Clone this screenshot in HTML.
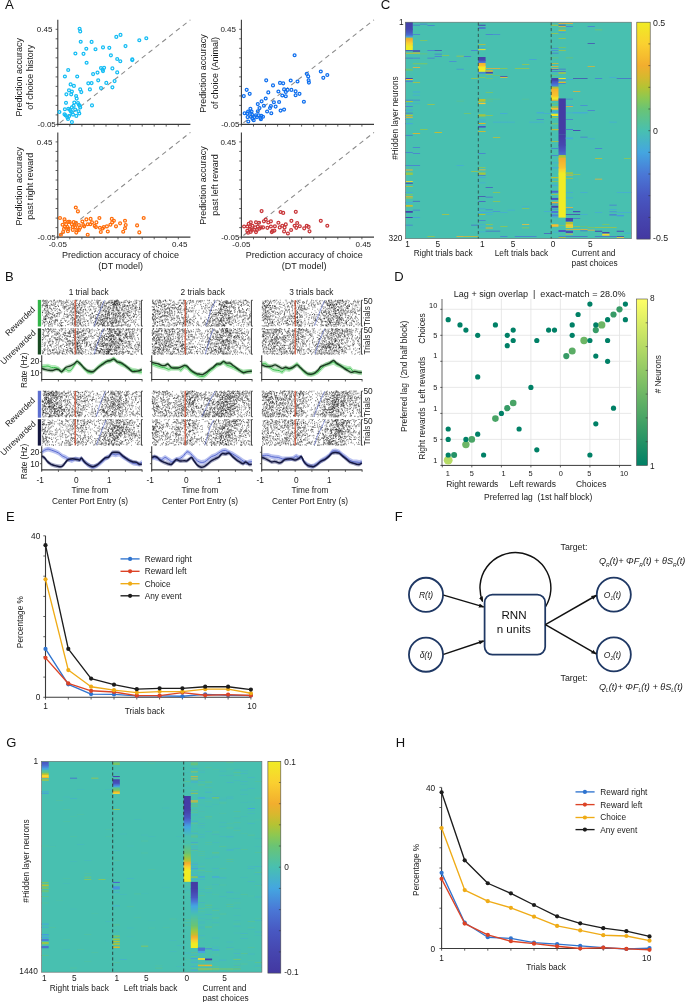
<!DOCTYPE html>
<html><head><meta charset="utf-8"><title>Figure</title>
<style>
html,body{margin:0;padding:0;background:#fff;}
svg{display:block;will-change:transform;font-family:"Liberation Sans",sans-serif;}
text{stroke:#1a1a1a;stroke-width:0;}
</style></head><body>
<svg width="685" height="1002" viewBox="0 0 685 1002">
<rect width="685" height="1002" fill="#fff"/>
<text x="4.9" y="9.3" font-size="13.2" text-anchor="start" fill="#111" stroke-width="0.3">A</text>
<line x1="59.8" y1="122.8" x2="190.4" y2="19.8" stroke="#8a8a8a" stroke-width="1.05" stroke-dasharray="4.8 3.9"/>
<line x1="57.8" y1="19.8" x2="57.8" y2="124.9" stroke="#3a3a3a" stroke-width="1.1"/>
<line x1="57.3" y1="124.4" x2="190.4" y2="124.4" stroke="#3a3a3a" stroke-width="1.1"/>
<path d="M57.8 124.4h-2.2M57.8 114.9h-2.2M57.8 105.4h-2.2M57.8 95.9h-2.2M57.8 86.4h-2.2M57.8 76.9h-2.2M57.8 67.3h-2.2M57.8 57.8h-2.2M57.8 48.3h-2.2M57.8 38.8h-2.2M57.8 29.3h-2.2M57.8 124.4v2.2M69.8 124.4v2.2M81.9 124.4v2.2M94 124.4v2.2M106 124.4v2.2M118 124.4v2.2M130.1 124.4v2.2M142.2 124.4v2.2M154.2 124.4v2.2M166.2 124.4v2.2M178.3 124.4v2.2" stroke="#3a3a3a" stroke-width="0.8" fill="none"/>
<text x="52.4" y="32.2" font-size="8.0" text-anchor="end" fill="#1a1a1a" stroke-width="0.3">0.45</text>
<text x="55.8" y="127.1" font-size="8.0" text-anchor="end" fill="#1a1a1a" stroke-width="0.3">-0.05</text>
<line x1="243.4" y1="122.8" x2="374" y2="19.8" stroke="#8a8a8a" stroke-width="1.05" stroke-dasharray="4.8 3.9"/>
<line x1="241.4" y1="19.8" x2="241.4" y2="124.9" stroke="#3a3a3a" stroke-width="1.1"/>
<line x1="240.9" y1="124.4" x2="374" y2="124.4" stroke="#3a3a3a" stroke-width="1.1"/>
<path d="M241.4 124.4h-2.2M241.4 114.9h-2.2M241.4 105.4h-2.2M241.4 95.9h-2.2M241.4 86.4h-2.2M241.4 76.9h-2.2M241.4 67.3h-2.2M241.4 57.8h-2.2M241.4 48.3h-2.2M241.4 38.8h-2.2M241.4 29.3h-2.2M241.4 124.4v2.2M253.5 124.4v2.2M265.5 124.4v2.2M277.6 124.4v2.2M289.6 124.4v2.2M301.6 124.4v2.2M313.7 124.4v2.2M325.8 124.4v2.2M337.8 124.4v2.2M349.9 124.4v2.2M361.9 124.4v2.2" stroke="#3a3a3a" stroke-width="0.8" fill="none"/>
<text x="236" y="32.2" font-size="8.0" text-anchor="end" fill="#1a1a1a" stroke-width="0.3">0.45</text>
<text x="239.4" y="127.1" font-size="8.0" text-anchor="end" fill="#1a1a1a" stroke-width="0.3">-0.05</text>
<line x1="59.8" y1="235.5" x2="190.4" y2="132.4" stroke="#8a8a8a" stroke-width="1.05" stroke-dasharray="4.8 3.9"/>
<line x1="57.8" y1="132.4" x2="57.8" y2="237.6" stroke="#3a3a3a" stroke-width="1.1"/>
<line x1="57.3" y1="237.1" x2="190.4" y2="237.1" stroke="#3a3a3a" stroke-width="1.1"/>
<path d="M57.8 237.1h-2.2M57.8 227.6h-2.2M57.8 218.1h-2.2M57.8 208.5h-2.2M57.8 199h-2.2M57.8 189.5h-2.2M57.8 180h-2.2M57.8 170.5h-2.2M57.8 161h-2.2M57.8 151.4h-2.2M57.8 141.9h-2.2M57.8 237.1v2.2M69.8 237.1v2.2M81.9 237.1v2.2M94 237.1v2.2M106 237.1v2.2M118 237.1v2.2M130.1 237.1v2.2M142.2 237.1v2.2M154.2 237.1v2.2M166.2 237.1v2.2M178.3 237.1v2.2" stroke="#3a3a3a" stroke-width="0.8" fill="none"/>
<text x="52.4" y="144.8" font-size="8.0" text-anchor="end" fill="#1a1a1a" stroke-width="0.3">0.45</text>
<text x="55.8" y="239.8" font-size="8.0" text-anchor="end" fill="#1a1a1a" stroke-width="0.3">-0.05</text>
<text x="57.8" y="247" font-size="8.0" text-anchor="middle" fill="#1a1a1a" stroke-width="0.3">-0.05</text>
<text x="179.7" y="247" font-size="8.0" text-anchor="middle" fill="#1a1a1a" stroke-width="0.3">0.45</text>
<text x="120.6" y="258.3" font-size="9" text-anchor="middle" fill="#1a1a1a" stroke-width="0.3">Prediction accuracy of choice</text>
<text x="120.6" y="268.6" font-size="9" text-anchor="middle" fill="#1a1a1a" stroke-width="0.3">(DT model)</text>
<line x1="243.4" y1="235.5" x2="374" y2="132.4" stroke="#8a8a8a" stroke-width="1.05" stroke-dasharray="4.8 3.9"/>
<line x1="241.4" y1="132.4" x2="241.4" y2="237.6" stroke="#3a3a3a" stroke-width="1.1"/>
<line x1="240.9" y1="237.1" x2="374" y2="237.1" stroke="#3a3a3a" stroke-width="1.1"/>
<path d="M241.4 237.1h-2.2M241.4 227.6h-2.2M241.4 218.1h-2.2M241.4 208.5h-2.2M241.4 199h-2.2M241.4 189.5h-2.2M241.4 180h-2.2M241.4 170.5h-2.2M241.4 161h-2.2M241.4 151.4h-2.2M241.4 141.9h-2.2M241.4 237.1v2.2M253.5 237.1v2.2M265.5 237.1v2.2M277.6 237.1v2.2M289.6 237.1v2.2M301.6 237.1v2.2M313.7 237.1v2.2M325.8 237.1v2.2M337.8 237.1v2.2M349.9 237.1v2.2M361.9 237.1v2.2" stroke="#3a3a3a" stroke-width="0.8" fill="none"/>
<text x="236" y="144.8" font-size="8.0" text-anchor="end" fill="#1a1a1a" stroke-width="0.3">0.45</text>
<text x="239.4" y="239.8" font-size="8.0" text-anchor="end" fill="#1a1a1a" stroke-width="0.3">-0.05</text>
<text x="241.4" y="247" font-size="8.0" text-anchor="middle" fill="#1a1a1a" stroke-width="0.3">-0.05</text>
<text x="363.3" y="247" font-size="8.0" text-anchor="middle" fill="#1a1a1a" stroke-width="0.3">0.45</text>
<text x="304.2" y="258.3" font-size="9" text-anchor="middle" fill="#1a1a1a" stroke-width="0.3">Prediction accuracy of choice</text>
<text x="304.2" y="268.6" font-size="9" text-anchor="middle" fill="#1a1a1a" stroke-width="0.3">(DT model)</text>
<text x="21.7" y="77.3" font-size="9" text-anchor="middle" fill="#1a1a1a" transform="rotate(-90 21.7 77.3)" stroke-width="0.3">Prediction accuracy</text>
<text x="33.4" y="77.3" font-size="9" text-anchor="middle" fill="#1a1a1a" transform="rotate(-90 33.4 77.3)" stroke-width="0.3">of choice history</text>
<text x="21.7" y="186.2" font-size="9" text-anchor="middle" fill="#1a1a1a" transform="rotate(-90 21.7 186.2)" stroke-width="0.3">Prediction accuracy</text>
<text x="33.4" y="186.2" font-size="9" text-anchor="middle" fill="#1a1a1a" transform="rotate(-90 33.4 186.2)" stroke-width="0.3">past right reward</text>
<text x="206.1" y="73.5" font-size="9" text-anchor="middle" fill="#1a1a1a" transform="rotate(-90 206.1 73.5)" stroke-width="0.3">Prediction accuracy</text>
<text x="217.7" y="73" font-size="9" text-anchor="middle" fill="#1a1a1a" transform="rotate(-90 217.7 73)" stroke-width="0.3">of choice (Animal)</text>
<text x="206.1" y="185.4" font-size="9" text-anchor="middle" fill="#1a1a1a" transform="rotate(-90 206.1 185.4)" stroke-width="0.3">Prediction accuracy</text>
<text x="217.7" y="185" font-size="9" text-anchor="middle" fill="#1a1a1a" transform="rotate(-90 217.7 185)" stroke-width="0.3">past left reward</text>
<g fill="none" stroke="#14bdf4" stroke-width="1.25"><circle cx="79.6" cy="28.8" r="1.45"/><circle cx="80.2" cy="31.4" r="1.45"/><circle cx="80.7" cy="41.7" r="1.45"/><circle cx="91.6" cy="41.9" r="1.45"/><circle cx="120.5" cy="34.9" r="1.45"/><circle cx="116.3" cy="36.9" r="1.45"/><circle cx="146.3" cy="38.2" r="1.45"/><circle cx="139.3" cy="40.2" r="1.45"/><circle cx="125.5" cy="46.1" r="1.45"/><circle cx="109.3" cy="47.8" r="1.45"/><circle cx="103" cy="47.4" r="1.45"/><circle cx="95.5" cy="49.2" r="1.45"/><circle cx="86.3" cy="48.7" r="1.45"/><circle cx="83.5" cy="53.8" r="1.45"/><circle cx="75.4" cy="53.5" r="1.45"/><circle cx="110.9" cy="55.3" r="1.45"/><circle cx="117.2" cy="59" r="1.45"/><circle cx="120.3" cy="61.2" r="1.45"/><circle cx="132.3" cy="59.4" r="1.45"/><circle cx="132.3" cy="60.1" r="1.45"/><circle cx="86.6" cy="62.7" r="1.45"/><circle cx="101" cy="68" r="1.45"/><circle cx="104.1" cy="67.8" r="1.45"/><circle cx="102.6" cy="69.7" r="1.45"/><circle cx="103" cy="71.1" r="1.45"/><circle cx="112.4" cy="68.4" r="1.45"/><circle cx="117.2" cy="72.4" r="1.45"/><circle cx="97.5" cy="72.6" r="1.45"/><circle cx="93.1" cy="74.1" r="1.45"/><circle cx="68.2" cy="70" r="1.45"/><circle cx="64.9" cy="76.5" r="1.45"/><circle cx="77.2" cy="76.5" r="1.45"/><circle cx="98.2" cy="80.3" r="1.45"/><circle cx="114.6" cy="81.1" r="1.45"/><circle cx="106.3" cy="82.9" r="1.45"/><circle cx="91.6" cy="83.1" r="1.45"/><circle cx="88.3" cy="83.3" r="1.45"/><circle cx="70.6" cy="84.4" r="1.45"/><circle cx="73.9" cy="85.9" r="1.45"/><circle cx="112.4" cy="87.3" r="1.45"/><circle cx="101" cy="88.1" r="1.45"/><circle cx="89.9" cy="89.4" r="1.45"/><circle cx="80.2" cy="89.4" r="1.45"/><circle cx="81.3" cy="92.1" r="1.45"/><circle cx="69" cy="90.3" r="1.45"/><circle cx="71.9" cy="91.6" r="1.45"/><circle cx="66.4" cy="94.3" r="1.45"/><circle cx="71.2" cy="94.3" r="1.45"/><circle cx="76.1" cy="96" r="1.45"/><circle cx="76.7" cy="98.6" r="1.45"/><circle cx="66" cy="102.8" r="1.45"/><circle cx="74.3" cy="102.6" r="1.45"/><circle cx="78" cy="103" r="1.45"/><circle cx="78.9" cy="104.8" r="1.45"/><circle cx="79.8" cy="105.7" r="1.45"/><circle cx="92" cy="105.4" r="1.45"/><circle cx="80.2" cy="107.4" r="1.45"/><circle cx="73.6" cy="105.9" r="1.45"/><circle cx="71.9" cy="107.4" r="1.45"/><circle cx="64.9" cy="109.2" r="1.45"/><circle cx="68.4" cy="108.7" r="1.45"/><circle cx="69.9" cy="109.8" r="1.45"/><circle cx="75.2" cy="109.6" r="1.45"/><circle cx="59.4" cy="112" r="1.45"/><circle cx="70.8" cy="111.3" r="1.45"/><circle cx="71.9" cy="112.2" r="1.45"/><circle cx="78.5" cy="111.3" r="1.45"/><circle cx="79.3" cy="113.5" r="1.45"/><circle cx="64.5" cy="114.2" r="1.45"/><circle cx="65.5" cy="115.3" r="1.45"/><circle cx="73" cy="114.6" r="1.45"/><circle cx="69.3" cy="115.9" r="1.45"/><circle cx="76.3" cy="115.9" r="1.45"/><circle cx="67.3" cy="117.3" r="1.45"/><circle cx="68" cy="119" r="1.45"/><circle cx="71.9" cy="122.1" r="1.45"/></g>
<g fill="none" stroke="#ff6d0a" stroke-width="1.25"><circle cx="75.8" cy="207.5" r="1.45"/><circle cx="77.9" cy="211.4" r="1.45"/><circle cx="60" cy="218" r="1.45"/><circle cx="143.7" cy="218" r="1.45"/><circle cx="99.4" cy="218" r="1.45"/><circle cx="90.6" cy="218.9" r="1.45"/><circle cx="86.4" cy="219.4" r="1.45"/><circle cx="111.8" cy="218.9" r="1.45"/><circle cx="113.9" cy="220.7" r="1.45"/><circle cx="125" cy="220.7" r="1.45"/><circle cx="82.4" cy="221.5" r="1.45"/><circle cx="64.5" cy="219.4" r="1.45"/><circle cx="64.9" cy="221.5" r="1.45"/><circle cx="68.4" cy="221.9" r="1.45"/><circle cx="69.6" cy="221.9" r="1.45"/><circle cx="73.7" cy="222.1" r="1.45"/><circle cx="75.9" cy="222.8" r="1.45"/><circle cx="92" cy="222.4" r="1.45"/><circle cx="96.4" cy="222.4" r="1.45"/><circle cx="112.2" cy="222.4" r="1.45"/><circle cx="120.1" cy="223.3" r="1.45"/><circle cx="62.6" cy="224.7" r="1.45"/><circle cx="66.1" cy="224.3" r="1.45"/><circle cx="71.9" cy="224.3" r="1.45"/><circle cx="74.5" cy="225" r="1.45"/><circle cx="78.9" cy="225" r="1.45"/><circle cx="83.3" cy="225" r="1.45"/><circle cx="87.7" cy="224.2" r="1.45"/><circle cx="90.3" cy="224.2" r="1.45"/><circle cx="110.4" cy="224.7" r="1.45"/><circle cx="125.7" cy="225" r="1.45"/><circle cx="137.1" cy="225.4" r="1.45"/><circle cx="94.7" cy="225.9" r="1.45"/><circle cx="95.9" cy="227.1" r="1.45"/><circle cx="116" cy="226.3" r="1.45"/><circle cx="103.8" cy="227.1" r="1.45"/><circle cx="106.9" cy="226.4" r="1.45"/><circle cx="64.9" cy="226.8" r="1.45"/><circle cx="67.5" cy="227.1" r="1.45"/><circle cx="72.8" cy="227.1" r="1.45"/><circle cx="75.4" cy="227.1" r="1.45"/><circle cx="80.1" cy="227.7" r="1.45"/><circle cx="84.2" cy="226.3" r="1.45"/><circle cx="99.9" cy="227.7" r="1.45"/><circle cx="102.6" cy="228.5" r="1.45"/><circle cx="125" cy="228.2" r="1.45"/><circle cx="64" cy="228.9" r="1.45"/><circle cx="68.4" cy="228.9" r="1.45"/><circle cx="72.8" cy="229.9" r="1.45"/><circle cx="77.2" cy="230.3" r="1.45"/><circle cx="78.9" cy="229.9" r="1.45"/><circle cx="63.1" cy="232" r="1.45"/><circle cx="67.9" cy="231.2" r="1.45"/><circle cx="100.8" cy="232" r="1.45"/><circle cx="107.8" cy="231.5" r="1.45"/><circle cx="123.2" cy="231.7" r="1.45"/><circle cx="139.3" cy="232.4" r="1.45"/><circle cx="76.3" cy="232.6" r="1.45"/><circle cx="60.9" cy="234.7" r="1.45"/><circle cx="87.7" cy="234.7" r="1.45"/></g>
<g fill="none" stroke="#0f6fee" stroke-width="1.25"><circle cx="294.6" cy="55.2" r="1.45"/><circle cx="320.8" cy="71.5" r="1.45"/><circle cx="327.3" cy="75" r="1.45"/><circle cx="323.3" cy="77.8" r="1.45"/><circle cx="306.8" cy="73.8" r="1.45"/><circle cx="308.2" cy="76.4" r="1.45"/><circle cx="308.6" cy="80.3" r="1.45"/><circle cx="308.9" cy="82.6" r="1.45"/><circle cx="266.2" cy="80.3" r="1.45"/><circle cx="290.7" cy="80.5" r="1.45"/><circle cx="297.5" cy="81.5" r="1.45"/><circle cx="280" cy="82.9" r="1.45"/><circle cx="283.2" cy="83.3" r="1.45"/><circle cx="273" cy="85.4" r="1.45"/><circle cx="246.7" cy="89.8" r="1.45"/><circle cx="284.1" cy="89.4" r="1.45"/><circle cx="287.6" cy="89.9" r="1.45"/><circle cx="291.4" cy="89.9" r="1.45"/><circle cx="268.3" cy="92.4" r="1.45"/><circle cx="278.4" cy="91.5" r="1.45"/><circle cx="285.8" cy="92" r="1.45"/><circle cx="295.6" cy="91.3" r="1.45"/><circle cx="249.7" cy="93.8" r="1.45"/><circle cx="299.5" cy="93.8" r="1.45"/><circle cx="243.8" cy="96.1" r="1.45"/><circle cx="282.3" cy="95.5" r="1.45"/><circle cx="285.8" cy="96.2" r="1.45"/><circle cx="295.6" cy="95.2" r="1.45"/><circle cx="265.7" cy="98.5" r="1.45"/><circle cx="261.6" cy="101.3" r="1.45"/><circle cx="273.9" cy="102.2" r="1.45"/><circle cx="279.1" cy="102" r="1.45"/><circle cx="303.9" cy="101.7" r="1.45"/><circle cx="257.8" cy="104.1" r="1.45"/><circle cx="263.9" cy="105.7" r="1.45"/><circle cx="270.9" cy="106" r="1.45"/><circle cx="275.6" cy="106.6" r="1.45"/><circle cx="259.5" cy="108" r="1.45"/><circle cx="270" cy="108" r="1.45"/><circle cx="250.4" cy="108.7" r="1.45"/><circle cx="284.1" cy="109.6" r="1.45"/><circle cx="280.6" cy="110.6" r="1.45"/><circle cx="257.8" cy="111.3" r="1.45"/><circle cx="267.1" cy="111.5" r="1.45"/><circle cx="248.1" cy="111.5" r="1.45"/><circle cx="251.6" cy="111.5" r="1.45"/><circle cx="244.6" cy="113.2" r="1.45"/><circle cx="247.3" cy="113.6" r="1.45"/><circle cx="249.9" cy="112.7" r="1.45"/><circle cx="271.3" cy="113.2" r="1.45"/><circle cx="252.5" cy="115" r="1.45"/><circle cx="256" cy="115.3" r="1.45"/><circle cx="258.7" cy="115.3" r="1.45"/><circle cx="261.3" cy="115.7" r="1.45"/><circle cx="263" cy="116.7" r="1.45"/><circle cx="247.6" cy="117.1" r="1.45"/><circle cx="250.8" cy="116.7" r="1.45"/><circle cx="254.3" cy="117.1" r="1.45"/><circle cx="256.9" cy="117.1" r="1.45"/><circle cx="260.4" cy="118" r="1.45"/><circle cx="252.5" cy="118.8" r="1.45"/><circle cx="260.9" cy="119.2" r="1.45"/><circle cx="253.7" cy="120.2" r="1.45"/><circle cx="248.3" cy="121.5" r="1.45"/></g>
<g fill="none" stroke="#c8373a" stroke-width="1.25"><circle cx="261.6" cy="211.1" r="1.45"/><circle cx="280.6" cy="212" r="1.45"/><circle cx="283.2" cy="212.9" r="1.45"/><circle cx="295.8" cy="211.8" r="1.45"/><circle cx="320.8" cy="220.8" r="1.45"/><circle cx="327.3" cy="225.7" r="1.45"/><circle cx="265.7" cy="219.5" r="1.45"/><circle cx="263.9" cy="221.3" r="1.45"/><circle cx="270.9" cy="221.3" r="1.45"/><circle cx="291.4" cy="220.8" r="1.45"/><circle cx="256" cy="222.2" r="1.45"/><circle cx="259" cy="222.7" r="1.45"/><circle cx="250.8" cy="222.2" r="1.45"/><circle cx="248.7" cy="223.9" r="1.45"/><circle cx="268.3" cy="222.5" r="1.45"/><circle cx="278.4" cy="222.7" r="1.45"/><circle cx="285.8" cy="224.4" r="1.45"/><circle cx="297.2" cy="223" r="1.45"/><circle cx="244.1" cy="226.5" r="1.45"/><circle cx="247.3" cy="226.5" r="1.45"/><circle cx="249.9" cy="226.2" r="1.45"/><circle cx="252.5" cy="225.7" r="1.45"/><circle cx="255.1" cy="227.4" r="1.45"/><circle cx="257.8" cy="226.5" r="1.45"/><circle cx="260.9" cy="227.4" r="1.45"/><circle cx="263" cy="227.4" r="1.45"/><circle cx="267.4" cy="227.8" r="1.45"/><circle cx="270.9" cy="226.5" r="1.45"/><circle cx="274.9" cy="226.2" r="1.45"/><circle cx="279.7" cy="227.4" r="1.45"/><circle cx="282.3" cy="225.7" r="1.45"/><circle cx="284.6" cy="227.4" r="1.45"/><circle cx="294.6" cy="225.7" r="1.45"/><circle cx="296.3" cy="227.8" r="1.45"/><circle cx="299.8" cy="226.2" r="1.45"/><circle cx="304.2" cy="228.3" r="1.45"/><circle cx="306.8" cy="225.7" r="1.45"/><circle cx="308.6" cy="226.9" r="1.45"/><circle cx="249.9" cy="229.2" r="1.45"/><circle cx="251.6" cy="230" r="1.45"/><circle cx="247.3" cy="230.9" r="1.45"/><circle cx="254.3" cy="229.7" r="1.45"/><circle cx="256.9" cy="230" r="1.45"/><circle cx="259.5" cy="228.6" r="1.45"/><circle cx="272.7" cy="230.9" r="1.45"/><circle cx="274.4" cy="230.6" r="1.45"/><circle cx="291.1" cy="230" r="1.45"/><circle cx="309.5" cy="231.3" r="1.45"/><circle cx="248.1" cy="232.7" r="1.45"/><circle cx="250.8" cy="231.8" r="1.45"/><circle cx="256" cy="232.1" r="1.45"/><circle cx="284.1" cy="231.4" r="1.45"/><circle cx="287.9" cy="233.5" r="1.45"/><circle cx="271.8" cy="232.1" r="1.45"/></g>
<text x="5" y="280.8" font-size="13" text-anchor="start" fill="#111" stroke-width="0.2">B</text>
<text x="88.7" y="294.9" font-size="8.3" text-anchor="middle" fill="#1a1a1a" stroke-width="0.2">1 trial back</text>
<path transform="translate(41.7 299.9)" d="M1 .3h.8m-.5 0h.8m2.6 0h.8m6.4 0h.8m-.6 0h.8m-.7 0h.8m4.6 0h.8m6.1 0h.8m-.6 0h.8m1.2 0h.8m5.5 0h.8m0 0h.8m-.5 0h.8m.8 0h.8m1.9 0h.8m5.6 0h.8m4.2 0h.8m1.8 0h.8m1.7 0h.8m-.1 0h.8m2.1 0h.8m9.6 0h.8m1.1 0h.8m2.5 0h.8m-.1 0h.8m-.2 0h.8m-.7 0h.8m8.3 0h.8m7.5 0h.8m.9 0h.8M.7 .8h.8m1.4 0h.8m-.3 0h.8m.9 0h.8m2.7 0h.8m2.4 0h.8m2.5 0h.8m1.2 0h.8m.9 0h.8m-.5 0h.8m11 0h.8m2.9 0h.8m3.2 0h.8m2.3 0h.8m.8 0h.8m-.3 0h.8m5.5 0h.8m3.1 0h.8m2 0h.8m-.8 0h.8m-.2 0h.8m9.4 0h.8m.7 0h.8m.1 0h.8m1.5 0h.8m1.4 0h.8m1.2 0h.8m5.6 0h.8m0 0h.8m2.7 0h.8m6.9 0h.8m1.2 0h.8M.2 1.3h.8m1.1 0h.8m-.4 0h.8m.6 0h.8m2.9 0h.8m.8 0h.8m-.4 0h.8m6.6 0h.8m.2 0h.8m2.6 0h.8m3.4 0h.8m1.9 0h.8m5.3 0h.8m2.4 0h.8m-.3 0h.8m7.6 0h.8m-.2 0h.8m15.2 0h.8m2.6 0h.8m.6 0h.8m3.8 0h.8m0 0h.8m-.6 0h.8m-.6 0h.8m0 0h.8m.3 0h.8m-.4 0h.8m5.2 0h.8m2.9 0h.8m6.6 0h.8m.2 0h.8M1.1 1.9h.8m1.9 0h.8m1.2 0h.8m5.1 0h.8m1.4 0h.8m.7 0h.8m1.6 0h.8m1.1 0h.8m.1 0h.8m1.5 0h.8m.9 0h.8m4.6 0h.8m9.6 0h.8m.6 0h.8m.8 0h.8m4.9 0h.8m4.5 0h.8m.4 0h.8m-.4 0h.8m4.1 0h.8m8.2 0h.8m1.4 0h.8m-.2 0h.8m-.6 0h.8m-.4 0h.8m.6 0h.8m-.8 0h.8m-.8 0h.8m.7 0h.8m.7 0h.8m6.8 0h.8m1.9 0h.8m.2 0h.8m-.6 0h.8m1.7 0h.8m4.9 0h.8m-.1 0h.8M3.7 2.4h.8m.1 0h.8m.7 0h.8m-.5 0h.8m2.6 0h.8m3.3 0h.8m9.6 0h.8m.3 0h.8m6.3 0h.8m.4 0h.8m4.8 0h.8m2 0h.8m1.2 0h.8m3.3 0h.8m6.9 0h.8m-.6 0h.8m2.6 0h.8m1.3 0h.8m.4 0h.8m1.4 0h.8m.6 0h.8m-.7 0h.8m0 0h.8m-.7 0h.8m1.3 0h.8m-.1 0h.8m-.6 0h.8m.7 0h.8m-.1 0h.8m5.7 0h.8m-.5 0h.8m.8 0h.8m-.7 0h.8m.8 0h.8m-.8 0h.8m.2 0h.8m2.1 0h.8m-.2 0h.8m-.7 0h.8m-.7 0h.8m6.5 0h.8M1.9 2.9h.8m10.3 0h.8m2.8 0h.8m1.7 0h.8m1.7 0h.8m.9 0h.8m-.6 0h.8m2.3 0h.8m2.2 0h.8m-.6 0h.8m6.8 0h.8m1.5 0h.8m-.1 0h.8m3.3 0h.8m.9 0h.8m4.7 0h.8m1.5 0h.8m.6 0h.8m2.4 0h.8m-.3 0h.8m1.7 0h.8m3 0h.8m2 0h.8m.6 0h.8m-.2 0h.8m.7 0h.8m.5 0h.8m-.7 0h.8m1 0h.8m.3 0h.8m-.3 0h.8m0 0h.8m-.3 0h.8m1.1 0h.8m6.1 0h.8m6.5 0h.8m-.1 0h.8M1.3 3.5h.8m.2 0h.8m0 0h.8m.9 0h.8m5.7 0h.8m1 0h.8m5.7 0h.8m-.4 0h.8m1.4 0h.8m12.2 0h.8m1.5 0h.8m3.3 0h.8m2.9 0h.8m3.2 0h.8m5.2 0h.8m6.8 0h.8m.4 0h.8m-.2 0h.8m-.7 0h.8m.4 0h.8m2.8 0h.8m1.8 0h.8m-.7 0h.8m1.3 0h.8m-.4 0h.8m-.3 0h.8m10.4 0h.8m3.8 0h.8m.5 0h.8m.5 0h.8m-.1 0h.8M3.9 4h.8m.9 0h.8m2.5 0h.8m18.5 0h.8m1.7 0h.8m-.2 0h.8m-.7 0h.8m.9 0h.8m.5 0h.8m2.1 0h.8m-.3 0h.8m1.8 0h.8m2.9 0h.8m2.4 0h.8m2.5 0h.8m4.4 0h.8m0 0h.8m1.3 0h.8m.2 0h.8m.2 0h.8m.7 0h.8m5 0h.8m3 0h.8m-.7 0h.8m-.7 0h.8m-.8 0h.8m1.2 0h.8m.2 0h.8m-.5 0h.8m1.6 0h.8m-.6 0h.8m2.9 0h.8m5.1 0h.8m9.4 0h.8m-.5 0h.8M.8 4.5h.8m8 0h.8m-.6 0h.8m.5 0h.8m.8 0h.8m-.2 0h.8m5 0h.8m1.2 0h.8m2.3 0h.8m4.5 0h.8m.2 0h.8m5 0h.8m-.7 0h.8m4.3 0h.8m0 0h.8m-.4 0h.8m9.4 0h.8m1.9 0h.8m1.9 0h.8m1.4 0h.8m3 0h.8m5.4 0h.8m-.3 0h.8m-.7 0h.8m.2 0h.8m-.6 0h.8m.5 0h.8m-.8 0h.8m-.6 0h.8m1 0h.8m.3 0h.8m-.3 0h.8m-.8 0h.8m-.5 0h.8m4 0h.8m7.2 0h.8m1.7 0h.8M.6 5.1h.8m.2 0h.8m.8 0h.8m.2 0h.8m-.1 0h.8m-.5 0h.8m3.2 0h.8m5.8 0h.8m8.2 0h.8m2.3 0h.8m2.6 0h.8m7.4 0h.8m2.9 0h.8m4.2 0h.8m.5 0h.8m7.7 0h.8m2.6 0h.8m-.1 0h.8m4.1 0h.8m2.8 0h.8m-.3 0h.8m-.6 0h.8m1.2 0h.8m-.7 0h.8m1.2 0h.8m1.2 0h.8m2 0h.8m-.2 0h.8m1.6 0h.8m3.9 0h.8m1.2 0h.8m-.1 0h.8m5.7 0h.8M0 5.6h.8m1 0h.8m1.6 0h.8m0 0h.8m-.7 0h.8m1.1 0h.8m2.4 0h.8m.7 0h.8m3.4 0h.8m2.3 0h.8m1 0h.8m4.3 0h.8m1.3 0h.8m4.5 0h.8m.4 0h.8m.8 0h.8m.4 0h.8m-.3 0h.8m18.1 0h.8m5.1 0h.8m.2 0h.8m-.5 0h.8m3.8 0h.8m0 0h.8m1.7 0h.8m-.3 0h.8m.7 0h.8m.2 0h.8m.6 0h.8m1.3 0h.8m3.4 0h.8m.7 0h.8m.5 0h.8m-.4 0h.8m.6 0h.8m.1 0h.8m2.9 0h.8M.4 6.1h.8m1.1 0h.8m.4 0h.8m.4 0h.8m1.8 0h.8m.3 0h.8m3.2 0h.8m8.5 0h.8m1.3 0h.8m1.5 0h.8m3.7 0h.8m.4 0h.8m-.2 0h.8m1.5 0h.8m-.7 0h.8m4.2 0h.8m.2 0h.8m.6 0h.8m6.7 0h.8m6.4 0h.8m.9 0h.8m-.8 0h.8m2.9 0h.8m11.4 0h.8m6.5 0h.8m.4 0h.8m1.3 0h.8m-.3 0h.8m4.3 0h.8m-.5 0h.8m1.6 0h.8m0 0h.8m2.9 0h.8M3.6 6.6h.8m.8 0h.8m7.2 0h.8m-.6 0h.8m.3 0h.8m1.1 0h.8m-.7 0h.8m4.8 0h.8m.7 0h.8m.3 0h.8m7.2 0h.8m-.6 0h.8m3.4 0h.8m5.1 0h.8m3.6 0h.8m.7 0h.8m1.1 0h.8m1.2 0h.8m2.3 0h.8m4.2 0h.8m1.3 0h.8m.7 0h.8m1 0h.8m.6 0h.8m3 0h.8m.1 0h.8m3.8 0h.8m2.7 0h.8m.3 0h.8m.1 0h.8m-.6 0h.8m1.4 0h.8m1.1 0h.8m4.2 0h.8M.1 7.2h.8m2.9 0h.8m.7 0h.8m14.2 0h.8m.9 0h.8m-.8 0h.8m-.2 0h.8m.5 0h.8m3.4 0h.8m0 0h.8m7.4 0h.8m7.9 0h.8m.6 0h.8m3.2 0h.8m5.5 0h.8m1.9 0h.8m-.5 0h.8m2.4 0h.8m1.2 0h.8m4 0h.8m0 0h.8m-.3 0h.8m1.1 0h.8m-.2 0h.8m-.4 0h.8m-.7 0h.8m2.6 0h.8m2.6 0h.8m2.3 0h.8m3.5 0h.8m.5 0h.8m2.3 0h.8m.4 0h.8m1.9 0h.8M4.9 7.7h.8m-.2 0h.8m1.4 0h.8m14.5 0h.8m4 0h.8m2.3 0h.8m-.5 0h.8m.9 0h.8m1.2 0h.8m-.3 0h.8m-.4 0h.8m2.5 0h.8m-.2 0h.8m-.7 0h.8m2 0h.8m13.4 0h.8m.9 0h.8m1 0h.8m5.5 0h.8m-.6 0h.8m-.7 0h.8m.6 0h.8m3.1 0h.8m1.3 0h.8m2.2 0h.8m2.5 0h.8m5.1 0h.8m1.7 0h.8m3.5 0h.8m1.2 0h.8m1.2 0h.8m-.5 0h.8M7.6 8.2h.8m-.2 0h.8m2.5 0h.8m.8 0h.8m7.3 0h.8m.9 0h.8m2.9 0h.8m-.3 0h.8m2.1 0h.8m1.9 0h.8m2.3 0h.8m2.1 0h.8m12.3 0h.8m1.5 0h.8m3.1 0h.8m-.2 0h.8m-.5 0h.8m1.3 0h.8m.6 0h.8m.4 0h.8m.5 0h.8m3.1 0h.8m2.1 0h.8m1.5 0h.8m.6 0h.8m1.8 0h.8m.4 0h.8m-.1 0h.8m2.6 0h.8m4 0h.8m-.5 0h.8m3.2 0h.8m-.2 0h.8m-.5 0h.8m.1 0h.8M2.2 8.8h.8m-.4 0h.8m.4 0h.8m1.3 0h.8m1.4 0h.8m.1 0h.8m1.8 0h.8m.3 0h.8m1.9 0h.8m6 0h.8m3.2 0h.8m.6 0h.8m2.4 0h.8m-.4 0h.8m.2 0h.8m1.6 0h.8m3.8 0h.8m13.8 0h.8m10.9 0h.8m1.8 0h.8m-.4 0h.8m.7 0h.8m.1 0h.8m.1 0h.8m1.8 0h.8m-.3 0h.8m6.6 0h.8m3.5 0h.8m3.3 0h.8m2.1 0h.8m3.5 0h.8M9.4 9.3h.8m4.3 0h.8m2.2 0h.8m3.8 0h.8m1.5 0h.8m5 0h.8m2.1 0h.8m1.2 0h.8m2.3 0h.8m-.5 0h.8m3.8 0h.8m-.7 0h.8m2.7 0h.8m.6 0h.8m-.3 0h.8m2.4 0h.8m.4 0h.8m9.1 0h.8m2 0h.8m.1 0h.8m6.3 0h.8m2.5 0h.8m1.9 0h.8m-.3 0h.8m-.4 0h.8m2.7 0h.8m-.7 0h.8m4.6 0h.8m1.4 0h.8m4.7 0h.8m-.7 0h.8m-.2 0h.8M2.4 9.8h.8m-.6 0h.8m2.4 0h.8m3.1 0h.8m6.4 0h.8m7.8 0h.8m-.3 0h.8m3.2 0h.8m3 0h.8m3.2 0h.8m-.4 0h.8m2.2 0h.8m-.8 0h.8m-.3 0h.8m1.1 0h.8m4.3 0h.8m7.7 0h.8m.7 0h.8m3.1 0h.8m4.1 0h.8m2.7 0h.8m2.7 0h.8m.2 0h.8m3.3 0h.8m5.4 0h.8m-.4 0h.8m3 0h.8m3.3 0h.8m1.1 0h.8M.9 10.4h.8m2.2 0h.8m5.5 0h.8m2.2 0h.8m3.4 0h.8m-.1 0h.8m14.2 0h.8m-.6 0h.8m0 0h.8m4.4 0h.8m3.5 0h.8m4.4 0h.8m6.8 0h.8m1.1 0h.8m.6 0h.8m.3 0h.8m-.4 0h.8m-.6 0h.8m-.5 0h.8m1.7 0h.8m1.9 0h.8m1.7 0h.8m.5 0h.8m-.7 0h.8m0 0h.8m-.8 0h.8m1.6 0h.8m.2 0h.8m-.4 0h.8m-.2 0h.8m-.2 0h.8m2.3 0h.8m1 0h.8m.2 0h.8m10 0h.8m.2 0h.8M2 10.9h.8m.8 0h.8m1.2 0h.8m-.6 0h.8m6.3 0h.8m4.7 0h.8m4.9 0h.8m3.5 0h.8m0 0h.8m3.5 0h.8m1.6 0h.8m1.6 0h.8m1.7 0h.8m3.2 0h.8m1.8 0h.8m4.9 0h.8m-.2 0h.8m8.9 0h.8m-.2 0h.8m1.9 0h.8m3 0h.8m5.2 0h.8m-.3 0h.8m0 0h.8m1.5 0h.8m3.1 0h.8m2.3 0h.8m0 0h.8m3.2 0h.8M4.3 11.4h.8m.8 0h.8m2.3 0h.8m5.4 0h.8m9.3 0h.8m3.4 0h.8m.8 0h.8m1.2 0h.8m-.3 0h.8m.4 0h.8m-.7 0h.8m.9 0h.8m-.4 0h.8m3.1 0h.8m11.6 0h.8m3.9 0h.8m2.9 0h.8m.5 0h.8m.7 0h.8m-.4 0h.8m.4 0h.8m4.9 0h.8m.2 0h.8m11.9 0h.8m.3 0h.8m1.8 0h.8m3.1 0h.8m2.1 0h.8M.7 12h.8m5 0h.8m12.4 0h.8m2 0h.8m5.1 0h.8m2.6 0h.8m1.3 0h.8m-.2 0h.8m5.9 0h.8m10.3 0h.8m-.6 0h.8m1.9 0h.8m2.8 0h.8m.5 0h.8m1.7 0h.8m.1 0h.8m1.9 0h.8m-.5 0h.8m-.1 0h.8m.9 0h.8m6.1 0h.8m-.4 0h.8m4.2 0h.8m.7 0h.8m1.9 0h.8m-.1 0h.8m-.7 0h.8m2.8 0h.8m2.6 0h.8m2.8 0h.8m.5 0h.8M.3 12.5h.8m-.8 0h.8m2 0h.8m.3 0h.8m1 0h.8m-.4 0h.8m.2 0h.8m2.6 0h.8m6.3 0h.8m9 0h.8m1.8 0h.8m.2 0h.8m3.4 0h.8m-.3 0h.8m.9 0h.8m2.2 0h.8m2.3 0h.8m.7 0h.8m3.9 0h.8m15.2 0h.8m.5 0h.8m3.1 0h.8m3 0h.8m1.3 0h.8m-.1 0h.8m.3 0h.8m4.4 0h.8m2.3 0h.8m-.1 0h.8M.6 13h.8m10.1 0h.8m3.6 0h.8m-.2 0h.8m-.1 0h.8m.9 0h.8m9.8 0h.8m1.5 0h.8m2.1 0h.8m.8 0h.8m-.5 0h.8m.4 0h.8m0 0h.8m.1 0h.8m5.9 0h.8m10.5 0h.8m.5 0h.8m3.8 0h.8m-.1 0h.8m1.3 0h.8m.5 0h.8m1.1 0h.8m-.2 0h.8m-.4 0h.8m1.9 0h.8m4.3 0h.8m2.9 0h.8m.8 0h.8m2.8 0h.8m1 0h.8m3.6 0h.8m2.7 0h.8M3.1 13.6h.8m.9 0h.8m.2 0h.8m1 0h.8m.1 0h.8m4.9 0h.8m-.1 0h.8m-.4 0h.8m1.7 0h.8m3.9 0h.8m11 0h.8m1.4 0h.8m-.3 0h.8m5.6 0h.8m5.6 0h.8m-.4 0h.8m-.4 0h.8m6.2 0h.8m6.9 0h.8m-.3 0h.8m.1 0h.8m-.7 0h.8m1.8 0h.8m3.3 0h.8m.3 0h.8m.8 0h.8m-.4 0h.8m-.7 0h.8m-.5 0h.8m.4 0h.8m2.7 0h.8m1.4 0h.8m.3 0h.8m-.1 0h.8m5 0h.8M6.4 14.1h.8m1.6 0h.8m.1 0h.8m-.2 0h.8m4.6 0h.8m5.6 0h.8m2 0h.8m1.4 0h.8m2.5 0h.8m6.7 0h.8m2.1 0h.8m1.2 0h.8m6.6 0h.8m5.5 0h.8m-.6 0h.8m3.5 0h.8m1.6 0h.8m5.1 0h.8m1.2 0h.8m-.1 0h.8m-.7 0h.8m1.3 0h.8m5.8 0h.8m-.7 0h.8m-.5 0h.8m-.5 0h.8m0 0h.8m1.4 0h.8m6.1 0h.8m1 0h.8M4.7 14.6h.8m.5 0h.8m3.7 0h.8m1.4 0h.8m3.8 0h.8m4.5 0h.8m.3 0h.8m.5 0h.8m2.7 0h.8m19 0h.8m4.8 0h.8m0 0h.8m-.7 0h.8m0 0h.8m3 0h.8m0 0h.8m-.7 0h.8m2 0h.8m-.6 0h.8m-.1 0h.8m.8 0h.8m-.4 0h.8m.4 0h.8m1 0h.8m1.1 0h.8m-.3 0h.8m.9 0h.8m.7 0h.8m2.1 0h.8m2.2 0h.8m3.8 0h.8m6.7 0h.8m0 0h.8m.1 0h.8m2.6 0h.8M.4 15.2h.8m2.9 0h.8m-.3 0h.8m-.6 0h.8m1.5 0h.8m3.1 0h.8m.5 0h.8m2.5 0h.8m8.6 0h.8m1.7 0h.8m2.4 0h.8m-.2 0h.8m-.5 0h.8m.9 0h.8m0 0h.8m3.6 0h.8m2.3 0h.8m1.7 0h.8m2.9 0h.8m.3 0h.8m10.5 0h.8m2 0h.8m1.5 0h.8m.9 0h.8m-.6 0h.8m5.1 0h.8m1.5 0h.8m.4 0h.8m1.5 0h.8m1.9 0h.8m.2 0h.8m1.7 0h.8m.8 0h.8m1 0h.8m7.1 0h.8M3.2 15.7h.8m7.7 0h.8m0 0h.8m13.2 0h.8m1.5 0h.8m-.3 0h.8m4.3 0h.8m.5 0h.8m-.1 0h.8m1.8 0h.8m-.1 0h.8m.2 0h.8m3 0h.8m1.3 0h.8m4.3 0h.8m-.7 0h.8m3.3 0h.8m-.4 0h.8m.4 0h.8m.9 0h.8m1.6 0h.8m3.3 0h.8m-.6 0h.8m.5 0h.8m3.7 0h.8m.7 0h.8m-.6 0h.8m.5 0h.8m1.2 0h.8m3 0h.8m-.5 0h.8m1.1 0h.8m1.7 0h.8m-.2 0h.8m.7 0h.8m-.4 0h.8m4 0h.8M3.5 16.2h.8m-.2 0h.8m.4 0h.8m7.9 0h.8m-.7 0h.8m-.4 0h.8m2 0h.8m3.5 0h.8m3.2 0h.8m7.7 0h.8m.5 0h.8m10.8 0h.8m5.5 0h.8m4.4 0h.8m.6 0h.8m.4 0h.8m-.1 0h.8m1 0h.8m-.6 0h.8m2.8 0h.8m2 0h.8m.5 0h.8m1.5 0h.8m2.5 0h.8m.2 0h.8m-.2 0h.8m-.7 0h.8m2.6 0h.8m2.9 0h.8m4 0h.8m.5 0h.8m2.3 0h.8M1.9 16.8h.8m.4 0h.8m-.1 0h.8m.6 0h.8m3.6 0h.8m-.6 0h.8m1.7 0h.8m2.6 0h.8m6.6 0h.8m1.5 0h.8m-.1 0h.8m2.9 0h.8m4.1 0h.8m.6 0h.8m.6 0h.8m0 0h.8m1.9 0h.8m7.1 0h.8m1.7 0h.8m9.5 0h.8m.5 0h.8m1.3 0h.8m7.4 0h.8m1.2 0h.8m-.5 0h.8m.2 0h.8m2.3 0h.8m.9 0h.8m-.8 0h.8m4.2 0h.8m4.2 0h.8m-.5 0h.8m-.5 0h.8M2 17.3h.8m3.9 0h.8m1.3 0h.8m1.2 0h.8m1.5 0h.8m10.5 0h.8m-.2 0h.8m8.3 0h.8m-.7 0h.8m.4 0h.8m12.8 0h.8m.4 0h.8m.1 0h.8m-.7 0h.8m1.8 0h.8m2.2 0h.8m1.5 0h.8m-.2 0h.8m2.7 0h.8m.1 0h.8m1.1 0h.8m4.5 0h.8m.3 0h.8m1.9 0h.8m1.7 0h.8m.1 0h.8m2.3 0h.8m1.4 0h.8m4.5 0h.8m1.5 0h.8m2.3 0h.8m2.6 0h.8M3 17.8h.8m2.8 0h.8m.3 0h.8m.4 0h.8m.3 0h.8m-.2 0h.8m14.5 0h.8m3.2 0h.8m-.4 0h.8m-.7 0h.8m-.1 0h.8m5.3 0h.8m-.2 0h.8m3.3 0h.8m6.1 0h.8m4.7 0h.8m2.1 0h.8m0 0h.8m6.2 0h.8m-.4 0h.8m-.2 0h.8m.4 0h.8m1.7 0h.8m.3 0h.8m1.6 0h.8m.1 0h.8m5.2 0h.8m-.1 0h.8m1.5 0h.8m-.6 0h.8m3 0h.8m1.5 0h.8m3.9 0h.8M1.3 18.4h.8m2.5 0h.8m.6 0h.8m1.4 0h.8m11.7 0h.8m.2 0h.8m6.7 0h.8m4.5 0h.8m-.4 0h.8m3.1 0h.8m2.4 0h.8m5.3 0h.8m.6 0h.8m2.7 0h.8m-.1 0h.8m-.7 0h.8m-.2 0h.8m.2 0h.8m-.6 0h.8m2.3 0h.8m1.7 0h.8m.5 0h.8m-.4 0h.8m.2 0h.8m-.7 0h.8m-.4 0h.8m.2 0h.8m.9 0h.8m-.5 0h.8m.7 0h.8m2.4 0h.8m8.9 0h.8m5 0h.8m-.2 0h.8M2.6 18.9h.8m0 0h.8m-.7 0h.8m-.6 0h.8m3.7 0h.8m.9 0h.8m9.1 0h.8m1.9 0h.8m5.2 0h.8m2.5 0h.8m-.6 0h.8m0 0h.8m6.4 0h.8m8.2 0h.8m3.3 0h.8m3.5 0h.8m2.9 0h.8m1 0h.8m1.3 0h.8m-.5 0h.8m1.9 0h.8m-.7 0h.8m-.1 0h.8m.8 0h.8m-.4 0h.8m-.2 0h.8m1.1 0h.8m-.4 0h.8m.7 0h.8m1.4 0h.8m-.6 0h.8m.3 0h.8m-.5 0h.8M2.1 19.4h.8m-.7 0h.8m.4 0h.8m-.7 0h.8m5 0h.8m3 0h.8m1.1 0h.8m14.5 0h.8m1.4 0h.8m-.8 0h.8m3.1 0h.8m-.6 0h.8m.6 0h.8m2.3 0h.8m6.1 0h.8m7.7 0h.8m1.6 0h.8m1 0h.8m-.6 0h.8m.9 0h.8m4.3 0h.8m4 0h.8m.3 0h.8m7.7 0h.8m2 0h.8m4.5 0h.8m5.9 0h.8M1.5 19.9h.8m.6 0h.8m-.5 0h.8m.2 0h.8m3 0h.8m4.8 0h.8m.3 0h.8m13.3 0h.8m2.1 0h.8m3.3 0h.8m2.3 0h.8m2.8 0h.8m.8 0h.8m8.8 0h.8m1 0h.8m2 0h.8m-.3 0h.8m0 0h.8m-.4 0h.8m-.4 0h.8m-.8 0h.8m2.9 0h.8m.8 0h.8m3.5 0h.8m3.4 0h.8m-.5 0h.8m3.3 0h.8m1 0h.8m-.4 0h.8m-.5 0h.8m6.6 0h.8m3.8 0h.8m.2 0h.8M.2 20.5h.8m9.3 0h.8m2.1 0h.8m-.4 0h.8m.3 0h.8m-.6 0h.8m-.1 0h.8m2 0h.8m.3 0h.8m2.4 0h.8m.6 0h.8m5.8 0h.8m1.7 0h.8m2.3 0h.8m13.1 0h.8m3 0h.8m1.8 0h.8m-.5 0h.8m-.5 0h.8m1.3 0h.8m.9 0h.8m.1 0h.8m7 0h.8m3.4 0h.8m1.1 0h.8m4.3 0h.8m5 0h.8m-.6 0h.8m1.6 0h.8M11.7 21h.8m-.5 0h.8m10.5 0h.8m2.9 0h.8m2.7 0h.8m3.1 0h.8m.6 0h.8m-.8 0h.8m.6 0h.8m.5 0h.8m-.7 0h.8m5.9 0h.8m-.3 0h.8m-.5 0h.8m1.7 0h.8m8.9 0h.8m3.7 0h.8m.3 0h.8m-.1 0h.8m2.3 0h.8m.9 0h.8m.2 0h.8m.4 0h.8m-.2 0h.8m-.5 0h.8m-.3 0h.8m.1 0h.8m-.4 0h.8m2.1 0h.8m-.2 0h.8m3 0h.8m4.3 0h.8m4 0h.8m-.4 0h.8M1.1 21.5h.8m1.6 0h.8m0 0h.8m2.3 0h.8m-.6 0h.8m.9 0h.8m3 0h.8m1.5 0h.8m7.4 0h.8m1.7 0h.8m5.8 0h.8m3.6 0h.8m3.2 0h.8m.2 0h.8m.6 0h.8m.9 0h.8m6.7 0h.8m-.1 0h.8m-.5 0h.8m1.3 0h.8m1.4 0h.8m1.7 0h.8m.5 0h.8m.7 0h.8m-.3 0h.8m2.8 0h.8m0 0h.8m-.8 0h.8m5.6 0h.8m.9 0h.8m1.1 0h.8m1.9 0h.8m3.8 0h.8m-.6 0h.8M1.4 22.1h.8m-.1 0h.8m2.6 0h.8m1.1 0h.8m1.2 0h.8m2.6 0h.8m0 0h.8m3.9 0h.8m11.3 0h.8m1.2 0h.8m-.2 0h.8m-.5 0h.8m.2 0h.8m7.2 0h.8m6 0h.8m3.1 0h.8m4.4 0h.8m1.2 0h.8m1 0h.8m2.7 0h.8m3.9 0h.8m.3 0h.8m1.7 0h.8m.3 0h.8m-.7 0h.8m.5 0h.8m-.4 0h.8m-.3 0h.8m3 0h.8m.4 0h.8m.7 0h.8m0 0h.8m4.6 0h.8m1.2 0h.8m.7 0h.8M2.1 22.6h.8m-.2 0h.8m3.9 0h.8m-.7 0h.8m4.4 0h.8m5.7 0h.8m.2 0h.8m0 0h.8m3.4 0h.8m3.1 0h.8m2.7 0h.8m1.7 0h.8m.7 0h.8m.7 0h.8m1.2 0h.8m10.7 0h.8m1.1 0h.8m.7 0h.8m-.1 0h.8m-.7 0h.8m2.9 0h.8m1.6 0h.8m-.6 0h.8m2.1 0h.8m.2 0h.8m1.1 0h.8m0 0h.8m.8 0h.8m.4 0h.8m-.3 0h.8m.6 0h.8m0 0h.8m3.9 0h.8m2.7 0h.8m5.8 0h.8m1.1 0h.8m1.9 0h.8M.2 23.1h.8m.9 0h.8m3 0h.8m2.1 0h.8m2.5 0h.8m4.4 0h.8m1.6 0h.8m7.9 0h.8m1.2 0h.8m-.1 0h.8m3.2 0h.8m0 0h.8m1.3 0h.8m-.5 0h.8m1.8 0h.8m5.2 0h.8m1.6 0h.8m1.2 0h.8m3.8 0h.8m2.6 0h.8m-.8 0h.8m.9 0h.8m1.2 0h.8m2.7 0h.8m2.4 0h.8m-.5 0h.8m-.4 0h.8m-.3 0h.8m-.8 0h.8m1.6 0h.8m.4 0h.8m2 0h.8m5 0h.8m-.3 0h.8m-.1 0h.8M6.2 23.7h.8m2.7 0h.8m6.9 0h.8m.8 0h.8m10.3 0h.8m1.3 0h.8m5 0h.8m-.3 0h.8m4 0h.8m2 0h.8m7.4 0h.8m.4 0h.8m-.3 0h.8m.7 0h.8m.6 0h.8m1.6 0h.8m-.6 0h.8m-.1 0h.8m2.3 0h.8m-.2 0h.8m2.1 0h.8m-.6 0h.8m-.8 0h.8m1.8 0h.8m1 0h.8m2.1 0h.8m15.1 0h.8M.2 24.2h.8m1.6 0h.8m.7 0h.8m1.7 0h.8m1.5 0h.8m.5 0h.8m1.5 0h.8m-.2 0h.8m1.4 0h.8m10.8 0h.8m2.5 0h.8m1.2 0h.8m-.6 0h.8m-.1 0h.8m1.1 0h.8m1.2 0h.8m-.1 0h.8m13.7 0h.8m.8 0h.8m.1 0h.8m3.7 0h.8m1.6 0h.8m2.9 0h.8m13.2 0h.8m3.1 0h.8m2.3 0h.8m8.7 0h.8M7.8 24.7h.8m-.4 0h.8m9.3 0h.8m6.4 0h.8m-.1 0h.8m3.2 0h.8m3.1 0h.8m3.8 0h.8m-.8 0h.8m2.5 0h.8m9.5 0h.8m.9 0h.8m2.7 0h.8m-.1 0h.8m-.1 0h.8m.5 0h.8m-.7 0h.8m8.6 0h.8m-.4 0h.8m-.4 0h.8m4.6 0h.8m4 0h.8m.3 0h.8m2.9 0h.8m1.9 0h.8m3.3 0h.8m1.9 0h.8M2.8 25.3h.8m12.7 0h.8m1.2 0h.8m.6 0h.8m8.4 0h.8m2 0h.8m1.1 0h.8m.6 0h.8m3.9 0h.8m.7 0h.8m1.2 0h.8m2 0h.8m-.1 0h.8m4.2 0h.8m3.5 0h.8m3.5 0h.8m-.3 0h.8m.2 0h.8m-.7 0h.8m-.7 0h.8m-.5 0h.8m2 0h.8m-.1 0h.8m0 0h.8m-.8 0h.8m-.2 0h.8m7 0h.8m.5 0h.8m.2 0h.8m1.3 0h.8m1.5 0h.8m.7 0h.8m.3 0h.8m.8 0h.8M2.6 25.8h.8m2.9 0h.8m2.9 0h.8m4.8 0h.8m2.5 0h.8m-.4 0h.8m-.3 0h.8m-.8 0h.8m.2 0h.8m1.9 0h.8m12.1 0h.8m1.9 0h.8m3.3 0h.8m9.3 0h.8m2.4 0h.8m-.5 0h.8m2.6 0h.8m.1 0h.8m2.7 0h.8m4.3 0h.8m0 0h.8m2.5 0h.8m.5 0h.8m.9 0h.8m.7 0h.8m.2 0h.8m.3 0h.8m7.2 0h.8m6.9 0h.8m-.1 0h.8M2.5 26.3h.8m3.4 0h.8m.4 0h.8m1.3 0h.8m6.7 0h.8m.9 0h.8m12.2 0h.8m1.1 0h.8m.4 0h.8m.1 0h.8m2.9 0h.8m.3 0h.8m2.2 0h.8m7.6 0h.8m2.8 0h.8m3.9 0h.8m1.3 0h.8m-.4 0h.8m1.7 0h.8m2.4 0h.8m-.1 0h.8m-.2 0h.8m.6 0h.8m-.7 0h.8m-.7 0h.8m1.3 0h.8m.3 0h.8m3.5 0h.8m5.3 0h.8m-.1 0h.8m.3 0h.8m-.3 0h.8m5 0h.8" stroke="#111" stroke-width="0.55" fill="none"/>
<line x1="75.2" y1="299.9" x2="75.2" y2="326.5" stroke="#d2492a" stroke-width="1.1"/>
<polyline points="94,326.5 97.7,315.9 101.2,307.9 104.5,300.2" fill="none" stroke="#4f5fc8" stroke-width="0.6"/>
<path d="M142.7 300.3h-1.3v25.8h1.3" fill="none" stroke="#222" stroke-width="0.9"/>
<path transform="translate(41.7 328.3)" d="M3.4 .3h.8m1.4 0h.8m.1 0h.8m1 0h.8m9.9 0h.8m.3 0h.8m.9 0h.8m.8 0h.8m5.7 0h.8m.6 0h.8m1.8 0h.8m.9 0h.8m2.4 0h.8m1.9 0h.8m3.3 0h.8m-.1 0h.8m8.3 0h.8m6.4 0h.8m1.8 0h.8m-.3 0h.8m.6 0h.8m-.2 0h.8m-.5 0h.8m.4 0h.8m5.6 0h.8m-.3 0h.8m.9 0h.8m2.3 0h.8m-.7 0h.8m2.3 0h.8m1.1 0h.8m.1 0h.8m3 0h.8m.5 0h.8m2.6 0h.8M3.2 .8h.8m1.4 0h.8m.3 0h.8m2.2 0h.8m.6 0h.8m.1 0h.8m.6 0h.8m4.9 0h.8m0 0h.8m5.6 0h.8m1.4 0h.8m.1 0h.8m6.3 0h.8m1.1 0h.8m3.7 0h.8m.6 0h.8m-.5 0h.8m2.1 0h.8m2.1 0h.8m9.6 0h.8m3.7 0h.8m-.4 0h.8m.7 0h.8m-.3 0h.8m1.8 0h.8m.8 0h.8m-.8 0h.8m-.3 0h.8m-.3 0h.8m.9 0h.8m.7 0h.8m1.7 0h.8m8.6 0h.8m-.4 0h.8m2.9 0h.8m4.2 0h.8M.3 1.3h.8m0 0h.8m-.7 0h.8m2.3 0h.8m1.2 0h.8m.3 0h.8m.4 0h.8m2.4 0h.8m1.2 0h.8m2.4 0h.8m2.8 0h.8m10.3 0h.8m3.4 0h.8m10.9 0h.8m.7 0h.8m6.4 0h.8m.3 0h.8m3.1 0h.8m.4 0h.8m2.4 0h.8m.7 0h.8m-.5 0h.8m.1 0h.8m1 0h.8m.4 0h.8m2.6 0h.8m.3 0h.8m2.8 0h.8m1.3 0h.8m2 0h.8m-.5 0h.8m.3 0h.8m-.2 0h.8m2.2 0h.8m-.1 0h.8m-.5 0h.8m1.5 0h.8m2.3 0h.8M1.8 1.8h.8m.6 0h.8m3.3 0h.8m0 0h.8m11.2 0h.8m2.2 0h.8m5.6 0h.8m.5 0h.8m1.4 0h.8m2.2 0h.8m3.4 0h.8m-.1 0h.8m-.1 0h.8m2.4 0h.8m5.2 0h.8m1.3 0h.8m2.8 0h.8m10.2 0h.8m-.3 0h.8m.2 0h.8m0 0h.8m1.4 0h.8m2.4 0h.8m.8 0h.8m-.7 0h.8m.1 0h.8m2 0h.8m2.3 0h.8m.2 0h.8m.6 0h.8m0 0h.8m7.3 0h.8m2.2 0h.8M1.7 2.4h.8m7.9 0h.8m6.4 0h.8m-.7 0h.8m5.3 0h.8m3 0h.8m2.1 0h.8m.2 0h.8m.1 0h.8m.5 0h.8m5.5 0h.8m.6 0h.8m.7 0h.8m3.7 0h.8m.6 0h.8m5.2 0h.8m3.7 0h.8m.8 0h.8m-.2 0h.8m.6 0h.8m.2 0h.8m3.4 0h.8m.2 0h.8m.8 0h.8m1.3 0h.8m9.5 0h.8m.4 0h.8m7.5 0h.8m1.8 0h.8M2.6 2.9h.8m1.1 0h.8m1.2 0h.8m-.2 0h.8m1.3 0h.8m1.6 0h.8m-.4 0h.8m6.7 0h.8m7.1 0h.8m-.3 0h.8m1.4 0h.8m.4 0h.8m-.6 0h.8m3.6 0h.8m3.4 0h.8m.3 0h.8m1.8 0h.8m1 0h.8m.8 0h.8m-.2 0h.8m3.6 0h.8m6.9 0h.8m-.8 0h.8m.8 0h.8m3.8 0h.8m.1 0h.8m4.2 0h.8m1.1 0h.8m2 0h.8m-.2 0h.8m.3 0h.8m7.6 0h.8m2.7 0h.8m-.2 0h.8M6.4 3.4h.8m2.1 0h.8m2.1 0h.8m.7 0h.8m1.2 0h.8m11.3 0h.8m6.1 0h.8m-.1 0h.8m-.4 0h.8m.6 0h.8m-.2 0h.8m2 0h.8m5.9 0h.8m11.8 0h.8m-.6 0h.8m5.7 0h.8m1.1 0h.8m0 0h.8m2.4 0h.8m-.3 0h.8m-.4 0h.8m-.2 0h.8m-.7 0h.8m2.6 0h.8m.5 0h.8m.5 0h.8m1.7 0h.8m5.1 0h.8m2.3 0h.8m5.7 0h.8M.9 3.9h.8m-.1 0h.8m2.8 0h.8m.4 0h.8m3.4 0h.8m11 0h.8m.3 0h.8m2.2 0h.8m-.1 0h.8m1.1 0h.8m1.1 0h.8m0 0h.8m.7 0h.8m.6 0h.8m-.6 0h.8m2.7 0h.8m-.6 0h.8m-.1 0h.8m6.2 0h.8m3 0h.8m6.8 0h.8m9.1 0h.8m0 0h.8m.2 0h.8m-.4 0h.8m-.6 0h.8m2.8 0h.8m1.6 0h.8m.4 0h.8m-.5 0h.8m-.6 0h.8m-.6 0h.8m-.3 0h.8m7.8 0h.8m-.4 0h.8m.7 0h.8M9.8 4.5h.8m3.6 0h.8m.8 0h.8m-.3 0h.8m4.1 0h.8m.4 0h.8m1.9 0h.8m-.2 0h.8m1 0h.8m2.8 0h.8m.1 0h.8m-.3 0h.8m2.3 0h.8m.5 0h.8m-.7 0h.8m-.2 0h.8m1.2 0h.8m6.4 0h.8m.1 0h.8m5.9 0h.8m14.9 0h.8m1.3 0h.8m5.6 0h.8m-.4 0h.8m3.9 0h.8m-.6 0h.8m.5 0h.8m1.4 0h.8m2.2 0h.8m1.8 0h.8m.6 0h.8M1.2 5h.8m3.6 0h.8m6.6 0h.8m1.1 0h.8m1.5 0h.8m-.7 0h.8m5.2 0h.8m-.4 0h.8m2.1 0h.8m-.7 0h.8m-.1 0h.8m.4 0h.8m.3 0h.8m5.1 0h.8m5 0h.8m.1 0h.8m0 0h.8m.1 0h.8m10.4 0h.8m1.4 0h.8m-.1 0h.8m2.4 0h.8m3 0h.8m-.5 0h.8m1 0h.8m-.4 0h.8m-.5 0h.8m3.8 0h.8m-.2 0h.8m-.2 0h.8m-.7 0h.8m2.3 0h.8m-.2 0h.8m4.7 0h.8m1.1 0h.8m5.2 0h.8m0 0h.8M7.1 5.5h.8m7.2 0h.8m-.4 0h.8m5.7 0h.8m.4 0h.8m2.8 0h.8m.3 0h.8m6.3 0h.8m-.6 0h.8m.2 0h.8m-.7 0h.8m4.8 0h.8m.5 0h.8m-.7 0h.8m4.1 0h.8m.5 0h.8m12.9 0h.8m1.7 0h.8m-.2 0h.8m1.3 0h.8m4.5 0h.8m.4 0h.8m-.8 0h.8m-.4 0h.8m-.1 0h.8m.3 0h.8m.1 0h.8m1.8 0h.8m-.1 0h.8m2.3 0h.8m2.5 0h.8m.2 0h.8m.7 0h.8M.4 6h.8m-.2 0h.8m-.2 0h.8m10.2 0h.8m1.5 0h.8m-.7 0h.8m.9 0h.8m3.1 0h.8m.1 0h.8m11.4 0h.8m.1 0h.8m.2 0h.8m3 0h.8m12.9 0h.8m3.2 0h.8m5.6 0h.8m-.1 0h.8m1.3 0h.8m3.1 0h.8m5 0h.8m-.1 0h.8m-.8 0h.8m3.4 0h.8m2 0h.8m-.6 0h.8m-.4 0h.8m-.6 0h.8m-.6 0h.8m2.1 0h.8m1.3 0h.8m.5 0h.8m4.3 0h.8M6.3 6.6h.8m5.7 0h.8m-.3 0h.8m4.6 0h.8m1.9 0h.8m5.8 0h.8m2.5 0h.8m.5 0h.8m-.3 0h.8m5.3 0h.8m.9 0h.8m0 0h.8m11.3 0h.8m13 0h.8m.4 0h.8m-.4 0h.8m.1 0h.8m-.8 0h.8m.4 0h.8m2.2 0h.8m-.2 0h.8m.2 0h.8m-.7 0h.8m1 0h.8m1.4 0h.8m1.5 0h.8m5 0h.8m2.4 0h.8M4.9 7.1h.8m-.1 0h.8m8 0h.8m7.2 0h.8m.3 0h.8m4.1 0h.8m2.1 0h.8m5 0h.8m2 0h.8m.3 0h.8m.3 0h.8m3.8 0h.8m1.6 0h.8m2.2 0h.8m-.5 0h.8m3.9 0h.8m1.7 0h.8m.4 0h.8m.7 0h.8m-.8 0h.8m5.9 0h.8m-.7 0h.8m-.7 0h.8m1 0h.8m-.6 0h.8m.3 0h.8m1.6 0h.8m-.1 0h.8m-.2 0h.8m-.1 0h.8m.4 0h.8m-.1 0h.8m3.9 0h.8m-.6 0h.8m-.2 0h.8m4.4 0h.8m5 0h.8m-.5 0h.8M1.6 7.6h.8m-.5 0h.8m-.8 0h.8m.6 0h.8m.6 0h.8m-.7 0h.8m.9 0h.8m2.7 0h.8m.2 0h.8m5.2 0h.8m.5 0h.8m3.2 0h.8m-.4 0h.8m.9 0h.8m-.4 0h.8m-.2 0h.8m-.2 0h.8m5.8 0h.8m2 0h.8m1.8 0h.8m2.2 0h.8m7.1 0h.8m5.1 0h.8m4.1 0h.8m4 0h.8m1.8 0h.8m-.3 0h.8m.3 0h.8m2.2 0h.8m4.2 0h.8m1 0h.8m.3 0h.8m2.3 0h.8m1.5 0h.8m1.7 0h.8m.2 0h.8m1.2 0h.8m.8 0h.8M3.5 8.2h.8m1.7 0h.8m2.8 0h.8m15.2 0h.8m.5 0h.8m-.7 0h.8m.2 0h.8m-.3 0h.8m3.4 0h.8m2.6 0h.8m3 0h.8m7.5 0h.8m1.2 0h.8m-.1 0h.8m4.2 0h.8m-.7 0h.8m-.8 0h.8m3.7 0h.8m.6 0h.8m1.2 0h.8m-.1 0h.8m-.7 0h.8m-.3 0h.8m.8 0h.8m-.3 0h.8m.3 0h.8m-.2 0h.8m.3 0h.8m-.1 0h.8m-.4 0h.8m-.3 0h.8m11 0h.8m.3 0h.8m.1 0h.8m.1 0h.8m.6 0h.8m.2 0h.8m-.2 0h.8m1.5 0h.8M16.8 8.7h.8m-.2 0h.8m1.9 0h.8m-.6 0h.8m6.7 0h.8m3.3 0h.8m.5 0h.8m-.5 0h.8m.6 0h.8m1.8 0h.8m-.4 0h.8m.2 0h.8m4.2 0h.8m-.2 0h.8m1 0h.8m-.1 0h.8m1.9 0h.8m8.8 0h.8m1.7 0h.8m-.6 0h.8m3.5 0h.8m2.8 0h.8m.3 0h.8m1 0h.8m0 0h.8m2.6 0h.8m3.7 0h.8m.9 0h.8m1 0h.8m1.5 0h.8m.8 0h.8M.5 9.2h.8m1.4 0h.8m6.2 0h.8m1.3 0h.8m.1 0h.8m-.4 0h.8m1.6 0h.8m7.3 0h.8m5.6 0h.8m.5 0h.8m-.5 0h.8m3.4 0h.8m-.6 0h.8m-.3 0h.8m3.7 0h.8m.4 0h.8m.6 0h.8m12.6 0h.8m1.4 0h.8m0 0h.8m.5 0h.8m.1 0h.8m2.9 0h.8m-.4 0h.8m-.6 0h.8m10.8 0h.8m2.7 0h.8m-.5 0h.8m1.5 0h.8m-.8 0h.8m5.8 0h.8m4.2 0h.8M1.8 9.7h.8m12.3 0h.8m1.2 0h.8m6.4 0h.8m9.8 0h.8m1 0h.8m1.9 0h.8m3.4 0h.8m1 0h.8m-.6 0h.8m4.9 0h.8m0 0h.8m4.7 0h.8m-.5 0h.8m-.2 0h.8m3.1 0h.8m3.9 0h.8m.3 0h.8m.7 0h.8m1.3 0h.8m-.7 0h.8m.4 0h.8m.2 0h.8m-.5 0h.8m1.9 0h.8m4.5 0h.8m1.9 0h.8m0 0h.8m.8 0h.8m.6 0h.8m-.1 0h.8m2.6 0h.8M7.2 10.3h.8m.3 0h.8m3 0h.8m.2 0h.8m3.7 0h.8m.2 0h.8m2.9 0h.8m1.6 0h.8m0 0h.8m6.1 0h.8m3.8 0h.8m.5 0h.8m3.5 0h.8m-.7 0h.8m-.6 0h.8m6.4 0h.8m6 0h.8m2.5 0h.8m-.6 0h.8m1.3 0h.8m-.5 0h.8m.6 0h.8m-.1 0h.8m1.3 0h.8m1.3 0h.8m0 0h.8m6.9 0h.8m-.7 0h.8m4.2 0h.8m2.3 0h.8m1.7 0h.8m1.3 0h.8m5.2 0h.8M1.5 10.8h.8m1.3 0h.8m8.9 0h.8m.7 0h.8m.5 0h.8m1.5 0h.8m3.9 0h.8m.5 0h.8m7.2 0h.8m.5 0h.8m9.4 0h.8m10.6 0h.8m3 0h.8m3.8 0h.8m-.3 0h.8m-.3 0h.8m-.1 0h.8m2.1 0h.8m-.3 0h.8m-.8 0h.8m-.4 0h.8m1.3 0h.8m.7 0h.8m-.2 0h.8m2.6 0h.8m-.4 0h.8m-.7 0h.8m-.4 0h.8m.4 0h.8m-.8 0h.8m1.2 0h.8m.1 0h.8m2.7 0h.8m3.8 0h.8m-.7 0h.8m1.6 0h.8M.2 11.3h.8m-.7 0h.8m6.3 0h.8m5.7 0h.8m-.5 0h.8m-.1 0h.8m-.2 0h.8m1 0h.8m1.3 0h.8m4.4 0h.8m.1 0h.8m7 0h.8m1.4 0h.8m5 0h.8m.2 0h.8m-.3 0h.8m.6 0h.8m-.1 0h.8m10.7 0h.8m1 0h.8m1 0h.8m-.3 0h.8m1.2 0h.8m1.3 0h.8m-.5 0h.8m2.7 0h.8m-.5 0h.8m0 0h.8m1.1 0h.8m-.2 0h.8m-.5 0h.8m1.9 0h.8m1.8 0h.8m0 0h.8m-.6 0h.8m17.2 0h.8M.4 11.8h.8m4 0h.8m2.7 0h.8m.7 0h.8m4.8 0h.8m2.5 0h.8m0 0h.8m.2 0h.8m5.6 0h.8m2.2 0h.8m-.1 0h.8m.4 0h.8m3.9 0h.8m-.1 0h.8m.7 0h.8m.2 0h.8m0 0h.8m0 0h.8m20.9 0h.8m1.6 0h.8m.9 0h.8m4.1 0h.8m3.6 0h.8m.3 0h.8m-.4 0h.8m.3 0h.8m13.3 0h.8M13.9 12.4h.8m2.9 0h.8m7.4 0h.8m0 0h.8m-.1 0h.8m.3 0h.8m3.2 0h.8m.8 0h.8m1.8 0h.8m-.8 0h.8m1.4 0h.8m1.3 0h.8m1.1 0h.8m-.7 0h.8m10.2 0h.8m-.2 0h.8m-.7 0h.8m1.5 0h.8m-.6 0h.8m2.9 0h.8m-.7 0h.8m2.1 0h.8m.6 0h.8m1 0h.8m-.5 0h.8m-.2 0h.8m0 0h.8m.5 0h.8m3.4 0h.8m2.9 0h.8m-.5 0h.8m.5 0h.8m-.2 0h.8m0 0h.8m1.5 0h.8M7.2 12.9h.8m-.8 0h.8m.4 0h.8m5.4 0h.8m5.2 0h.8m.4 0h.8m3.2 0h.8m3 0h.8m.4 0h.8m3.5 0h.8m4.5 0h.8m1.5 0h.8m10.2 0h.8m4.8 0h.8m0 0h.8m-.6 0h.8m1.4 0h.8m3.7 0h.8m1.7 0h.8m-.1 0h.8m-.6 0h.8m.2 0h.8m1 0h.8m1.8 0h.8m.9 0h.8m.8 0h.8m-.7 0h.8m-.6 0h.8m.3 0h.8m-.8 0h.8m1.5 0h.8m1 0h.8m.9 0h.8m.4 0h.8m.5 0h.8m.9 0h.8M6 13.4h.8m.9 0h.8m1.7 0h.8m-.8 0h.8m.3 0h.8m4.9 0h.8m7.6 0h.8m-.1 0h.8m.1 0h.8m.4 0h.8m-.5 0h.8m4.8 0h.8m1.4 0h.8m3.3 0h.8m-.6 0h.8m3.2 0h.8m.6 0h.8m2.9 0h.8m2.2 0h.8m3.3 0h.8m.6 0h.8m10.6 0h.8m1 0h.8m1.3 0h.8m.4 0h.8m3.8 0h.8m1.1 0h.8m3.9 0h.8m-.1 0h.8m-.4 0h.8m3.4 0h.8m4 0h.8M.6 13.9h.8m2.4 0h.8m1.8 0h.8m3.8 0h.8m4.3 0h.8m6.3 0h.8m0 0h.8m12.4 0h.8m-.7 0h.8m4.2 0h.8m4.4 0h.8m8 0h.8m2.6 0h.8m6.3 0h.8m2 0h.8m-.4 0h.8m-.5 0h.8m-.1 0h.8m-.6 0h.8m.4 0h.8m.4 0h.8m.2 0h.8m1.3 0h.8m1.6 0h.8m4.2 0h.8m2.9 0h.8m6 0h.8m2.3 0h.8M2.5 14.5h.8m3.6 0h.8m6.8 0h.8m13.9 0h.8m.2 0h.8m-.7 0h.8m.8 0h.8m2 0h.8m-.7 0h.8m-.7 0h.8m-.2 0h.8m.7 0h.8m5.8 0h.8m0 0h.8m-.3 0h.8m-.3 0h.8m6.6 0h.8m1.5 0h.8m-.5 0h.8m-.6 0h.8m-.7 0h.8m-.7 0h.8m.1 0h.8m1.2 0h.8m2.2 0h.8m-.6 0h.8m-.3 0h.8m5.5 0h.8m6.2 0h.8m-.8 0h.8m6.2 0h.8m.3 0h.8m-.7 0h.8m2.6 0h.8m7 0h.8M3.3 15h.8m2.5 0h.8m6 0h.8m2.1 0h.8m9.5 0h.8m0 0h.8m1.9 0h.8m0 0h.8m.6 0h.8m-.7 0h.8m1.9 0h.8m-.1 0h.8m-.5 0h.8m1.9 0h.8m.5 0h.8m-.5 0h.8m1.1 0h.8m1.4 0h.8m5.9 0h.8m4.9 0h.8m2.6 0h.8m.5 0h.8m.7 0h.8m1.3 0h.8m1 0h.8m.8 0h.8m.5 0h.8m.5 0h.8m.8 0h.8m-.5 0h.8m.8 0h.8m.6 0h.8m-.4 0h.8m2.9 0h.8m.8 0h.8m.5 0h.8m2.3 0h.8m.7 0h.8m8.9 0h.8M1.8 15.5h.8m7.5 0h.8m-.1 0h.8m12.8 0h.8m-.5 0h.8m2.4 0h.8m-.2 0h.8m2.6 0h.8m2.1 0h.8m-.3 0h.8m-.7 0h.8m-.4 0h.8m.4 0h.8m1.3 0h.8m2.7 0h.8m2.1 0h.8m2.8 0h.8m3.5 0h.8m4.3 0h.8m-.3 0h.8m.4 0h.8m-.8 0h.8m1.2 0h.8m1.2 0h.8m-.6 0h.8m-.3 0h.8m-.3 0h.8m.8 0h.8m3.2 0h.8m0 0h.8m-.3 0h.8m3.4 0h.8m.1 0h.8m.4 0h.8m1 0h.8m-.7 0h.8m3.8 0h.8m3.7 0h.8M.1 16h.8m7.1 0h.8m12 0h.8m0 0h.8m2.9 0h.8m.7 0h.8m.1 0h.8m1.8 0h.8m.4 0h.8m.4 0h.8m1.6 0h.8m2.5 0h.8m5.2 0h.8m2.5 0h.8m-.5 0h.8m3.5 0h.8m.8 0h.8m2 0h.8m-.2 0h.8m1.4 0h.8m-.2 0h.8m2.1 0h.8m-.4 0h.8m1.3 0h.8m1.6 0h.8m1 0h.8m-.4 0h.8m1.2 0h.8m.5 0h.8m.5 0h.8m3.4 0h.8m7.7 0h.8m-.4 0h.8m-.3 0h.8m4.5 0h.8m1.3 0h.8m-.5 0h.8m.6 0h.8M2.5 16.6h.8m0 0h.8m4.7 0h.8m-.7 0h.8m4.7 0h.8m.5 0h.8m-.5 0h.8m8.1 0h.8m5.2 0h.8m2.9 0h.8m-.5 0h.8m8.8 0h.8m-.7 0h.8m-.5 0h.8m2.5 0h.8m-.5 0h.8m3.9 0h.8m2.2 0h.8m-.4 0h.8m2.4 0h.8m0 0h.8m2.4 0h.8m-.6 0h.8m1.6 0h.8m1.6 0h.8m-.5 0h.8m2 0h.8m-.3 0h.8m3.9 0h.8m-.7 0h.8m8.3 0h.8m6.7 0h.8m1.4 0h.8m-.7 0h.8M5.6 17.1h.8m1 0h.8m-.2 0h.8m-.5 0h.8m10.9 0h.8m3.1 0h.8m-.2 0h.8m.6 0h.8m1 0h.8m2.1 0h.8m-.3 0h.8m2.1 0h.8m2.5 0h.8m6.3 0h.8m2.5 0h.8m-.5 0h.8m6 0h.8m5.7 0h.8m-.5 0h.8m-.5 0h.8m.1 0h.8m.1 0h.8m1.2 0h.8m1.1 0h.8m-.6 0h.8m.4 0h.8m-.5 0h.8m.7 0h.8m3.7 0h.8m2.8 0h.8m1.2 0h.8m-.1 0h.8m2.4 0h.8m2.2 0h.8m3.9 0h.8m3.4 0h.8m-.4 0h.8m-.2 0h.8M2.1 17.6h.8m-.5 0h.8m9.8 0h.8m.1 0h.8m3.6 0h.8m-.7 0h.8m.1 0h.8m10 0h.8m4.4 0h.8m.1 0h.8m-.1 0h.8m-.4 0h.8m.5 0h.8m-.4 0h.8m3.1 0h.8m9 0h.8m-.2 0h.8m3.5 0h.8m-.1 0h.8m1.4 0h.8m.5 0h.8m1.5 0h.8m-.2 0h.8m-.2 0h.8m1.5 0h.8m0 0h.8m3.8 0h.8m.2 0h.8m-.1 0h.8m-.1 0h.8m.1 0h.8m.8 0h.8m2.1 0h.8m2.9 0h.8m1.7 0h.8m1.8 0h.8m2.6 0h.8M0 18.1h.8m4.7 0h.8m2.7 0h.8m7.1 0h.8m.5 0h.8m3.3 0h.8m-.6 0h.8m3.7 0h.8m6.8 0h.8m.1 0h.8m-.7 0h.8m-.7 0h.8m2.2 0h.8m.1 0h.8m3.7 0h.8m1.3 0h.8m4.3 0h.8m.9 0h.8m4 0h.8m.5 0h.8m-.6 0h.8m.8 0h.8m-.8 0h.8m-.6 0h.8m2.2 0h.8m3.3 0h.8m0 0h.8m.9 0h.8m-.6 0h.8m1.6 0h.8m8.8 0h.8m.6 0h.8m.4 0h.8m1.8 0h.8m7.4 0h.8M9.5 18.7h.8m1.5 0h.8m19.6 0h.8m1.2 0h.8m.5 0h.8m.5 0h.8m5.5 0h.8m4.3 0h.8m-.1 0h.8m3.3 0h.8m7.4 0h.8m4.7 0h.8m.5 0h.8m-.7 0h.8m-.6 0h.8m-.6 0h.8m4.7 0h.8m1.8 0h.8m-.8 0h.8m-.6 0h.8m-.5 0h.8m2.8 0h.8m1.2 0h.8m8.8 0h.8m.9 0h.8m.1 0h.8m2.1 0h.8M14.5 19.2h.8m3.7 0h.8m4.6 0h.8m-.7 0h.8m6.6 0h.8m.9 0h.8m1.1 0h.8m1.9 0h.8m-.4 0h.8m9.2 0h.8m.3 0h.8m2.3 0h.8m.9 0h.8m-.6 0h.8m-.4 0h.8m8.8 0h.8m5.1 0h.8m1.2 0h.8m1.2 0h.8m-.4 0h.8m1.2 0h.8m-.6 0h.8m2.4 0h.8m1.7 0h.8m2.3 0h.8m2.7 0h.8m5.9 0h.8M3.4 19.7h.8m1.5 0h.8m0 0h.8m9.2 0h.8m-.5 0h.8m7.7 0h.8m1 0h.8m.4 0h.8m-.6 0h.8m4.8 0h.8m3 0h.8m10.9 0h.8m11.4 0h.8m.6 0h.8m.3 0h.8m1.5 0h.8m2.6 0h.8m2.3 0h.8m-.1 0h.8m.4 0h.8m.2 0h.8m-.7 0h.8m1 0h.8m7.4 0h.8m.9 0h.8m-.2 0h.8m-.1 0h.8m-.2 0h.8M2.5 20.3h.8m9.6 0h.8m6.2 0h.8m6.5 0h.8m.6 0h.8m-.3 0h.8m2.2 0h.8m.6 0h.8m1 0h.8m-.8 0h.8m.3 0h.8m-.6 0h.8m.9 0h.8m-.1 0h.8m.4 0h.8m9 0h.8m4 0h.8m-.4 0h.8m-.3 0h.8m1.4 0h.8m0 0h.8m6 0h.8m.3 0h.8m1.7 0h.8m4.3 0h.8m5.8 0h.8m8.5 0h.8m-.4 0h.8m2.2 0h.8m1.8 0h.8M1.3 20.8h.8m3.6 0h.8m5.5 0h.8m1.2 0h.8m6.8 0h.8m7.4 0h.8m-.1 0h.8m4.7 0h.8m2.6 0h.8m1.5 0h.8m5.4 0h.8m1.1 0h.8m1.1 0h.8m-.6 0h.8m-.7 0h.8m1.6 0h.8m3.8 0h.8m-.7 0h.8m-.7 0h.8m-.5 0h.8m4.3 0h.8m.2 0h.8m1 0h.8m.4 0h.8m-.8 0h.8m2.4 0h.8m.1 0h.8m-.7 0h.8m-.7 0h.8m2.7 0h.8m.5 0h.8m.5 0h.8m1.3 0h.8m-.1 0h.8m1.9 0h.8m6.4 0h.8m1.2 0h.8m.9 0h.8M3.9 21.3h.8m2.8 0h.8m3.7 0h.8m4.1 0h.8m4 0h.8m1.3 0h.8m.7 0h.8m-.3 0h.8m3.3 0h.8m3 0h.8m.8 0h.8m2.8 0h.8m3.9 0h.8m4.7 0h.8m3.6 0h.8m0 0h.8m4.4 0h.8m.4 0h.8m-.7 0h.8m-.5 0h.8m.9 0h.8m.9 0h.8m-.3 0h.8m0 0h.8m0 0h.8m0 0h.8m-.6 0h.8m-.7 0h.8m.7 0h.8m-.1 0h.8m.4 0h.8m9.1 0h.8m12.3 0h.8m-.7 0h.8m2.7 0h.8M2.1 21.8h.8m-.4 0h.8m-.7 0h.8m-.5 0h.8m1.6 0h.8m2.5 0h.8m.8 0h.8m-.7 0h.8m-.7 0h.8m-.3 0h.8m-.5 0h.8m2.3 0h.8m2.9 0h.8m5.2 0h.8m3.8 0h.8m4.7 0h.8m-.2 0h.8m.2 0h.8m0 0h.8m-.1 0h.8m1.6 0h.8m2.9 0h.8m.8 0h.8m6 0h.8m1.5 0h.8m.7 0h.8m3.9 0h.8m1.5 0h.8m.3 0h.8m1.7 0h.8m1.6 0h.8m-.6 0h.8m3.3 0h.8m-.7 0h.8m.4 0h.8m-.7 0h.8m.2 0h.8m4.3 0h.8m14.9 0h.8M.2 22.4h.8m5.8 0h.8m-.1 0h.8m3.5 0h.8m6.3 0h.8m1.3 0h.8m2.7 0h.8m0 0h.8m1.1 0h.8m.5 0h.8m0 0h.8m-.1 0h.8m6 0h.8m.4 0h.8m1.5 0h.8m8.8 0h.8m3.6 0h.8m.4 0h.8m-.2 0h.8m-.5 0h.8m1.3 0h.8m1.2 0h.8m4.1 0h.8m.8 0h.8m-.1 0h.8m-.5 0h.8m-.1 0h.8m3 0h.8m0 0h.8m-.1 0h.8m-.3 0h.8m10.1 0h.8m10 0h.8M8.4 22.9h.8m5.7 0h.8m1.5 0h.8m2.9 0h.8m-.4 0h.8m3.8 0h.8m1.5 0h.8m3.3 0h.8m.7 0h.8m5.6 0h.8m5.7 0h.8m7.1 0h.8m1.4 0h.8m-.8 0h.8m.1 0h.8m-.7 0h.8m-.6 0h.8m-.7 0h.8m-.8 0h.8m2.6 0h.8m.1 0h.8m2.8 0h.8m-.7 0h.8m-.8 0h.8m-.3 0h.8m2.6 0h.8m-.1 0h.8m1 0h.8m1.5 0h.8m2.2 0h.8m-.2 0h.8m4.7 0h.8m.4 0h.8m-.4 0h.8m.6 0h.8m3.2 0h.8m2.2 0h.8m.9 0h.8M.8 23.4h.8m.2 0h.8m3.1 0h.8m2 0h.8m12.8 0h.8m3.8 0h.8m1.6 0h.8m-.4 0h.8m.2 0h.8m3.3 0h.8m1.5 0h.8m-.7 0h.8m3.4 0h.8m.9 0h.8m18.5 0h.8m.1 0h.8m.5 0h.8m-.7 0h.8m-.8 0h.8m0 0h.8m.4 0h.8m-.7 0h.8m-.5 0h.8m-.6 0h.8m9.8 0h.8m.8 0h.8m.2 0h.8m0 0h.8m1.9 0h.8m1.9 0h.8m-.4 0h.8m-.1 0h.8m1.9 0h.8m1.8 0h.8m2.7 0h.8M1.2 23.9h.8m8.6 0h.8m2.2 0h.8m-.7 0h.8m1 0h.8m.7 0h.8m-.5 0h.8m-.3 0h.8m.3 0h.8m.8 0h.8m3.2 0h.8m-.6 0h.8m4.7 0h.8m-.8 0h.8m2.3 0h.8m-.5 0h.8m.4 0h.8m1.7 0h.8m.3 0h.8m.3 0h.8m.7 0h.8m1.7 0h.8m13.5 0h.8m.9 0h.8m0 0h.8m.6 0h.8m3.4 0h.8m-.7 0h.8m-.7 0h.8m.5 0h.8m7.7 0h.8m.7 0h.8m2.5 0h.8m.2 0h.8m.7 0h.8M.6 24.5h.8m-.2 0h.8m7.3 0h.8m.5 0h.8m.6 0h.8m0 0h.8m.5 0h.8m-.1 0h.8m8.7 0h.8m2.2 0h.8m2.2 0h.8m-.2 0h.8m2.7 0h.8m-.1 0h.8m.6 0h.8m-.7 0h.8m.7 0h.8m9.6 0h.8m4.5 0h.8m2.3 0h.8m-.8 0h.8m-.5 0h.8m-.6 0h.8m-.4 0h.8m-.8 0h.8m3.5 0h.8m-.4 0h.8m1.8 0h.8m.3 0h.8m6 0h.8m.7 0h.8m1.2 0h.8m2.9 0h.8m.5 0h.8m.1 0h.8m3.7 0h.8m4.4 0h.8m.2 0h.8M.5 25h.8m4.5 0h.8m1.7 0h.8m2.6 0h.8m2.6 0h.8m.8 0h.8m-.3 0h.8m1.9 0h.8m-.5 0h.8m9.9 0h.8m5 0h.8m1.1 0h.8m-.3 0h.8m-.3 0h.8m1.4 0h.8m3.8 0h.8m2.3 0h.8m1.5 0h.8m.8 0h.8m.4 0h.8m8.4 0h.8m.2 0h.8m.6 0h.8m-.8 0h.8m-.5 0h.8m.8 0h.8m2.7 0h.8m.6 0h.8m-.2 0h.8m3.1 0h.8m.5 0h.8m-.1 0h.8m1 0h.8m3.8 0h.8m-.6 0h.8m-.4 0h.8m.8 0h.8M.8 25.5h.8m4.2 0h.8m2.2 0h.8m6.4 0h.8m3.5 0h.8m-.6 0h.8m0 0h.8m.2 0h.8m2.1 0h.8m2.7 0h.8m1.2 0h.8m1.9 0h.8m.4 0h.8m-.3 0h.8m3.7 0h.8m-.7 0h.8m5.6 0h.8m5.4 0h.8m-.7 0h.8m.7 0h.8m1.3 0h.8m2.2 0h.8m.4 0h.8m.3 0h.8m1.8 0h.8m-.6 0h.8m-.5 0h.8m-.3 0h.8m-.1 0h.8m-.2 0h.8m1.6 0h.8m0 0h.8m-.6 0h.8m-.3 0h.8m1.2 0h.8m-.2 0h.8m1.1 0h.8m-.1 0h.8m13.5 0h.8M3.1 26h.8m2.1 0h.8m-.1 0h.8m0 0h.8m3.6 0h.8m2.7 0h.8m.7 0h.8m5.9 0h.8m7.8 0h.8m3.9 0h.8m2.6 0h.8m2.8 0h.8m3.4 0h.8m1.1 0h.8m10.7 0h.8m0 0h.8m1.8 0h.8m1.2 0h.8m.4 0h.8m.3 0h.8m-.5 0h.8m-.3 0h.8m-.3 0h.8m.5 0h.8m1.8 0h.8m-.7 0h.8m.9 0h.8m.4 0h.8m2.5 0h.8m-.6 0h.8m6.8 0h.8m.2 0h.8m-.2 0h.8m-.1 0h.8m2.7 0h.8" stroke="#111" stroke-width="0.55" fill="none"/>
<line x1="75.2" y1="328.3" x2="75.2" y2="354.6" stroke="#d2492a" stroke-width="1.1"/>
<polyline points="94,354.5 97.2,344.3 100.7,335.3 103.7,328.6" fill="none" stroke="#4f5fc8" stroke-width="0.6"/>
<path d="M142.7 328.7h-1.3v25.5h1.3" fill="none" stroke="#222" stroke-width="0.9"/>
<path d="M41.7 364.2L45.5 363.9L48.1 363.7L51.6 365.1L55.1 365.1L58.7 366.5L61.6 369L65.7 366.9L68.3 368.3L70.9 367.7L73.5 364.2L77 359L80.2 361.6L84.1 366L87.6 369.5L91.1 370L93.7 369L98.1 364.8L102.4 361.3L106.8 359.2L110.3 358.5L113.8 356.4L117.3 359.2L120.8 361.6L124.3 363L128.7 366L132.2 367.7L135.7 368.3L139.2 369.5L141.8 369.8L141.8 374.6L139.2 374.3L135.7 373.1L132.2 372.5L128.7 370.8L124.3 367.8L120.8 366.4L117.3 364L113.8 361.2L110.3 363.3L106.8 364L102.4 366.1L98.1 369.6L93.7 373.8L91.1 374.8L87.6 374.3L84.1 370.8L80.2 366.4L77 363.8L73.5 369L70.9 372.5L68.3 373.1L65.7 371.7L61.6 373.8L58.7 371.3L55.1 369.9L51.6 369.9L48.1 368.5L45.5 368.7L41.7 369Z" fill="#86dc90" fill-opacity="0.6"/>
<path d="M41.7 366.4L45.5 367.6L49 368.3L52.5 368.5L56 367.3L58.7 367.6L61.6 369.7L65.7 365.5L70 364.1L74.4 361.7L77 359.4L80.2 361.7L84.1 365.9L87.6 368.7L91.1 369.7L93.7 369.4L98.1 365.5L102.4 362.4L106.8 359.4L110.3 358.5L113.8 357.1L117.3 359.9L120.8 360.6L124.3 362.9L128.7 366.4L132.2 369.4L135.7 369.4L139.2 368.7L141.8 367.6L141.8 371.6L139.2 372.7L135.7 373.4L132.2 373.4L128.7 370.4L124.3 366.9L120.8 364.6L117.3 363.9L113.8 361.1L110.3 362.5L106.8 363.4L102.4 366.4L98.1 369.5L93.7 373.4L91.1 373.7L87.6 372.7L84.1 369.9L80.2 365.7L77 363.4L74.4 365.7L70 368.1L65.7 369.5L61.6 373.7L58.7 371.6L56 371.3L52.5 372.5L49 372.3L45.5 371.6L41.7 370.4Z" fill="#5f9464" fill-opacity="0.45"/>
<path d="M41.7 366.6C42.3 366.6 44.4 366.4 45.5 366.3C46.6 366.2 47.1 365.9 48.1 366.1C49.2 366.3 50.5 367.3 51.6 367.5C52.8 367.8 54 367.3 55.1 367.5C56.3 367.8 57.6 368.3 58.7 368.9C59.7 369.6 60.5 371.3 61.6 371.4C62.8 371.4 64.5 369.4 65.7 369.3C66.8 369.2 67.4 370.5 68.3 370.7C69.2 370.8 70 370.8 70.9 370.1C71.8 369.5 72.5 368.1 73.5 366.6C74.6 365.2 75.9 361.8 77 361.4C78.2 360.9 79 362.8 80.2 364C81.4 365.2 82.8 367.1 84.1 368.4C85.3 369.7 86.4 371.2 87.6 371.9C88.7 372.6 90 372.5 91.1 372.4C92.1 372.3 92.5 372.2 93.7 371.4C94.9 370.5 96.6 368.5 98.1 367.2C99.5 365.9 101 364.6 102.4 363.7C103.9 362.7 105.5 362 106.8 361.6C108.1 361.1 109.2 361.3 110.3 360.9C111.5 360.4 112.7 358.6 113.8 358.8C115 358.9 116.2 360.7 117.3 361.6C118.5 362.4 119.7 363.4 120.8 364C122 364.7 123 364.7 124.3 365.4C125.7 366.1 127.4 367.6 128.7 368.4C130 369.2 131.1 369.8 132.2 370.1C133.4 370.5 134.6 370.4 135.7 370.7C136.9 371 138.2 371.6 139.2 371.9C140.3 372.2 141.4 372.2 141.8 372.2" fill="none" stroke="#35c04a" stroke-width="1.0"/>
<path d="M41.7 368.4C42.3 368.6 44.3 369.3 45.5 369.6C46.7 369.9 47.8 370.2 49 370.3C50.2 370.5 51.4 370.7 52.5 370.5C53.7 370.3 55 369.4 56 369.3C57 369.1 57.7 369.2 58.7 369.6C59.6 370 60.5 372.1 61.6 371.7C62.8 371.4 64.3 368.5 65.7 367.5C67.1 366.6 68.6 366.8 70 366.1C71.5 365.5 73.3 364.5 74.4 363.7C75.6 362.9 76.1 361.4 77 361.4C78 361.4 79 362.6 80.2 363.7C81.4 364.7 82.8 366.7 84.1 367.9C85.3 369 86.4 370 87.6 370.7C88.7 371.3 90 371.6 91.1 371.7C92.1 371.8 92.5 372.1 93.7 371.4C94.9 370.7 96.6 368.7 98.1 367.5C99.5 366.4 101 365.4 102.4 364.4C103.9 363.3 105.5 362 106.8 361.4C108.1 360.7 109.2 360.9 110.3 360.5C111.5 360.1 112.7 358.9 113.8 359.1C115 359.3 116.2 361.3 117.3 361.9C118.5 362.5 119.7 362.1 120.8 362.6C122 363.1 123 363.9 124.3 364.9C125.7 365.9 127.4 367.3 128.7 368.4C130 369.5 131.1 370.9 132.2 371.4C133.4 371.9 134.6 371.5 135.7 371.4C136.9 371.3 138.2 371 139.2 370.7C140.3 370.4 141.4 369.8 141.8 369.6" fill="none" stroke="#1a3a20" stroke-width="1.4"/>
<line x1="41.7" y1="355.3" x2="41.7" y2="380" stroke="#3a3a3a" stroke-width="1.1"/>
<line x1="41.2" y1="379.5" x2="142.4" y2="379.5" stroke="#3a3a3a" stroke-width="1.1"/>
<path d="M41.7 361.4h-1.8M41.7 372.8h-1.8M41.7 379.5v2M58.4 379.5v2M75.2 379.5v2M91.9 379.5v2M108.6 379.5v2M125.4 379.5v2M142.1 379.5v2" stroke="#3a3a3a" stroke-width="0.8" fill="none"/>
<path transform="translate(41.7 390.8)" d="M1.1 .3h.8m-.3 0h.8m.6 0h.8m.1 0h.8m2 0h.8m2.4 0h.8m.2 0h.8m2 0h.8m-.4 0h.8m7.2 0h.8m3.3 0h.8m1.6 0h.8m6.3 0h.8m6.7 0h.8m0 0h.8m.3 0h.8m4.7 0h.8m9.7 0h.8m1.2 0h.8m2.4 0h.8m1.7 0h.8m.6 0h.8m2.6 0h.8m.1 0h.8m2.6 0h.8m5 0h.8m2 0h.8M2.3 .8h.8m-.2 0h.8m-.6 0h.8m-.1 0h.8m.8 0h.8m.6 0h.8m2.3 0h.8m-.2 0h.8m2.3 0h.8m.1 0h.8m6.6 0h.8m9.1 0h.8m-.6 0h.8m.4 0h.8m-.2 0h.8m0 0h.8m-.6 0h.8m7.6 0h.8m6.9 0h.8m7.3 0h.8m6.6 0h.8m1.9 0h.8m5.5 0h.8m-.2 0h.8m-.1 0h.8m1 0h.8m1.1 0h.8m3.6 0h.8m-.2 0h.8m.7 0h.8m6.6 0h.8m1.8 0h.8M2.8 1.3h.8m-.7 0h.8m5 0h.8m-.3 0h.8m1.5 0h.8m1.7 0h.8m-.6 0h.8m.2 0h.8m-.6 0h.8m.7 0h.8m-.7 0h.8m3.4 0h.8m5.6 0h.8m.1 0h.8m6.5 0h.8m3.4 0h.8m1.3 0h.8m3.5 0h.8m.4 0h.8m.8 0h.8m12.6 0h.8m-.8 0h.8m2.9 0h.8m3.6 0h.8m-.1 0h.8m-.1 0h.8m3.7 0h.8m3.1 0h.8m3.7 0h.8m7.5 0h.8m-.1 0h.8m-.2 0h.8m-.4 0h.8M3 1.8h.8m.2 0h.8m2.5 0h.8m.5 0h.8m-.6 0h.8m-.2 0h.8m-.5 0h.8m.7 0h.8m-.2 0h.8m.3 0h.8m-.8 0h.8m.9 0h.8m3.7 0h.8m.1 0h.8m1.8 0h.8m2.4 0h.8m-.4 0h.8m9 0h.8m-.4 0h.8m-.4 0h.8m1 0h.8m1 0h.8m-.7 0h.8m3.1 0h.8m20.3 0h.8m-.2 0h.8m1.9 0h.8m-.3 0h.8m-.1 0h.8m5.1 0h.8m1.2 0h.8m.5 0h.8m2.4 0h.8m1.1 0h.8m.8 0h.8m5.7 0h.8m4.9 0h.8M1.8 2.4h.8m2.9 0h.8m.3 0h.8m-.7 0h.8m.7 0h.8m.2 0h.8m-.7 0h.8m6.5 0h.8m2.8 0h.8m3.2 0h.8m.9 0h.8m4.9 0h.8m1.3 0h.8m2.4 0h.8m10.8 0h.8m5.5 0h.8m-.2 0h.8m8.4 0h.8m3.6 0h.8m-.7 0h.8m.9 0h.8m.5 0h.8m-.2 0h.8m2.2 0h.8m-.1 0h.8m1.6 0h.8m5.1 0h.8m5.2 0h.8m.2 0h.8m.8 0h.8M2.4 2.9h.8m1.3 0h.8m.2 0h.8m0 0h.8m-.6 0h.8m-.5 0h.8m.6 0h.8m1.4 0h.8m.2 0h.8m-.4 0h.8m0 0h.8m.4 0h.8m0 0h.8m.1 0h.8m2.5 0h.8m.1 0h.8m-.7 0h.8m2.6 0h.8m-.5 0h.8m-.5 0h.8m0 0h.8m.7 0h.8m2.5 0h.8m3 0h.8m8.7 0h.8m8.3 0h.8m2.7 0h.8m7 0h.8m4.5 0h.8m.8 0h.8m3.1 0h.8m2.4 0h.8m-.6 0h.8m6.8 0h.8m1.5 0h.8m3.1 0h.8M1 3.4h.8m1.1 0h.8m-.5 0h.8m3.2 0h.8m1.7 0h.8m-.7 0h.8m4.3 0h.8m1.2 0h.8m-.4 0h.8m.1 0h.8m1.8 0h.8m7.1 0h.8m3.2 0h.8m3.1 0h.8m4.8 0h.8m4.8 0h.8m12.8 0h.8m1.4 0h.8m6.3 0h.8m-.3 0h.8m-.5 0h.8m-.1 0h.8m-.8 0h.8m-.5 0h.8m2.8 0h.8m.9 0h.8m3.3 0h.8m2.1 0h.8m5 0h.8m3.2 0h.8M2.8 3.9h.8m.9 0h.8m-.7 0h.8m-.6 0h.8m1.5 0h.8m-.6 0h.8m-.5 0h.8m-.5 0h.8m2 0h.8m-.1 0h.8m-.7 0h.8m1.5 0h.8m.5 0h.8m13.3 0h.8m2.7 0h.8m4.7 0h.8m-.3 0h.8m2.5 0h.8m8.5 0h.8m3.1 0h.8m.8 0h.8m.4 0h.8m4.5 0h.8m-.5 0h.8m3.3 0h.8m.4 0h.8m.3 0h.8m2.1 0h.8m3.2 0h.8m5 0h.8m.3 0h.8m.6 0h.8m.4 0h.8m1.8 0h.8m.7 0h.8m3.6 0h.8M1.6 4.5h.8m-.3 0h.8m0 0h.8m.5 0h.8m.6 0h.8m-.1 0h.8m-.5 0h.8m3.3 0h.8m.2 0h.8m-.7 0h.8m-.8 0h.8m.3 0h.8m.4 0h.8m2.7 0h.8m1.6 0h.8m1.2 0h.8m-.7 0h.8m0 0h.8m3.6 0h.8m1 0h.8m2.2 0h.8m1.8 0h.8m4.6 0h.8m2 0h.8m2.4 0h.8m-.2 0h.8m6.4 0h.8m18.2 0h.8m.4 0h.8m4 0h.8m-.8 0h.8m2.6 0h.8m.6 0h.8m-.7 0h.8m-.7 0h.8m.5 0h.8m12 0h.8M1.6 5h.8m1.7 0h.8m3.4 0h.8m-.1 0h.8m-.6 0h.8m.2 0h.8m-.3 0h.8m.5 0h.8m.6 0h.8m-.3 0h.8m-.7 0h.8m-.4 0h.8m1.3 0h.8m7 0h.8m.5 0h.8m6.4 0h.8m1.2 0h.8m.3 0h.8m10.3 0h.8m.2 0h.8m14.5 0h.8m2.6 0h.8m5.4 0h.8m2.5 0h.8m1.9 0h.8m4.5 0h.8m-.5 0h.8m11.6 0h.8M6.1 5.5h.8m10.4 0h.8m0 0h.8m5.4 0h.8m1.5 0h.8m3 0h.8m4 0h.8m2 0h.8m-.3 0h.8m-.5 0h.8m.9 0h.8m-.7 0h.8m.4 0h.8m1.6 0h.8m.1 0h.8m10.3 0h.8m2 0h.8m2.3 0h.8m6.1 0h.8m.7 0h.8m-.7 0h.8m3.6 0h.8m14.3 0h.8m1.2 0h.8m1 0h.8m2.6 0h.8m0 0h.8M3.7 6h.8m.3 0h.8m2.8 0h.8m1.9 0h.8m.4 0h.8m.4 0h.8m1.4 0h.8m-.6 0h.8m-.5 0h.8m1.2 0h.8m.3 0h.8m-.7 0h.8m-.6 0h.8m0 0h.8m2.7 0h.8m-.6 0h.8m6.2 0h.8m4.9 0h.8m-.4 0h.8m6.4 0h.8m1.6 0h.8m1.1 0h.8m1.7 0h.8m10.2 0h.8m.8 0h.8m9.1 0h.8m.1 0h.8m.4 0h.8m1 0h.8m0 0h.8m-.4 0h.8m3.6 0h.8m-.5 0h.8m2 0h.8m5.7 0h.8m1 0h.8m.7 0h.8M2.5 6.6h.8m-.6 0h.8m0 0h.8m.1 0h.8m-.2 0h.8m-.1 0h.8m2.8 0h.8m.5 0h.8m1.5 0h.8m.4 0h.8m-.2 0h.8m3.2 0h.8m4.9 0h.8m3.7 0h.8m6.6 0h.8m2 0h.8m10.8 0h.8m-.3 0h.8m10.3 0h.8m0 0h.8m1.1 0h.8m2.5 0h.8m1.4 0h.8m-.7 0h.8m.5 0h.8m7.7 0h.8m8.2 0h.8M4.2 7.1h.8m-.6 0h.8m-.4 0h.8m.5 0h.8m-.4 0h.8m3.9 0h.8m.6 0h.8m.5 0h.8m.1 0h.8m-.1 0h.8m2 0h.8m1.4 0h.8m5.2 0h.8m3.5 0h.8m-.2 0h.8m-.4 0h.8m2.7 0h.8m.2 0h.8m1.6 0h.8m-.8 0h.8m3 0h.8m-.1 0h.8m-.2 0h.8m13.1 0h.8m-.6 0h.8m6.9 0h.8m-.6 0h.8m1.9 0h.8m-.1 0h.8m-.4 0h.8m6.8 0h.8m-.6 0h.8m.3 0h.8m-.5 0h.8m7.4 0h.8m1.5 0h.8m3.1 0h.8M2 7.6h.8m.1 0h.8m-.3 0h.8m2.2 0h.8m.9 0h.8m.8 0h.8m1.4 0h.8m-.2 0h.8m1.7 0h.8m0 0h.8m1.2 0h.8m20.1 0h.8m1.7 0h.8m3.5 0h.8m7.8 0h.8m1.6 0h.8m2.9 0h.8m2.7 0h.8m1.6 0h.8m4.4 0h.8m.6 0h.8m3.8 0h.8m1 0h.8m3.8 0h.8m9 0h.8m-.3 0h.8M3.3 8.2h.8m.5 0h.8m-.7 0h.8m1.1 0h.8m-.1 0h.8m.5 0h.8m-.3 0h.8m-.1 0h.8m4 0h.8m3.6 0h.8m3.1 0h.8m8.7 0h.8m-.7 0h.8m1.2 0h.8m6.6 0h.8m7.4 0h.8m0 0h.8m8.3 0h.8m.3 0h.8m4 0h.8m4.9 0h.8m0 0h.8m0 0h.8m.8 0h.8m2.4 0h.8m5.3 0h.8m-.5 0h.8m-.5 0h.8m2.1 0h.8m8.9 0h.8M2.5 8.7h.8m1 0h.8m-.7 0h.8m-.7 0h.8m3.3 0h.8m.6 0h.8m3.2 0h.8m.9 0h.8m1.9 0h.8m8.1 0h.8m.6 0h.8m3.4 0h.8m1.8 0h.8m0 0h.8m-.4 0h.8m.2 0h.8m6.9 0h.8m2.3 0h.8m1.1 0h.8m0 0h.8m.3 0h.8m9.5 0h.8m-.4 0h.8m2.5 0h.8m2.4 0h.8m-.4 0h.8m-.7 0h.8m3.3 0h.8m1.6 0h.8m.5 0h.8m.2 0h.8m1.9 0h.8m7.4 0h.8m2.9 0h.8M.1 9.2h.8m2 0h.8m-.4 0h.8m0 0h.8m1.5 0h.8m-.7 0h.8m.4 0h.8m2.4 0h.8m1.8 0h.8m-.4 0h.8m7.9 0h.8m0 0h.8m-.2 0h.8m.6 0h.8m-.1 0h.8m7.5 0h.8m2.2 0h.8m5.6 0h.8m2.9 0h.8m1.7 0h.8m3.3 0h.8m6.3 0h.8m1.4 0h.8m-.5 0h.8m.2 0h.8m2.4 0h.8m2.9 0h.8m.3 0h.8m2 0h.8m7.6 0h.8m6.1 0h.8m-.4 0h.8m2.1 0h.8M.6 9.7h.8m.9 0h.8m2.6 0h.8m-.1 0h.8m-.3 0h.8m.7 0h.8m-.1 0h.8m-.6 0h.8m1.4 0h.8m2.1 0h.8m2.3 0h.8m1.1 0h.8m1.6 0h.8m-.8 0h.8m3.1 0h.8m8.2 0h.8m4.1 0h.8m2.1 0h.8m.6 0h.8m-.5 0h.8m.5 0h.8m3.1 0h.8m-.2 0h.8m9.2 0h.8m2.3 0h.8m1.9 0h.8m-.3 0h.8m-.1 0h.8m5.3 0h.8m1.7 0h.8m-.4 0h.8m2.2 0h.8m-.2 0h.8m3 0h.8m.3 0h.8m8.1 0h.8M1 10.3h.8m3.5 0h.8m.3 0h.8m-.2 0h.8m-.5 0h.8m0 0h.8m8.4 0h.8m.8 0h.8m1.4 0h.8m-.7 0h.8m.9 0h.8m3.5 0h.8m5.1 0h.8m4.8 0h.8m1.3 0h.8m.8 0h.8m6.8 0h.8m2.9 0h.8m4.8 0h.8m-.7 0h.8m2.3 0h.8m.7 0h.8m3.3 0h.8m1.8 0h.8m1.4 0h.8m.2 0h.8m1.3 0h.8m.6 0h.8m-.7 0h.8m5.3 0h.8m-.2 0h.8m.8 0h.8m-.7 0h.8m11.4 0h.8M.1 10.8h.8m-.8 0h.8m0 0h.8m-.3 0h.8m1.6 0h.8m1.1 0h.8m1.5 0h.8m.6 0h.8m2.1 0h.8m-.6 0h.8m.4 0h.8m1.5 0h.8m6.8 0h.8m1 0h.8m1.4 0h.8m7.4 0h.8m3.1 0h.8m.3 0h.8m-.2 0h.8m.2 0h.8m0 0h.8m2.1 0h.8m18.1 0h.8m0 0h.8m3 0h.8m.2 0h.8m.1 0h.8m1.4 0h.8m.4 0h.8m.5 0h.8m.5 0h.8m3.2 0h.8m-.6 0h.8m3.7 0h.8m9.3 0h.8M.6 11.3h.8m-.5 0h.8m1.5 0h.8m1.3 0h.8m.1 0h.8m-.7 0h.8m.3 0h.8m-.4 0h.8m-.5 0h.8m-.2 0h.8m.2 0h.8m-.7 0h.8m.5 0h.8m1.4 0h.8m4.7 0h.8m-.7 0h.8m5.6 0h.8m6.8 0h.8m.5 0h.8m-.4 0h.8m2.4 0h.8m5.1 0h.8m1.7 0h.8m6.9 0h.8m1.2 0h.8m.7 0h.8m.5 0h.8m.3 0h.8m3.3 0h.8m4.4 0h.8m-.1 0h.8m7.3 0h.8m.3 0h.8m2.4 0h.8m6.8 0h.8m0 0h.8m.9 0h.8M1.8 11.8h.8m.9 0h.8m1.3 0h.8m0 0h.8m-.4 0h.8m2.3 0h.8m-.5 0h.8m-.5 0h.8m3.6 0h.8m-.6 0h.8m-.7 0h.8m.9 0h.8m5.2 0h.8m3.5 0h.8m0 0h.8m3.8 0h.8m1 0h.8m26.8 0h.8m2.2 0h.8m2.1 0h.8m3 0h.8m-.4 0h.8m1.8 0h.8m1.1 0h.8m6.9 0h.8m.8 0h.8m8.6 0h.8m-.8 0h.8m.1 0h.8M2.8 12.4h.8m.2 0h.8m-.1 0h.8m.7 0h.8m1.5 0h.8m-.1 0h.8m-.1 0h.8m4.3 0h.8m1.3 0h.8m2 0h.8m5.6 0h.8m1.7 0h.8m3.1 0h.8m1.3 0h.8m.7 0h.8m3 0h.8m2.2 0h.8m21.3 0h.8m2.9 0h.8m-.2 0h.8m1 0h.8m.8 0h.8m-.7 0h.8m2.2 0h.8m2.6 0h.8m1.1 0h.8m.9 0h.8m-.4 0h.8m-.3 0h.8m.5 0h.8m4.5 0h.8M2.2 12.9h.8m-.5 0h.8m.8 0h.8m.4 0h.8m.9 0h.8m-.4 0h.8m-.5 0h.8m3.1 0h.8m-.4 0h.8m.7 0h.8m-.2 0h.8m.2 0h.8m-.3 0h.8m1.7 0h.8m5.1 0h.8m1.2 0h.8m9 0h.8m10.3 0h.8m2.6 0h.8m8.1 0h.8m5.5 0h.8m4.1 0h.8m-.5 0h.8m.3 0h.8m5.1 0h.8m2 0h.8m-.2 0h.8m7.2 0h.8M2.2 13.4h.8m1.1 0h.8m-.6 0h.8m1.4 0h.8m-.1 0h.8m0 0h.8m1 0h.8m3.9 0h.8m4 0h.8m9 0h.8m2.9 0h.8m.3 0h.8m3 0h.8m7.3 0h.8m16.8 0h.8m2.3 0h.8m1.2 0h.8m1.5 0h.8m-.6 0h.8m-.5 0h.8m.5 0h.8m-.4 0h.8m2.4 0h.8m-.5 0h.8m.1 0h.8m.7 0h.8m-.6 0h.8m1.8 0h.8m4.2 0h.8m6.7 0h.8M.2 13.9h.8m-.2 0h.8m8.7 0h.8m.3 0h.8m.1 0h.8m1.2 0h.8m.1 0h.8m.8 0h.8m1.9 0h.8m3.6 0h.8m.5 0h.8m-.5 0h.8m9 0h.8m0 0h.8m.6 0h.8m-.5 0h.8m5.2 0h.8m3.5 0h.8m11.3 0h.8m-.6 0h.8m1.2 0h.8m.6 0h.8m1.4 0h.8m2 0h.8m1.5 0h.8m-.2 0h.8m.8 0h.8m2.2 0h.8m.1 0h.8m2.7 0h.8m2.4 0h.8M1.8 14.5h.8m6.6 0h.8m2.5 0h.8m-.7 0h.8m4.4 0h.8m-.3 0h.8m3.1 0h.8m1 0h.8m-.3 0h.8m1.7 0h.8m3.3 0h.8m4.6 0h.8m-.6 0h.8m5.8 0h.8m10 0h.8m9.5 0h.8m6.4 0h.8m-.1 0h.8m2.3 0h.8m-.7 0h.8m-.6 0h.8m4.6 0h.8m-.2 0h.8m4.4 0h.8m-.2 0h.8m.6 0h.8m-.3 0h.8m.1 0h.8M.8 15h.8m.5 0h.8m-.6 0h.8m-.2 0h.8m4.1 0h.8m1.3 0h.8m.4 0h.8m.5 0h.8m-.8 0h.8m-.7 0h.8m-.2 0h.8m3.2 0h.8m.3 0h.8m.7 0h.8m7.2 0h.8m2.4 0h.8m6.5 0h.8m2.2 0h.8m-.8 0h.8m-.3 0h.8m-.2 0h.8m3.2 0h.8m8.1 0h.8m5.1 0h.8m2.4 0h.8m2.3 0h.8m0 0h.8m.1 0h.8m.4 0h.8m-.6 0h.8m2.1 0h.8m.2 0h.8m2.3 0h.8m-.2 0h.8m6.5 0h.8m5.1 0h.8M.9 15.5h.8m.6 0h.8m0 0h.8m-.4 0h.8m1.5 0h.8m0 0h.8m-.3 0h.8m-.5 0h.8m-.7 0h.8m-.6 0h.8m-.5 0h.8m-.4 0h.8m1.4 0h.8m2.8 0h.8m1.7 0h.8m2.3 0h.8m7.9 0h.8m3.5 0h.8m5.9 0h.8m3.9 0h.8m.2 0h.8m4.2 0h.8m8.6 0h.8m5.6 0h.8m.8 0h.8m-.4 0h.8m.6 0h.8m.3 0h.8m-.3 0h.8m4.6 0h.8m2 0h.8m2.5 0h.8m6.8 0h.8m6.4 0h.8M1.1 16h.8m0 0h.8m1 0h.8m0 0h.8m1.3 0h.8m-.6 0h.8m-.6 0h.8m0 0h.8m-.8 0h.8m.8 0h.8m-.5 0h.8m.8 0h.8m-.7 0h.8m-.6 0h.8m2.1 0h.8m4.2 0h.8m-.7 0h.8m.1 0h.8m2.5 0h.8m7.3 0h.8m2.9 0h.8m4.7 0h.8m7.8 0h.8m3.1 0h.8m5.6 0h.8m-.6 0h.8m2 0h.8m.2 0h.8m.1 0h.8m2.1 0h.8m4.4 0h.8m.3 0h.8m1.2 0h.8m-.4 0h.8m1.1 0h.8m1.6 0h.8m5.7 0h.8m5.6 0h.8M6.1 16.6h.8m-.1 0h.8m-.1 0h.8m.4 0h.8m.2 0h.8m.6 0h.8m-.7 0h.8m4.8 0h.8m-.4 0h.8m-.2 0h.8m5.3 0h.8m-.1 0h.8m2.7 0h.8m7.4 0h.8m-.4 0h.8m3.5 0h.8m-.3 0h.8m4.8 0h.8m12 0h.8m4.9 0h.8m-.1 0h.8m.6 0h.8m.9 0h.8m.6 0h.8m.2 0h.8m-.6 0h.8m2.6 0h.8m.7 0h.8m-.4 0h.8m-.7 0h.8m.1 0h.8m4.3 0h.8m11.6 0h.8M.5 17.1h.8m.4 0h.8m1.4 0h.8m5.7 0h.8m-.6 0h.8m4.2 0h.8m-.1 0h.8m-.3 0h.8m.2 0h.8m-.4 0h.8m-.7 0h.8m0 0h.8m-.8 0h.8m-.7 0h.8m3.6 0h.8m.9 0h.8m4.1 0h.8m3.4 0h.8m6.9 0h.8m.4 0h.8m15.1 0h.8m3.6 0h.8m6.6 0h.8m5.9 0h.8m.2 0h.8m0 0h.8m0 0h.8m2.7 0h.8m5.5 0h.8m6.5 0h.8M.7 17.6h.8m1.5 0h.8m-.5 0h.8m7 0h.8m.2 0h.8m0 0h.8m-.1 0h.8m-.1 0h.8m2.3 0h.8m.2 0h.8m11.1 0h.8m7 0h.8m1.2 0h.8m11.5 0h.8m2.3 0h.8m4.7 0h.8m1.3 0h.8m3.3 0h.8m.1 0h.8m.7 0h.8m.5 0h.8m1.5 0h.8m-.6 0h.8m1.8 0h.8m6.6 0h.8m1.8 0h.8m1.5 0h.8m7.3 0h.8M0 18.1h.8m4 0h.8m-.1 0h.8m-.7 0h.8m.6 0h.8m-.3 0h.8m.2 0h.8m-.2 0h.8m-.5 0h.8m0 0h.8m.8 0h.8m-.3 0h.8m-.4 0h.8m-.6 0h.8m.8 0h.8m.2 0h.8m1.8 0h.8m2.3 0h.8m.5 0h.8m2.4 0h.8m1.2 0h.8m.8 0h.8m3.1 0h.8m.8 0h.8m.8 0h.8m2.6 0h.8m1.2 0h.8m7.4 0h.8m-.2 0h.8m10.3 0h.8m2.9 0h.8m1 0h.8m7.2 0h.8m-.7 0h.8m.6 0h.8m-.4 0h.8m16 0h.8M.2 18.7h.8m1.8 0h.8m4.6 0h.8m2.5 0h.8m.8 0h.8m.1 0h.8m1.4 0h.8m2.6 0h.8m-.5 0h.8m-.1 0h.8m-.2 0h.8m.1 0h.8m-.3 0h.8m1.3 0h.8m1.3 0h.8m-.5 0h.8m2.7 0h.8m0 0h.8m6.3 0h.8m2.8 0h.8m1.7 0h.8m-.5 0h.8m7 0h.8m4.9 0h.8m0 0h.8m.9 0h.8m4.6 0h.8m3.5 0h.8m.7 0h.8m1.1 0h.8m-.6 0h.8m2.1 0h.8m4 0h.8m.5 0h.8m1.2 0h.8m2.3 0h.8m.1 0h.8m7.2 0h.8M.7 19.2h.8m.8 0h.8m.2 0h.8m-.8 0h.8m1 0h.8m3 0h.8m-.2 0h.8m1.9 0h.8m-.6 0h.8m4.7 0h.8m1.1 0h.8m2 0h.8m1 0h.8m10.7 0h.8m2 0h.8m0 0h.8m-.1 0h.8m1.8 0h.8m6.4 0h.8m7.1 0h.8m-.7 0h.8m1.2 0h.8m-.3 0h.8m-.2 0h.8m-.8 0h.8m-.3 0h.8m-.3 0h.8m5.5 0h.8m3.1 0h.8m.4 0h.8m5.9 0h.8m-.1 0h.8m1.8 0h.8M1.2 19.7h.8m-.8 0h.8m5.7 0h.8m4.9 0h.8m1.1 0h.8m-.1 0h.8m-.5 0h.8m-.2 0h.8m3.1 0h.8m.9 0h.8m3.1 0h.8m.3 0h.8m3.8 0h.8m8.1 0h.8m11.6 0h.8m3.4 0h.8m2.1 0h.8m.2 0h.8m-.3 0h.8m-.8 0h.8m2.4 0h.8m2 0h.8m3.9 0h.8m3.5 0h.8m.9 0h.8m-.6 0h.8m5.2 0h.8M.4 20.3h.8m-.1 0h.8m-.5 0h.8m7.1 0h.8m.2 0h.8m.9 0h.8m-.1 0h.8m1.7 0h.8m.9 0h.8m1.5 0h.8m-.4 0h.8m.7 0h.8m-.3 0h.8m3.9 0h.8m2 0h.8m1 0h.8m.7 0h.8m1.5 0h.8m-.2 0h.8m.1 0h.8m13 0h.8m1.4 0h.8m3.8 0h.8m4.2 0h.8m2.8 0h.8m-.1 0h.8m4.4 0h.8m2.5 0h.8m3 0h.8m2.3 0h.8m9.2 0h.8m2.9 0h.8m1.5 0h.8M4.3 20.8h.8m2.1 0h.8m-.2 0h.8m1.8 0h.8m1.5 0h.8m-.2 0h.8m.4 0h.8m-.5 0h.8m-.6 0h.8m1.5 0h.8m.8 0h.8m2.6 0h.8m-.3 0h.8m2.2 0h.8m3.7 0h.8m2.5 0h.8m.4 0h.8m2.3 0h.8m5.2 0h.8m8.6 0h.8m-.7 0h.8m5.6 0h.8m1.2 0h.8m-.4 0h.8m1 0h.8m2.3 0h.8m2.3 0h.8m-.8 0h.8m-.6 0h.8m-.6 0h.8m2.5 0h.8m4 0h.8m.9 0h.8m3.3 0h.8m2.6 0h.8m2.2 0h.8m4.3 0h.8M1.6 21.3h.8m1 0h.8m.6 0h.8m3.1 0h.8m-.2 0h.8m2.3 0h.8m-.5 0h.8m.5 0h.8m.6 0h.8m1.1 0h.8m5.6 0h.8m2.9 0h.8m3.7 0h.8m-.1 0h.8m.1 0h.8m2.3 0h.8m2.8 0h.8m8.7 0h.8m.6 0h.8m8.6 0h.8m.6 0h.8m-.6 0h.8m-.8 0h.8m1.4 0h.8m-.6 0h.8m-.6 0h.8m-.8 0h.8m-.7 0h.8m3.6 0h.8m.3 0h.8m2 0h.8m2.7 0h.8m2.6 0h.8m2.7 0h.8m.4 0h.8m1.6 0h.8M.5 21.8h.8m.2 0h.8m-.8 0h.8m-.6 0h.8m-.2 0h.8m5.7 0h.8m2.9 0h.8m3.9 0h.8m2.2 0h.8m-.5 0h.8m8.1 0h.8m.2 0h.8m2.4 0h.8m-.3 0h.8m.7 0h.8m.6 0h.8m-.3 0h.8m-.3 0h.8m-.4 0h.8m.2 0h.8m6.5 0h.8m2.3 0h.8m.3 0h.8m4.7 0h.8m.9 0h.8m2.8 0h.8m.9 0h.8m7.5 0h.8m-.4 0h.8m.9 0h.8m1.9 0h.8m2.6 0h.8m8.4 0h.8m.1 0h.8m4.6 0h.8M1.6 22.4h.8m.6 0h.8m-.3 0h.8m1 0h.8m-.3 0h.8m-.3 0h.8m4.2 0h.8m1 0h.8m-.4 0h.8m.6 0h.8m1.4 0h.8m2.4 0h.8m-.6 0h.8m3 0h.8m1.8 0h.8m-.1 0h.8m6.9 0h.8m-.7 0h.8m11.8 0h.8m5.2 0h.8m.7 0h.8m6.8 0h.8m0 0h.8m0 0h.8m-.1 0h.8m-.3 0h.8m3.9 0h.8m2.2 0h.8m2.5 0h.8m2.1 0h.8m10.5 0h.8m2.2 0h.8m-.1 0h.8M.3 22.9h.8m2.7 0h.8m-.5 0h.8m-.3 0h.8m.5 0h.8m2.2 0h.8m-.6 0h.8m2 0h.8m-.8 0h.8m-.2 0h.8m1.7 0h.8m3.6 0h.8m-.7 0h.8m-.3 0h.8m-.4 0h.8m.1 0h.8m4.4 0h.8m7.9 0h.8m-.2 0h.8m3.3 0h.8m10.5 0h.8m1.2 0h.8m5.3 0h.8m4.5 0h.8m6.6 0h.8m.4 0h.8m3.2 0h.8m.5 0h.8m1.1 0h.8m3.5 0h.8m4.3 0h.8m-.4 0h.8m3.8 0h.8m.9 0h.8M5.8 23.4h.8m1.2 0h.8m6.2 0h.8m-.4 0h.8m.6 0h.8m7.5 0h.8m4.4 0h.8m1.1 0h.8m-.4 0h.8m4.5 0h.8m.5 0h.8m.3 0h.8m8.9 0h.8m2.6 0h.8m11.3 0h.8m2.1 0h.8m.4 0h.8m-.7 0h.8m1 0h.8m-.4 0h.8m4.1 0h.8m-.4 0h.8m.4 0h.8m12.6 0h.8m1.4 0h.8m1.1 0h.8m1.1 0h.8M.4 23.9h.8m-.3 0h.8m2.1 0h.8m2.8 0h.8m-.3 0h.8m4 0h.8m1.1 0h.8m.2 0h.8m1.4 0h.8m.4 0h.8m.5 0h.8m-.7 0h.8m4.5 0h.8m-.6 0h.8m1.9 0h.8m7.4 0h.8m.1 0h.8m6.8 0h.8m2.6 0h.8m9.6 0h.8m3 0h.8m1.1 0h.8m2.7 0h.8m-.5 0h.8m.3 0h.8m-.2 0h.8m2.1 0h.8m5.9 0h.8m2.3 0h.8m3.6 0h.8m.2 0h.8m1.1 0h.8m.9 0h.8m4.6 0h.8M.6 24.5h.8m6.4 0h.8m-.8 0h.8m1 0h.8m.2 0h.8m-.2 0h.8m4.1 0h.8m.1 0h.8m.4 0h.8m.3 0h.8m3 0h.8m.9 0h.8m-.8 0h.8m2.5 0h.8m-.7 0h.8m.9 0h.8m.8 0h.8m3.8 0h.8m-.6 0h.8m.1 0h.8m.6 0h.8m4.1 0h.8m18.7 0h.8m1.8 0h.8m-.1 0h.8m.4 0h.8m1.8 0h.8m1 0h.8m-.1 0h.8m-.6 0h.8m.8 0h.8m7.6 0h.8m1.7 0h.8m5.1 0h.8M2.8 25h.8m0 0h.8m3.3 0h.8m.1 0h.8m-.3 0h.8m1.1 0h.8m.6 0h.8m-.2 0h.8m2.4 0h.8m-.6 0h.8m2.3 0h.8m2.5 0h.8m.7 0h.8m2.2 0h.8m.9 0h.8m3.4 0h.8m0 0h.8m1.1 0h.8m.5 0h.8m1.4 0h.8m3.1 0h.8m10.1 0h.8m-.6 0h.8m6.7 0h.8m-.7 0h.8m.7 0h.8m2.3 0h.8m8.5 0h.8m.6 0h.8m.5 0h.8m13.3 0h.8m0 0h.8M4.7 25.5h.8m1.7 0h.8m-.4 0h.8m-.4 0h.8m4.6 0h.8m-.8 0h.8m.4 0h.8m.8 0h.8m-.1 0h.8m0 0h.8m2.1 0h.8m2.6 0h.8m5.1 0h.8m-.6 0h.8m2.4 0h.8m3.8 0h.8m3.9 0h.8m3.2 0h.8m2.6 0h.8m.1 0h.8m-.8 0h.8m1.9 0h.8m2.4 0h.8m3.5 0h.8m7.1 0h.8m-.7 0h.8m3.8 0h.8m3 0h.8m-.1 0h.8m1 0h.8m3.2 0h.8m3.3 0h.8M.8 26h.8m-.3 0h.8m.7 0h.8m2.6 0h.8m-.6 0h.8m.2 0h.8m-.7 0h.8m.2 0h.8m0 0h.8m.4 0h.8m4.8 0h.8m6.7 0h.8m-.3 0h.8m-.3 0h.8m1.9 0h.8m-.7 0h.8m6.1 0h.8m1.6 0h.8m5.2 0h.8m9.2 0h.8m8 0h.8m-.2 0h.8m1.9 0h.8m.3 0h.8m2.3 0h.8m3.2 0h.8m3.6 0h.8m.8 0h.8m2.1 0h.8m12.6 0h.8" stroke="#111" stroke-width="0.55" fill="none"/>
<line x1="75.2" y1="390.8" x2="75.2" y2="417.1" stroke="#d2492a" stroke-width="1.1"/>
<polyline points="96.3,416.6 99.2,406.8 102.2,398.8 105.5,391.3" fill="none" stroke="#4f5fc8" stroke-width="0.6"/>
<path d="M142.7 391.2h-1.3v25.5h1.3" fill="none" stroke="#222" stroke-width="0.9"/>
<path transform="translate(41.7 419.2)" d="M.6 .3h.8m22.1 0h.8m4.5 0h.8m2.4 0h.8m.7 0h.8m-.7 0h.8m8.2 0h.8m4.6 0h.8m7.7 0h.8m1.6 0h.8m3.4 0h.8m1.5 0h.8m1.2 0h.8m0 0h.8m.8 0h.8m3.4 0h.8m1.7 0h.8m3 0h.8m3.8 0h.8m.1 0h.8m8.3 0h.8m.3 0h.8M1.4 .8h.8m.4 0h.8m-.4 0h.8m2.2 0h.8m3.3 0h.8m4.8 0h.8m.8 0h.8m6.3 0h.8m2.5 0h.8m2.4 0h.8m-.2 0h.8m.3 0h.8m2 0h.8m-.5 0h.8m.2 0h.8m2.6 0h.8m.8 0h.8m3 0h.8m5.8 0h.8m10.6 0h.8m2.2 0h.8m.9 0h.8m.5 0h.8m.9 0h.8m3.4 0h.8m1.6 0h.8m-.4 0h.8m2.9 0h.8m.5 0h.8m.1 0h.8m4.4 0h.8m-.3 0h.8M7.7 1.3h.8m2.3 0h.8m6 0h.8m7.6 0h.8m5.2 0h.8m2.9 0h.8m2 0h.8m-.2 0h.8m2.1 0h.8m3.7 0h.8m1.4 0h.8m8.2 0h.8m.1 0h.8m1.4 0h.8m.4 0h.8m.7 0h.8m4.5 0h.8m5 0h.8m0 0h.8m-.5 0h.8m.6 0h.8m-.7 0h.8m9.9 0h.8m-.1 0h.8M2.4 1.8h.8m16.3 0h.8m-.2 0h.8m2.5 0h.8m.1 0h.8m-.2 0h.8m-.1 0h.8m7.2 0h.8m1 0h.8m-.1 0h.8m3.1 0h.8m8.7 0h.8m1.4 0h.8m2.5 0h.8m.6 0h.8m7.4 0h.8m2.8 0h.8m.2 0h.8m3.5 0h.8m.1 0h.8m2.8 0h.8m-.4 0h.8m1.7 0h.8m-.7 0h.8m6.1 0h.8m0 0h.8m1.2 0h.8m4.2 0h.8M.4 2.4h.8m.2 0h.8m6 0h.8m3.7 0h.8m.5 0h.8m4.6 0h.8m.5 0h.8m3.8 0h.8m3.7 0h.8m.8 0h.8m.6 0h.8m2.2 0h.8m4.6 0h.8m0 0h.8m2.4 0h.8m-.2 0h.8m4 0h.8m2.9 0h.8m1.1 0h.8m13 0h.8m8.6 0h.8m0 0h.8m3.6 0h.8m2.4 0h.8M8.9 2.9h.8m.7 0h.8m15.1 0h.8m8.5 0h.8m2 0h.8m3.6 0h.8m.3 0h.8m.2 0h.8m.9 0h.8m-.3 0h.8m.4 0h.8m-.6 0h.8m12.3 0h.8m.4 0h.8m.3 0h.8m0 0h.8m.5 0h.8m3.3 0h.8m.7 0h.8m-.8 0h.8m2.1 0h.8m0 0h.8m-.5 0h.8m.1 0h.8m1.6 0h.8m-.7 0h.8m1.5 0h.8m.7 0h.8m3.3 0h.8m4 0h.8m0 0h.8m-.1 0h.8M.4 3.4h.8m4.7 0h.8m-.6 0h.8m-.1 0h.8m-.6 0h.8m.2 0h.8m.8 0h.8m9.7 0h.8m9.7 0h.8m1.8 0h.8m8 0h.8m4.6 0h.8m-.4 0h.8m18.9 0h.8m.6 0h.8m5.1 0h.8m1.7 0h.8m-.6 0h.8m3.9 0h.8m2.3 0h.8m-.6 0h.8m.6 0h.8m-.6 0h.8m2.1 0h.8M1.3 4h.8m.3 0h.8m3.9 0h.8m1.5 0h.8m1.8 0h.8m4.4 0h.8m.1 0h.8m1.4 0h.8m10.6 0h.8m0 0h.8m1.9 0h.8m3.5 0h.8m2.5 0h.8m6.1 0h.8m1.9 0h.8m3.9 0h.8m2.1 0h.8m5.1 0h.8m1.8 0h.8m.4 0h.8m3.4 0h.8m4.1 0h.8m1.9 0h.8m.5 0h.8m1.3 0h.8m2.4 0h.8m1.2 0h.8m-.5 0h.8m1.3 0h.8M1.2 4.5h.8m6.6 0h.8m.7 0h.8m5 0h.8m2.4 0h.8m-.5 0h.8m3.4 0h.8m6.3 0h.8m1.4 0h.8m7.5 0h.8m0 0h.8m-.5 0h.8m1.8 0h.8m-.3 0h.8m-.7 0h.8m11.3 0h.8m6.4 0h.8m-.7 0h.8m1.2 0h.8m2.3 0h.8m1.7 0h.8m.9 0h.8m.9 0h.8m-.1 0h.8m.1 0h.8m7.7 0h.8m.4 0h.8m9.5 0h.8m-.6 0h.8M.7 5h.8m-.6 0h.8m-.7 0h.8m.3 0h.8m5.2 0h.8m3.3 0h.8m9.8 0h.8m3.8 0h.8m7.1 0h.8m.7 0h.8m-.7 0h.8m4.5 0h.8m7.5 0h.8m9.1 0h.8m1.7 0h.8m5.8 0h.8m-.4 0h.8m11.1 0h.8m-.7 0h.8m-.7 0h.8m.1 0h.8m-.6 0h.8m13.8 0h.8M.2 5.5h.8m-.8 0h.8m-.2 0h.8m.8 0h.8m.6 0h.8m0 0h.8m-.6 0h.8m1.1 0h.8m-.5 0h.8m-.6 0h.8m9.1 0h.8m2.5 0h.8m4.6 0h.8m2.9 0h.8m1.4 0h.8m-.5 0h.8m11.6 0h.8m7.2 0h.8m12.4 0h.8m1.5 0h.8m1.6 0h.8m.1 0h.8m6.3 0h.8m2.1 0h.8m-.1 0h.8m.2 0h.8m.9 0h.8m.1 0h.8m.5 0h.8m4.1 0h.8m1.9 0h.8M1.1 6.1h.8m15.9 0h.8m3.1 0h.8m-.7 0h.8m5.9 0h.8m2.6 0h.8m6.4 0h.8m-.1 0h.8m.2 0h.8m-.1 0h.8m-.4 0h.8m.4 0h.8m2.9 0h.8m5.4 0h.8m.4 0h.8m9.8 0h.8m2.9 0h.8m1.8 0h.8m-.1 0h.8m1.2 0h.8m-.4 0h.8m.1 0h.8m1.7 0h.8m9.2 0h.8m.2 0h.8m-.1 0h.8m-.3 0h.8M4 6.6h.8m5.3 0h.8m12.9 0h.8m1.7 0h.8m.6 0h.8m2 0h.8m2 0h.8m.2 0h.8m.2 0h.8m2.8 0h.8m-.7 0h.8m-.7 0h.8m1.6 0h.8m11.1 0h.8m16.4 0h.8m.9 0h.8m-.1 0h.8m-.8 0h.8m.6 0h.8m1.4 0h.8m0 0h.8m1.5 0h.8m1.1 0h.8m2.4 0h.8m5.5 0h.8m3.6 0h.8m.1 0h.8M6.5 7.1h.8m4.1 0h.8m16.4 0h.8m-.3 0h.8m.5 0h.8m3 0h.8m21.8 0h.8m-.1 0h.8m5.6 0h.8m.2 0h.8m2.1 0h.8m-.4 0h.8m2.4 0h.8m1.5 0h.8m.3 0h.8m-.2 0h.8m-.2 0h.8m.2 0h.8m4 0h.8m12.4 0h.8m.4 0h.8m-.8 0h.8m-.1 0h.8M.2 7.7h.8m7.9 0h.8m-.1 0h.8m8.5 0h.8m4.4 0h.8m.8 0h.8m3.8 0h.8m1.8 0h.8m-.7 0h.8m5.6 0h.8m3.4 0h.8m3 0h.8m24.1 0h.8m.1 0h.8m1.7 0h.8m-.6 0h.8m-.4 0h.8m2.4 0h.8m-.7 0h.8m-.2 0h.8m3.3 0h.8m-.5 0h.8m-.8 0h.8M3.5 8.2h.8m-.6 0h.8m16.1 0h.8m14.1 0h.8m-.7 0h.8m1.7 0h.8m-.3 0h.8m1.1 0h.8m-.4 0h.8m2.1 0h.8m7.9 0h.8m6.8 0h.8m-.5 0h.8m.6 0h.8m2 0h.8m5.2 0h.8m.4 0h.8m-.7 0h.8m-.4 0h.8m2.6 0h.8m-.5 0h.8m1.3 0h.8m-.6 0h.8m0 0h.8m.8 0h.8m-.5 0h.8m-.3 0h.8m.9 0h.8m2.5 0h.8m4.2 0h.8m0 0h.8M.4 8.7h.8m1.9 0h.8m2.1 0h.8m.9 0h.8m-.2 0h.8m19.6 0h.8m1.6 0h.8m4.8 0h.8m6.3 0h.8m-.4 0h.8m1.2 0h.8m8.1 0h.8m1 0h.8m2.8 0h.8m2.7 0h.8m1.6 0h.8m-.2 0h.8m-.7 0h.8m1.5 0h.8m2.5 0h.8m-.7 0h.8m-.6 0h.8m1.4 0h.8m1.2 0h.8m-.6 0h.8m.9 0h.8m4.3 0h.8m-.2 0h.8m-.2 0h.8m2.8 0h.8m2.2 0h.8M14.3 9.2h.8m2.6 0h.8m6.3 0h.8m5.6 0h.8m2.3 0h.8m.8 0h.8m-.1 0h.8m.7 0h.8m1.1 0h.8m15.2 0h.8m2.2 0h.8m2.3 0h.8m.1 0h.8m3.9 0h.8m1.1 0h.8m.2 0h.8m.5 0h.8m-.2 0h.8m.6 0h.8m2.4 0h.8m.1 0h.8m1 0h.8m1 0h.8m4.8 0h.8m7.9 0h.8M0 9.8h.8m1.2 0h.8m-.7 0h.8m.6 0h.8m2.1 0h.8m.2 0h.8m19.3 0h.8m.6 0h.8m.4 0h.8m.9 0h.8m5.3 0h.8m2.8 0h.8m5.7 0h.8m1.3 0h.8m6.8 0h.8m2.4 0h.8m1.4 0h.8m.3 0h.8m3.4 0h.8m.5 0h.8m-.4 0h.8m4.2 0h.8m2.1 0h.8m1.1 0h.8m1.2 0h.8m.7 0h.8m3.8 0h.8m3.1 0h.8M.8 10.3h.8m-.8 0h.8m-.2 0h.8m15.2 0h.8m8 0h.8m3.1 0h.8m5.1 0h.8m3 0h.8m2.4 0h.8m.6 0h.8m-.6 0h.8m13.7 0h.8m6.2 0h.8m-.6 0h.8m1.7 0h.8m0 0h.8m-.2 0h.8m.8 0h.8m2.5 0h.8m4.6 0h.8m-.4 0h.8m1.6 0h.8m-.2 0h.8m.3 0h.8m-.2 0h.8m.8 0h.8m1 0h.8m.8 0h.8M2.6 10.8h.8m2.6 0h.8m6.3 0h.8m-.6 0h.8m.5 0h.8m.7 0h.8m1.7 0h.8m1.7 0h.8m1.9 0h.8m1.3 0h.8m21.9 0h.8m8.1 0h.8m.9 0h.8m5.2 0h.8m-.2 0h.8m4.4 0h.8m-.6 0h.8m2.8 0h.8m.2 0h.8m-.8 0h.8m-.1 0h.8m-.5 0h.8m-.4 0h.8m.1 0h.8m1.1 0h.8m6 0h.8m-.7 0h.8M0 11.4h.8m2.4 0h.8m1.4 0h.8m20.7 0h.8m1.1 0h.8m6.8 0h.8m2.3 0h.8m.2 0h.8m-.8 0h.8m10.6 0h.8m3.4 0h.8m9.4 0h.8m3.1 0h.8m-.5 0h.8m3.2 0h.8m-.4 0h.8m0 0h.8m2.7 0h.8m.2 0h.8m-.6 0h.8m2.8 0h.8m-.8 0h.8m3.3 0h.8m1.4 0h.8m5.6 0h.8M.1 11.9h.8m1 0h.8m.6 0h.8m3.8 0h.8m.2 0h.8m5.4 0h.8m3.2 0h.8m2.5 0h.8m1.8 0h.8m4.8 0h.8m2.5 0h.8m8.2 0h.8m12.2 0h.8m9.8 0h.8m-.5 0h.8m2.8 0h.8m2.1 0h.8m-.7 0h.8m-.5 0h.8m0 0h.8m.9 0h.8m4.2 0h.8m2.4 0h.8m.7 0h.8m0 0h.8m4.8 0h.8m3.4 0h.8M2.6 12.4h.8m1.3 0h.8m.1 0h.8m3.8 0h.8m14.9 0h.8m6.4 0h.8m1.8 0h.8m1.9 0h.8m.5 0h.8m.6 0h.8m10.9 0h.8m.3 0h.8m2.3 0h.8m5.1 0h.8m2.3 0h.8m-.4 0h.8m3.1 0h.8m-.3 0h.8m.3 0h.8m4.8 0h.8m2.1 0h.8m-.3 0h.8m.2 0h.8m-.5 0h.8m-.1 0h.8m3 0h.8m-.1 0h.8m3.9 0h.8M2.1 12.9h.8m.9 0h.8m.4 0h.8m1.6 0h.8m6 0h.8m3.4 0h.8m7.3 0h.8m-.2 0h.8m4.4 0h.8m4.1 0h.8m1.9 0h.8m1.1 0h.8m.3 0h.8m2.1 0h.8m12.6 0h.8m.7 0h.8m1.9 0h.8m.4 0h.8m3.7 0h.8m2.9 0h.8m4.4 0h.8m.1 0h.8m-.3 0h.8m3.9 0h.8m2.4 0h.8m1 0h.8m1.4 0h.8m2.8 0h.8m.8 0h.8m.4 0h.8M13.6 13.5h.8m.7 0h.8m6.6 0h.8m9.6 0h.8m14.6 0h.8m5.5 0h.8m5 0h.8m.5 0h.8m2.6 0h.8m1.4 0h.8m3.1 0h.8m.7 0h.8m1 0h.8m-.4 0h.8m2.4 0h.8m-.7 0h.8m.1 0h.8m2 0h.8m-.4 0h.8m-.6 0h.8m2 0h.8m2.6 0h.8M1.4 14h.8m-.7 0h.8m-.3 0h.8m5.9 0h.8m10.9 0h.8m6.4 0h.8m3 0h.8m7.4 0h.8m2.1 0h.8m10.6 0h.8m-.1 0h.8m6.2 0h.8m1.3 0h.8m4.1 0h.8m.1 0h.8m.1 0h.8m-.4 0h.8m.8 0h.8m.9 0h.8m-.7 0h.8m.5 0h.8m.9 0h.8m1.4 0h.8m4.3 0h.8m1.4 0h.8m1.6 0h.8m.8 0h.8m-.1 0h.8m.3 0h.8M1.6 14.5h.8m-.5 0h.8m5.9 0h.8m.5 0h.8m9.2 0h.8m.2 0h.8m7.4 0h.8m.8 0h.8m31.6 0h.8m-.3 0h.8m1.5 0h.8m.5 0h.8m.3 0h.8m-.8 0h.8m1.7 0h.8m1.3 0h.8m.2 0h.8m2.1 0h.8m-.8 0h.8m.1 0h.8m-.3 0h.8m-.4 0h.8m-.2 0h.8m2.1 0h.8m-.7 0h.8m-.1 0h.8m-.4 0h.8m5.7 0h.8m1.3 0h.8m1.2 0h.8m-.6 0h.8M.8 15h.8m1.7 0h.8m.4 0h.8m1.3 0h.8m-.5 0h.8m-.2 0h.8m1.4 0h.8m1.1 0h.8m.7 0h.8m.7 0h.8m2.6 0h.8m9.4 0h.8m2.7 0h.8m-.1 0h.8m1.2 0h.8m11.2 0h.8m7.2 0h.8m4.3 0h.8m-.5 0h.8m3.7 0h.8m2.1 0h.8m-.1 0h.8m.1 0h.8m7.1 0h.8m7.3 0h.8m5.1 0h.8m1.1 0h.8m3.6 0h.8M3.2 15.6h.8m9.6 0h.8m6.2 0h.8m1.5 0h.8m-.1 0h.8m-.3 0h.8m4.2 0h.8m-.4 0h.8m4.2 0h.8m.1 0h.8m6.8 0h.8m18.4 0h.8m-.5 0h.8m7 0h.8m-.6 0h.8m-.8 0h.8m-.2 0h.8m4.2 0h.8m.3 0h.8m-.7 0h.8m1.6 0h.8m-.2 0h.8m1.5 0h.8m2.7 0h.8m-.2 0h.8m.2 0h.8m.4 0h.8m-.5 0h.8m1.8 0h.8m1.8 0h.8M10 16.1h.8m1.4 0h.8m22.7 0h.8m1.4 0h.8m3.3 0h.8m0 0h.8m5.7 0h.8m6.1 0h.8m.3 0h.8m.6 0h.8m2.3 0h.8m.2 0h.8m.7 0h.8m2.6 0h.8m-.5 0h.8m-.2 0h.8m-.7 0h.8m-.4 0h.8m3.9 0h.8m0 0h.8m1.6 0h.8m-.6 0h.8m.4 0h.8m10.3 0h.8m.6 0h.8m1.5 0h.8m-.7 0h.8m1.5 0h.8m1.2 0h.8m-.7 0h.8M.2 16.6h.8m16.8 0h.8m1.5 0h.8m5.9 0h.8m1.5 0h.8m6.3 0h.8m1.1 0h.8m4.2 0h.8m14.2 0h.8m5.5 0h.8m-.4 0h.8m2 0h.8m0 0h.8m.4 0h.8m.8 0h.8m-.4 0h.8m1.8 0h.8m.2 0h.8m3.1 0h.8m3.1 0h.8m3.4 0h.8m-.7 0h.8m.9 0h.8m2.9 0h.8m0 0h.8m.2 0h.8M.7 17.2h.8m-.8 0h.8m1.9 0h.8m.7 0h.8m10.1 0h.8m2.4 0h.8m6.2 0h.8m15.9 0h.8m5 0h.8m10.1 0h.8m.1 0h.8m.3 0h.8m-.7 0h.8m1.1 0h.8m3.4 0h.8m3 0h.8m.3 0h.8m-.5 0h.8m2.2 0h.8m-.7 0h.8m1.8 0h.8m16.4 0h.8M3.8 17.7h.8m14 0h.8m4 0h.8m1.3 0h.8m6.4 0h.8m-.2 0h.8m2 0h.8m1.4 0h.8m6 0h.8m.4 0h.8m-.7 0h.8m2.9 0h.8m7.7 0h.8m3.4 0h.8m3.2 0h.8m.6 0h.8m5.6 0h.8m-.2 0h.8m2.7 0h.8m2.9 0h.8m-.5 0h.8m.6 0h.8m1.2 0h.8m3.5 0h.8m.9 0h.8m.4 0h.8M.9 18.2h.8m2.9 0h.8m-.3 0h.8m1.4 0h.8m5.8 0h.8m6 0h.8m2.3 0h.8m.1 0h.8m3.7 0h.8m7.7 0h.8m4.3 0h.8m-.1 0h.8m3.7 0h.8m8.9 0h.8m-.6 0h.8m4.1 0h.8m-.3 0h.8m5.6 0h.8m-.3 0h.8m.8 0h.8m.3 0h.8m1.1 0h.8m-.1 0h.8m-.4 0h.8m-.3 0h.8m6.1 0h.8m12.2 0h.8m.7 0h.8M.5 18.7h.8m.2 0h.8m1.3 0h.8m-.3 0h.8m1.5 0h.8m2.2 0h.8m1.4 0h.8m16.7 0h.8m-.5 0h.8m-.1 0h.8m0 0h.8m-.1 0h.8m8.6 0h.8m-.4 0h.8m-.3 0h.8m19 0h.8m.1 0h.8m1.9 0h.8m-.5 0h.8m4.2 0h.8m1.5 0h.8m-.3 0h.8m1.3 0h.8m-.4 0h.8m5 0h.8m5.6 0h.8m-.7 0h.8m3.7 0h.8m4.2 0h.8M2 19.3h.8m.8 0h.8m3 0h.8m-.3 0h.8m4.6 0h.8m17.6 0h.8m-.2 0h.8m2.4 0h.8m2 0h.8m.7 0h.8m6 0h.8m-.7 0h.8m.7 0h.8m3.3 0h.8m.7 0h.8m.9 0h.8m1.8 0h.8m3.3 0h.8m.1 0h.8m3.7 0h.8m2.6 0h.8m-.7 0h.8m.2 0h.8m.9 0h.8m.1 0h.8m13.2 0h.8m1.1 0h.8m5.7 0h.8M1 19.8h.8m-.8 0h.8m.2 0h.8m1 0h.8m-.2 0h.8m13.4 0h.8m4.5 0h.8m3.8 0h.8m.9 0h.8m-.5 0h.8m1.4 0h.8m1.7 0h.8m5.2 0h.8m1.2 0h.8m12.5 0h.8m0 0h.8m3.8 0h.8m10.7 0h.8m-.3 0h.8m.6 0h.8m1 0h.8m9.5 0h.8m7.3 0h.8M1.1 20.3h.8m2.4 0h.8m4.3 0h.8m-.3 0h.8m4 0h.8m.4 0h.8m21.7 0h.8m1.1 0h.8m8.2 0h.8m6.8 0h.8m2.6 0h.8m-.7 0h.8m1.4 0h.8m.3 0h.8m1.3 0h.8m.2 0h.8m.2 0h.8m2.8 0h.8m-.1 0h.8m3.5 0h.8m6.6 0h.8m.9 0h.8m3 0h.8m-.4 0h.8M26.6 20.9h.8m1.2 0h.8m2.9 0h.8m1.5 0h.8m3.2 0h.8m1 0h.8m3.2 0h.8m.8 0h.8m-.1 0h.8m5.7 0h.8m.9 0h.8m2.2 0h.8m2.9 0h.8m1.1 0h.8m2.3 0h.8m-.5 0h.8m.4 0h.8m1.5 0h.8m1 0h.8m-.7 0h.8m-.8 0h.8m-.6 0h.8m-.7 0h.8m-.3 0h.8m9.2 0h.8m-.5 0h.8m-.2 0h.8m3.9 0h.8M.7 21.4h.8m1.3 0h.8m.2 0h.8m-.1 0h.8m.9 0h.8m7.6 0h.8m8.3 0h.8m-.6 0h.8m.1 0h.8m3.7 0h.8m1.9 0h.8m18 0h.8m2.7 0h.8m1.9 0h.8m-.5 0h.8m3.1 0h.8m2.6 0h.8m-.4 0h.8m-.1 0h.8m.2 0h.8m2.5 0h.8m.1 0h.8m6.6 0h.8m4.3 0h.8m2.4 0h.8m3.4 0h.8m2.5 0h.8m.4 0h.8M1.5 21.9h.8m-.5 0h.8m2.7 0h.8m19.2 0h.8m.4 0h.8m5.9 0h.8m1.8 0h.8m0 0h.8m4 0h.8m3.4 0h.8m-.4 0h.8m12.1 0h.8m2.2 0h.8m1 0h.8m2.1 0h.8m2.1 0h.8m3.7 0h.8m-.4 0h.8m.1 0h.8m3.4 0h.8m1.7 0h.8m3.5 0h.8m9.9 0h.8M.8 22.4h.8m.8 0h.8m2.3 0h.8m.7 0h.8m2.5 0h.8m2.8 0h.8m5.5 0h.8m-.4 0h.8m5.4 0h.8m2.6 0h.8m2.3 0h.8m1.9 0h.8m.3 0h.8m1.8 0h.8m-.1 0h.8m4.3 0h.8m3.5 0h.8m2.9 0h.8m4.4 0h.8m6.8 0h.8m.2 0h.8m1 0h.8m-.6 0h.8m5.1 0h.8m.9 0h.8m2.7 0h.8m-.5 0h.8m7.9 0h.8m7 0h.8M1.6 23h.8m1.8 0h.8m.3 0h.8m4.6 0h.8m1.9 0h.8m10 0h.8m3.6 0h.8m3.1 0h.8m-.8 0h.8m-.6 0h.8m1.4 0h.8m1.2 0h.8m-.5 0h.8m1.5 0h.8m.9 0h.8m1.3 0h.8m9.5 0h.8m1.3 0h.8m.3 0h.8m5.5 0h.8m3.5 0h.8m1.4 0h.8m-.7 0h.8m2.1 0h.8m-.5 0h.8m5.8 0h.8m.1 0h.8M1.8 23.5h.8m4.1 0h.8m12.9 0h.8m1.4 0h.8m1.6 0h.8m1.7 0h.8m7.1 0h.8m.1 0h.8m1.7 0h.8m2.3 0h.8m1.6 0h.8m2.9 0h.8m1.4 0h.8m8.2 0h.8m.4 0h.8m2.7 0h.8m4.4 0h.8m7.6 0h.8m.8 0h.8m4.6 0h.8m2.3 0h.8m5 0h.8m1.6 0h.8m-.2 0h.8M.2 24h.8m15.1 0h.8m.1 0h.8m1.4 0h.8m4 0h.8m1.2 0h.8m.2 0h.8m.1 0h.8m5.6 0h.8m13.3 0h.8m4.9 0h.8m1.9 0h.8m1.6 0h.8m1.4 0h.8m.4 0h.8m.5 0h.8m-.4 0h.8m2.9 0h.8m2.9 0h.8m-.3 0h.8m5.1 0h.8m-.4 0h.8m6.5 0h.8m-.1 0h.8M3.1 24.6h.8m1.1 0h.8m16.7 0h.8m.5 0h.8m8.9 0h.8m1.4 0h.8m1.5 0h.8m.2 0h.8m.6 0h.8m3 0h.8m8.7 0h.8m-.6 0h.8m4.8 0h.8m-.3 0h.8m-.4 0h.8m2.4 0h.8m2 0h.8m-.1 0h.8m-.7 0h.8m1.1 0h.8m.1 0h.8m-.8 0h.8m.9 0h.8m1.6 0h.8m.1 0h.8m2.5 0h.8m.6 0h.8m-.7 0h.8m4.4 0h.8m9.9 0h.8M3.5 25.1h.8m15.1 0h.8m7.6 0h.8m0 0h.8m-.1 0h.8m.3 0h.8m2.1 0h.8m2.6 0h.8m7 0h.8m6.6 0h.8m3.4 0h.8m.7 0h.8m.2 0h.8m-.6 0h.8m6.5 0h.8m-.7 0h.8m-.5 0h.8m4 0h.8m1.7 0h.8m1.3 0h.8m.1 0h.8m1.4 0h.8m1.9 0h.8m12.5 0h.8m-.1 0h.8m1.3 0h.8M7.1 25.6h.8m-.4 0h.8m1.2 0h.8m.5 0h.8m1.7 0h.8m3.9 0h.8m7.9 0h.8m13.8 0h.8m1.4 0h.8m-.6 0h.8m8.1 0h.8m2.1 0h.8m3.1 0h.8m1.1 0h.8m2.3 0h.8m2 0h.8m2.1 0h.8m-.2 0h.8m-.3 0h.8m-.1 0h.8m1.4 0h.8m-.3 0h.8m1.5 0h.8m6.4 0h.8m.1 0h.8m10.2 0h.8M0 26.1h.8m3 0h.8m1 0h.8m4.9 0h.8m-.8 0h.8m5 0h.8m1.6 0h.8m2.6 0h.8m1 0h.8m1.4 0h.8m-.4 0h.8m.4 0h.8m-.6 0h.8m5.9 0h.8m-.3 0h.8m3.9 0h.8m10.3 0h.8m10.1 0h.8m0 0h.8m2.5 0h.8m3.2 0h.8m-.2 0h.8m3.7 0h.8m.7 0h.8m-.6 0h.8m11.1 0h.8" stroke="#111" stroke-width="0.55" fill="none"/>
<line x1="75.2" y1="419.2" x2="75.2" y2="445.6" stroke="#d2492a" stroke-width="1.1"/>
<polyline points="96.3,445.4 99.2,437.2 102.9,427.6 106.2,419.9" fill="none" stroke="#4f5fc8" stroke-width="0.6"/>
<path d="M142.7 419.6h-1.3v25.6h1.3" fill="none" stroke="#222" stroke-width="0.9"/>
<path d="M41.7 449.9L44.6 447.8L48.1 446.7L51.6 447.8L55.1 449L58.7 450.7L62.2 453.4L65.7 455.1L69.2 457.2L71.8 458.3L75.3 456.5L78.8 457.2L81.4 456.5L84.1 459L87.6 462.1L91.1 464.2L93.7 464.8L97.2 463L100.7 460.4L105.1 456.5L108.6 454.2L112.1 451.6L115.6 452.5L119.1 451.6L122.6 454.2L126.1 456.5L129.6 458.6L133.1 460.7L136.6 461.3L139.2 461.8L141.8 460L141.8 464.8L139.2 466.6L136.6 466.1L133.1 465.5L129.6 463.4L126.1 461.3L122.6 459L119.1 456.4L115.6 457.3L112.1 456.4L108.6 459L105.1 461.3L100.7 465.2L97.2 467.8L93.7 469.6L91.1 469L87.6 466.9L84.1 463.8L81.4 461.3L78.8 462L75.3 461.3L71.8 463.1L69.2 462L65.7 459.9L62.2 458.2L58.7 455.5L55.1 453.8L51.6 452.6L48.1 451.5L44.6 452.6L41.7 454.7Z" fill="#939fe8" fill-opacity="0.65"/>
<path d="M41.7 454.1L44.6 455.9L47.3 459.4L50.8 462.2L54.3 463.4L57.8 464.3L61.3 464.6L63.9 462.5L67.4 458.1L70.9 456.9L74.4 456.9L77.9 457.6L79.7 458.1L81.4 455.9L84.1 459.4L87.6 462.5L91.1 464.3L93.7 464.6L97.2 462.9L100.7 459.9L105.1 455.9L108.6 455.2L112.1 450.6L115.6 450.3L119.1 450.6L122.6 453.8L126.1 456.4L129.6 458.7L133.1 459.9L136.6 460.4L139.2 462.2L141.8 462.2L141.8 466.2L139.2 466.2L136.6 464.4L133.1 463.9L129.6 462.7L126.1 460.4L122.6 457.8L119.1 454.6L115.6 454.3L112.1 454.6L108.6 459.2L105.1 459.9L100.7 463.9L97.2 466.9L93.7 468.6L91.1 468.3L87.6 466.5L84.1 463.4L81.4 459.9L79.7 462.1L77.9 461.6L74.4 460.9L70.9 460.9L67.4 462.1L63.9 466.5L61.3 468.6L57.8 468.3L54.3 467.4L50.8 466.2L47.3 463.4L44.6 459.9L41.7 458.1Z" fill="#4a4f86" fill-opacity="0.5"/>
<path d="M41.7 452.3C42.2 451.9 43.6 450.7 44.6 450.2C45.7 449.6 47 449.1 48.1 449.1C49.3 449.1 50.5 449.8 51.6 450.2C52.8 450.5 54 450.9 55.1 451.4C56.3 451.9 57.5 452.4 58.7 453.1C59.8 453.9 61 455 62.2 455.8C63.3 456.5 64.5 456.9 65.7 457.5C66.8 458.2 68.1 459.1 69.2 459.6C70.2 460.1 70.8 460.8 71.8 460.7C72.8 460.6 74.1 459.1 75.3 458.9C76.5 458.7 77.8 459.6 78.8 459.6C79.8 459.6 80.6 458.6 81.4 458.9C82.3 459.2 83 460.4 84.1 461.4C85.1 462.3 86.4 463.7 87.6 464.5C88.7 465.4 90 466.2 91.1 466.6C92.1 467.1 92.7 467.4 93.7 467.2C94.7 467 96 466.1 97.2 465.4C98.4 464.7 99.4 463.9 100.7 462.8C102 461.7 103.8 459.9 105.1 458.9C106.4 457.9 107.4 457.5 108.6 456.6C109.7 455.8 110.9 454.3 112.1 454C113.3 453.7 114.4 454.9 115.6 454.9C116.8 454.9 117.9 453.7 119.1 454C120.3 454.3 121.4 455.8 122.6 456.6C123.8 457.5 124.9 458.2 126.1 458.9C127.3 459.7 128.4 460.3 129.6 461C130.8 461.7 131.9 462.7 133.1 463.1C134.3 463.6 135.6 463.5 136.6 463.7C137.6 463.8 138.4 464.4 139.2 464.2C140.1 464 141.4 462.7 141.8 462.4" fill="none" stroke="#5a6bd0" stroke-width="1.0"/>
<path d="M41.7 456.1C42.2 456.4 43.7 457 44.6 457.9C45.6 458.7 46.2 460.3 47.3 461.4C48.3 462.4 49.6 463.5 50.8 464.2C51.9 464.8 53.1 465.1 54.3 465.4C55.4 465.8 56.6 466.1 57.8 466.3C58.9 466.5 60.3 466.9 61.3 466.6C62.3 466.3 62.9 465.6 63.9 464.5C64.9 463.4 66.2 461.1 67.4 460.1C68.6 459.2 69.7 459.1 70.9 458.9C72.1 458.7 73.3 458.8 74.4 458.9C75.6 459 77 459.4 77.9 459.6C78.8 459.8 79.1 460.4 79.7 460.1C80.3 459.9 80.7 457.7 81.4 457.9C82.2 458.1 83 460.3 84.1 461.4C85.1 462.5 86.4 463.7 87.6 464.5C88.7 465.3 90 465.9 91.1 466.3C92.1 466.6 92.7 466.9 93.7 466.6C94.7 466.4 96 465.7 97.2 464.9C98.4 464.1 99.4 463.1 100.7 461.9C102 460.7 103.8 458.7 105.1 457.9C106.4 457.1 107.4 458 108.6 457.2C109.7 456.3 110.9 453.4 112.1 452.6C113.3 451.8 114.4 452.3 115.6 452.3C116.8 452.3 117.9 452 119.1 452.6C120.3 453.2 121.4 454.8 122.6 455.8C123.8 456.7 124.9 457.6 126.1 458.4C127.3 459.2 128.4 460.1 129.6 460.7C130.8 461.3 131.9 461.6 133.1 461.9C134.3 462.2 135.6 462 136.6 462.4C137.6 462.8 138.4 463.9 139.2 464.2C140.1 464.5 141.4 464.2 141.8 464.2" fill="none" stroke="#14173f" stroke-width="1.5"/>
<line x1="41.7" y1="446.2" x2="41.7" y2="470.4" stroke="#3a3a3a" stroke-width="1.1"/>
<line x1="41.2" y1="469.9" x2="142.4" y2="469.9" stroke="#3a3a3a" stroke-width="1.1"/>
<path d="M41.7 452.3h-1.8M41.7 463.7h-1.8M41.7 469.9v2M58.4 469.9v2M75.2 469.9v2M91.9 469.9v2M108.6 469.9v2M125.4 469.9v2M142.1 469.9v2" stroke="#3a3a3a" stroke-width="0.8" fill="none"/>
<text x="40.2" y="483.2" font-size="8.3" text-anchor="middle" fill="#1a1a1a" stroke-width="0.2">-1</text>
<text x="76.2" y="483.2" font-size="8.3" text-anchor="middle" fill="#1a1a1a" stroke-width="0.2">0</text>
<text x="109.2" y="483.2" font-size="8.3" text-anchor="middle" fill="#1a1a1a" stroke-width="0.2">1</text>
<text x="89.9" y="492.9" font-size="8.3" text-anchor="middle" fill="#1a1a1a" stroke-width="0.2">Time from</text>
<text x="90.1" y="503.5" font-size="8.3" text-anchor="middle" fill="#1a1a1a" stroke-width="0.2">Center Port Entry (s)</text>
<text x="202.7" y="294.9" font-size="8.3" text-anchor="middle" fill="#1a1a1a" stroke-width="0.2">2 trials back</text>
<path transform="translate(151.7 299.9)" d="M.4 .3h.8m-.1 0h.8m2.5 0h.8m.3 0h.8m.7 0h.8m-.4 0h.8m-.4 0h.8m4.1 0h.8m-.1 0h.8m-.8 0h.8m3 0h.8m-.7 0h.8m-.2 0h.8m.4 0h.8m7.4 0h.8m.4 0h.8m-.4 0h.8m1.4 0h.8m-.1 0h.8m-.2 0h.8m5.2 0h.8m16 0h.8m1.5 0h.8m4.1 0h.8m2.4 0h.8m3 0h.8m9.2 0h.8m3.7 0h.8m4 0h.8m1.7 0h.8m1.1 0h.8m-.5 0h.8m-.3 0h.8M3.3 .8h.8m2.9 0h.8m.2 0h.8m-.3 0h.8m3.9 0h.8m-.7 0h.8m12.9 0h.8m3.8 0h.8m1.3 0h.8m2.4 0h.8m-.7 0h.8m.8 0h.8m-.8 0h.8m1 0h.8m.1 0h.8m3.7 0h.8m1.9 0h.8m-.2 0h.8m.7 0h.8m.8 0h.8m3.1 0h.8m.4 0h.8m3.7 0h.8m2.1 0h.8m1.2 0h.8m5.6 0h.8m.5 0h.8m6.1 0h.8m.7 0h.8m2.6 0h.8m5.4 0h.8m0 0h.8m.4 0h.8M.5 1.3h.8m-.4 0h.8m9.1 0h.8m-.3 0h.8m-.7 0h.8m2.6 0h.8m3 0h.8m2.4 0h.8m10.1 0h.8m7 0h.8m3.3 0h.8m-.6 0h.8m1.2 0h.8m-.1 0h.8m-.7 0h.8m1.6 0h.8m16.4 0h.8m-.6 0h.8m6.2 0h.8m-.2 0h.8m-.6 0h.8m-.3 0h.8m10.8 0h.8m3 0h.8m4 0h.8M.4 1.9h.8m1.7 0h.8m-.1 0h.8m1 0h.8m.8 0h.8m.6 0h.8m-.4 0h.8m4.2 0h.8m6.7 0h.8m9.5 0h.8m3 0h.8m2.8 0h.8m1.3 0h.8m6.4 0h.8m13 0h.8m5.4 0h.8m2.2 0h.8m-.2 0h.8m-.1 0h.8m-.5 0h.8m-.1 0h.8m3.9 0h.8m-.4 0h.8m1.1 0h.8m.4 0h.8m-.8 0h.8m4.6 0h.8m.4 0h.8m5.7 0h.8m-.6 0h.8M.6 2.4h.8m5 0h.8m-.3 0h.8m1.9 0h.8m10.1 0h.8m.9 0h.8m3 0h.8m6.8 0h.8m4.1 0h.8m2.3 0h.8m4.2 0h.8m1.4 0h.8m12.9 0h.8m.7 0h.8m5.3 0h.8m-.6 0h.8m2.8 0h.8m-.7 0h.8m-.4 0h.8m.6 0h.8m.2 0h.8m1.5 0h.8m.9 0h.8m.5 0h.8m1.2 0h.8m3.9 0h.8m-.4 0h.8m1 0h.8m4.8 0h.8M1.3 2.9h.8m-.5 0h.8m5.5 0h.8m-.7 0h.8m18.2 0h.8m1.4 0h.8m-.2 0h.8m.1 0h.8m1.3 0h.8m.7 0h.8m2.1 0h.8m1.9 0h.8m3.7 0h.8m12 0h.8m1.2 0h.8m2.4 0h.8m5.5 0h.8m1.6 0h.8m1.1 0h.8m-.5 0h.8m.9 0h.8m0 0h.8m1.2 0h.8m-.5 0h.8m-.8 0h.8m6.9 0h.8m-.4 0h.8m4.2 0h.8m3.1 0h.8m1.3 0h.8M.6 3.5h.8m0 0h.8m.3 0h.8m.7 0h.8m1.3 0h.8m8 0h.8m3 0h.8m10.2 0h.8m-.4 0h.8m.2 0h.8m.7 0h.8m1.5 0h.8m1.8 0h.8m13.3 0h.8m3.3 0h.8m10.8 0h.8m-.8 0h.8m3.1 0h.8m2.3 0h.8m-.4 0h.8m-.7 0h.8m.1 0h.8m-.4 0h.8m-.3 0h.8m-.2 0h.8m.2 0h.8m-.7 0h.8m.5 0h.8m1.4 0h.8m1.4 0h.8m6.2 0h.8m2.7 0h.8M1.2 4h.8m.7 0h.8m.7 0h.8m3.6 0h.8m1.5 0h.8m1 0h.8m2.7 0h.8m1 0h.8m3.3 0h.8m.2 0h.8m2.3 0h.8m7.3 0h.8m2.3 0h.8m5.6 0h.8m8.6 0h.8m2.7 0h.8m3.3 0h.8m5.5 0h.8m2.9 0h.8m2.3 0h.8m7.5 0h.8m.1 0h.8m7.6 0h.8M2.7 4.5h.8m.6 0h.8m5.2 0h.8m.1 0h.8m.3 0h.8m2.8 0h.8m.2 0h.8m0 0h.8m3.5 0h.8m1.6 0h.8m-.2 0h.8m-.5 0h.8m5.2 0h.8m1.9 0h.8m11.1 0h.8m2.1 0h.8m11.2 0h.8m-.5 0h.8m-.1 0h.8m5.2 0h.8m-.7 0h.8m.2 0h.8m-.6 0h.8m.9 0h.8m1 0h.8m7 0h.8m4.7 0h.8m-.5 0h.8m2.6 0h.8m-.8 0h.8m2 0h.8m.6 0h.8M3.1 5.1h.8m2.6 0h.8m5 0h.8m.7 0h.8m3.1 0h.8m2 0h.8m-.2 0h.8m6.6 0h.8m5.5 0h.8m6.5 0h.8m6 0h.8m4.9 0h.8m3.5 0h.8m6.9 0h.8m.1 0h.8m.9 0h.8m-.1 0h.8m1.6 0h.8m-.2 0h.8m1.3 0h.8m3.7 0h.8m-.7 0h.8m6.4 0h.8m1.4 0h.8m5.7 0h.8m0 0h.8M6.8 5.6h.8m-.6 0h.8m-.6 0h.8m.7 0h.8m5 0h.8m4.6 0h.8m.3 0h.8m.7 0h.8m4.1 0h.8m-.4 0h.8m-.5 0h.8m-.5 0h.8m4.1 0h.8m5.7 0h.8m2.6 0h.8m9.4 0h.8m7.4 0h.8m7.9 0h.8m11.9 0h.8m4.7 0h.8m.4 0h.8m1.3 0h.8m2.5 0h.8m.7 0h.8M4.2 6.1h.8m4.5 0h.8m-.8 0h.8m-.5 0h.8m1.6 0h.8m.5 0h.8m2.1 0h.8m10.6 0h.8m3.4 0h.8m20.6 0h.8m.9 0h.8m3.3 0h.8m0 0h.8m1.6 0h.8m5.4 0h.8m-.2 0h.8m-.6 0h.8m1.1 0h.8m-.4 0h.8m0 0h.8m-.4 0h.8m-.6 0h.8m3.7 0h.8m.3 0h.8m.2 0h.8M.2 6.6h.8m1.1 0h.8m1.6 0h.8m3.4 0h.8m2.6 0h.8m-.3 0h.8m.1 0h.8m12.3 0h.8m.1 0h.8m1.3 0h.8m3.8 0h.8m7.5 0h.8m6.3 0h.8m.9 0h.8m12.3 0h.8m4.7 0h.8m1 0h.8m-.2 0h.8m.2 0h.8m0 0h.8m-.6 0h.8m-.6 0h.8m1.9 0h.8m1.5 0h.8m1.3 0h.8m7 0h.8m7.2 0h.8M.1 7.2h.8m.5 0h.8m2.8 0h.8m3.9 0h.8m8.2 0h.8m-.6 0h.8m3.2 0h.8m-.2 0h.8m10.1 0h.8m-.7 0h.8m14.5 0h.8m7.2 0h.8m2.7 0h.8m9.3 0h.8m-.7 0h.8m1.9 0h.8m.3 0h.8m0 0h.8m3.6 0h.8m-.4 0h.8m.8 0h.8m3.4 0h.8m-.2 0h.8M1.7 7.7h.8m3.8 0h.8m-.7 0h.8m3.6 0h.8m4 0h.8m-.4 0h.8m.2 0h.8m1.4 0h.8m.2 0h.8m-.8 0h.8m.1 0h.8m1.2 0h.8m1.3 0h.8m.4 0h.8m10.5 0h.8m1.8 0h.8m12.8 0h.8m1.7 0h.8m.1 0h.8m1.7 0h.8m7.7 0h.8m2.1 0h.8m-.3 0h.8m-.5 0h.8m2.8 0h.8m.7 0h.8m1 0h.8m1.5 0h.8m1.5 0h.8m2.4 0h.8M2.2 8.2h.8m9.4 0h.8m-.4 0h.8m8.2 0h.8m0 0h.8m1 0h.8m1.3 0h.8m.9 0h.8m.6 0h.8m2.1 0h.8m.1 0h.8m2.9 0h.8m1.5 0h.8m1.9 0h.8m9.8 0h.8m-.5 0h.8m1.8 0h.8m12.5 0h.8m-.4 0h.8m4.2 0h.8m2.5 0h.8m2.9 0h.8m.8 0h.8m2.6 0h.8M8.2 8.8h.8m5.6 0h.8m0 0h.8m-.3 0h.8m0 0h.8m-.2 0h.8m-.5 0h.8m2 0h.8m1.5 0h.8m.8 0h.8m7.8 0h.8m.9 0h.8m5.4 0h.8m8 0h.8m-.2 0h.8m15.4 0h.8m1 0h.8m3.9 0h.8m.4 0h.8m6.9 0h.8m4.1 0h.8m2.7 0h.8m-.7 0h.8m4.3 0h.8m-.5 0h.8m.6 0h.8M2.5 9.3h.8m1.5 0h.8m4.2 0h.8m.3 0h.8m1.8 0h.8m.1 0h.8m2 0h.8m3.8 0h.8m2.4 0h.8m1.3 0h.8m.4 0h.8m-.5 0h.8m2.3 0h.8m1.4 0h.8m-.7 0h.8m-.6 0h.8m.6 0h.8m16.6 0h.8m5.2 0h.8m7.2 0h.8m.6 0h.8m-.5 0h.8m-.6 0h.8m.4 0h.8m.3 0h.8m5.4 0h.8m4.7 0h.8m6.7 0h.8M.6 9.8h.8m.1 0h.8m-.6 0h.8m-.7 0h.8m-.7 0h.8m-.7 0h.8m0 0h.8m4.7 0h.8m1.2 0h.8m1.8 0h.8m.2 0h.8m3.1 0h.8m6.9 0h.8m.4 0h.8m-.6 0h.8m4.5 0h.8m1.7 0h.8m1.1 0h.8m19.4 0h.8m6.3 0h.8m-.8 0h.8m4 0h.8m.2 0h.8m-.4 0h.8m4.6 0h.8m6.9 0h.8m3.1 0h.8m3.5 0h.8m2.3 0h.8m-.4 0h.8M5.4 10.4h.8m.4 0h.8m5.5 0h.8m4 0h.8m1.2 0h.8m7.6 0h.8m1.1 0h.8m1.2 0h.8m-.4 0h.8m5.1 0h.8m2.5 0h.8m1.6 0h.8m2.2 0h.8m6.4 0h.8m3.9 0h.8m-.5 0h.8m-.6 0h.8m1.1 0h.8m.8 0h.8m1.5 0h.8m1.4 0h.8m1.2 0h.8m2.2 0h.8m-.2 0h.8m-.4 0h.8m-.2 0h.8m.8 0h.8m.6 0h.8m8.8 0h.8m.1 0h.8m6 0h.8m-.6 0h.8m1.6 0h.8M.7 10.9h.8m1.6 0h.8m-.6 0h.8m.5 0h.8m3.9 0h.8m1 0h.8m5.7 0h.8m-.5 0h.8m.5 0h.8m5.7 0h.8m9.9 0h.8m1.9 0h.8m.4 0h.8m10.3 0h.8m5 0h.8m-.5 0h.8m.4 0h.8m.3 0h.8m7.4 0h.8m3.2 0h.8m1.4 0h.8m.7 0h.8m-.5 0h.8m.3 0h.8m1.6 0h.8m1.8 0h.8m-.5 0h.8m4.7 0h.8m-.7 0h.8m.8 0h.8M2.9 11.4h.8m1.3 0h.8m-.5 0h.8m-.4 0h.8m-.7 0h.8m.9 0h.8m4.5 0h.8m3.6 0h.8m1.5 0h.8m2.1 0h.8m-.4 0h.8m11 0h.8m.6 0h.8m-.7 0h.8m.5 0h.8m1.4 0h.8m2.9 0h.8m22.3 0h.8m.5 0h.8m-.3 0h.8m.5 0h.8m4.8 0h.8m.8 0h.8m.5 0h.8m-.7 0h.8m0 0h.8m-.6 0h.8m7.8 0h.8m3.5 0h.8M6.8 12h.8m1.1 0h.8m2.5 0h.8m-.6 0h.8m.8 0h.8m.2 0h.8m0 0h.8m-.8 0h.8m3.9 0h.8m5.2 0h.8m-.8 0h.8m1.2 0h.8m3 0h.8m5 0h.8m.5 0h.8m.9 0h.8m9.4 0h.8m-.1 0h.8m2.2 0h.8m15 0h.8m1.7 0h.8m4.6 0h.8m3.9 0h.8m1.3 0h.8m-.4 0h.8m1 0h.8m.2 0h.8m1.7 0h.8m.1 0h.8m5.3 0h.8M2 12.5h.8m-.3 0h.8m2.6 0h.8m3.6 0h.8m2.6 0h.8m2.5 0h.8m2.1 0h.8m5.7 0h.8m2.6 0h.8m4.2 0h.8m11 0h.8m6.1 0h.8m6 0h.8m1.9 0h.8m.2 0h.8m1.4 0h.8m-.7 0h.8m5.6 0h.8m.3 0h.8m.9 0h.8m6.1 0h.8m4.6 0h.8m1.1 0h.8m.2 0h.8m1.6 0h.8M3.5 13h.8m3.9 0h.8m.9 0h.8m2 0h.8m-.5 0h.8m1.9 0h.8m-.6 0h.8m1.4 0h.8m3.8 0h.8m2 0h.8m1.4 0h.8m-.7 0h.8m.6 0h.8m3.9 0h.8m9 0h.8m12.9 0h.8m3.8 0h.8m2.1 0h.8m0 0h.8m-.1 0h.8m-.1 0h.8m-.7 0h.8m-.7 0h.8m.1 0h.8m-.2 0h.8m3 0h.8m3.4 0h.8m.1 0h.8m-.4 0h.8m9 0h.8m2.9 0h.8m1.3 0h.8m-.1 0h.8M.6 13.6h.8m3.5 0h.8m1.5 0h.8m.4 0h.8m3.1 0h.8m2.1 0h.8m3.6 0h.8m-.3 0h.8m12.9 0h.8m-.5 0h.8m10.4 0h.8m4 0h.8m3.9 0h.8m3.8 0h.8m3.6 0h.8m.2 0h.8m2.1 0h.8m-.1 0h.8m-.7 0h.8m-.7 0h.8m.8 0h.8m.6 0h.8m3.8 0h.8m1.6 0h.8m-.2 0h.8m.3 0h.8m17.1 0h.8M1 14.1h.8m2.2 0h.8m1.1 0h.8m.6 0h.8m9.3 0h.8m-.7 0h.8m.2 0h.8m3.3 0h.8m11.2 0h.8m6.6 0h.8m15.1 0h.8m.1 0h.8m-.8 0h.8m2.2 0h.8m7.8 0h.8m.6 0h.8m.6 0h.8m-.3 0h.8m-.8 0h.8m-.2 0h.8m1.3 0h.8m.4 0h.8m1.4 0h.8m4.9 0h.8m7.8 0h.8M.3 14.6h.8m-.5 0h.8m0 0h.8m-.6 0h.8m.9 0h.8m2.9 0h.8m-.1 0h.8m7.7 0h.8m12.3 0h.8m.4 0h.8m1.9 0h.8m11.9 0h.8m14.3 0h.8m.1 0h.8m-.1 0h.8m-.3 0h.8m-.3 0h.8m-.8 0h.8m-.1 0h.8m1.3 0h.8m4.9 0h.8m.9 0h.8m.4 0h.8m9.2 0h.8m11.5 0h.8M1.3 15.2h.8m3.6 0h.8m4 0h.8m.4 0h.8m.1 0h.8m-.5 0h.8m4.1 0h.8m1.6 0h.8m1.4 0h.8m11.4 0h.8m1 0h.8m22.8 0h.8m2.7 0h.8m.1 0h.8m1.3 0h.8m.9 0h.8m0 0h.8m2.5 0h.8m7.9 0h.8m2.8 0h.8m2.8 0h.8m1.9 0h.8m-.2 0h.8m.8 0h.8m3.7 0h.8m-.3 0h.8M1.7 15.7h.8m.4 0h.8m6.7 0h.8m1.2 0h.8m.6 0h.8m-.7 0h.8m.1 0h.8m3 0h.8m1.4 0h.8m3.5 0h.8m.6 0h.8m5.2 0h.8m13.5 0h.8m-.7 0h.8m9.2 0h.8m-.5 0h.8m2.9 0h.8m4.1 0h.8m2.1 0h.8m.1 0h.8m-.6 0h.8m-.1 0h.8m1.4 0h.8m.6 0h.8m1.7 0h.8m-.6 0h.8m-.6 0h.8m5.9 0h.8m1.1 0h.8m6.4 0h.8m-.8 0h.8m1.2 0h.8m2.4 0h.8M.8 16.2h.8m1.4 0h.8m6 0h.8m1.1 0h.8m-.7 0h.8m1.2 0h.8m.3 0h.8m-.4 0h.8m.6 0h.8m.7 0h.8m5.5 0h.8m4.3 0h.8m2.9 0h.8m7.8 0h.8m-.8 0h.8m.2 0h.8m18.9 0h.8m7.1 0h.8m2.5 0h.8m1.5 0h.8m3.8 0h.8m1.3 0h.8m.4 0h.8m2.8 0h.8m-.6 0h.8m1.5 0h.8m.3 0h.8m3 0h.8M.8 16.8h.8m-.5 0h.8m1.2 0h.8m2.6 0h.8m1.6 0h.8m-.7 0h.8m-.4 0h.8m.4 0h.8m1.3 0h.8m2.4 0h.8m8.9 0h.8m.3 0h.8m6.1 0h.8m1.7 0h.8m22.3 0h.8m.6 0h.8m.4 0h.8m1.3 0h.8m6.6 0h.8m-.3 0h.8m6.6 0h.8m2.6 0h.8m-.7 0h.8m5.2 0h.8m8.3 0h.8m-.5 0h.8M2.9 17.3h.8m0 0h.8m2.8 0h.8m.4 0h.8m-.6 0h.8m5 0h.8m4.4 0h.8m1.2 0h.8m2.6 0h.8m5.4 0h.8m1.8 0h.8m-.1 0h.8m-.5 0h.8m.9 0h.8m4.2 0h.8m6.4 0h.8m3.4 0h.8m5.6 0h.8m-.5 0h.8m3.7 0h.8m.6 0h.8m4 0h.8m2 0h.8m2.9 0h.8m-.2 0h.8m.2 0h.8m.6 0h.8m-.1 0h.8m3.6 0h.8m1.8 0h.8m.8 0h.8m7.5 0h.8M.2 17.8h.8m-.5 0h.8m4 0h.8m2.7 0h.8m8.3 0h.8m1 0h.8m4.4 0h.8m3.6 0h.8m.1 0h.8m-.7 0h.8m1.6 0h.8m-.2 0h.8m6 0h.8m15.5 0h.8m-.8 0h.8m.7 0h.8m8.7 0h.8m.9 0h.8m1 0h.8m-.8 0h.8m3.4 0h.8m.7 0h.8m0 0h.8m.4 0h.8m6.5 0h.8m6.3 0h.8m3.1 0h.8M.2 18.4h.8m-.3 0h.8m2.7 0h.8m-.3 0h.8m-.6 0h.8m7.4 0h.8m8.1 0h.8m-.1 0h.8m3.3 0h.8m-.6 0h.8m-.5 0h.8m3.3 0h.8m11.2 0h.8m-.5 0h.8m14.1 0h.8m4.5 0h.8m.7 0h.8m2.8 0h.8m-.4 0h.8m1.2 0h.8m1.9 0h.8m-.7 0h.8m1.4 0h.8m-.7 0h.8m-.1 0h.8m14.5 0h.8m2.5 0h.8m-.4 0h.8m.6 0h.8M2.5 18.9h.8m-.7 0h.8m3.3 0h.8m7.7 0h.8m4 0h.8m.4 0h.8m.6 0h.8m2.2 0h.8m4.2 0h.8m4.1 0h.8m1.8 0h.8m9.6 0h.8m.1 0h.8m8.2 0h.8m-.7 0h.8m1.3 0h.8m-.8 0h.8m2.3 0h.8m.4 0h.8m-.6 0h.8m2.4 0h.8m.2 0h.8m1.8 0h.8m-.1 0h.8m1.4 0h.8m.4 0h.8m.3 0h.8m.8 0h.8m.3 0h.8m1.4 0h.8m2.4 0h.8m7.7 0h.8m1.7 0h.8M.3 19.4h.8m-.1 0h.8m-.4 0h.8m1.1 0h.8m3.2 0h.8m.7 0h.8m3 0h.8m.2 0h.8m5.3 0h.8m-.5 0h.8m-.8 0h.8m10.8 0h.8m1.2 0h.8m-.5 0h.8m0 0h.8m2.6 0h.8m2.7 0h.8m11.6 0h.8m0 0h.8m1.7 0h.8m4.8 0h.8m2.5 0h.8m1.8 0h.8m1.8 0h.8m3.8 0h.8m.3 0h.8m.1 0h.8m4.2 0h.8m7.3 0h.8m-.2 0h.8m3.2 0h.8M1.4 19.9h.8m-.2 0h.8m.6 0h.8m6.6 0h.8m3 0h.8m-.8 0h.8m.4 0h.8m-.6 0h.8m10.8 0h.8m5.9 0h.8m2.4 0h.8m-.1 0h.8m.5 0h.8m1.9 0h.8m18.8 0h.8m-.6 0h.8m-.3 0h.8m2.8 0h.8m1.6 0h.8m0 0h.8m-.1 0h.8m4.3 0h.8m5.7 0h.8m7.7 0h.8m.7 0h.8m3.6 0h.8M1 20.5h.8m8.1 0h.8m-.2 0h.8m1.5 0h.8m5 0h.8m2.5 0h.8m1.8 0h.8m2.5 0h.8m4.4 0h.8m1.2 0h.8m.9 0h.8m2.9 0h.8m11.1 0h.8m2.6 0h.8m-.7 0h.8m1.8 0h.8m1.5 0h.8m.3 0h.8m.4 0h.8m2 0h.8m1.7 0h.8m-.6 0h.8m-.4 0h.8m-.5 0h.8m1.3 0h.8m2.1 0h.8m.6 0h.8m3.7 0h.8m2.5 0h.8m2.8 0h.8m2.9 0h.8M1.5 21h.8m.7 0h.8m5.2 0h.8m-.8 0h.8m.5 0h.8m8.4 0h.8m8.2 0h.8m2.2 0h.8m.6 0h.8m2.1 0h.8m16 0h.8m3.7 0h.8m-.4 0h.8m1.9 0h.8m.7 0h.8m3.8 0h.8m.3 0h.8m-.6 0h.8m1.9 0h.8m.4 0h.8m-.3 0h.8m-.7 0h.8m2.2 0h.8m1.1 0h.8m-.2 0h.8m3.1 0h.8m.8 0h.8m9.2 0h.8M4.7 21.5h.8m1.9 0h.8m-.4 0h.8m1.3 0h.8m2.9 0h.8m11.3 0h.8m-.1 0h.8m5 0h.8m1.1 0h.8m-.1 0h.8m-.7 0h.8m-.4 0h.8m1.3 0h.8m2.7 0h.8m0 0h.8m3 0h.8m6 0h.8m2.9 0h.8m0 0h.8m-.2 0h.8m2.5 0h.8m2.6 0h.8m3.2 0h.8m.1 0h.8m-.7 0h.8m-.2 0h.8m7.1 0h.8m5.1 0h.8m1.6 0h.8m3.8 0h.8m6.4 0h.8M1.5 22.1h.8m.4 0h.8m1.7 0h.8m-.7 0h.8m.9 0h.8m3 0h.8m1.6 0h.8m2.2 0h.8m14.8 0h.8m.2 0h.8m3.9 0h.8m-.3 0h.8m7.3 0h.8m4.6 0h.8m6.3 0h.8m-.8 0h.8m3.9 0h.8m.9 0h.8m1.1 0h.8m-.3 0h.8m4.8 0h.8m2.7 0h.8m.2 0h.8m.5 0h.8m.1 0h.8m10.6 0h.8m6.2 0h.8M2.9 22.6h.8m-.2 0h.8m1.1 0h.8m-.5 0h.8m3.9 0h.8m.2 0h.8m3.6 0h.8m.3 0h.8m5.3 0h.8m1.1 0h.8m.8 0h.8m1 0h.8m0 0h.8m.4 0h.8m4.1 0h.8m1.4 0h.8m.1 0h.8m2.9 0h.8m8.1 0h.8m1.7 0h.8m6.6 0h.8m7.8 0h.8m0 0h.8m2.6 0h.8m.6 0h.8m7.2 0h.8m.3 0h.8m3 0h.8m1.5 0h.8m1.6 0h.8m1.5 0h.8m2.2 0h.8M21 23.1h.8m3.5 0h.8m1.3 0h.8m-.6 0h.8m2.9 0h.8m-.4 0h.8m-.6 0h.8m.4 0h.8m.3 0h.8m1 0h.8m2 0h.8m4.9 0h.8m.6 0h.8m3.7 0h.8m.8 0h.8m3 0h.8m0 0h.8m-.1 0h.8m-.7 0h.8m5.9 0h.8m1.6 0h.8m6.9 0h.8m1.1 0h.8m-.4 0h.8m.2 0h.8m1.8 0h.8m-.7 0h.8m15.8 0h.8M.9 23.7h.8m.9 0h.8m-.4 0h.8m3.9 0h.8m9.3 0h.8m2.6 0h.8m.2 0h.8m-.1 0h.8m4 0h.8m2.9 0h.8m-.8 0h.8m4.9 0h.8m2.4 0h.8m12.8 0h.8m-.2 0h.8m.2 0h.8m4.2 0h.8m-.2 0h.8m1 0h.8m2.3 0h.8m.8 0h.8m-.5 0h.8m2 0h.8m1.9 0h.8m-.3 0h.8m-.6 0h.8m6.2 0h.8m4.2 0h.8m-.1 0h.8m8.3 0h.8M3.2 24.2h.8m5.9 0h.8m-.6 0h.8m5.1 0h.8m.8 0h.8m4.8 0h.8m.6 0h.8m3.7 0h.8m.6 0h.8m.3 0h.8m5.9 0h.8m.9 0h.8m4.3 0h.8m.1 0h.8m6.6 0h.8m13.4 0h.8m.1 0h.8m1.8 0h.8m-.7 0h.8m6.1 0h.8m13.2 0h.8m2.1 0h.8m2 0h.8M2.7 24.7h.8m6.8 0h.8m.5 0h.8m-.6 0h.8m7.1 0h.8m5 0h.8m1.4 0h.8m4.4 0h.8m-.4 0h.8m-.3 0h.8m-.7 0h.8m11.3 0h.8m5.6 0h.8m1.7 0h.8m.8 0h.8m2.1 0h.8m2.6 0h.8m1 0h.8m.1 0h.8m-.5 0h.8m-.2 0h.8m2.5 0h.8m1.9 0h.8m4.3 0h.8m.1 0h.8m-.4 0h.8m-.2 0h.8m9.4 0h.8m1.2 0h.8m3.8 0h.8m-.5 0h.8M5.6 25.3h.8m1.2 0h.8m2.6 0h.8m.6 0h.8m1.8 0h.8m2.2 0h.8m1.1 0h.8m1.4 0h.8m1.5 0h.8m-.7 0h.8m4.9 0h.8m5.4 0h.8m4.4 0h.8m3.9 0h.8m.6 0h.8m2.8 0h.8m1.2 0h.8m5.2 0h.8m1.1 0h.8m2 0h.8m-.6 0h.8m6.2 0h.8m-.5 0h.8m-.6 0h.8m-.7 0h.8m6.3 0h.8m5 0h.8m.9 0h.8M.9 25.8h.8m-.1 0h.8m2.4 0h.8m0 0h.8m2.1 0h.8m-.1 0h.8m.9 0h.8m11.1 0h.8m.6 0h.8m7 0h.8m1 0h.8m3.2 0h.8m2.6 0h.8m2.4 0h.8m1.6 0h.8m8.1 0h.8m.8 0h.8m1.2 0h.8m-.1 0h.8m-.3 0h.8m.7 0h.8m2.9 0h.8m0 0h.8m0 0h.8m1.7 0h.8m-.2 0h.8m-.5 0h.8m.4 0h.8m-.3 0h.8m-.7 0h.8m.3 0h.8m13.9 0h.8m7.6 0h.8M.4 26.3h.8m-.3 0h.8m0 0h.8m-.7 0h.8m2.2 0h.8m7 0h.8m.7 0h.8m1.2 0h.8m0 0h.8m-.7 0h.8m4 0h.8m8 0h.8m-.5 0h.8m3.9 0h.8m12.7 0h.8m4.8 0h.8m-.7 0h.8m.5 0h.8m1.5 0h.8m-.4 0h.8m3.4 0h.8m.6 0h.8m.1 0h.8m.6 0h.8m1.7 0h.8m2.5 0h.8m8.4 0h.8m6.9 0h.8m1.1 0h.8m2.8 0h.8" stroke="#111" stroke-width="0.55" fill="none"/>
<line x1="185.2" y1="299.9" x2="185.2" y2="326.5" stroke="#d2492a" stroke-width="1.1"/>
<polyline points="205.7,326.2 208.7,317.9 211.2,308.9 215.7,300.4" fill="none" stroke="#4f5fc8" stroke-width="0.6"/>
<path d="M252.7 300.3h-1.3v25.8h1.3" fill="none" stroke="#222" stroke-width="0.9"/>
<path transform="translate(151.7 328.3)" d="M1.1 .3h.8m-.2 0h.8m2.1 0h.8m1.7 0h.8m-.6 0h.8m.4 0h.8m-.1 0h.8m-.3 0h.8m1.7 0h.8m6 0h.8m1 0h.8m-.5 0h.8m3.3 0h.8m-.4 0h.8m.9 0h.8m2.9 0h.8m1.6 0h.8m1.2 0h.8m9.9 0h.8m11.3 0h.8m-.1 0h.8m.9 0h.8m6.1 0h.8m2.2 0h.8m-.7 0h.8m1.2 0h.8m1.1 0h.8m-.6 0h.8m-.7 0h.8m-.6 0h.8m-.2 0h.8m5 0h.8m3.5 0h.8m.8 0h.8m.6 0h.8m2.9 0h.8M.9 .8h.8m-.2 0h.8m2.4 0h.8m.7 0h.8m.4 0h.8m.1 0h.8m4.3 0h.8m.9 0h.8m.3 0h.8m3.4 0h.8m-.3 0h.8m3.1 0h.8m-.8 0h.8m.7 0h.8m2.9 0h.8m13.3 0h.8m15.4 0h.8m1.1 0h.8m6.9 0h.8m-.8 0h.8m.6 0h.8m1.4 0h.8m-.5 0h.8m.4 0h.8m1.4 0h.8m.3 0h.8m3.9 0h.8m3.3 0h.8m2.2 0h.8M1.1 1.3h.8m8.1 0h.8m5.3 0h.8m.9 0h.8m.4 0h.8m.8 0h.8m-.4 0h.8m.9 0h.8m5.4 0h.8m.5 0h.8m1.1 0h.8m8.4 0h.8m2.9 0h.8m.7 0h.8m0 0h.8m9.5 0h.8m2.6 0h.8m6 0h.8m1.9 0h.8m1.9 0h.8m5.4 0h.8m2.6 0h.8m-.6 0h.8m-.6 0h.8m3.1 0h.8m7.1 0h.8M6.2 1.8h.8m5.2 0h.8m.1 0h.8m-.2 0h.8m-.5 0h.8m2 0h.8m-.2 0h.8m1.6 0h.8m6.9 0h.8m1.1 0h.8m.2 0h.8m-.3 0h.8m4.1 0h.8m2.2 0h.8m15.3 0h.8m0 0h.8m6.1 0h.8m-.3 0h.8m5.2 0h.8m-.3 0h.8m.7 0h.8m2.3 0h.8m.1 0h.8m-.6 0h.8m1 0h.8m7.5 0h.8m3.3 0h.8M.1 2.4h.8m-.6 0h.8m5 0h.8m.4 0h.8m1.3 0h.8m-.4 0h.8m-.7 0h.8m2.5 0h.8m-.7 0h.8m3.4 0h.8m4.5 0h.8m8 0h.8m-.2 0h.8m1.5 0h.8m1 0h.8m2 0h.8m8.3 0h.8m4.6 0h.8m6.5 0h.8m.1 0h.8m2.6 0h.8m2.8 0h.8m1.2 0h.8m-.5 0h.8m-.6 0h.8m1.5 0h.8m-.7 0h.8m-.7 0h.8m.5 0h.8m-.1 0h.8m1.4 0h.8m.1 0h.8m-.5 0h.8m-.6 0h.8m1.4 0h.8m2.2 0h.8m3.3 0h.8m-.8 0h.8M2.4 2.9h.8m.1 0h.8m-.2 0h.8m1.2 0h.8m-.4 0h.8m-.2 0h.8m2.3 0h.8m1.6 0h.8m1.7 0h.8m4.4 0h.8m6.4 0h.8m-.4 0h.8m-.2 0h.8m1.6 0h.8m.7 0h.8m1.8 0h.8m.9 0h.8m7.6 0h.8m1 0h.8m-.3 0h.8m8.5 0h.8m1.3 0h.8m-.3 0h.8m3.4 0h.8m.3 0h.8m.9 0h.8m6.7 0h.8m.4 0h.8m-.3 0h.8m-.4 0h.8m1.4 0h.8m2.3 0h.8m6 0h.8m6.3 0h.8m1 0h.8M.8 3.4h.8m1.4 0h.8m.4 0h.8m-.5 0h.8m.2 0h.8m-.5 0h.8m2.7 0h.8m3.3 0h.8m0 0h.8m-.1 0h.8m2.3 0h.8m-.2 0h.8m1 0h.8m-.6 0h.8m-.2 0h.8m.3 0h.8m-.7 0h.8m7.6 0h.8m5.9 0h.8m.9 0h.8m-.2 0h.8m.9 0h.8m3 0h.8m7.3 0h.8m1.4 0h.8m-.4 0h.8m2.2 0h.8m5.4 0h.8m3.4 0h.8m0 0h.8m-.1 0h.8m-.3 0h.8m2.5 0h.8m-.5 0h.8m.3 0h.8m9.9 0h.8m4.7 0h.8M.9 3.9h.8m.5 0h.8m1.2 0h.8m.7 0h.8m8 0h.8m1.7 0h.8m-.7 0h.8m-.1 0h.8m6.9 0h.8m.1 0h.8m-.5 0h.8m4 0h.8m.5 0h.8m3.1 0h.8m.3 0h.8m4.8 0h.8m19.9 0h.8m.6 0h.8m-.4 0h.8m-.4 0h.8m1.9 0h.8m2.3 0h.8m1.4 0h.8m-.1 0h.8m.5 0h.8m.5 0h.8m4.6 0h.8m1.1 0h.8m-.1 0h.8m3.3 0h.8m3.7 0h.8m1.4 0h.8M0 4.5h.8m.6 0h.8m10.3 0h.8m7.1 0h.8m1.9 0h.8m1.4 0h.8m-.2 0h.8m4.2 0h.8m2.5 0h.8m-.5 0h.8m-.4 0h.8m1.4 0h.8m11.9 0h.8m7.3 0h.8m1.1 0h.8m-.8 0h.8m3.7 0h.8m-.5 0h.8m-.1 0h.8m-.4 0h.8m3.2 0h.8m2.7 0h.8m-.8 0h.8m-.7 0h.8m1.8 0h.8m1 0h.8m.1 0h.8m1.1 0h.8m-.3 0h.8m-.6 0h.8m1 0h.8m.2 0h.8m.1 0h.8m4.3 0h.8m-.2 0h.8m4.5 0h.8M.1 5h.8m2.2 0h.8m10.6 0h.8m0 0h.8m16.3 0h.8m13.8 0h.8m.9 0h.8m2.7 0h.8m5.7 0h.8m2.7 0h.8m8.4 0h.8m-.4 0h.8m2.3 0h.8m1.7 0h.8m-.6 0h.8m-.3 0h.8m-.6 0h.8m-.8 0h.8m0 0h.8m4.2 0h.8m.3 0h.8m.3 0h.8m2.4 0h.8m1 0h.8m-.4 0h.8m.1 0h.8m2.9 0h.8M1 5.5h.8m-.4 0h.8m-.4 0h.8m-.8 0h.8m2.4 0h.8m1.1 0h.8m-.7 0h.8m.9 0h.8m-.3 0h.8m3.5 0h.8m-.2 0h.8m2.2 0h.8m2 0h.8m.1 0h.8m.3 0h.8m2.3 0h.8m1.2 0h.8m0 0h.8m.5 0h.8m.8 0h.8m2.3 0h.8m8.7 0h.8m6 0h.8m5.2 0h.8m4.5 0h.8m.6 0h.8m7.2 0h.8m7.3 0h.8m7.6 0h.8m-.2 0h.8m1 0h.8m-.5 0h.8m1.8 0h.8M.7 6h.8m2.5 0h.8m1 0h.8m.4 0h.8m1.1 0h.8m1.3 0h.8m3.8 0h.8m-.2 0h.8m.3 0h.8m1.4 0h.8m-.7 0h.8m5 0h.8m.7 0h.8m5.6 0h.8m2.2 0h.8m2 0h.8m7.9 0h.8m6.9 0h.8m3 0h.8m3.6 0h.8m1.4 0h.8m.7 0h.8m-.7 0h.8m.3 0h.8m2.1 0h.8m2.2 0h.8m1.3 0h.8m1.4 0h.8m13.6 0h.8m1.4 0h.8M.3 6.6h.8m3.5 0h.8m3.9 0h.8m-.1 0h.8m6.5 0h.8m-.8 0h.8m.3 0h.8m.7 0h.8m.9 0h.8m2.8 0h.8m0 0h.8m4.2 0h.8m1.7 0h.8m3.4 0h.8m-.2 0h.8m.3 0h.8m-.3 0h.8m-.3 0h.8m2 0h.8m.3 0h.8m4 0h.8m-.4 0h.8m4.7 0h.8m-.2 0h.8m7.2 0h.8m1.1 0h.8m1.1 0h.8m8.8 0h.8m-.1 0h.8m-.6 0h.8m6.5 0h.8M.1 7.1h.8m-.5 0h.8m2.3 0h.8m-.2 0h.8m.1 0h.8m0 0h.8m20.7 0h.8m26.7 0h.8m5.3 0h.8m2.4 0h.8m3.5 0h.8m-.2 0h.8m.1 0h.8m-.7 0h.8m-.7 0h.8m1.9 0h.8m2.7 0h.8m0 0h.8m1.8 0h.8m-.7 0h.8m2.6 0h.8m-.1 0h.8m1.2 0h.8m3.7 0h.8m3.1 0h.8m.3 0h.8M6.5 7.6h.8m0 0h.8m3.1 0h.8m3.1 0h.8m.1 0h.8m-.6 0h.8m1.9 0h.8m7.3 0h.8m1.4 0h.8m.5 0h.8m3.5 0h.8m.5 0h.8m14.6 0h.8m6.6 0h.8m6 0h.8m1.7 0h.8m2.4 0h.8m.1 0h.8m1.5 0h.8m-.2 0h.8m1.9 0h.8m-.4 0h.8m6.3 0h.8m-.8 0h.8m.4 0h.8m.2 0h.8M1.6 8.2h.8m1.1 0h.8m1.1 0h.8m8.2 0h.8m1.8 0h.8m2.9 0h.8m2.1 0h.8m2.4 0h.8m1.6 0h.8m1.9 0h.8m3.9 0h.8m1.3 0h.8m-.3 0h.8m-.1 0h.8m1.3 0h.8m6.4 0h.8m5.6 0h.8m4.4 0h.8m-.4 0h.8m2.1 0h.8m3.7 0h.8m1.8 0h.8m1.3 0h.8m2.6 0h.8m1.8 0h.8m1.9 0h.8m-.7 0h.8m-.4 0h.8m2.9 0h.8m4.2 0h.8m1.4 0h.8m2.5 0h.8M2.4 8.7h.8m5.2 0h.8m-.6 0h.8m-.6 0h.8m.2 0h.8m.4 0h.8m.8 0h.8m3.3 0h.8m3.9 0h.8m3.5 0h.8m6.3 0h.8m-.1 0h.8m2.6 0h.8m2.7 0h.8m.7 0h.8m4.2 0h.8m2.8 0h.8m1.8 0h.8m-.6 0h.8m6.8 0h.8m1.5 0h.8m-.3 0h.8m1.2 0h.8m1.2 0h.8m.6 0h.8m.6 0h.8m6.9 0h.8m.5 0h.8m1.8 0h.8m-.6 0h.8m.2 0h.8m-.1 0h.8m-.4 0h.8m-.3 0h.8m.7 0h.8m1.9 0h.8m-.4 0h.8M1.5 9.2h.8m0 0h.8m2.5 0h.8m-.5 0h.8m.2 0h.8m1.5 0h.8m2.9 0h.8m2.1 0h.8m9.1 0h.8m2.2 0h.8m.6 0h.8m5.6 0h.8m4.4 0h.8m13.2 0h.8m-.4 0h.8m3.3 0h.8m.6 0h.8m2.4 0h.8m-.1 0h.8m.2 0h.8m.8 0h.8m.3 0h.8m-.5 0h.8m5 0h.8m.1 0h.8m.5 0h.8m3 0h.8m-.1 0h.8m1.3 0h.8m1.9 0h.8m-.2 0h.8m8 0h.8M1.4 9.7h.8m-.3 0h.8m-.5 0h.8m1.3 0h.8m-.4 0h.8m1.2 0h.8m-.5 0h.8m4.7 0h.8m-.7 0h.8m-.7 0h.8m1.4 0h.8m2.4 0h.8m-.7 0h.8m-.5 0h.8m4.4 0h.8m1.6 0h.8m-.2 0h.8m-.1 0h.8m8.6 0h.8m5 0h.8m-.7 0h.8m1.4 0h.8m-.6 0h.8m11.7 0h.8m-.3 0h.8m5.3 0h.8m1.3 0h.8m.5 0h.8m.6 0h.8m.3 0h.8m-.8 0h.8m6 0h.8m9.5 0h.8m2.6 0h.8m-.2 0h.8m4.1 0h.8m.7 0h.8M.5 10.3h.8m-.6 0h.8m.7 0h.8m1.3 0h.8m7.4 0h.8m2.5 0h.8m2.3 0h.8m1.5 0h.8m1.1 0h.8m2.2 0h.8m.7 0h.8m4.5 0h.8m1 0h.8m12.8 0h.8m.8 0h.8m1.3 0h.8m2.7 0h.8m.6 0h.8m-.2 0h.8m3.2 0h.8m-.4 0h.8m2.1 0h.8m13.3 0h.8m2.4 0h.8m.2 0h.8m1.2 0h.8m4.3 0h.8m4.8 0h.8M3.6 10.8h.8m-.1 0h.8m1.2 0h.8m-.5 0h.8m.1 0h.8m-.2 0h.8m3.1 0h.8m-.2 0h.8m2.7 0h.8m-.7 0h.8m-.7 0h.8m13 0h.8m-.4 0h.8m8.9 0h.8m.8 0h.8m13.4 0h.8m1.5 0h.8m4.8 0h.8m2.5 0h.8m.8 0h.8m4.7 0h.8m-.2 0h.8m-.8 0h.8m-.3 0h.8m10.6 0h.8m2 0h.8m.1 0h.8m2.3 0h.8m1.3 0h.8m1.5 0h.8M.4 11.3h.8m-.3 0h.8m-.1 0h.8m3.5 0h.8m.4 0h.8m2.8 0h.8m3.5 0h.8m3.2 0h.8m.7 0h.8m-.3 0h.8m4.2 0h.8m.3 0h.8m6.4 0h.8m.9 0h.8m.8 0h.8m16.4 0h.8m2.3 0h.8m-.5 0h.8m0 0h.8m.4 0h.8m1.7 0h.8m-.1 0h.8m.5 0h.8m-.5 0h.8m0 0h.8m-.7 0h.8m1 0h.8m.1 0h.8m.6 0h.8m2.5 0h.8m.3 0h.8m.1 0h.8m1.5 0h.8m5.8 0h.8m3 0h.8m3.6 0h.8m.3 0h.8M2.3 11.8h.8m3 0h.8m.6 0h.8m-.5 0h.8m.4 0h.8m0 0h.8m2.6 0h.8m.2 0h.8m2.6 0h.8m-.5 0h.8m-.3 0h.8m10.5 0h.8m3.3 0h.8m1.1 0h.8m1.7 0h.8m.7 0h.8m.2 0h.8m9.3 0h.8m9.2 0h.8m3.7 0h.8m.5 0h.8m3.4 0h.8m-.5 0h.8m.8 0h.8m.9 0h.8m.5 0h.8m1.8 0h.8m1.8 0h.8m-.2 0h.8m.4 0h.8m7.8 0h.8m-.5 0h.8m4.3 0h.8m-.4 0h.8M1 12.4h.8m.5 0h.8m1.5 0h.8m-.7 0h.8m-.2 0h.8m.9 0h.8m2.5 0h.8m2 0h.8m.1 0h.8m1.2 0h.8m2.4 0h.8m2.1 0h.8m3.8 0h.8m20 0h.8m7.9 0h.8m2.5 0h.8m6.6 0h.8m-.5 0h.8m-.6 0h.8m2.1 0h.8m0 0h.8m.2 0h.8m.8 0h.8m-.4 0h.8m.5 0h.8m-.3 0h.8m.1 0h.8m.2 0h.8m2.7 0h.8m-.4 0h.8m6.1 0h.8m3.1 0h.8M.8 12.9h.8m1.7 0h.8m-.1 0h.8m6.2 0h.8m.5 0h.8m2.4 0h.8m-.8 0h.8m1.3 0h.8m.5 0h.8m4.6 0h.8m-.5 0h.8m.4 0h.8m-.5 0h.8m.3 0h.8m21.3 0h.8m-.2 0h.8m.3 0h.8m2.2 0h.8m1.4 0h.8m-.5 0h.8m.8 0h.8m10.3 0h.8m.8 0h.8m-.1 0h.8m-.7 0h.8m-.6 0h.8m3.9 0h.8m-.4 0h.8m1.9 0h.8m1.6 0h.8m-.8 0h.8m0 0h.8m-.1 0h.8m5.1 0h.8M8.3 13.4h.8m3.9 0h.8m.8 0h.8m.9 0h.8m.6 0h.8m3.3 0h.8m2.2 0h.8m-.1 0h.8m-.6 0h.8m2 0h.8m.9 0h.8m-.6 0h.8m-.1 0h.8m.5 0h.8m5.5 0h.8m-.2 0h.8m3.4 0h.8m11.2 0h.8m.7 0h.8m-.2 0h.8m5.4 0h.8m.4 0h.8m4 0h.8m0 0h.8m-.6 0h.8m2.4 0h.8m.8 0h.8m-.5 0h.8m.7 0h.8m5.5 0h.8m-.4 0h.8M3.8 13.9h.8m-.4 0h.8m.9 0h.8m-.1 0h.8m0 0h.8m4.2 0h.8m.9 0h.8m2.3 0h.8m1 0h.8m3.5 0h.8m4.4 0h.8m24 0h.8m-.3 0h.8m1 0h.8m11.6 0h.8m.1 0h.8m1.3 0h.8m-.5 0h.8m1.1 0h.8m1 0h.8m1.5 0h.8m.2 0h.8m0 0h.8m1.3 0h.8m.5 0h.8m2.8 0h.8m3.7 0h.8m5.3 0h.8M4.4 14.5h.8m1.5 0h.8m1.5 0h.8m1 0h.8m1.3 0h.8m1.4 0h.8m3.7 0h.8m-.5 0h.8m6.2 0h.8m.1 0h.8m8.3 0h.8m-.6 0h.8m8.8 0h.8m8.7 0h.8m.2 0h.8m1.7 0h.8m.1 0h.8m.8 0h.8m3 0h.8m2.4 0h.8m1.3 0h.8m.6 0h.8m0 0h.8m7.1 0h.8m1.5 0h.8m11.6 0h.8M3.7 15h.8m-.7 0h.8m-.3 0h.8m4.3 0h.8m1.7 0h.8m1.7 0h.8m-.8 0h.8m1.7 0h.8m2.3 0h.8m.1 0h.8m6.7 0h.8m1 0h.8m6.2 0h.8m.4 0h.8m19.6 0h.8m.4 0h.8m2.9 0h.8m-.1 0h.8m2.9 0h.8m-.7 0h.8m.4 0h.8m.9 0h.8m4.5 0h.8m2.3 0h.8m.5 0h.8m1.1 0h.8m6.5 0h.8m-.4 0h.8m4.5 0h.8M.1 15.5h.8m2 0h.8m-.1 0h.8m-.5 0h.8m-.7 0h.8m0 0h.8m2.2 0h.8m.7 0h.8m3.4 0h.8m.2 0h.8m3.3 0h.8m11.8 0h.8m2.8 0h.8m4.4 0h.8m.7 0h.8m14.4 0h.8m.5 0h.8m.4 0h.8m1.7 0h.8m-.2 0h.8m1.8 0h.8m-.4 0h.8m.4 0h.8m-.6 0h.8m3.2 0h.8m.8 0h.8m2.8 0h.8m-.4 0h.8m0 0h.8m-.7 0h.8m.9 0h.8m4.3 0h.8m1.5 0h.8m4.5 0h.8M.2 16h.8m-.5 0h.8m.9 0h.8m3.7 0h.8m-.5 0h.8m2.7 0h.8m-.5 0h.8m.8 0h.8m4.5 0h.8m.1 0h.8m3.6 0h.8m.1 0h.8m.5 0h.8m3.5 0h.8m-.2 0h.8m-.6 0h.8m.5 0h.8m1.7 0h.8m3 0h.8m6.7 0h.8m.9 0h.8m1 0h.8m5.9 0h.8m7.9 0h.8m-.3 0h.8m6.8 0h.8m.7 0h.8m2.3 0h.8m8.6 0h.8m10.2 0h.8M7.6 16.6h.8m.2 0h.8m.7 0h.8m2.3 0h.8m2.7 0h.8m.3 0h.8m3.6 0h.8m0 0h.8m.2 0h.8m-.2 0h.8m1.7 0h.8m3.4 0h.8m-.6 0h.8m-.5 0h.8m-.4 0h.8m3.1 0h.8m11.2 0h.8m1.7 0h.8m1.2 0h.8m2 0h.8m.3 0h.8m1.2 0h.8m-.6 0h.8m.6 0h.8m1.1 0h.8m.7 0h.8m5.4 0h.8m-.1 0h.8m-.4 0h.8m1.3 0h.8m-.2 0h.8m.3 0h.8m-.6 0h.8m5.1 0h.8m2.9 0h.8m-.5 0h.8m6.7 0h.8M7.1 17.1h.8m2.9 0h.8m.3 0h.8m.7 0h.8m-.3 0h.8m-.6 0h.8m1.5 0h.8m-.6 0h.8m2.4 0h.8m-.8 0h.8m.5 0h.8m2.4 0h.8m4 0h.8m-.6 0h.8m0 0h.8m24.3 0h.8m14.2 0h.8m.4 0h.8m-.7 0h.8m.4 0h.8m.3 0h.8m8.5 0h.8m.1 0h.8m.5 0h.8m1.9 0h.8m1.4 0h.8m4.5 0h.8M1.9 17.6h.8m-.8 0h.8m5.6 0h.8m-.7 0h.8m4.2 0h.8m-.7 0h.8m1.6 0h.8m2 0h.8m.7 0h.8m-.7 0h.8m3.1 0h.8m3.6 0h.8m.5 0h.8m-.5 0h.8m-.5 0h.8m-.7 0h.8m11 0h.8m19.5 0h.8m2.8 0h.8m2.6 0h.8m3.9 0h.8m1.2 0h.8m0 0h.8m13 0h.8m.9 0h.8M.3 18.1h.8m-.2 0h.8m6.3 0h.8m3.1 0h.8m-.8 0h.8m1.3 0h.8m.5 0h.8m.9 0h.8m10.4 0h.8m-.2 0h.8m-.4 0h.8m4.4 0h.8m.2 0h.8m1.5 0h.8m1.3 0h.8m0 0h.8m2.7 0h.8m3.7 0h.8m13.1 0h.8m.2 0h.8m.3 0h.8m-.7 0h.8m-.8 0h.8m2.2 0h.8m5.2 0h.8m2.2 0h.8m.1 0h.8m1.5 0h.8m1.4 0h.8m2.7 0h.8m2.3 0h.8m3.5 0h.8m.2 0h.8M.4 18.7h.8m2 0h.8m-.6 0h.8m.6 0h.8m-.6 0h.8m1.1 0h.8m4 0h.8m2.5 0h.8m.8 0h.8m-.4 0h.8m.7 0h.8m.1 0h.8m1.4 0h.8m3.6 0h.8m1 0h.8m4 0h.8m.5 0h.8m5.3 0h.8m.5 0h.8m.3 0h.8m-.3 0h.8m9.5 0h.8m-.2 0h.8m.4 0h.8m1.8 0h.8m.3 0h.8m1.6 0h.8m1.6 0h.8m3.2 0h.8m1.1 0h.8m1.3 0h.8m3.1 0h.8m-.1 0h.8m3.3 0h.8m.7 0h.8m14.1 0h.8m.6 0h.8M3.5 19.2h.8m1 0h.8m.4 0h.8m1.9 0h.8m1.1 0h.8m-.1 0h.8m.8 0h.8m3.6 0h.8m.1 0h.8m3.5 0h.8m.8 0h.8m5.6 0h.8m-.2 0h.8m1 0h.8m3 0h.8m.2 0h.8m.3 0h.8m.4 0h.8m-.8 0h.8m4.1 0h.8m3.7 0h.8m-.2 0h.8m-.5 0h.8m-.5 0h.8m1.5 0h.8m4 0h.8m1.8 0h.8m6 0h.8m4.4 0h.8m-.1 0h.8m2.7 0h.8m1.2 0h.8m5 0h.8m1.5 0h.8m.3 0h.8m6.3 0h.8m.2 0h.8M.7 19.7h.8m.5 0h.8m-.6 0h.8m1.1 0h.8m-.6 0h.8m.2 0h.8m.5 0h.8m0 0h.8m-.7 0h.8m1.3 0h.8m11.9 0h.8m6.5 0h.8m.4 0h.8m3.4 0h.8m7.6 0h.8m-.7 0h.8m7.6 0h.8m4.3 0h.8m1.3 0h.8m5.1 0h.8m.5 0h.8m0 0h.8m-.3 0h.8m1.2 0h.8m2.2 0h.8m.1 0h.8m1.3 0h.8m-.3 0h.8m-.4 0h.8m3.5 0h.8m7 0h.8m1.7 0h.8m1.9 0h.8M7.6 20.3h.8m.2 0h.8m1.6 0h.8m.2 0h.8m1.9 0h.8m6 0h.8m1.1 0h.8m-.6 0h.8m1.6 0h.8m2.8 0h.8m.5 0h.8m.7 0h.8m-.7 0h.8m-.7 0h.8m.8 0h.8m1.7 0h.8m9.7 0h.8m.2 0h.8m5.9 0h.8m0 0h.8m-.4 0h.8m-.2 0h.8m1.6 0h.8m1.7 0h.8m4.2 0h.8m1 0h.8m-.2 0h.8m.1 0h.8m3.1 0h.8m-.8 0h.8m2.5 0h.8m-.3 0h.8m2.5 0h.8m6.1 0h.8m6.5 0h.8M3.2 20.8h.8m1 0h.8m1 0h.8m0 0h.8m2.5 0h.8m-.1 0h.8m.9 0h.8m.6 0h.8m-.1 0h.8m1 0h.8m3 0h.8m-.4 0h.8m1.1 0h.8m5.4 0h.8m0 0h.8m-.5 0h.8m2.6 0h.8m.9 0h.8m.5 0h.8m14.4 0h.8m3.2 0h.8m-.5 0h.8m2.3 0h.8m3.3 0h.8m3.2 0h.8m-.1 0h.8m-.3 0h.8m2.2 0h.8m.3 0h.8m1.5 0h.8m-.4 0h.8m1.2 0h.8m4.2 0h.8m4.1 0h.8m-.3 0h.8m5.8 0h.8M3.4 21.3h.8m2.2 0h.8m-.7 0h.8m-.5 0h.8m.7 0h.8m-.6 0h.8m2.9 0h.8m2 0h.8m1.5 0h.8m4.4 0h.8m1.6 0h.8m-.7 0h.8m-.6 0h.8m.5 0h.8m6.3 0h.8m3.1 0h.8m.6 0h.8m1.3 0h.8m3.7 0h.8m2.4 0h.8m2.3 0h.8m6.7 0h.8m1.9 0h.8m.3 0h.8m-.8 0h.8m-.6 0h.8m-.7 0h.8m-.3 0h.8m1.9 0h.8m.3 0h.8m.5 0h.8m13.9 0h.8M.1 21.8h.8m.2 0h.8m.8 0h.8m-.7 0h.8m6.3 0h.8m.2 0h.8m-.6 0h.8m-.7 0h.8m-.5 0h.8m2.1 0h.8m1.2 0h.8m8.4 0h.8m-.8 0h.8m0 0h.8m5.5 0h.8m.1 0h.8m-.6 0h.8m4 0h.8m0 0h.8m12.4 0h.8m4.5 0h.8m3.5 0h.8m-.2 0h.8m4.9 0h.8m1.6 0h.8m.4 0h.8m3.1 0h.8m-.7 0h.8m-.7 0h.8m6.8 0h.8m8.9 0h.8m2 0h.8m.7 0h.8M1.3 22.4h.8m.1 0h.8m.5 0h.8m2.3 0h.8m-.1 0h.8m2.6 0h.8m3.2 0h.8m-.8 0h.8m12.9 0h.8m3 0h.8m.8 0h.8m15.9 0h.8m2.4 0h.8m2.4 0h.8m2 0h.8m.3 0h.8m.3 0h.8m.3 0h.8m.3 0h.8m.2 0h.8m2.4 0h.8m.4 0h.8m5.8 0h.8m1.9 0h.8m2 0h.8m.4 0h.8M1.4 22.9h.8m2.9 0h.8m3.6 0h.8m5.1 0h.8m.1 0h.8m.5 0h.8m2 0h.8m.3 0h.8m4.1 0h.8m-.5 0h.8m.9 0h.8m-.1 0h.8m.8 0h.8m1.1 0h.8m4.8 0h.8m5.5 0h.8m-.1 0h.8m1.6 0h.8m6.8 0h.8m3.3 0h.8m-.2 0h.8m-.1 0h.8m3.1 0h.8m.8 0h.8m-.7 0h.8m1.4 0h.8m-.4 0h.8m-.2 0h.8m.8 0h.8m13.5 0h.8m2.5 0h.8m7.8 0h.8M1.2 23.4h.8m.2 0h.8m2.1 0h.8m0 0h.8m-.8 0h.8m.9 0h.8m3.4 0h.8m.7 0h.8m8.1 0h.8m-.7 0h.8m6.5 0h.8m.8 0h.8m4.6 0h.8m1.1 0h.8m3.5 0h.8m.9 0h.8m-.8 0h.8m.7 0h.8m3.7 0h.8m9.5 0h.8m2 0h.8m4.2 0h.8m.8 0h.8m.8 0h.8m1.5 0h.8m2.7 0h.8m1 0h.8m1.5 0h.8m1.1 0h.8m13.3 0h.8M2.6 23.9h.8m3.1 0h.8m0 0h.8m2.2 0h.8m1.1 0h.8m5.6 0h.8m-.3 0h.8m1.7 0h.8m3.8 0h.8m3.1 0h.8m2.5 0h.8m.1 0h.8m3.9 0h.8m8.6 0h.8m1.6 0h.8m7.1 0h.8m-.6 0h.8m4.7 0h.8m1.2 0h.8m-.2 0h.8m-.7 0h.8m.7 0h.8m1 0h.8m.9 0h.8m1.6 0h.8m3 0h.8m3.5 0h.8m2.3 0h.8m2.5 0h.8m7.9 0h.8M0 24.5h.8m-.1 0h.8m.7 0h.8m-.1 0h.8m-.2 0h.8m-.2 0h.8m3.5 0h.8m.6 0h.8m5.4 0h.8m4.4 0h.8m4.1 0h.8m.7 0h.8m3.6 0h.8m.2 0h.8m3 0h.8m-.3 0h.8m.3 0h.8m.8 0h.8m17 0h.8m.1 0h.8m-.3 0h.8m2.4 0h.8m1.5 0h.8m1 0h.8m4.2 0h.8m2.8 0h.8m1 0h.8m4.6 0h.8m1 0h.8m2.5 0h.8m.9 0h.8m-.5 0h.8m.5 0h.8m2.2 0h.8M1.2 25h.8m-.7 0h.8m.4 0h.8m4.3 0h.8m1.3 0h.8m4.1 0h.8m2.9 0h.8m-.4 0h.8m1.1 0h.8m2.6 0h.8m9.1 0h.8m1.2 0h.8m.4 0h.8m1.5 0h.8m-.2 0h.8m4.2 0h.8m-.3 0h.8m4.8 0h.8m2 0h.8m1.5 0h.8m10.6 0h.8m1 0h.8m.2 0h.8m.4 0h.8m1 0h.8m1.4 0h.8m21.6 0h.8M5.3 25.5h.8m.6 0h.8m1 0h.8m.5 0h.8m.4 0h.8m3 0h.8m1.4 0h.8m2.2 0h.8m-.1 0h.8m1.2 0h.8m.4 0h.8m.1 0h.8m5.7 0h.8m1.9 0h.8m7.4 0h.8m2.3 0h.8m2.9 0h.8m.3 0h.8m2.8 0h.8m1 0h.8m-.6 0h.8m2.1 0h.8m.7 0h.8m.8 0h.8m3.7 0h.8m3.7 0h.8m.1 0h.8m-.2 0h.8m.6 0h.8m-.5 0h.8m-.6 0h.8m-.7 0h.8m1.8 0h.8m-.2 0h.8m.1 0h.8m12.3 0h.8m1.1 0h.8M1.1 26h.8m.5 0h.8m-.7 0h.8m-.1 0h.8m1.7 0h.8m3 0h.8m.6 0h.8m6.3 0h.8m.2 0h.8m-.4 0h.8m0 0h.8m5.7 0h.8m.7 0h.8m0 0h.8m.9 0h.8m1.8 0h.8m-.5 0h.8m.9 0h.8m19.1 0h.8m5.9 0h.8m.7 0h.8m1.3 0h.8m4.6 0h.8m.2 0h.8m2.9 0h.8m3.9 0h.8m-.2 0h.8m1.6 0h.8m1.3 0h.8m9 0h.8" stroke="#111" stroke-width="0.55" fill="none"/>
<line x1="185.2" y1="328.3" x2="185.2" y2="354.6" stroke="#d2492a" stroke-width="1.1"/>
<polyline points="205.2,354.3 208.2,344.3 210.7,335.3 213.6,328.8" fill="none" stroke="#4f5fc8" stroke-width="0.6"/>
<path d="M252.7 328.7h-1.3v25.5h1.3" fill="none" stroke="#222" stroke-width="0.9"/>
<path d="M151.7 361.3L154.6 362.5L158.1 363.7L161.6 364.8L165.1 365.5L168.7 366.9L171.3 366L174.8 366L178.3 366L180.9 367.7L184.4 364.2L187 365.1L189.7 368.3L193.2 370.4L196.7 372.5L200.2 373.9L203.7 373.9L206.3 372.1L209.8 368.6L213.3 366L216.8 363L220.3 361.3L223.5 359.9L226.5 362.5L230 363.7L233.5 365.1L237 366.9L240.5 368.6L243.5 369.5L246.6 369L251.8 369L251.8 373.8L246.6 373.8L243.5 374.3L240.5 373.4L237 371.7L233.5 369.9L230 368.5L226.5 367.3L223.5 364.7L220.3 366.1L216.8 367.8L213.3 370.8L209.8 373.4L206.3 376.9L203.7 378.7L200.2 378.7L196.7 377.3L193.2 375.2L189.7 373.1L187 369.9L184.4 369L180.9 372.5L178.3 370.8L174.8 370.8L171.3 370.8L168.7 371.7L165.1 370.3L161.6 369.6L158.1 368.5L154.6 367.3L151.7 366.1Z" fill="#86dc90" fill-opacity="0.6"/>
<path d="M151.7 360.3L154.6 361.1L158.1 361.7L161.6 363.4L165.1 363.4L167.8 362L171.3 365.5L174.8 366L178.3 365.9L181.8 364.6L184.4 363.4L187 364.1L189.7 366.9L193.2 369.9L196.7 371.7L200.2 372.2L202.8 372.5L206.3 370.4L209.8 367.6L213.3 365.2L216.8 362L220.3 362L223.5 359.4L226.5 361.1L230 361.1L233.5 363.8L237 366.4L240.5 369L243.5 370.8L246.6 369.9L251.8 369L251.8 373L246.6 373.9L243.5 374.8L240.5 373L237 370.4L233.5 367.8L230 365.1L226.5 365.1L223.5 363.4L220.3 366L216.8 366L213.3 369.2L209.8 371.6L206.3 374.4L202.8 376.5L200.2 376.2L196.7 375.7L193.2 373.9L189.7 370.9L187 368.1L184.4 367.4L181.8 368.6L178.3 369.9L174.8 370L171.3 369.5L167.8 366L165.1 367.4L161.6 367.4L158.1 365.7L154.6 365.1L151.7 364.3Z" fill="#5f9464" fill-opacity="0.45"/>
<path d="M151.7 363.7C152.2 363.9 153.6 364.5 154.6 364.9C155.7 365.3 157 365.7 158.1 366.1C159.3 366.5 160.5 366.9 161.6 367.2C162.8 367.5 164 367.5 165.1 367.9C166.3 368.2 167.6 369.2 168.7 369.3C169.7 369.4 170.3 368.5 171.3 368.4C172.3 368.2 173.6 368.4 174.8 368.4C176 368.4 177.3 368.1 178.3 368.4C179.3 368.7 179.9 370.4 180.9 370.1C181.9 369.9 183.4 367.1 184.4 366.6C185.4 366.2 186.2 366.8 187 367.5C187.9 368.2 188.7 369.8 189.7 370.7C190.7 371.5 192 372.1 193.2 372.8C194.3 373.5 195.5 374.3 196.7 374.9C197.8 375.5 199 376 200.2 376.3C201.4 376.5 202.7 376.6 203.7 376.3C204.7 376 205.3 375.4 206.3 374.5C207.3 373.7 208.7 372 209.8 371C211 370 212.2 369.3 213.3 368.4C214.5 367.5 215.7 366.2 216.8 365.4C218 364.6 219.2 364.2 220.3 363.7C221.4 363.1 222.5 362.1 223.5 362.3C224.5 362.5 225.4 364.2 226.5 364.9C227.5 365.5 228.8 365.7 230 366.1C231.1 366.6 232.3 367 233.5 367.5C234.6 368 235.8 368.7 237 369.3C238.1 369.9 239.4 370.6 240.5 371C241.6 371.5 242.4 371.8 243.5 371.9C244.5 372 245.2 371.5 246.6 371.4C248 371.3 250.9 371.4 251.8 371.4" fill="none" stroke="#35c04a" stroke-width="1.0"/>
<path d="M151.7 362.3C152.2 362.4 153.6 362.9 154.6 363.1C155.7 363.4 157 363.3 158.1 363.7C159.3 364 160.5 365.1 161.6 365.4C162.8 365.7 164.1 365.7 165.1 365.4C166.2 365.2 166.8 363.7 167.8 364C168.8 364.4 170.1 366.8 171.3 367.5C172.4 368.2 173.6 368 174.8 368C176 368.1 177.1 368.1 178.3 367.9C179.5 367.6 180.8 367.1 181.8 366.6C182.8 366.2 183.5 365.5 184.4 365.4C185.3 365.3 186.2 365.5 187 366.1C187.9 366.7 188.7 368 189.7 368.9C190.7 369.9 192 371.1 193.2 371.9C194.3 372.7 195.5 373.3 196.7 373.7C197.8 374 199.2 374 200.2 374.2C201.2 374.3 201.8 374.8 202.8 374.5C203.8 374.2 205.1 373.2 206.3 372.4C207.5 371.6 208.7 370.5 209.8 369.6C211 368.7 212.2 368.1 213.3 367.2C214.5 366.2 215.7 364.5 216.8 364C218 363.5 219.2 364.5 220.3 364C221.4 363.6 222.5 361.5 223.5 361.4C224.5 361.2 225.4 362.8 226.5 363.1C227.5 363.4 228.8 362.7 230 363.1C231.1 363.6 232.3 364.9 233.5 365.8C234.6 366.6 235.8 367.5 237 368.4C238.1 369.3 239.4 370.3 240.5 371C241.6 371.8 242.4 372.6 243.5 372.8C244.5 372.9 245.2 372.2 246.6 371.9C248 371.6 250.9 371.2 251.8 371" fill="none" stroke="#1a3a20" stroke-width="1.4"/>
<line x1="151.7" y1="355.3" x2="151.7" y2="380" stroke="#3a3a3a" stroke-width="1.1"/>
<line x1="151.2" y1="379.5" x2="252.4" y2="379.5" stroke="#3a3a3a" stroke-width="1.1"/>
<path d="M151.7 361.4h-1.8M151.7 372.8h-1.8M151.7 379.5v2M168.4 379.5v2M185.2 379.5v2M201.9 379.5v2M218.6 379.5v2M235.4 379.5v2M252.1 379.5v2" stroke="#3a3a3a" stroke-width="0.8" fill="none"/>
<path transform="translate(151.7 390.8)" d="M1.2 .3h.8m-.2 0h.8m-.7 0h.8m1.2 0h.8m2.7 0h.8m6.1 0h.8m-.4 0h.8m.1 0h.8m12.5 0h.8m4.9 0h.8m.1 0h.8m2.5 0h.8m.2 0h.8m-.1 0h.8m-.6 0h.8m.9 0h.8m20.6 0h.8m4.3 0h.8m2.8 0h.8m2.8 0h.8m-.8 0h.8m-.8 0h.8m.7 0h.8m2.5 0h.8m-.6 0h.8m1.4 0h.8m1.2 0h.8m-.5 0h.8m1.4 0h.8m2.5 0h.8m1.7 0h.8m-.6 0h.8m.4 0h.8m2.2 0h.8M1.8 .8h.8m3.8 0h.8m0 0h.8m2.4 0h.8m-.5 0h.8m-.5 0h.8m.9 0h.8m-.6 0h.8m1.4 0h.8m4.4 0h.8m9.9 0h.8m4.5 0h.8m-.2 0h.8m-.4 0h.8m-.1 0h.8m1.3 0h.8m-.3 0h.8m-.7 0h.8m1.3 0h.8m19 0h.8m1.1 0h.8m-.3 0h.8m2.9 0h.8m2.1 0h.8m3.1 0h.8m.7 0h.8m1 0h.8m1.2 0h.8m.5 0h.8m-.6 0h.8m1.7 0h.8m-.3 0h.8m.3 0h.8m5.2 0h.8m2 0h.8M2.1 1.3h.8m.5 0h.8m1.5 0h.8m5.1 0h.8m1 0h.8m14.7 0h.8m1.3 0h.8m1.5 0h.8m-.5 0h.8m6.8 0h.8m2.4 0h.8m8 0h.8m-.1 0h.8m-.7 0h.8m1.9 0h.8m5.5 0h.8m.8 0h.8m1.9 0h.8m-.5 0h.8m.5 0h.8m-.1 0h.8m2.5 0h.8m5.9 0h.8m0 0h.8m5.1 0h.8m.6 0h.8m1.8 0h.8m-.7 0h.8m.2 0h.8m5 0h.8M2.7 1.8h.8m1 0h.8m-.5 0h.8m-.6 0h.8m1.4 0h.8m.2 0h.8m2 0h.8m.4 0h.8m.3 0h.8m2.8 0h.8m-.1 0h.8m17.7 0h.8m.1 0h.8m1.6 0h.8m4.3 0h.8m.5 0h.8m-.6 0h.8m2.3 0h.8m7.7 0h.8m1.3 0h.8m8.9 0h.8m0 0h.8m-.2 0h.8m.6 0h.8m-.2 0h.8m.4 0h.8m2.5 0h.8m1.3 0h.8m.5 0h.8m8.6 0h.8m-.5 0h.8m4.5 0h.8m1.2 0h.8M.1 2.4h.8m1.1 0h.8m1.9 0h.8m4.2 0h.8m4.4 0h.8m-.2 0h.8m.1 0h.8m12.7 0h.8m-.7 0h.8m1.8 0h.8m1.2 0h.8m0 0h.8m-.6 0h.8m-.6 0h.8m.5 0h.8m.1 0h.8m-.1 0h.8m.7 0h.8m15.9 0h.8m6.1 0h.8m.9 0h.8m3 0h.8m1.1 0h.8m2.8 0h.8m5.9 0h.8m-.7 0h.8m-.8 0h.8m-.8 0h.8m1.7 0h.8m.5 0h.8m-.7 0h.8m.6 0h.8m-.6 0h.8m-.3 0h.8m1.2 0h.8m3 0h.8m0 0h.8m-.4 0h.8m.5 0h.8m.1 0h.8M6.7 2.9h.8m5.6 0h.8m1.2 0h.8m13.7 0h.8m4.3 0h.8m.5 0h.8m5.6 0h.8m.4 0h.8m1.3 0h.8m.7 0h.8m.4 0h.8m-.7 0h.8m4.1 0h.8m6.9 0h.8m1.6 0h.8m7.1 0h.8m.7 0h.8m-.6 0h.8m3 0h.8m.5 0h.8m-.3 0h.8m-.6 0h.8m.3 0h.8m-.1 0h.8m0 0h.8m1.2 0h.8m2.1 0h.8m1 0h.8m1.6 0h.8m.4 0h.8m-.5 0h.8m4.9 0h.8M1.7 3.4h.8m4.4 0h.8m0 0h.8m1.6 0h.8m.5 0h.8m-.7 0h.8m1.1 0h.8m1.4 0h.8m1.6 0h.8m-.6 0h.8m.7 0h.8m4 0h.8m8.7 0h.8m-.4 0h.8m-.1 0h.8m1 0h.8m1.1 0h.8m3.3 0h.8m-.2 0h.8m.3 0h.8m4.2 0h.8m1.1 0h.8m-.2 0h.8m-.5 0h.8m-.2 0h.8m5 0h.8m5.9 0h.8m-.3 0h.8m-.8 0h.8m1.3 0h.8m-.1 0h.8m3.4 0h.8m1.6 0h.8m.7 0h.8m-.3 0h.8m5.7 0h.8m2.4 0h.8m5 0h.8m3.2 0h.8M9.9 3.9h.8m3.4 0h.8m3.7 0h.8m11.6 0h.8m2.7 0h.8m-.6 0h.8m-.7 0h.8m-.5 0h.8m4 0h.8m1.2 0h.8m2.7 0h.8m1 0h.8m6.1 0h.8m4.8 0h.8m1.6 0h.8m.1 0h.8m-.5 0h.8m2.2 0h.8m4.9 0h.8m1.8 0h.8m-.5 0h.8m-.2 0h.8m6 0h.8m3.8 0h.8m.3 0h.8m.6 0h.8m.2 0h.8m-.2 0h.8m2.2 0h.8M6.4 4.5h.8m4.4 0h.8m.7 0h.8m2.2 0h.8m3.1 0h.8m2.1 0h.8m2.1 0h.8m3.4 0h.8m2 0h.8m1 0h.8m7.4 0h.8m.7 0h.8m.3 0h.8m1.9 0h.8m1.3 0h.8m-.1 0h.8m2 0h.8m10.1 0h.8m.2 0h.8m1.8 0h.8m-.3 0h.8m-.5 0h.8m1.2 0h.8m-.6 0h.8m-.3 0h.8m-.6 0h.8m2.6 0h.8m.3 0h.8m-.7 0h.8m.7 0h.8m-.5 0h.8m-.3 0h.8m4.6 0h.8m2.3 0h.8M4.3 5h.8m.4 0h.8m11.1 0h.8m8.5 0h.8m2.9 0h.8m.2 0h.8m4.8 0h.8m2 0h.8m-.4 0h.8m.5 0h.8m-.7 0h.8m4.2 0h.8m.8 0h.8m.5 0h.8m6.8 0h.8m.8 0h.8m2.2 0h.8m1 0h.8m1.1 0h.8m1.3 0h.8m4.1 0h.8m1.6 0h.8m4.3 0h.8m-.5 0h.8m1 0h.8m0 0h.8m-.2 0h.8m.3 0h.8m-.4 0h.8m-.7 0h.8m2.3 0h.8m2.6 0h.8m-.7 0h.8m.8 0h.8m.6 0h.8m-.2 0h.8m1.1 0h.8M.5 5.5h.8m5.4 0h.8m3.7 0h.8m5.5 0h.8m.5 0h.8m.7 0h.8m5.7 0h.8m-.8 0h.8m2.8 0h.8m.4 0h.8m3.5 0h.8m.4 0h.8m5.8 0h.8m.3 0h.8m-.1 0h.8m-.3 0h.8m5.5 0h.8m-.2 0h.8m7.5 0h.8m2 0h.8m1.5 0h.8m.2 0h.8m1.8 0h.8m2.5 0h.8m0 0h.8m-.7 0h.8m-.7 0h.8m.1 0h.8m.7 0h.8m-.5 0h.8m-.2 0h.8m2.5 0h.8m1.1 0h.8m2.6 0h.8m.7 0h.8m5.6 0h.8M.6 6h.8m0 0h.8m2.8 0h.8m9.4 0h.8m9.2 0h.8m2.6 0h.8m1.7 0h.8m2.7 0h.8m-.5 0h.8m-.8 0h.8m1.7 0h.8m2.6 0h.8m3.3 0h.8m-.4 0h.8m2.9 0h.8m10.2 0h.8m3.7 0h.8m.1 0h.8m-.7 0h.8m3.9 0h.8m-.5 0h.8m-.7 0h.8m2.1 0h.8m3.5 0h.8m0 0h.8m-.6 0h.8m.2 0h.8m-.7 0h.8m.1 0h.8m-.1 0h.8m.2 0h.8m3.3 0h.8m2.6 0h.8m2.5 0h.8m1.3 0h.8M1.3 6.6h.8m.6 0h.8m1.3 0h.8m2.9 0h.8m1.9 0h.8m2.2 0h.8m7.3 0h.8m2.5 0h.8m-.5 0h.8m3.8 0h.8m6.3 0h.8m.3 0h.8m0 0h.8m-.5 0h.8m0 0h.8m-.7 0h.8m1.3 0h.8m-.5 0h.8m.1 0h.8m5.1 0h.8m.7 0h.8m3.8 0h.8m10.5 0h.8m1.1 0h.8m.7 0h.8m-.5 0h.8m.9 0h.8m1.7 0h.8m-.2 0h.8m.9 0h.8m-.4 0h.8m2 0h.8m-.5 0h.8m.7 0h.8m.6 0h.8m-.8 0h.8m1.7 0h.8m-.4 0h.8m2.1 0h.8m2.7 0h.8m.1 0h.8M.9 7.1h.8m6.9 0h.8m2 0h.8m10.4 0h.8m1.5 0h.8m3.9 0h.8m1 0h.8m7.5 0h.8m.2 0h.8m3.5 0h.8m.7 0h.8m2.1 0h.8m0 0h.8m1.5 0h.8m-.2 0h.8m1.3 0h.8m3.7 0h.8m8 0h.8m-.4 0h.8m.7 0h.8m.6 0h.8m3 0h.8m-.3 0h.8m.6 0h.8m.6 0h.8m-.3 0h.8m.6 0h.8m3.9 0h.8m4.1 0h.8m1.2 0h.8M2.2 7.6h.8m.4 0h.8m2 0h.8m1.8 0h.8m.1 0h.8m6.5 0h.8m3.4 0h.8m-.7 0h.8m-.1 0h.8m1.2 0h.8m-.8 0h.8m-.1 0h.8m7.2 0h.8m-.5 0h.8m1.4 0h.8m3 0h.8m4 0h.8m9 0h.8m-.5 0h.8m-.6 0h.8m.7 0h.8m1.2 0h.8m.3 0h.8m10.6 0h.8m1.9 0h.8m-.1 0h.8m.3 0h.8m1 0h.8m1.4 0h.8m0 0h.8m4.2 0h.8m.3 0h.8m1.6 0h.8m-.5 0h.8m1 0h.8m3.7 0h.8m0 0h.8m-.4 0h.8M0 8.2h.8m8 0h.8m6.4 0h.8m.4 0h.8m8.2 0h.8m1.5 0h.8m6 0h.8m.9 0h.8m.1 0h.8m-.4 0h.8m-.7 0h.8m-.7 0h.8m-.6 0h.8m3.1 0h.8m-.7 0h.8m3.8 0h.8m1.7 0h.8m1.8 0h.8m-.6 0h.8m2.4 0h.8m.1 0h.8m-.5 0h.8m4.8 0h.8m3.7 0h.8m2.3 0h.8m-.5 0h.8m1.7 0h.8m1.5 0h.8m-.1 0h.8m.4 0h.8m.5 0h.8m-.7 0h.8m1.8 0h.8m1 0h.8m2.5 0h.8m1.9 0h.8m-.7 0h.8m6.1 0h.8m.1 0h.8M.6 8.7h.8m1.3 0h.8m5.9 0h.8m1.1 0h.8m.4 0h.8m2.5 0h.8m13.1 0h.8m4.1 0h.8m1.9 0h.8m-.8 0h.8m4.5 0h.8m2.7 0h.8m5.9 0h.8m3.1 0h.8m3 0h.8m.6 0h.8m5.4 0h.8m-.5 0h.8m.3 0h.8m-.4 0h.8m.1 0h.8m1.3 0h.8m.2 0h.8m0 0h.8m1.4 0h.8m.1 0h.8m4.6 0h.8m-.4 0h.8m.7 0h.8m4 0h.8m-.5 0h.8m4.3 0h.8m.4 0h.8M1.9 9.2h.8m1.1 0h.8m0 0h.8m0 0h.8m4.1 0h.8m3.6 0h.8m.4 0h.8m10.2 0h.8m.7 0h.8m2.2 0h.8m.2 0h.8m.1 0h.8m-.2 0h.8m1.6 0h.8m0 0h.8m.3 0h.8m3.8 0h.8m-.6 0h.8m1.6 0h.8m2.7 0h.8m7.2 0h.8m.5 0h.8m7.1 0h.8m1.1 0h.8m-.4 0h.8m3.6 0h.8m3.8 0h.8m3 0h.8m-.5 0h.8m2.7 0h.8m.9 0h.8m.7 0h.8m6.4 0h.8M.3 9.7h.8m9.8 0h.8m-.1 0h.8m.6 0h.8m9.2 0h.8m.8 0h.8m5.6 0h.8m2.6 0h.8m3.4 0h.8m2.2 0h.8m0 0h.8m-.2 0h.8m1.6 0h.8m5.7 0h.8m1.8 0h.8m-.1 0h.8m-.6 0h.8m1.5 0h.8m.3 0h.8m-.6 0h.8m7.2 0h.8m4 0h.8m2.3 0h.8m3.1 0h.8m1.4 0h.8m.7 0h.8m.4 0h.8m-.2 0h.8m1.7 0h.8m-.3 0h.8m2 0h.8m0 0h.8m.4 0h.8m-.8 0h.8m1 0h.8m2 0h.8M2.1 10.3h.8m-.1 0h.8m5 0h.8m.4 0h.8m5.3 0h.8m-.7 0h.8m6.7 0h.8m2.9 0h.8m3.7 0h.8m1.9 0h.8m-.3 0h.8m1.3 0h.8m2.7 0h.8m-.6 0h.8m.2 0h.8m.1 0h.8m16.1 0h.8m1.3 0h.8m-.6 0h.8m.4 0h.8m4.4 0h.8m4.7 0h.8m-.5 0h.8m3.4 0h.8m-.1 0h.8m8.5 0h.8m8.5 0h.8m-.3 0h.8M.1 10.8h.8m-.7 0h.8m-.6 0h.8m8.2 0h.8m3.5 0h.8m11.8 0h.8m1.3 0h.8m5.9 0h.8m4.7 0h.8m-.6 0h.8m4.4 0h.8m8.4 0h.8m1.9 0h.8m2.6 0h.8m3.4 0h.8m-.6 0h.8m-.8 0h.8m-.5 0h.8m-.6 0h.8m2.8 0h.8m-.3 0h.8m-.6 0h.8m1 0h.8m.4 0h.8m-.6 0h.8m.1 0h.8m-.7 0h.8m-.5 0h.8m-.8 0h.8m.5 0h.8m.4 0h.8m.4 0h.8m-.5 0h.8m.9 0h.8m.7 0h.8m1.3 0h.8m-.4 0h.8m4.8 0h.8m5.3 0h.8M2.1 11.3h.8m4 0h.8m3.2 0h.8m1.1 0h.8m-.6 0h.8m1.7 0h.8m8.3 0h.8m-.3 0h.8m1.2 0h.8m1.8 0h.8m5 0h.8m.8 0h.8m-.5 0h.8m-.7 0h.8m.2 0h.8m.9 0h.8m.3 0h.8m.8 0h.8m8 0h.8m7.7 0h.8m3.4 0h.8m2.2 0h.8m1 0h.8m.9 0h.8m1.2 0h.8m-.4 0h.8m.5 0h.8m6.6 0h.8m2.4 0h.8m5.3 0h.8m1.5 0h.8M.6 11.8h.8m.5 0h.8m1.3 0h.8m0 0h.8m-.7 0h.8m6.3 0h.8m4.1 0h.8m-.6 0h.8m1.2 0h.8m1.3 0h.8m-.8 0h.8m.4 0h.8m8 0h.8m3.3 0h.8m1.1 0h.8m1.3 0h.8m1.8 0h.8m17.5 0h.8m.3 0h.8m-.5 0h.8m1.7 0h.8m.2 0h.8m.6 0h.8m-.5 0h.8m1.5 0h.8m.9 0h.8m-.3 0h.8m-.3 0h.8m1.4 0h.8m.4 0h.8m-.7 0h.8m14.7 0h.8m-.6 0h.8m.4 0h.8M.3 12.4h.8m.6 0h.8m7.5 0h.8m-.7 0h.8m6.1 0h.8m.8 0h.8m-.7 0h.8m3.9 0h.8m.5 0h.8m7.6 0h.8m3.4 0h.8m1.5 0h.8m.1 0h.8m-.7 0h.8m-.2 0h.8m-.8 0h.8m-.4 0h.8m9.2 0h.8m7.4 0h.8m7.2 0h.8m2.8 0h.8m.3 0h.8m2.6 0h.8m-.2 0h.8m1.2 0h.8m1.3 0h.8m.2 0h.8m.1 0h.8m1.3 0h.8m6.8 0h.8m-.7 0h.8m1.5 0h.8M.2 12.9h.8m-.1 0h.8m-.6 0h.8m-.3 0h.8m1 0h.8m-.2 0h.8m11.6 0h.8m11.6 0h.8m-.2 0h.8m-.6 0h.8m4 0h.8m1.1 0h.8m.2 0h.8m.1 0h.8m5.4 0h.8m1.7 0h.8m8.3 0h.8m-.4 0h.8m.4 0h.8m-.6 0h.8m2 0h.8m-.7 0h.8m1.9 0h.8m.8 0h.8m1.3 0h.8m1.1 0h.8m-.4 0h.8m-.3 0h.8m-.1 0h.8m-.1 0h.8m5.4 0h.8m-.2 0h.8m.7 0h.8m-.4 0h.8m.4 0h.8m.6 0h.8m-.1 0h.8m.3 0h.8m9.1 0h.8m1.3 0h.8M2.2 13.4h.8m2.4 0h.8m8.6 0h.8m-.2 0h.8m1.6 0h.8m3.6 0h.8m-.1 0h.8m5 0h.8m2.4 0h.8m1.2 0h.8m.3 0h.8m.9 0h.8m.2 0h.8m1.1 0h.8m.2 0h.8m-.6 0h.8m1.9 0h.8m10 0h.8m-.3 0h.8m1.5 0h.8m2.3 0h.8m1.1 0h.8m3.2 0h.8m.1 0h.8m.4 0h.8m5.5 0h.8m-.5 0h.8m-.1 0h.8m1.1 0h.8m-.4 0h.8m4.8 0h.8m2.8 0h.8m7.3 0h.8m.7 0h.8m.5 0h.8M3.2 13.9h.8m6.4 0h.8m2.3 0h.8m1.5 0h.8m1.3 0h.8m6 0h.8m.9 0h.8m.2 0h.8m-.2 0h.8m3.6 0h.8m.4 0h.8m2.5 0h.8m1.1 0h.8m-.3 0h.8m.8 0h.8m-.7 0h.8m10.2 0h.8m.6 0h.8m1.9 0h.8m4.8 0h.8m-.6 0h.8m-.2 0h.8m2.4 0h.8m-.6 0h.8m-.4 0h.8m-.5 0h.8m4 0h.8m-.4 0h.8m.1 0h.8m-.5 0h.8m1.5 0h.8m-.3 0h.8m5.5 0h.8m-.5 0h.8m-.6 0h.8m2.8 0h.8m4.7 0h.8M1.4 14.5h.8m4.3 0h.8m3.2 0h.8m1.2 0h.8m2.4 0h.8m-.3 0h.8m8.6 0h.8m-.5 0h.8m3.1 0h.8m1.2 0h.8m5.3 0h.8m2.6 0h.8m7 0h.8m-.4 0h.8m6.1 0h.8m0 0h.8m-.1 0h.8m1.4 0h.8m3.2 0h.8m.7 0h.8m2.2 0h.8m-.6 0h.8m1.9 0h.8m.5 0h.8m.8 0h.8m3.9 0h.8m-.3 0h.8m.2 0h.8m-.3 0h.8m-.8 0h.8m10.6 0h.8m1.5 0h.8m.8 0h.8M4.3 15h.8m0 0h.8m.6 0h.8m4.2 0h.8m0 0h.8m7.2 0h.8m1.8 0h.8m5.5 0h.8m0 0h.8m-.4 0h.8m2.3 0h.8m2 0h.8m1.9 0h.8m5.3 0h.8m3.3 0h.8m.3 0h.8m2.5 0h.8m.2 0h.8m12.6 0h.8m2.2 0h.8m1.3 0h.8m1.1 0h.8m2.2 0h.8m.1 0h.8m.4 0h.8m.2 0h.8m-.4 0h.8m5 0h.8m1.4 0h.8m7.3 0h.8M1.6 15.5h.8m2.3 0h.8m16.7 0h.8m3.8 0h.8m-.2 0h.8m.2 0h.8m6.3 0h.8m1.7 0h.8m-.4 0h.8m1.9 0h.8m1 0h.8m.4 0h.8m-.4 0h.8m-.6 0h.8m6.8 0h.8m5.8 0h.8m4.1 0h.8m.4 0h.8m2.2 0h.8m.7 0h.8m.8 0h.8m-.6 0h.8m-.4 0h.8m.3 0h.8m-.3 0h.8m1.3 0h.8m2.6 0h.8m.7 0h.8m1.6 0h.8m1 0h.8m.3 0h.8m9.9 0h.8M1.6 16h.8m1.7 0h.8m-.4 0h.8m.1 0h.8m-.7 0h.8m-.7 0h.8m-.2 0h.8m-.5 0h.8m-.6 0h.8m.4 0h.8m4.9 0h.8m.4 0h.8m.4 0h.8m.3 0h.8m3.2 0h.8m2.8 0h.8m1.3 0h.8m1.3 0h.8m1.6 0h.8m-.4 0h.8m.3 0h.8m.2 0h.8m1.7 0h.8m6.3 0h.8m0 0h.8m1.2 0h.8m2.3 0h.8m-.6 0h.8m15 0h.8m3.1 0h.8m-.3 0h.8m-.5 0h.8m5 0h.8m1.3 0h.8m.3 0h.8m-.3 0h.8m2.7 0h.8m1.3 0h.8m5 0h.8m1.2 0h.8M1.5 16.6h.8m.2 0h.8m4.1 0h.8m3.2 0h.8m2.1 0h.8m5.9 0h.8m1.6 0h.8m6.2 0h.8m.9 0h.8m-.2 0h.8m3.4 0h.8m2.3 0h.8m3.7 0h.8m2.9 0h.8m0 0h.8m7.8 0h.8m1.1 0h.8m-.5 0h.8m2 0h.8m-.7 0h.8m3.9 0h.8m0 0h.8m1.8 0h.8m3.2 0h.8m0 0h.8m0 0h.8m.1 0h.8m-.5 0h.8m.1 0h.8m4.7 0h.8m1.9 0h.8m.2 0h.8m5.5 0h.8m2.8 0h.8M3.2 17.1h.8m6.6 0h.8m4.2 0h.8m1.2 0h.8m2.3 0h.8m1.3 0h.8m-.3 0h.8m1.3 0h.8m4.7 0h.8m2.2 0h.8m-.5 0h.8m-.4 0h.8m6.2 0h.8m4.1 0h.8m-.8 0h.8m8 0h.8m2.1 0h.8m2 0h.8m1.3 0h.8m.3 0h.8m.7 0h.8m1.1 0h.8m-.1 0h.8m1.2 0h.8m-.6 0h.8m-.2 0h.8m1.3 0h.8m2 0h.8m-.7 0h.8m-.3 0h.8m-.3 0h.8m1.1 0h.8m1.2 0h.8m1.3 0h.8m1.3 0h.8m3.3 0h.8m2.8 0h.8m3.3 0h.8m-.8 0h.8m-.5 0h.8m-.1 0h.8M.6 17.6h.8m0 0h.8m2 0h.8m3.1 0h.8m8.3 0h.8m-.4 0h.8m8.6 0h.8m1.3 0h.8m-.5 0h.8m-.4 0h.8m1.3 0h.8m6.9 0h.8m1.6 0h.8m1.7 0h.8m.3 0h.8m.7 0h.8m10.6 0h.8m.3 0h.8m1.1 0h.8m-.2 0h.8m3.8 0h.8m-.6 0h.8m.6 0h.8m1.2 0h.8m1 0h.8m1.5 0h.8m2.9 0h.8m-.2 0h.8m1.4 0h.8m.4 0h.8m-.4 0h.8m-.2 0h.8m-.7 0h.8m9.6 0h.8M0 18.1h.8m3.9 0h.8m0 0h.8m-.7 0h.8m3 0h.8m-.2 0h.8m2.7 0h.8m2.6 0h.8m1.7 0h.8m7.2 0h.8m3.4 0h.8m2.4 0h.8m3.7 0h.8m8.8 0h.8m.7 0h.8m.4 0h.8m1.5 0h.8m2.5 0h.8m.9 0h.8m2.5 0h.8m-.1 0h.8m1.5 0h.8m-.3 0h.8m2.7 0h.8m-.2 0h.8m.2 0h.8m1 0h.8m2.1 0h.8m4.5 0h.8m.6 0h.8m4.2 0h.8M1.5 18.7h.8m0 0h.8m3 0h.8m2.9 0h.8m2.2 0h.8m11.6 0h.8m.7 0h.8m1.6 0h.8m.5 0h.8m-.5 0h.8m2.4 0h.8m0 0h.8m.2 0h.8m2.7 0h.8m.3 0h.8m9.2 0h.8m-.5 0h.8m6.5 0h.8m-.4 0h.8m1.6 0h.8m.8 0h.8m2.8 0h.8m.1 0h.8m.3 0h.8m2.9 0h.8m-.5 0h.8m2.5 0h.8m-.1 0h.8m0 0h.8m-.7 0h.8m-.7 0h.8m.1 0h.8m1.2 0h.8m-.3 0h.8m.3 0h.8m3.1 0h.8m1.7 0h.8m4.3 0h.8m3.6 0h.8M2.1 19.2h.8m4.1 0h.8m5.3 0h.8m-.3 0h.8m9.5 0h.8m.4 0h.8m1.4 0h.8m3.1 0h.8m.1 0h.8m3 0h.8m2.8 0h.8m-.7 0h.8m1.7 0h.8m8.3 0h.8m2.7 0h.8m4.6 0h.8m1.7 0h.8m3.6 0h.8m.9 0h.8m.3 0h.8m2.2 0h.8m-.1 0h.8m-.6 0h.8m1.5 0h.8m1.9 0h.8m1.2 0h.8m8 0h.8m1.1 0h.8M2 19.7h.8m.4 0h.8m.1 0h.8m7.2 0h.8m.5 0h.8m1.5 0h.8m0 0h.8m6.5 0h.8m0 0h.8m3.5 0h.8m.3 0h.8m.4 0h.8m2.5 0h.8m1.3 0h.8m3.7 0h.8m4.2 0h.8m6.2 0h.8m-.7 0h.8m-.3 0h.8m.5 0h.8m-.3 0h.8m1.7 0h.8m1.7 0h.8m5 0h.8m2.1 0h.8m.6 0h.8m-.7 0h.8m-.4 0h.8m0 0h.8m.7 0h.8m-.6 0h.8m-.7 0h.8m-.7 0h.8m-.7 0h.8m-.6 0h.8m2.9 0h.8m-.2 0h.8m4.7 0h.8m.8 0h.8m.2 0h.8m8.8 0h.8M2.2 20.3h.8m-.3 0h.8m.8 0h.8m.5 0h.8m.4 0h.8m5.8 0h.8m-.2 0h.8m-.2 0h.8m1.4 0h.8m6.2 0h.8m5.9 0h.8m-.2 0h.8m.6 0h.8m4.3 0h.8m1.6 0h.8m-.2 0h.8m-.5 0h.8m.9 0h.8m3.7 0h.8m.4 0h.8m2 0h.8m4.1 0h.8m6.8 0h.8m1.7 0h.8m2.2 0h.8m-.7 0h.8m-.6 0h.8m7.3 0h.8m-.4 0h.8m.2 0h.8m-.6 0h.8m1.4 0h.8m.5 0h.8m1 0h.8M2.7 20.8h.8m1.2 0h.8m3.1 0h.8m-.5 0h.8m1 0h.8m10.4 0h.8m-.2 0h.8m3.4 0h.8m1.8 0h.8m3.1 0h.8m4.4 0h.8m2.1 0h.8m1.2 0h.8m8.1 0h.8m-.6 0h.8m4.6 0h.8m1.6 0h.8m.5 0h.8m-.3 0h.8m2.6 0h.8m-.5 0h.8m2 0h.8m.4 0h.8m1 0h.8m2.7 0h.8m2.3 0h.8m1.5 0h.8m4.4 0h.8m8.5 0h.8m-.1 0h.8M8 21.3h.8m-.4 0h.8m.3 0h.8m0 0h.8m3.5 0h.8m1 0h.8m-.5 0h.8m.2 0h.8m.5 0h.8m5.4 0h.8m7.5 0h.8m.8 0h.8m.1 0h.8m3.5 0h.8m.1 0h.8m0 0h.8m3.4 0h.8m2 0h.8m1.6 0h.8m2.4 0h.8m2.3 0h.8m-.3 0h.8m2.2 0h.8m.4 0h.8m.4 0h.8m.5 0h.8m1.4 0h.8m0 0h.8m4.6 0h.8m-.5 0h.8m.3 0h.8m-.6 0h.8m1.3 0h.8m4.2 0h.8m-.6 0h.8m3.3 0h.8m1.7 0h.8m5.8 0h.8m1.2 0h.8M2.9 21.8h.8m2.4 0h.8m.5 0h.8m2.3 0h.8m2.9 0h.8m3.1 0h.8m4.3 0h.8m3.1 0h.8m.4 0h.8m.4 0h.8m-.3 0h.8m3.6 0h.8m2.5 0h.8m1.7 0h.8m.4 0h.8m1.8 0h.8m3.2 0h.8m3.4 0h.8m4.1 0h.8m.7 0h.8m.7 0h.8m1.1 0h.8m-.7 0h.8m2.7 0h.8m1.5 0h.8m4.9 0h.8m-.1 0h.8m-.3 0h.8m2.5 0h.8m2.9 0h.8m6.9 0h.8m3.4 0h.8m2.8 0h.8M3.3 22.4h.8m2 0h.8m0 0h.8m12.1 0h.8m3.3 0h.8m1.8 0h.8m-.7 0h.8m-.7 0h.8m7.5 0h.8m-.5 0h.8m15 0h.8m2.1 0h.8m1.3 0h.8m.1 0h.8m-.1 0h.8m6.3 0h.8m.3 0h.8m1.1 0h.8m.7 0h.8m-.4 0h.8m-.3 0h.8m-.7 0h.8m.6 0h.8m1.3 0h.8m.7 0h.8m.4 0h.8m1.5 0h.8m1.8 0h.8m.3 0h.8m14.3 0h.8M2.9 22.9h.8m5 0h.8m1.6 0h.8m-.6 0h.8m.3 0h.8m1.6 0h.8m1.7 0h.8m1.4 0h.8m-.4 0h.8m2.4 0h.8m-.8 0h.8m4.3 0h.8m.2 0h.8m.3 0h.8m9.1 0h.8m-.7 0h.8m3.2 0h.8m2.6 0h.8m1.2 0h.8m2.2 0h.8m.7 0h.8m.6 0h.8m4.9 0h.8m1 0h.8m-.3 0h.8m-.5 0h.8m.4 0h.8m.7 0h.8m-.2 0h.8m.8 0h.8m.5 0h.8m-.6 0h.8m1.5 0h.8m2.6 0h.8m1.2 0h.8m.2 0h.8m.4 0h.8m4.5 0h.8m8.1 0h.8M2.3 23.4h.8m-.3 0h.8m10.6 0h.8m-.4 0h.8m9.1 0h.8m.8 0h.8m4.2 0h.8m1.2 0h.8m2 0h.8m1.6 0h.8m2.9 0h.8m8.2 0h.8m1.1 0h.8m.8 0h.8m.9 0h.8m0 0h.8m7.1 0h.8m-.3 0h.8m-.2 0h.8m0 0h.8m1.7 0h.8m.8 0h.8m-.3 0h.8m-.6 0h.8m1.3 0h.8m7.8 0h.8m3.5 0h.8m1 0h.8m3.4 0h.8m1.8 0h.8M.5 23.9h.8m9.4 0h.8m11.4 0h.8m7.3 0h.8m3.3 0h.8m6.6 0h.8m6.4 0h.8m-.7 0h.8m-.1 0h.8m.3 0h.8m.6 0h.8m.7 0h.8m.5 0h.8m.7 0h.8m.5 0h.8m3 0h.8m.5 0h.8m-.1 0h.8m-.7 0h.8m3.7 0h.8m2 0h.8m3.3 0h.8m.8 0h.8m.3 0h.8m-.4 0h.8m-.3 0h.8m-.8 0h.8m2 0h.8m.3 0h.8m6.8 0h.8M3.4 24.5h.8m4.7 0h.8m2.8 0h.8m-.3 0h.8m-.6 0h.8m.1 0h.8m-.2 0h.8m2.8 0h.8m2 0h.8m.7 0h.8m4.6 0h.8m.7 0h.8m-.8 0h.8m3.3 0h.8m.1 0h.8m3.6 0h.8m10.6 0h.8m.4 0h.8m-.6 0h.8m-.4 0h.8m.4 0h.8m1.7 0h.8m.6 0h.8m2.8 0h.8m.5 0h.8m2 0h.8m-.7 0h.8m3.9 0h.8m-.7 0h.8m2 0h.8m2.4 0h.8m4.1 0h.8m5.4 0h.8m6.6 0h.8m2.5 0h.8M1.1 25h.8m3.1 0h.8m.3 0h.8m1.8 0h.8m.8 0h.8m0 0h.8m1.5 0h.8m3.6 0h.8m1.3 0h.8m3.5 0h.8m-.8 0h.8m-.7 0h.8m1.3 0h.8m2 0h.8m-.7 0h.8m1.6 0h.8m2 0h.8m4.4 0h.8m.1 0h.8m.3 0h.8m.7 0h.8m3.8 0h.8m7 0h.8m4.6 0h.8m1.4 0h.8m.8 0h.8m1 0h.8m-.6 0h.8m0 0h.8m1 0h.8m.9 0h.8m1.1 0h.8m4.5 0h.8m.7 0h.8m.6 0h.8m5.9 0h.8m.9 0h.8m4.1 0h.8m1.5 0h.8M1.7 25.5h.8m-.1 0h.8m3.8 0h.8m4.5 0h.8m3.9 0h.8m4.9 0h.8m3.2 0h.8m2.7 0h.8m1.1 0h.8m.1 0h.8m-.3 0h.8m1.9 0h.8m1.8 0h.8m4.4 0h.8m8.5 0h.8m-.3 0h.8m0 0h.8m1.3 0h.8m2.8 0h.8m-.2 0h.8m.7 0h.8m-.8 0h.8m3.7 0h.8m-.2 0h.8m.6 0h.8m-.4 0h.8m0 0h.8m1.7 0h.8m.8 0h.8m-.6 0h.8m1.4 0h.8m11.4 0h.8m3 0h.8M9 26h.8m3 0h.8m1.7 0h.8m1.6 0h.8m2.8 0h.8m3.4 0h.8m.6 0h.8m5.3 0h.8m10 0h.8m.3 0h.8m.7 0h.8m2.9 0h.8m.2 0h.8m.7 0h.8m.1 0h.8m-.6 0h.8m1.5 0h.8m-.3 0h.8m.3 0h.8m2.2 0h.8m0 0h.8m.9 0h.8m2.6 0h.8m.8 0h.8m-.7 0h.8m.3 0h.8m2.1 0h.8m1.9 0h.8m.7 0h.8m.3 0h.8m-.5 0h.8m0 0h.8m5.8 0h.8m-.2 0h.8m2.6 0h.8m.4 0h.8" stroke="#111" stroke-width="0.55" fill="none"/>
<line x1="185.2" y1="390.8" x2="185.2" y2="417.1" stroke="#d2492a" stroke-width="1.1"/>
<polyline points="201.7,417 206.7,406.8 210.7,398.8 215.3,391.3" fill="none" stroke="#4f5fc8" stroke-width="0.6"/>
<path d="M252.7 391.2h-1.3v25.5h1.3" fill="none" stroke="#222" stroke-width="0.9"/>
<path transform="translate(151.7 419.2)" d="M4 .3h.8m.3 0h.8m8 0h.8m2.5 0h.8m3.9 0h.8m1.5 0h.8m8.1 0h.8m3.7 0h.8m-.2 0h.8m11.1 0h.8m.4 0h.8m5.7 0h.8m.6 0h.8m4.6 0h.8m1.1 0h.8m5.4 0h.8m-.6 0h.8m.4 0h.8m.9 0h.8m.1 0h.8m5.3 0h.8m1.9 0h.8m.4 0h.8m-.6 0h.8m.8 0h.8m1.8 0h.8m3.3 0h.8m.8 0h.8M.2 .8h.8m2.7 0h.8m3.1 0h.8m3.8 0h.8m3.3 0h.8m7.5 0h.8m-.5 0h.8m0 0h.8m-.8 0h.8m2.8 0h.8m.8 0h.8m-.8 0h.8m-.3 0h.8m2.9 0h.8m-.6 0h.8m1.7 0h.8m-.8 0h.8m-.1 0h.8m4.8 0h.8m-.6 0h.8m29.9 0h.8m5.1 0h.8m.1 0h.8m-.8 0h.8m1.2 0h.8m0 0h.8m10.9 0h.8m1 0h.8M4.1 1.3h.8m.3 0h.8m28.3 0h.8m1.2 0h.8m.2 0h.8m1.7 0h.8m.2 0h.8m4.2 0h.8m.7 0h.8m16.5 0h.8m.9 0h.8m.9 0h.8m1.9 0h.8m1.3 0h.8m.6 0h.8m2.9 0h.8m5.6 0h.8m-.7 0h.8m2.3 0h.8m.2 0h.8m.8 0h.8m5.7 0h.8M1.7 1.8h.8m.4 0h.8m12.4 0h.8m13.9 0h.8m-.4 0h.8m0 0h.8m.8 0h.8m.5 0h.8m-.4 0h.8m4.3 0h.8m1.2 0h.8m10.8 0h.8m.7 0h.8m6 0h.8m.1 0h.8m2.3 0h.8m-.7 0h.8m5.6 0h.8m-.6 0h.8m3.7 0h.8m1.2 0h.8m.1 0h.8m.2 0h.8m-.3 0h.8m0 0h.8m0 0h.8m1.2 0h.8m.8 0h.8m8.3 0h.8M.7 2.4h.8m1.2 0h.8m.7 0h.8m4.1 0h.8m12.3 0h.8m-.3 0h.8m.2 0h.8m1.1 0h.8m5.7 0h.8m-.4 0h.8m3.9 0h.8m5.7 0h.8m0 0h.8m7.6 0h.8m7.8 0h.8m1.2 0h.8m2.5 0h.8m3.6 0h.8m4.8 0h.8m.3 0h.8m1.7 0h.8m-.6 0h.8m.4 0h.8m-.7 0h.8m.2 0h.8m-.1 0h.8m-.2 0h.8m.2 0h.8m3.5 0h.8m-.7 0h.8m1 0h.8m-.5 0h.8M5.2 2.9h.8m-.8 0h.8m20.4 0h.8m2.6 0h.8m-.7 0h.8m10.8 0h.8m-.5 0h.8m13.8 0h.8m3.9 0h.8m-.4 0h.8m.4 0h.8m.1 0h.8m2.2 0h.8m6.5 0h.8m.6 0h.8m-.4 0h.8m0 0h.8m-.6 0h.8m.1 0h.8m.7 0h.8m-.3 0h.8m2.5 0h.8m-.4 0h.8m10.2 0h.8m.5 0h.8m.7 0h.8M.7 3.4h.8m-.2 0h.8m1.7 0h.8m1.2 0h.8m-.4 0h.8m0 0h.8m13.1 0h.8m-.4 0h.8m.6 0h.8m-.3 0h.8m.3 0h.8m2.7 0h.8m.1 0h.8m4.5 0h.8m1.5 0h.8m3.7 0h.8m5.4 0h.8m23.7 0h.8m1.6 0h.8m2.8 0h.8m14 0h.8m1.1 0h.8m.6 0h.8m-.4 0h.8M4.8 4h.8m2 0h.8m-.7 0h.8m5.5 0h.8m.1 0h.8m-.7 0h.8m.1 0h.8m9.9 0h.8m.5 0h.8m-.7 0h.8m2 0h.8m1.5 0h.8m6.1 0h.8m1.2 0h.8m-.8 0h.8m.7 0h.8m12.8 0h.8m1.7 0h.8m6.5 0h.8m1.1 0h.8m12 0h.8m.5 0h.8m-.1 0h.8m-.5 0h.8m3.7 0h.8m.4 0h.8M4 4.5h.8m10.7 0h.8m8.2 0h.8m.4 0h.8m5.2 0h.8m.9 0h.8m2.3 0h.8m-.5 0h.8m.6 0h.8m1.5 0h.8m.7 0h.8m.9 0h.8m1.5 0h.8m9.7 0h.8m-.6 0h.8m-.1 0h.8m4.1 0h.8m-.6 0h.8m-.4 0h.8m1.2 0h.8m1.9 0h.8m2.2 0h.8m2.1 0h.8m.3 0h.8m1.7 0h.8m-.2 0h.8m2.7 0h.8m.1 0h.8m-.2 0h.8m2.3 0h.8m.4 0h.8m8.1 0h.8M3.6 5h.8m2.5 0h.8m1.1 0h.8m1.6 0h.8m2.6 0h.8m13.7 0h.8m2.8 0h.8m.9 0h.8m1 0h.8m-.4 0h.8m-.5 0h.8m-.3 0h.8m-.5 0h.8m3.4 0h.8m15.6 0h.8m5.5 0h.8m6 0h.8m1.9 0h.8m1 0h.8m-.7 0h.8m1.4 0h.8m.1 0h.8m5.1 0h.8m.9 0h.8m.6 0h.8m7.5 0h.8M3.4 5.5h.8m-.8 0h.8m-.1 0h.8m6.9 0h.8m3.9 0h.8m2.5 0h.8m8.1 0h.8m4.7 0h.8m2.3 0h.8m5 0h.8m.2 0h.8m1.1 0h.8m12.5 0h.8m1.7 0h.8m1.3 0h.8m7.9 0h.8m-.2 0h.8m2.9 0h.8m1.4 0h.8m4.3 0h.8m-.6 0h.8m3.2 0h.8M9.7 6.1h.8m-.7 0h.8m0 0h.8m3.4 0h.8m8.3 0h.8m8.7 0h.8m3.8 0h.8m2.2 0h.8m-.5 0h.8m-.2 0h.8m13.4 0h.8m11.1 0h.8m1.5 0h.8m1.8 0h.8m0 0h.8m-.6 0h.8m2.3 0h.8m4.6 0h.8m.1 0h.8m.3 0h.8m0 0h.8m0 0h.8m3.7 0h.8m1.1 0h.8m2.1 0h.8m0 0h.8m-.2 0h.8M.6 6.6h.8m3.3 0h.8m8.8 0h.8m.9 0h.8m14.4 0h.8m.3 0h.8m-.7 0h.8m4 0h.8m-.7 0h.8m-.5 0h.8m0 0h.8m.6 0h.8m2.1 0h.8m1.7 0h.8m3.4 0h.8m-.1 0h.8m11.1 0h.8m2.1 0h.8m2.7 0h.8m6.7 0h.8m1 0h.8m-.6 0h.8m-.7 0h.8m1.1 0h.8m-.4 0h.8m1.4 0h.8m-.4 0h.8M.5 7.1h.8m.3 0h.8m.4 0h.8m1.3 0h.8m-.2 0h.8m1.2 0h.8m2.9 0h.8m3.5 0h.8m1.4 0h.8m7.6 0h.8m7.2 0h.8m5.9 0h.8m3.7 0h.8m-.1 0h.8m1.7 0h.8m8.1 0h.8m2.9 0h.8m2.1 0h.8m4.8 0h.8m.3 0h.8m-.5 0h.8m1.9 0h.8m-.7 0h.8m-.4 0h.8m.5 0h.8m3 0h.8m.2 0h.8m-.4 0h.8m5.5 0h.8m2.7 0h.8m3.6 0h.8M.6 7.7h.8m-.5 0h.8m-.1 0h.8m-.4 0h.8m.1 0h.8m-.4 0h.8m.8 0h.8m-.4 0h.8m2 0h.8m2.1 0h.8m1.3 0h.8m1.3 0h.8m4.6 0h.8m-.5 0h.8m-.8 0h.8m1 0h.8m.7 0h.8m3 0h.8m6.5 0h.8m.1 0h.8m3.5 0h.8m.8 0h.8m12.6 0h.8m5.9 0h.8m4.9 0h.8m1.9 0h.8m.6 0h.8m-.3 0h.8m7.8 0h.8m15 0h.8M1 8.2h.8m.4 0h.8m5.6 0h.8m.8 0h.8m0 0h.8m12.5 0h.8m.4 0h.8m-.2 0h.8m-.2 0h.8m1.1 0h.8m-.4 0h.8m3.8 0h.8m9.1 0h.8m12.2 0h.8m5.7 0h.8m1.2 0h.8m.8 0h.8m4.3 0h.8m-.7 0h.8m-.5 0h.8m-.2 0h.8m3.2 0h.8m11.9 0h.8m6.1 0h.8M2.2 8.7h.8m4.4 0h.8m.4 0h.8m1.6 0h.8m13.5 0h.8m4.4 0h.8m.6 0h.8m2.5 0h.8m1.9 0h.8m2.2 0h.8m0 0h.8m.3 0h.8m.1 0h.8m.4 0h.8m4.7 0h.8m6.4 0h.8m2.9 0h.8m4.7 0h.8m-.1 0h.8m.9 0h.8m-.3 0h.8m0 0h.8m7.8 0h.8m1.9 0h.8m.1 0h.8m-.3 0h.8m.8 0h.8m5.1 0h.8m2.9 0h.8M1 9.2h.8m-.2 0h.8m-.4 0h.8m.5 0h.8m2.9 0h.8m-.3 0h.8m1.2 0h.8m7.3 0h.8m.7 0h.8m3.1 0h.8m2.3 0h.8m3.1 0h.8m-.7 0h.8m5.3 0h.8m6.7 0h.8m2.9 0h.8m15.3 0h.8m.3 0h.8m1.8 0h.8m.3 0h.8m.1 0h.8m.9 0h.8m-.3 0h.8m-.7 0h.8m-.6 0h.8m-.2 0h.8m-.3 0h.8m2 0h.8m.1 0h.8m5.3 0h.8m.2 0h.8m10.4 0h.8M1 9.8h.8m-.3 0h.8m-.7 0h.8m-.3 0h.8m3.8 0h.8m2.6 0h.8m8.9 0h.8m-.5 0h.8m1.9 0h.8m2.6 0h.8m-.3 0h.8m-.5 0h.8m-.5 0h.8m14.8 0h.8m1.9 0h.8m10.2 0h.8m-.4 0h.8m10.1 0h.8m1.6 0h.8m4.4 0h.8m-.6 0h.8m7.9 0h.8m.4 0h.8m1.8 0h.8m1.6 0h.8M.5 10.3h.8m0 0h.8m8.4 0h.8m11.3 0h.8m1.2 0h.8m.3 0h.8m3.1 0h.8m2.3 0h.8m.8 0h.8m5.6 0h.8m7.6 0h.8m.3 0h.8m10 0h.8m1.7 0h.8m-.1 0h.8m3.1 0h.8m.7 0h.8m.1 0h.8m3.8 0h.8m3.2 0h.8m9 0h.8m-.5 0h.8m3.7 0h.8M1.3 10.8h.8m.8 0h.8m.6 0h.8m18.4 0h.8m0 0h.8m2.8 0h.8m5.8 0h.8m2.7 0h.8m1.8 0h.8m3.2 0h.8m14.5 0h.8m4.8 0h.8m-.3 0h.8m3.7 0h.8m-.6 0h.8m1.3 0h.8m3.1 0h.8m-.7 0h.8m.1 0h.8m-.8 0h.8m-.2 0h.8m-.8 0h.8m.5 0h.8m5.2 0h.8m8.1 0h.8m.9 0h.8M.8 11.4h.8m.4 0h.8m1.6 0h.8m3.4 0h.8m24.7 0h.8m2.2 0h.8m1.1 0h.8m.2 0h.8m-.6 0h.8m.3 0h.8m-.4 0h.8m19.9 0h.8m3.5 0h.8m12.3 0h.8m.1 0h.8m.1 0h.8m5.7 0h.8m.7 0h.8m2.3 0h.8m-.7 0h.8m.1 0h.8m2.3 0h.8M3.5 11.9h.8m-.3 0h.8m1.1 0h.8m1.1 0h.8m.7 0h.8m3.2 0h.8m11.4 0h.8m-.2 0h.8m.3 0h.8m0 0h.8m8.9 0h.8m-.5 0h.8m24.6 0h.8m10.5 0h.8m.3 0h.8m.2 0h.8m-.2 0h.8m1.1 0h.8m3.7 0h.8m2.2 0h.8m1.9 0h.8m2.6 0h.8m.6 0h.8m-.3 0h.8M5.1 12.4h.8m-.7 0h.8m.4 0h.8m13.6 0h.8m6.7 0h.8m1.8 0h.8m4.6 0h.8m.1 0h.8m0 0h.8m-.5 0h.8m-.5 0h.8m10.9 0h.8m7.7 0h.8m-.3 0h.8m.3 0h.8m2 0h.8m1.4 0h.8m-.6 0h.8m.6 0h.8m1.8 0h.8m2.2 0h.8m.6 0h.8m1.8 0h.8m6.2 0h.8m2.7 0h.8m.5 0h.8m2.3 0h.8m1.2 0h.8m.5 0h.8m1.7 0h.8M4.2 12.9h.8m.6 0h.8m-.3 0h.8m2.7 0h.8m.6 0h.8m-.1 0h.8m2.6 0h.8m4.2 0h.8m.7 0h.8m1.5 0h.8m-.1 0h.8m6.6 0h.8m.7 0h.8m2.9 0h.8m7.2 0h.8m-.1 0h.8m2.1 0h.8m11.7 0h.8m1.2 0h.8m5.8 0h.8m4.2 0h.8m-.2 0h.8m-.4 0h.8m.9 0h.8m-.2 0h.8m-.7 0h.8m.9 0h.8m1.4 0h.8m5 0h.8m2.6 0h.8m.4 0h.8m4.8 0h.8M0 13.5h.8m-.6 0h.8m-.4 0h.8m1.5 0h.8m.1 0h.8m-.6 0h.8m6.5 0h.8m-.5 0h.8m3.3 0h.8m3.1 0h.8m7.8 0h.8m8.2 0h.8m3.1 0h.8m2.1 0h.8m13.8 0h.8m6.5 0h.8m2.3 0h.8m1.9 0h.8m-.5 0h.8m1.2 0h.8m-.8 0h.8m1 0h.8m-.7 0h.8m-.7 0h.8m5 0h.8m13.8 0h.8M.2 14h.8m.9 0h.8m-.4 0h.8m.6 0h.8m2.9 0h.8m7.4 0h.8m8.3 0h.8m6.7 0h.8m2.1 0h.8m6.5 0h.8m12.2 0h.8m-.4 0h.8m6.9 0h.8m3.3 0h.8m-.6 0h.8m2.1 0h.8m-.1 0h.8m1.5 0h.8m4.4 0h.8m2.9 0h.8m4.1 0h.8m-.7 0h.8m0 0h.8m5.7 0h.8M.4 14.5h.8m10.2 0h.8m2.3 0h.8m-.5 0h.8m.7 0h.8m4.6 0h.8m.6 0h.8m-.3 0h.8m-.6 0h.8m.7 0h.8m8.7 0h.8m6 0h.8m0 0h.8m13.7 0h.8m3.9 0h.8m1.9 0h.8m-.4 0h.8m-.4 0h.8m2.3 0h.8m-.3 0h.8m1.2 0h.8m2 0h.8m-.1 0h.8m1.1 0h.8m3.2 0h.8m1.4 0h.8m-.7 0h.8m7.5 0h.8m4.1 0h.8m-.3 0h.8M.7 15h.8m2 0h.8m1.2 0h.8m5.6 0h.8m-.8 0h.8m2.5 0h.8m2.5 0h.8m4 0h.8m.4 0h.8m2 0h.8m-.5 0h.8m9.2 0h.8m4.5 0h.8m10.1 0h.8m.2 0h.8m-.3 0h.8m5 0h.8m-.2 0h.8m.3 0h.8m1.9 0h.8m0 0h.8m.3 0h.8m.7 0h.8m0 0h.8m3.2 0h.8m2.4 0h.8m2 0h.8m-.7 0h.8m-.7 0h.8m9 0h.8m2.2 0h.8M1.5 15.6h.8m.7 0h.8m.9 0h.8m.5 0h.8m7.6 0h.8m8.8 0h.8m-.1 0h.8m.7 0h.8m-.4 0h.8m.9 0h.8m-.4 0h.8m4.9 0h.8m-.6 0h.8m.7 0h.8m-.5 0h.8m3 0h.8m16.9 0h.8m14 0h.8m.8 0h.8m.4 0h.8m.5 0h.8m-.3 0h.8m1.9 0h.8m16 0h.8M.3 16.1h.8m9.2 0h.8m2.4 0h.8m6.1 0h.8m2.7 0h.8m.5 0h.8m.3 0h.8m.4 0h.8m5.8 0h.8m11.5 0h.8m6.7 0h.8m1.1 0h.8m2.1 0h.8m-.2 0h.8m4.3 0h.8m2.9 0h.8m.7 0h.8m-.6 0h.8m-.3 0h.8m5 0h.8m-.8 0h.8m-.7 0h.8m.1 0h.8m-.1 0h.8m-.2 0h.8m.9 0h.8m2.1 0h.8m3.2 0h.8m5.5 0h.8m-.8 0h.8m-.2 0h.8m3 0h.8M1 16.6h.8m1.7 0h.8m.2 0h.8m2.2 0h.8m.7 0h.8m-.2 0h.8m2.6 0h.8m1.3 0h.8m2.2 0h.8m2.7 0h.8m8.5 0h.8m1.7 0h.8m3.3 0h.8m17.6 0h.8m-.5 0h.8m.7 0h.8m5.4 0h.8m2.9 0h.8m.6 0h.8m-.1 0h.8m1 0h.8m1.5 0h.8m-.3 0h.8m-.5 0h.8m6.8 0h.8m.6 0h.8m2.9 0h.8m.2 0h.8m-.5 0h.8m-.4 0h.8m1.5 0h.8M2.2 17.2h.8m2.4 0h.8m3.8 0h.8m.5 0h.8m1.5 0h.8m10 0h.8m9.5 0h.8m6.9 0h.8m-.3 0h.8m14 0h.8m1 0h.8m4.8 0h.8m2.4 0h.8m.4 0h.8m.9 0h.8m1.3 0h.8m-.1 0h.8m1.8 0h.8m.5 0h.8m10.5 0h.8m.6 0h.8m.3 0h.8m4.9 0h.8M.4 17.7h.8m4 0h.8m.1 0h.8m7.8 0h.8m.7 0h.8m1 0h.8m-.5 0h.8m4.8 0h.8m1.6 0h.8m8.1 0h.8m-.4 0h.8m2.6 0h.8m9.9 0h.8m16 0h.8m.5 0h.8m-.5 0h.8m-.3 0h.8m-.5 0h.8m1.9 0h.8m1 0h.8m2.9 0h.8m-.6 0h.8m2.4 0h.8m2.5 0h.8m.4 0h.8m1.9 0h.8M3.2 18.2h.8m.4 0h.8m2.1 0h.8m9.6 0h.8m14.9 0h.8m.9 0h.8m3.8 0h.8m2 0h.8m5.7 0h.8m6.9 0h.8m3.7 0h.8m-.5 0h.8m1.5 0h.8m4.9 0h.8m-.5 0h.8m.7 0h.8m1.6 0h.8m1.6 0h.8m.2 0h.8m.4 0h.8m7.5 0h.8m5.7 0h.8m.3 0h.8M1 18.7h.8m-.6 0h.8m7.7 0h.8m3.2 0h.8m1.3 0h.8m0 0h.8m6.2 0h.8m1.8 0h.8m1.2 0h.8m.3 0h.8m-.4 0h.8m1.3 0h.8m6.8 0h.8m-.1 0h.8m8.4 0h.8m4.5 0h.8m.2 0h.8m-.7 0h.8m4.4 0h.8m.4 0h.8m1.1 0h.8m-.6 0h.8m-.8 0h.8m2.5 0h.8m.9 0h.8m4.2 0h.8m.8 0h.8m2.3 0h.8m.2 0h.8m.4 0h.8m6.1 0h.8M.8 19.3h.8m-.1 0h.8m6.9 0h.8m5.3 0h.8m10.6 0h.8m7.5 0h.8m2.8 0h.8m2.8 0h.8m.9 0h.8m.4 0h.8m1 0h.8m.4 0h.8m2.4 0h.8m4.8 0h.8m6 0h.8m1.2 0h.8m.6 0h.8m1 0h.8m-.4 0h.8m1 0h.8m.8 0h.8m5.4 0h.8m.5 0h.8m1.3 0h.8m.3 0h.8m.3 0h.8M1.8 19.8h.8m-.3 0h.8m4.2 0h.8m.3 0h.8m4.1 0h.8m1.3 0h.8m1.5 0h.8m11.4 0h.8m.5 0h.8m8.3 0h.8m-.1 0h.8m7.4 0h.8m9.7 0h.8m2 0h.8m0 0h.8m1.7 0h.8m8.1 0h.8m2.4 0h.8m4 0h.8m3.7 0h.8m2.8 0h.8M2.3 20.3h.8m7.3 0h.8m3 0h.8m3.2 0h.8m.2 0h.8m2.1 0h.8m-.6 0h.8m1.1 0h.8m0 0h.8m.9 0h.8m8.4 0h.8m1.3 0h.8m1 0h.8m3.7 0h.8m.2 0h.8m.1 0h.8m.1 0h.8m5.5 0h.8m2 0h.8m1.5 0h.8m9.1 0h.8m-.2 0h.8m2.5 0h.8m-.6 0h.8m.1 0h.8m1.5 0h.8m4.7 0h.8M2.9 20.9h.8m-.6 0h.8m-.6 0h.8m.6 0h.8m.8 0h.8m-.4 0h.8m.5 0h.8m1.8 0h.8m1.4 0h.8m15.2 0h.8m-.3 0h.8m9.1 0h.8m9.5 0h.8m1 0h.8m4.7 0h.8m2.2 0h.8m3.1 0h.8m3.4 0h.8m-.4 0h.8m3 0h.8m2.6 0h.8m.8 0h.8m2.6 0h.8m1.7 0h.8m.5 0h.8m-.8 0h.8m-.7 0h.8M4.7 21.4h.8m19.3 0h.8m.6 0h.8m3.8 0h.8m1.4 0h.8m1 0h.8m-.2 0h.8m1 0h.8m0 0h.8m-.7 0h.8m-.5 0h.8m-.4 0h.8m5.4 0h.8m17.4 0h.8m4.2 0h.8m-.7 0h.8m1.2 0h.8m-.2 0h.8m-.4 0h.8m3.3 0h.8m-.3 0h.8m1 0h.8m1 0h.8m6.1 0h.8m-.3 0h.8m5.5 0h.8m1.7 0h.8m.1 0h.8M17.5 21.9h.8m3.6 0h.8m-.2 0h.8m-.5 0h.8m1.5 0h.8m6.7 0h.8m2 0h.8m1.9 0h.8m2 0h.8m2.1 0h.8m2.6 0h.8m1.3 0h.8m5.4 0h.8m3.1 0h.8m9.8 0h.8m3 0h.8m1.6 0h.8m.8 0h.8m1.6 0h.8m7.3 0h.8m.8 0h.8m1.1 0h.8m-.4 0h.8m4.6 0h.8M2 22.4h.8m1.6 0h.8m.2 0h.8m-.4 0h.8m7.8 0h.8m1 0h.8m4 0h.8m12 0h.8m-.4 0h.8m3.2 0h.8m4.2 0h.8m.6 0h.8m4.9 0h.8m1.2 0h.8m-.2 0h.8m7 0h.8m3.4 0h.8m-.5 0h.8m-.5 0h.8m-.1 0h.8m.1 0h.8m2.5 0h.8m2.1 0h.8m-.6 0h.8m4.4 0h.8m4.5 0h.8m11.3 0h.8m1 0h.8M1.2 23h.8m2.8 0h.8m9.7 0h.8m8.3 0h.8m-.5 0h.8m1.3 0h.8m.6 0h.8m2.9 0h.8m.8 0h.8m1.6 0h.8m1.2 0h.8m19.7 0h.8m-.1 0h.8m1.3 0h.8m.4 0h.8m4.8 0h.8m2 0h.8m4.3 0h.8m-.6 0h.8m4.9 0h.8m0 0h.8m5.8 0h.8m1.9 0h.8m1.8 0h.8M.5 23.5h.8m1.7 0h.8m2.1 0h.8m4.5 0h.8m-.5 0h.8m15.6 0h.8m.4 0h.8m2.4 0h.8m1.2 0h.8m-.1 0h.8m3.7 0h.8m2.5 0h.8m1.2 0h.8m7.8 0h.8m-.8 0h.8m.8 0h.8m1.9 0h.8m.9 0h.8m1.6 0h.8m-.7 0h.8m2.9 0h.8m1.4 0h.8m-.1 0h.8m-.6 0h.8m.6 0h.8m-.5 0h.8m.1 0h.8m12.8 0h.8m3.4 0h.8m-.4 0h.8m.7 0h.8m2.8 0h.8M.5 24h.8m1.6 0h.8m10.1 0h.8m2.8 0h.8m0 0h.8m.1 0h.8m-.3 0h.8m-.2 0h.8m.4 0h.8m8.9 0h.8m2 0h.8m.4 0h.8m4.7 0h.8m9.8 0h.8m1.5 0h.8m.1 0h.8m7.8 0h.8m.8 0h.8m.4 0h.8m2 0h.8m.3 0h.8m2.5 0h.8m2.8 0h.8m.8 0h.8m.1 0h.8m11.6 0h.8M9.6 24.6h.8m.1 0h.8m2.3 0h.8m-.1 0h.8m13.9 0h.8m-.4 0h.8m2.5 0h.8m-.5 0h.8m1.8 0h.8m1.3 0h.8m-.6 0h.8m3.5 0h.8m11.1 0h.8m4.8 0h.8m.3 0h.8m-.5 0h.8m0 0h.8m5.2 0h.8m-.3 0h.8m.3 0h.8m2.9 0h.8m-.8 0h.8m-.2 0h.8m0 0h.8m3.4 0h.8m4.9 0h.8m7.2 0h.8m.9 0h.8m1.6 0h.8M4 25.1h.8m11.8 0h.8m9 0h.8m4.5 0h.8m-.7 0h.8m2.2 0h.8m3.4 0h.8m1.3 0h.8m-.3 0h.8m16.7 0h.8m2.3 0h.8m-.1 0h.8m5.6 0h.8m.6 0h.8m2.7 0h.8m-.8 0h.8m-.7 0h.8m-.8 0h.8m-.4 0h.8m2.8 0h.8m.2 0h.8m2.3 0h.8m5.6 0h.8m6.6 0h.8m.6 0h.8M1.4 25.6h.8m.4 0h.8m-.3 0h.8m.1 0h.8m-.4 0h.8m5 0h.8m3.3 0h.8m-.3 0h.8m.4 0h.8m5.4 0h.8m.5 0h.8m-.4 0h.8m2 0h.8m5.3 0h.8m.9 0h.8m4.7 0h.8m6.8 0h.8m4.1 0h.8m1.4 0h.8m8.3 0h.8m2.7 0h.8m4.5 0h.8m-.4 0h.8m1.2 0h.8m.5 0h.8m-.5 0h.8m2.7 0h.8m7.9 0h.8m.5 0h.8m2 0h.8M3.2 26.1h.8m4.2 0h.8m4.7 0h.8m7.6 0h.8m16.3 0h.8m.5 0h.8m13.7 0h.8m3.6 0h.8m-.7 0h.8m-.6 0h.8m1.9 0h.8m.8 0h.8m2.6 0h.8m3.3 0h.8m2.5 0h.8m1.3 0h.8m4.3 0h.8m5.6 0h.8m.2 0h.8m-.8 0h.8m2.9 0h.8m3.9 0h.8" stroke="#111" stroke-width="0.55" fill="none"/>
<line x1="185.2" y1="419.2" x2="185.2" y2="445.6" stroke="#d2492a" stroke-width="1.1"/>
<polyline points="204.8,445.2 208.2,434.2 210.1,427.2 213.6,419.9" fill="none" stroke="#4f5fc8" stroke-width="0.6"/>
<path d="M252.7 419.6h-1.3v25.6h1.3" fill="none" stroke="#222" stroke-width="0.9"/>
<path d="M151.7 455.5L154.6 455.1L158.1 456.5L161.6 457.2L165.1 455.1L168.7 457.2L172.2 459.5L175.7 457.2L179.2 456.5L182.7 454.2L187 449.5L190.6 451.3L194.1 455.1L197.6 458.6L201.1 460L204.6 459.5L208.1 456.9L211.6 454.2L215.1 453L218.6 450.7L222.1 448.5L225.6 448.1L229.1 449.9L232.6 451.6L236.1 453.7L239.6 456L243.1 458.6L246.6 460.4L249.2 459.5L251.8 459L251.8 463.8L249.2 464.3L246.6 465.2L243.1 463.4L239.6 460.8L236.1 458.5L232.6 456.4L229.1 454.7L225.6 452.9L222.1 453.3L218.6 455.5L215.1 457.8L211.6 459L208.1 461.7L204.6 464.3L201.1 464.8L197.6 463.4L194.1 459.9L190.6 456.1L187 454.3L182.7 459L179.2 461.3L175.7 462L172.2 464.3L168.7 462L165.1 459.9L161.6 462L158.1 461.3L154.6 459.9L151.7 460.3Z" fill="#939fe8" fill-opacity="0.65"/>
<path d="M151.7 455.5L154.6 454.6L157.3 455.5L160.8 458.7L164.3 460.4L167.8 461.7L171.3 462.5L173.9 459.9L176.5 457.6L180 459L183.5 458.7L187 458.7L191.4 455.5L194.1 459L197.6 463.4L201.1 465.2L204.6 464.3L208.1 461.7L211.6 458.7L215.1 456.9L218.6 455.2L222.1 451.7L225.6 452L229.1 451.1L232.6 454.6L236.1 457.6L239.6 459.9L243.1 461.7L245.7 459.9L249.2 462.5L251.8 462.2L251.8 466.2L249.2 466.5L245.7 463.9L243.1 465.7L239.6 463.9L236.1 461.6L232.6 458.6L229.1 455.1L225.6 456L222.1 455.7L218.6 459.2L215.1 460.9L211.6 462.7L208.1 465.7L204.6 468.3L201.1 469.2L197.6 467.4L194.1 463L191.4 459.5L187 462.7L183.5 462.7L180 463L176.5 461.6L173.9 463.9L171.3 466.5L167.8 465.7L164.3 464.4L160.8 462.7L157.3 459.5L154.6 458.6L151.7 459.5Z" fill="#4a4f86" fill-opacity="0.5"/>
<path d="M151.7 457.9C152.2 457.8 153.6 457.3 154.6 457.5C155.7 457.7 157 458.6 158.1 458.9C159.3 459.3 160.5 459.9 161.6 459.6C162.8 459.4 164 457.5 165.1 457.5C166.3 457.5 167.5 458.9 168.7 459.6C169.8 460.4 171 461.9 172.2 461.9C173.3 461.9 174.5 460.1 175.7 459.6C176.8 459.1 178 459.4 179.2 458.9C180.3 458.4 181.4 457.8 182.7 456.6C184 455.5 185.7 452.4 187 451.9C188.4 451.4 189.4 452.7 190.6 453.7C191.7 454.6 192.9 456.3 194.1 457.5C195.2 458.7 196.4 460.2 197.6 461C198.7 461.8 199.9 462.3 201.1 462.4C202.2 462.6 203.4 462.4 204.6 461.9C205.7 461.4 206.9 460.1 208.1 459.3C209.2 458.4 210.4 457.3 211.6 456.6C212.7 456 213.9 456 215.1 455.4C216.2 454.8 217.4 453.9 218.6 453.1C219.7 452.4 220.9 451.3 222.1 450.9C223.3 450.4 224.4 450.3 225.6 450.5C226.8 450.7 227.9 451.7 229.1 452.3C230.3 452.8 231.4 453.4 232.6 454C233.8 454.7 234.9 455.4 236.1 456.1C237.3 456.8 238.4 457.6 239.6 458.4C240.8 459.2 241.9 460.3 243.1 461C244.3 461.8 245.6 462.6 246.6 462.8C247.6 462.9 248.4 462.1 249.2 461.9C250.1 461.7 251.4 461.5 251.8 461.4" fill="none" stroke="#5a6bd0" stroke-width="1.0"/>
<path d="M151.7 457.5C152.2 457.4 153.7 456.6 154.6 456.6C155.6 456.6 156.2 456.8 157.3 457.5C158.3 458.2 159.6 459.9 160.8 460.7C161.9 461.5 163.1 461.9 164.3 462.4C165.4 462.9 166.6 463.3 167.8 463.7C168.9 464 170.3 464.8 171.3 464.5C172.3 464.2 173 462.7 173.9 461.9C174.8 461.1 175.5 459.8 176.5 459.6C177.6 459.5 178.9 460.8 180 461C181.2 461.2 182.4 460.7 183.5 460.7C184.7 460.6 185.7 461.2 187 460.7C188.4 460.1 190.3 457.5 191.4 457.5C192.6 457.6 193 459.7 194.1 461C195.1 462.3 196.4 464.4 197.6 465.4C198.7 466.4 199.9 467 201.1 467.2C202.2 467.3 203.4 466.9 204.6 466.3C205.7 465.7 206.9 464.6 208.1 463.7C209.2 462.7 210.4 461.5 211.6 460.7C212.7 459.9 213.9 459.5 215.1 458.9C216.2 458.3 217.4 458 218.6 457.2C219.7 456.3 220.9 454.2 222.1 453.7C223.3 453.1 224.4 454.1 225.6 454C226.8 453.9 227.9 452.7 229.1 453.1C230.3 453.6 231.4 455.6 232.6 456.6C233.8 457.7 234.9 458.7 236.1 459.6C237.3 460.5 238.4 461.2 239.6 461.9C240.8 462.6 242.1 463.7 243.1 463.7C244.1 463.7 244.7 461.8 245.7 461.9C246.8 462 248.2 464.1 249.2 464.5C250.3 464.9 251.4 464.2 251.8 464.2" fill="none" stroke="#14173f" stroke-width="1.5"/>
<line x1="151.7" y1="446.2" x2="151.7" y2="470.4" stroke="#3a3a3a" stroke-width="1.1"/>
<line x1="151.2" y1="469.9" x2="252.4" y2="469.9" stroke="#3a3a3a" stroke-width="1.1"/>
<path d="M151.7 452.3h-1.8M151.7 463.7h-1.8M151.7 469.9v2M168.4 469.9v2M185.2 469.9v2M201.9 469.9v2M218.6 469.9v2M235.4 469.9v2M252.1 469.9v2" stroke="#3a3a3a" stroke-width="0.8" fill="none"/>
<text x="150.2" y="483.2" font-size="8.3" text-anchor="middle" fill="#1a1a1a" stroke-width="0.2">-1</text>
<text x="186.2" y="483.2" font-size="8.3" text-anchor="middle" fill="#1a1a1a" stroke-width="0.2">0</text>
<text x="219.2" y="483.2" font-size="8.3" text-anchor="middle" fill="#1a1a1a" stroke-width="0.2">1</text>
<text x="199.9" y="492.9" font-size="8.3" text-anchor="middle" fill="#1a1a1a" stroke-width="0.2">Time from</text>
<text x="200.1" y="503.5" font-size="8.3" text-anchor="middle" fill="#1a1a1a" stroke-width="0.2">Center Port Entry (s)</text>
<text x="311.3" y="294.9" font-size="8.3" text-anchor="middle" fill="#1a1a1a" stroke-width="0.2">3 trials back</text>
<path transform="translate(261.7 299.9)" d="M5.1 .3h.8m2.7 0h.8m3.2 0h.8m.6 0h.8m0 0h.8m2.5 0h.8m4.3 0h.8m.6 0h.8m4.1 0h.8m4.8 0h.8m1.3 0h.8m.1 0h.8m6.3 0h.8m3.3 0h.8m-.2 0h.8m4.2 0h.8m10.9 0h.8m.2 0h.8m.4 0h.8m-.3 0h.8m3.1 0h.8m2.4 0h.8m.6 0h.8m.3 0h.8m.6 0h.8m-.7 0h.8m-.8 0h.8m3.9 0h.8m6.4 0h.8m2.8 0h.8M3.6 .8h.8m-.5 0h.8m1.2 0h.8m4.5 0h.8m-.3 0h.8m0 0h.8m17.2 0h.8m5.1 0h.8m14.3 0h.8m1.3 0h.8m4.2 0h.8m.7 0h.8m2 0h.8m.3 0h.8m1.6 0h.8m-.8 0h.8m2.2 0h.8m3.4 0h.8m.7 0h.8m-.1 0h.8m.8 0h.8m-.2 0h.8m-.5 0h.8m.7 0h.8m.2 0h.8m2.2 0h.8m2 0h.8M.8 1.3h.8m.7 0h.8m.7 0h.8m1.6 0h.8m1.2 0h.8m1.7 0h.8m18.1 0h.8m-.6 0h.8m.6 0h.8m1.6 0h.8m.5 0h.8m.6 0h.8m7.3 0h.8m-.2 0h.8m8.3 0h.8m2.4 0h.8m-.5 0h.8m3.8 0h.8m4 0h.8m-.7 0h.8m3.1 0h.8m.9 0h.8m-.2 0h.8m.9 0h.8m-.2 0h.8m2.5 0h.8m.8 0h.8m5.9 0h.8m4 0h.8m.5 0h.8m1.1 0h.8m1.4 0h.8M3.4 1.9h.8m-.2 0h.8m3.1 0h.8m0 0h.8m4.1 0h.8m1.9 0h.8m7 0h.8m5.8 0h.8m1.7 0h.8m.4 0h.8m1.3 0h.8m3.5 0h.8m-.7 0h.8m-.1 0h.8m6.6 0h.8m12.9 0h.8m.7 0h.8m-.5 0h.8m1 0h.8m2.7 0h.8m1.5 0h.8m3.2 0h.8m3.2 0h.8m.4 0h.8m.1 0h.8m.4 0h.8m.1 0h.8m-.5 0h.8m6.3 0h.8m-.8 0h.8m.7 0h.8m1.8 0h.8m-.2 0h.8M1.4 2.4h.8m1.3 0h.8m3 0h.8m1.1 0h.8m8.5 0h.8m6.7 0h.8m.6 0h.8m0 0h.8m.8 0h.8m1.6 0h.8m2.2 0h.8m1.7 0h.8m-.7 0h.8m3.8 0h.8m5.7 0h.8m2.2 0h.8m9 0h.8m1.3 0h.8m2.9 0h.8m.1 0h.8m.1 0h.8m5.7 0h.8m.6 0h.8m-.4 0h.8m3 0h.8m13 0h.8M.6 2.9h.8m-.1 0h.8m3.1 0h.8m1.4 0h.8m3.9 0h.8m2.9 0h.8m1 0h.8m2.7 0h.8m18.5 0h.8m-.4 0h.8m.9 0h.8m1.1 0h.8m5.9 0h.8m3.1 0h.8m-.1 0h.8m1.4 0h.8m3.9 0h.8m0 0h.8m.8 0h.8m2.1 0h.8m1.6 0h.8m.2 0h.8m3.1 0h.8m0 0h.8m-.6 0h.8m1.6 0h.8m7 0h.8m6.8 0h.8m1.7 0h.8M.5 3.5h.8m.4 0h.8m-.2 0h.8m3.9 0h.8m-.2 0h.8m1 0h.8m15.1 0h.8m2.5 0h.8m2.8 0h.8m-.1 0h.8m1.6 0h.8m-.3 0h.8m4.8 0h.8m2 0h.8m2.7 0h.8m7.4 0h.8m1.8 0h.8m5.9 0h.8m3.5 0h.8m3.6 0h.8m-.7 0h.8m4.9 0h.8m.2 0h.8m1.7 0h.8m-.5 0h.8m-.2 0h.8m3.4 0h.8m1.9 0h.8M1.8 4h.8m4.2 0h.8m7 0h.8m2 0h.8m6.6 0h.8m2.8 0h.8m-.7 0h.8m.5 0h.8m2.6 0h.8m1.9 0h.8m12.7 0h.8m.5 0h.8m6.4 0h.8m2.8 0h.8m2.2 0h.8m-.2 0h.8m.1 0h.8m-.6 0h.8m.3 0h.8m2.6 0h.8m5.7 0h.8m-.6 0h.8m11.1 0h.8m.8 0h.8m4.2 0h.8M1.7 4.5h.8m4 0h.8m9.8 0h.8m.7 0h.8m.3 0h.8m2.1 0h.8m22.8 0h.8m-.4 0h.8m2 0h.8m1.4 0h.8m.8 0h.8m1.6 0h.8m.2 0h.8m8.2 0h.8m1.5 0h.8m-.4 0h.8m-.7 0h.8m-.6 0h.8m-.6 0h.8m1 0h.8m-.7 0h.8m.3 0h.8m-.2 0h.8m1.2 0h.8m-.7 0h.8m-.5 0h.8m-.8 0h.8m2.2 0h.8m3.7 0h.8m.2 0h.8m5.3 0h.8M.6 5.1h.8m2.7 0h.8m-.1 0h.8m.4 0h.8m-.1 0h.8m22.9 0h.8m1.3 0h.8m.1 0h.8m3.2 0h.8m1.6 0h.8m11.3 0h.8m7 0h.8m4.4 0h.8m2.9 0h.8m.2 0h.8m1.8 0h.8m-.6 0h.8m.6 0h.8m-.7 0h.8m-.2 0h.8m6.2 0h.8m.9 0h.8m2.5 0h.8m-.1 0h.8m-.8 0h.8m2.7 0h.8m1.9 0h.8m-.2 0h.8m2.2 0h.8M2.1 5.6h.8m-.7 0h.8m-.3 0h.8m1.9 0h.8m-.7 0h.8m1.5 0h.8m-.7 0h.8m-.4 0h.8m1.2 0h.8m.8 0h.8m8.4 0h.8m-.2 0h.8m3.5 0h.8m3.9 0h.8m1.6 0h.8m4.8 0h.8m-.2 0h.8m2.6 0h.8m5.7 0h.8m2.9 0h.8m11.6 0h.8m-.4 0h.8m-.1 0h.8m-.2 0h.8m-.2 0h.8m-.2 0h.8m1.6 0h.8m.2 0h.8m-.8 0h.8m10.5 0h.8m1.7 0h.8m.9 0h.8m6.7 0h.8M2.5 6.1h.8m0 0h.8m0 0h.8m.2 0h.8m1.3 0h.8m.1 0h.8m1.4 0h.8m1.2 0h.8m.2 0h.8m8.3 0h.8m3.2 0h.8m2.3 0h.8m.5 0h.8m1.8 0h.8m.8 0h.8m1.4 0h.8m2.8 0h.8m.2 0h.8m4 0h.8m.2 0h.8m1.1 0h.8m1.7 0h.8m-.3 0h.8m6.8 0h.8m5 0h.8m.8 0h.8m1.4 0h.8m8.3 0h.8m-.1 0h.8m-.4 0h.8m.6 0h.8m3.4 0h.8m5.9 0h.8m.6 0h.8M.8 6.6h.8m1 0h.8m8.8 0h.8m-.6 0h.8m-.1 0h.8m3.8 0h.8m6.7 0h.8m0 0h.8m10.2 0h.8m4.6 0h.8m15.9 0h.8m1.9 0h.8m4.9 0h.8m3.2 0h.8m1.3 0h.8m.9 0h.8m0 0h.8m2 0h.8m4.8 0h.8m-.4 0h.8m1 0h.8m-.6 0h.8m-.4 0h.8m-.6 0h.8M.1 7.2h.8m-.8 0h.8m2.5 0h.8m-.7 0h.8m-.5 0h.8m-.1 0h.8m-.6 0h.8m.3 0h.8m3.8 0h.8m2.1 0h.8m4.5 0h.8m3.8 0h.8m3.6 0h.8m1.3 0h.8m-.7 0h.8m7.4 0h.8m.2 0h.8m-.3 0h.8m-.8 0h.8m10.2 0h.8m1.9 0h.8m6.2 0h.8m2.5 0h.8m3.2 0h.8m1.2 0h.8m.4 0h.8m.2 0h.8m-.3 0h.8m-.8 0h.8m3.4 0h.8m-.1 0h.8m1 0h.8m.3 0h.8m9.4 0h.8m3.9 0h.8M.3 7.7h.8m3.4 0h.8m.7 0h.8m-.4 0h.8m1.2 0h.8m-.6 0h.8m5.3 0h.8m4.4 0h.8m5 0h.8m7.3 0h.8m2.1 0h.8m-.7 0h.8m5.1 0h.8m1.7 0h.8m5.9 0h.8m10.2 0h.8m5.9 0h.8m-.5 0h.8m-.7 0h.8m3.7 0h.8m1.7 0h.8m5.1 0h.8m2 0h.8m9.2 0h.8M.4 8.2h.8m.6 0h.8m1.4 0h.8m2.9 0h.8m.9 0h.8m-.2 0h.8m.9 0h.8m.5 0h.8m1.3 0h.8m.6 0h.8m13.2 0h.8m2.8 0h.8m1.4 0h.8m-.5 0h.8m1.2 0h.8m.4 0h.8m1.3 0h.8m-.4 0h.8m18.5 0h.8m3.4 0h.8m1 0h.8m0 0h.8m.2 0h.8m.6 0h.8m2 0h.8m4 0h.8m5.5 0h.8m-.7 0h.8m-.6 0h.8m-.6 0h.8m0 0h.8m6.1 0h.8m4.3 0h.8M1.7 8.8h.8m.8 0h.8m8.5 0h.8m.3 0h.8m3 0h.8m4.4 0h.8m9.2 0h.8m-.1 0h.8m6.1 0h.8m-.2 0h.8m.3 0h.8m.4 0h.8m1.8 0h.8m.4 0h.8m13.9 0h.8m1.7 0h.8m1.6 0h.8m-.4 0h.8m4.7 0h.8m0 0h.8m-.8 0h.8m3 0h.8m1.7 0h.8m5.1 0h.8m.3 0h.8m2.8 0h.8m.5 0h.8M.1 9.3h.8m1 0h.8m.7 0h.8m4.2 0h.8m-.2 0h.8m4.4 0h.8m8.9 0h.8m2.8 0h.8m2.4 0h.8m4.9 0h.8m.6 0h.8m.2 0h.8m-.5 0h.8m2.7 0h.8m-.4 0h.8m.9 0h.8m5 0h.8m4.3 0h.8m1.6 0h.8m6.6 0h.8m4.9 0h.8m-.4 0h.8m-.2 0h.8m-.6 0h.8m7.7 0h.8m-.5 0h.8m1.6 0h.8m8.4 0h.8M2 9.8h.8m4.4 0h.8m.5 0h.8m-.1 0h.8m7.1 0h.8m5.9 0h.8m1.9 0h.8m0 0h.8m7.3 0h.8m2 0h.8m2.1 0h.8m1.7 0h.8m.2 0h.8m18.5 0h.8m3.3 0h.8m6.6 0h.8m-.5 0h.8m-.5 0h.8m-.5 0h.8m2.1 0h.8m10.6 0h.8m.7 0h.8m2.2 0h.8m1.8 0h.8M1.1 10.4h.8m1.5 0h.8m2.5 0h.8m16.4 0h.8m.2 0h.8m1 0h.8m7 0h.8m4.1 0h.8m0 0h.8m19.1 0h.8m2.7 0h.8m4.5 0h.8m3.8 0h.8m.5 0h.8m-.4 0h.8m0 0h.8m-.5 0h.8m1.3 0h.8m.2 0h.8m-.2 0h.8m.3 0h.8m-.6 0h.8m1.5 0h.8m2.4 0h.8m1.3 0h.8m-.6 0h.8m8 0h.8M2 10.9h.8m.5 0h.8m1 0h.8m-.1 0h.8m5.6 0h.8m6.4 0h.8m.5 0h.8m2.1 0h.8m5.7 0h.8m-.7 0h.8m6.2 0h.8m1 0h.8m.9 0h.8m11.4 0h.8m3.1 0h.8m1.9 0h.8m1.6 0h.8m.7 0h.8m2.1 0h.8m4.6 0h.8m0 0h.8m-.2 0h.8m2.7 0h.8m1.2 0h.8m3.3 0h.8m.5 0h.8m1.3 0h.8m6 0h.8m2.2 0h.8m-.5 0h.8m.2 0h.8M3.9 11.4h.8m.8 0h.8m3 0h.8m-.1 0h.8m-.5 0h.8m.2 0h.8m6 0h.8m6.3 0h.8m1.6 0h.8m5.6 0h.8m7.1 0h.8m19.7 0h.8m.6 0h.8m1.3 0h.8m.6 0h.8m1.2 0h.8m.9 0h.8m-.1 0h.8m1.3 0h.8m-.7 0h.8m6.5 0h.8m.2 0h.8m2 0h.8m2.7 0h.8m1.3 0h.8m.1 0h.8m3.5 0h.8M1.6 12h.8m.8 0h.8m1.5 0h.8m.3 0h.8m4.3 0h.8m1.2 0h.8m5.8 0h.8m1.3 0h.8m10.3 0h.8m.6 0h.8m-.2 0h.8m-.7 0h.8m23 0h.8m1.3 0h.8m.9 0h.8m.1 0h.8m2.4 0h.8m3.5 0h.8m1.4 0h.8m2.6 0h.8m.2 0h.8m.7 0h.8m4.8 0h.8m.2 0h.8m1.8 0h.8m3.5 0h.8M3.4 12.5h.8m-.1 0h.8m2.1 0h.8m2.5 0h.8m.2 0h.8m2.8 0h.8m-.4 0h.8m-.3 0h.8m6 0h.8m1.7 0h.8m1.6 0h.8m7.1 0h.8m2.8 0h.8m9.8 0h.8m3.6 0h.8m3 0h.8m.7 0h.8m1.4 0h.8m-.5 0h.8m-.1 0h.8m-.4 0h.8m2.4 0h.8m6.2 0h.8m2.4 0h.8m.1 0h.8m3.7 0h.8m.4 0h.8m3.4 0h.8m.9 0h.8m-.3 0h.8m.6 0h.8m.8 0h.8m-.4 0h.8m-.1 0h.8M.2 13h.8m1.8 0h.8m-.2 0h.8m-.3 0h.8m2.9 0h.8m5.1 0h.8m3.2 0h.8m.4 0h.8m11.5 0h.8m2.6 0h.8m.2 0h.8m-.4 0h.8m5.2 0h.8m.5 0h.8m.3 0h.8m14.7 0h.8m3.6 0h.8m1.6 0h.8m-.3 0h.8m-.5 0h.8m.8 0h.8m2.9 0h.8m5.7 0h.8m.1 0h.8m3.6 0h.8m.2 0h.8M6.3 13.6h.8m1.7 0h.8m3.4 0h.8m2.8 0h.8m1.6 0h.8m2.8 0h.8m8.1 0h.8m2.5 0h.8m1 0h.8m8.6 0h.8m4.9 0h.8m7.4 0h.8m3.6 0h.8m.7 0h.8m4.5 0h.8m1.1 0h.8m-.8 0h.8m-.4 0h.8m-.7 0h.8m-.3 0h.8m-.3 0h.8m.2 0h.8m1.3 0h.8m1.6 0h.8m-.7 0h.8m1.9 0h.8m-.4 0h.8m8.8 0h.8m.3 0h.8M1.4 14.1h.8m-.7 0h.8m0 0h.8m1.2 0h.8m.6 0h.8m10 0h.8m5.1 0h.8m-.7 0h.8m4.1 0h.8m.5 0h.8m1.3 0h.8m2.4 0h.8m2.6 0h.8m21.9 0h.8m-.3 0h.8m2.8 0h.8m2.1 0h.8m2.9 0h.8m5.1 0h.8m4.3 0h.8m1.3 0h.8m3.8 0h.8m1.5 0h.8m2.8 0h.8M.4 14.6h.8m2.6 0h.8m3.2 0h.8m5.2 0h.8m.7 0h.8m2.1 0h.8m2.9 0h.8m10.7 0h.8m.6 0h.8m-.4 0h.8m1.4 0h.8m5.9 0h.8m3 0h.8m1.7 0h.8m-.8 0h.8m1.3 0h.8m-.6 0h.8m1.4 0h.8m1.2 0h.8m6.9 0h.8m2 0h.8m-.3 0h.8m-.1 0h.8m3.8 0h.8m3.6 0h.8m1.6 0h.8m2.3 0h.8m12.6 0h.8m0 0h.8M4.6 15.2h.8m5 0h.8m.6 0h.8m4.2 0h.8m4.7 0h.8m5.1 0h.8m9.7 0h.8m.4 0h.8m2 0h.8m5.3 0h.8m3.1 0h.8m1.5 0h.8m1.8 0h.8m-.8 0h.8m2.4 0h.8m-.1 0h.8m.5 0h.8m5 0h.8m1.3 0h.8m1.3 0h.8m.3 0h.8m3.6 0h.8m-.7 0h.8m.9 0h.8m2.3 0h.8m6.3 0h.8M.1 15.7h.8m-.4 0h.8m1.4 0h.8m-.6 0h.8m-.1 0h.8m4.1 0h.8m-.2 0h.8m19.2 0h.8m7.7 0h.8m1.2 0h.8m6.8 0h.8m13.9 0h.8m.6 0h.8m2.4 0h.8m2 0h.8m1 0h.8m2.7 0h.8m-.5 0h.8m2.5 0h.8m-.5 0h.8m.4 0h.8m3.3 0h.8m1.2 0h.8m-.1 0h.8M4.1 16.2h.8m1.1 0h.8m-.7 0h.8m4.7 0h.8m9.7 0h.8m1.9 0h.8m1.1 0h.8m.4 0h.8m.9 0h.8m-.7 0h.8m.6 0h.8m.3 0h.8m-.8 0h.8m-.5 0h.8m2.3 0h.8m1.9 0h.8m5.7 0h.8m6.4 0h.8m5.9 0h.8m2.5 0h.8m2.2 0h.8m0 0h.8m-.1 0h.8m.8 0h.8m4.3 0h.8m-.1 0h.8m.3 0h.8m.8 0h.8m9.5 0h.8m.1 0h.8m5.1 0h.8M1.4 16.8h.8m-.6 0h.8m.6 0h.8m.2 0h.8m-.4 0h.8m.4 0h.8m.8 0h.8m-.1 0h.8m-.1 0h.8m1 0h.8m2.5 0h.8m2.8 0h.8m3.5 0h.8m1 0h.8m2.6 0h.8m1.2 0h.8m.6 0h.8m1 0h.8m-.5 0h.8m2.1 0h.8m-.7 0h.8m2 0h.8m1.4 0h.8m8.8 0h.8m3.5 0h.8m7.9 0h.8m7.6 0h.8m-.8 0h.8m-.1 0h.8m2.7 0h.8m1.6 0h.8m10.5 0h.8m3.4 0h.8M2.7 17.3h.8m1.5 0h.8m.4 0h.8m6.3 0h.8m16.3 0h.8m2.7 0h.8m.2 0h.8m-.2 0h.8m1.7 0h.8m0 0h.8m.2 0h.8m-.6 0h.8m3.4 0h.8m6.4 0h.8m.9 0h.8m10.1 0h.8m.2 0h.8m3.2 0h.8m2.8 0h.8m1.7 0h.8m1.2 0h.8m-.7 0h.8m-.7 0h.8m1.9 0h.8m2.4 0h.8m-.4 0h.8m5.1 0h.8m2.9 0h.8m.4 0h.8M.2 17.8h.8m-.2 0h.8m3.6 0h.8m1.2 0h.8m6 0h.8m1.1 0h.8m3.4 0h.8m0 0h.8m1 0h.8m-.1 0h.8m2.7 0h.8m6 0h.8m-.5 0h.8m0 0h.8m-.1 0h.8m.9 0h.8m8.9 0h.8m-.6 0h.8m1.7 0h.8m6.1 0h.8m.7 0h.8m6 0h.8m1.3 0h.8m2.2 0h.8m-.2 0h.8m2.7 0h.8m.9 0h.8m.4 0h.8m.1 0h.8m.7 0h.8m-.4 0h.8m4.8 0h.8m-.4 0h.8m-.1 0h.8m1.8 0h.8M3.1 18.4h.8m-.4 0h.8m14.7 0h.8m1 0h.8m4.3 0h.8m.7 0h.8m-.3 0h.8m.4 0h.8m1.2 0h.8m.1 0h.8m0 0h.8m1.8 0h.8m13.3 0h.8m.9 0h.8m.7 0h.8m4.2 0h.8m3.3 0h.8m-.6 0h.8m-.3 0h.8m.7 0h.8m1.8 0h.8m6.6 0h.8m-.7 0h.8m1.5 0h.8m3.6 0h.8m4.5 0h.8m1.7 0h.8m.8 0h.8m1.4 0h.8m2.2 0h.8M2.1 18.9h.8m.1 0h.8m-.4 0h.8m.6 0h.8m1.2 0h.8m.4 0h.8m8 0h.8m7.5 0h.8m3.8 0h.8m1.3 0h.8m.8 0h.8m8.5 0h.8m10 0h.8m3.4 0h.8m2.5 0h.8m.5 0h.8m-.8 0h.8m3 0h.8m.7 0h.8m-.4 0h.8m.2 0h.8m.8 0h.8m-.6 0h.8m3.6 0h.8m1.4 0h.8m-.5 0h.8m-.2 0h.8m-.1 0h.8m.9 0h.8m6.6 0h.8m4.6 0h.8M2 19.4h.8m2.1 0h.8m-.7 0h.8m.8 0h.8m.2 0h.8m1.4 0h.8m-.8 0h.8m1.9 0h.8m5.4 0h.8m1.6 0h.8m6.2 0h.8m17.2 0h.8m6.8 0h.8m2 0h.8m.7 0h.8m-.7 0h.8m.2 0h.8m6 0h.8m-.6 0h.8m1.5 0h.8m2.1 0h.8m-.3 0h.8m3.1 0h.8m-.7 0h.8m1.7 0h.8m-.6 0h.8m0 0h.8m.9 0h.8m3 0h.8m2.2 0h.8M1 19.9h.8m.4 0h.8m.9 0h.8m2.6 0h.8m.5 0h.8m2 0h.8m3.6 0h.8m3.8 0h.8m4.8 0h.8m6.8 0h.8m2.1 0h.8m.5 0h.8m.3 0h.8m7.1 0h.8m4.1 0h.8m.8 0h.8m-.3 0h.8m3.8 0h.8m-.1 0h.8m6.3 0h.8m10.5 0h.8m1.4 0h.8m10.3 0h.8m4.8 0h.8M.1 20.5h.8m.4 0h.8m3.4 0h.8m9.5 0h.8m3.4 0h.8m4.1 0h.8m-.5 0h.8m-.6 0h.8m-.6 0h.8m9.1 0h.8m-.8 0h.8m6.2 0h.8m9.4 0h.8m.4 0h.8m11.4 0h.8m1.1 0h.8m.3 0h.8m-.2 0h.8m4.1 0h.8m-.3 0h.8m0 0h.8m2.7 0h.8m1.2 0h.8m-.6 0h.8m3.9 0h.8m-.6 0h.8m3.5 0h.8m3.2 0h.8M1.5 21h.8m3.1 0h.8m1.5 0h.8m2.2 0h.8m4.8 0h.8m5.9 0h.8m.1 0h.8m4.5 0h.8m-.2 0h.8m2.8 0h.8m-.6 0h.8m-.3 0h.8m.7 0h.8m1.1 0h.8m4.8 0h.8m8.8 0h.8m0 0h.8m.5 0h.8m3.3 0h.8m-.4 0h.8m.5 0h.8m4.4 0h.8m.5 0h.8m1.3 0h.8m1.6 0h.8m2.4 0h.8m-.7 0h.8m1.4 0h.8m.2 0h.8m.8 0h.8m2.5 0h.8m.1 0h.8m-.3 0h.8m4.1 0h.8m.7 0h.8M8.7 21.5h.8m.8 0h.8m3 0h.8m3.9 0h.8m3 0h.8m3.9 0h.8m-.8 0h.8m1.6 0h.8m1.7 0h.8m-.4 0h.8m-.4 0h.8m1 0h.8m.9 0h.8m1.6 0h.8m15.6 0h.8m4.8 0h.8m.6 0h.8m.3 0h.8m-.4 0h.8m-.7 0h.8m1.4 0h.8m.4 0h.8m-.8 0h.8m.6 0h.8m5.4 0h.8m1.1 0h.8m7.7 0h.8m5.4 0h.8m-.5 0h.8m-.4 0h.8m1.7 0h.8M3 22.1h.8m1.5 0h.8m4 0h.8m-.7 0h.8m-.5 0h.8m1.3 0h.8m3.7 0h.8m2.7 0h.8m2.2 0h.8m.1 0h.8m4.7 0h.8m1.7 0h.8m5.5 0h.8m-.4 0h.8m-.5 0h.8m1.5 0h.8m3.8 0h.8m2.8 0h.8m8.5 0h.8m-.2 0h.8m-.4 0h.8m2.3 0h.8m.1 0h.8m2.4 0h.8m.7 0h.8m3.1 0h.8m1.1 0h.8m1.2 0h.8m5.8 0h.8m.2 0h.8m7.2 0h.8M5.4 22.6h.8m3.9 0h.8m5 0h.8m.5 0h.8m7.2 0h.8m5.3 0h.8m2 0h.8m.6 0h.8m-.6 0h.8m-.5 0h.8m-.5 0h.8m14.4 0h.8m4.4 0h.8m7.8 0h.8m1.4 0h.8m-.2 0h.8m-.8 0h.8m.2 0h.8m.7 0h.8m-.5 0h.8m1.1 0h.8m1.5 0h.8m.4 0h.8m-.4 0h.8m1.6 0h.8m0 0h.8m3.6 0h.8m3.8 0h.8m6.6 0h.8M2.8 23.1h.8m-.7 0h.8m.8 0h.8m2.3 0h.8m-.2 0h.8m0 0h.8m.1 0h.8m-.2 0h.8m-.2 0h.8m5.7 0h.8m6.2 0h.8m-.2 0h.8m4.3 0h.8m2.8 0h.8m.7 0h.8m2.8 0h.8m.6 0h.8m2.4 0h.8m2.2 0h.8m11.8 0h.8m7.9 0h.8m-.2 0h.8m4.7 0h.8m-.3 0h.8m2.4 0h.8m1.8 0h.8m1.7 0h.8m.5 0h.8m-.8 0h.8m-.5 0h.8m-.8 0h.8m2.4 0h.8m.9 0h.8m4.9 0h.8M6.6 23.7h.8m.3 0h.8m1.5 0h.8m4.7 0h.8m5.2 0h.8m.6 0h.8m.2 0h.8m-.2 0h.8m.5 0h.8m4.7 0h.8m.5 0h.8m2.1 0h.8m11.9 0h.8m.4 0h.8m.5 0h.8m14.5 0h.8m1.5 0h.8m4.3 0h.8m2.4 0h.8m.3 0h.8m3 0h.8m.7 0h.8m5.2 0h.8m8 0h.8M6.3 24.2h.8m-.7 0h.8m3.9 0h.8m4.1 0h.8m2.5 0h.8m-.7 0h.8m1.2 0h.8m3.9 0h.8m-.6 0h.8m1.2 0h.8m6 0h.8m.6 0h.8m2.1 0h.8m1.9 0h.8m2.5 0h.8m.8 0h.8m4.7 0h.8m6.3 0h.8m4.3 0h.8m.9 0h.8m.5 0h.8m2.5 0h.8m3.3 0h.8m.4 0h.8m1.9 0h.8m10.3 0h.8m2.9 0h.8m1.4 0h.8M12.3 24.7h.8m2.4 0h.8m11.1 0h.8m.5 0h.8m1.2 0h.8m5.8 0h.8m5.2 0h.8m10 0h.8m3.7 0h.8m3.8 0h.8m2 0h.8m-.3 0h.8m1.5 0h.8m2.1 0h.8m-.3 0h.8m-.2 0h.8m-.3 0h.8m0 0h.8m.7 0h.8m.5 0h.8m6.6 0h.8m.7 0h.8m7.6 0h.8m2.4 0h.8M4.1 25.3h.8m1.9 0h.8m1.4 0h.8m-.4 0h.8m6.6 0h.8m7.7 0h.8m.5 0h.8m6.2 0h.8m-.2 0h.8m.6 0h.8m1.3 0h.8m-.7 0h.8m-.7 0h.8m-.4 0h.8m.6 0h.8m10.2 0h.8m3.9 0h.8m3.4 0h.8m-.2 0h.8m-.5 0h.8m.2 0h.8m2.3 0h.8m-.6 0h.8m4.1 0h.8m-.6 0h.8m5.6 0h.8m4.8 0h.8m4.6 0h.8m-.1 0h.8m.4 0h.8m-.5 0h.8M.1 25.8h.8m1.1 0h.8m.9 0h.8m.4 0h.8m3.2 0h.8m.8 0h.8m.5 0h.8m.9 0h.8m3.5 0h.8m6.3 0h.8m5 0h.8m1.9 0h.8m-.5 0h.8m12.9 0h.8m-.7 0h.8m-.6 0h.8m1.6 0h.8m10.3 0h.8m1.4 0h.8m-.1 0h.8m-.5 0h.8m2.8 0h.8m9.7 0h.8m2.6 0h.8m2.5 0h.8m1.4 0h.8m7.9 0h.8M1.1 26.3h.8m.8 0h.8m1.4 0h.8m-.1 0h.8m.1 0h.8m28.9 0h.8m-.5 0h.8m.4 0h.8m-.3 0h.8m.4 0h.8m2.5 0h.8m6.6 0h.8m8 0h.8m5.2 0h.8m.1 0h.8m2.7 0h.8m1.3 0h.8m.3 0h.8m.4 0h.8m.1 0h.8m4.9 0h.8m.8 0h.8m8.8 0h.8m-.2 0h.8" stroke="#111" stroke-width="0.55" fill="none"/>
<line x1="295.2" y1="299.9" x2="295.2" y2="326.5" stroke="#d2492a" stroke-width="1.1"/>
<polyline points="314.4,325.9 318.2,315.9 321.7,306.9 324.6,300.7" fill="none" stroke="#4f5fc8" stroke-width="0.6"/>
<path d="M362.7 300.3h-1.3v25.8h1.3" fill="none" stroke="#222" stroke-width="0.9"/>
<path transform="translate(261.7 328.3)" d="M.2 .3h.8m-.1 0h.8m.5 0h.8m-.6 0h.8m14.5 0h.8m-.6 0h.8m.1 0h.8m7.1 0h.8m-.1 0h.8m4.7 0h.8m.4 0h.8m1.4 0h.8m-.1 0h.8m-.5 0h.8m2.5 0h.8m2.9 0h.8m5.9 0h.8m.5 0h.8m16.6 0h.8m3.5 0h.8m.4 0h.8m2.8 0h.8m4.4 0h.8m-.4 0h.8m0 0h.8m7.9 0h.8M1.8 .8h.8m6.3 0h.8m.4 0h.8m.4 0h.8m1.4 0h.8m-.2 0h.8m-.4 0h.8m2.7 0h.8m3.8 0h.8m3.5 0h.8m9.2 0h.8m-.6 0h.8m.8 0h.8m4.7 0h.8m5.1 0h.8m7.7 0h.8m3.2 0h.8m-.1 0h.8m1.9 0h.8m.9 0h.8m.9 0h.8m-.2 0h.8m-.6 0h.8m.1 0h.8m1.9 0h.8m-.8 0h.8m0 0h.8m.4 0h.8m4 0h.8m6.1 0h.8m1.1 0h.8m3.9 0h.8m-.3 0h.8m.5 0h.8M0 1.3h.8m2.2 0h.8m.8 0h.8m-.5 0h.8m-.3 0h.8m-.1 0h.8m.3 0h.8m.1 0h.8m3.5 0h.8m-.6 0h.8m.3 0h.8m.8 0h.8m0 0h.8m2.4 0h.8m0 0h.8m1.3 0h.8m7.7 0h.8m4.3 0h.8m.8 0h.8m1.1 0h.8m-.4 0h.8m-.6 0h.8m.4 0h.8m-.1 0h.8m1.5 0h.8m.9 0h.8m16.9 0h.8m6.3 0h.8m2 0h.8m2.1 0h.8m-.6 0h.8m0 0h.8m-.7 0h.8m1.5 0h.8m3.5 0h.8m2.1 0h.8m.5 0h.8M8 1.8h.8m.6 0h.8m.7 0h.8m3.2 0h.8m.4 0h.8m0 0h.8m-.5 0h.8m4.7 0h.8m7 0h.8m1.2 0h.8m3.3 0h.8m.5 0h.8m-.6 0h.8m.1 0h.8m1.6 0h.8m-.2 0h.8m3 0h.8m4.7 0h.8m-.4 0h.8m4.5 0h.8m4.7 0h.8m1.4 0h.8m.4 0h.8m3.1 0h.8m.1 0h.8m1 0h.8m.1 0h.8m.9 0h.8m1.2 0h.8m2.3 0h.8m-.4 0h.8m1.1 0h.8m1.3 0h.8m.2 0h.8m-.6 0h.8m1.1 0h.8m2.5 0h.8M5.6 2.4h.8m-.6 0h.8m6.4 0h.8m-.8 0h.8m1 0h.8m-.2 0h.8m1.5 0h.8m-.7 0h.8m7.5 0h.8m.9 0h.8m3.1 0h.8m-.6 0h.8m.1 0h.8m5.4 0h.8m3.1 0h.8m.2 0h.8m-.4 0h.8m-.3 0h.8m17.4 0h.8m2.7 0h.8m2.1 0h.8m.4 0h.8m3.1 0h.8m.1 0h.8m2.7 0h.8m.6 0h.8m2.5 0h.8m1 0h.8m3.6 0h.8m.3 0h.8m2 0h.8m-.6 0h.8M1 2.9h.8m-.4 0h.8m1.5 0h.8m5.3 0h.8m1.4 0h.8m1.7 0h.8m1.6 0h.8m1.8 0h.8m2.8 0h.8m1.8 0h.8m0 0h.8m-.8 0h.8m2.6 0h.8m-.7 0h.8m0 0h.8m-.7 0h.8m2.6 0h.8m1.7 0h.8m3.2 0h.8m1.8 0h.8m3.7 0h.8m-.5 0h.8m1.9 0h.8m1.4 0h.8m6.4 0h.8m-.1 0h.8m1.8 0h.8m9.7 0h.8m.8 0h.8m-.3 0h.8m3.4 0h.8m-.8 0h.8m-.1 0h.8m-.1 0h.8m3.1 0h.8m1.7 0h.8M.6 3.4h.8m-.2 0h.8m0 0h.8m-.6 0h.8m2.9 0h.8m4.9 0h.8m1.5 0h.8m-.8 0h.8m3.2 0h.8m.5 0h.8m3.7 0h.8m.8 0h.8m6.4 0h.8m2 0h.8m-.3 0h.8m.2 0h.8m8.3 0h.8m-.6 0h.8m13.2 0h.8m4.8 0h.8m0 0h.8m0 0h.8m.1 0h.8m1.4 0h.8m2.6 0h.8m7.7 0h.8m.4 0h.8m0 0h.8m.5 0h.8m.7 0h.8m-.3 0h.8m.6 0h.8m5.7 0h.8m1.8 0h.8M1.6 3.9h.8m.1 0h.8m-.5 0h.8m2.6 0h.8m.2 0h.8m1.2 0h.8m2.5 0h.8m1.1 0h.8m1.7 0h.8m-.3 0h.8m6.8 0h.8m1 0h.8m3.3 0h.8m3 0h.8m.6 0h.8m1.7 0h.8m1.7 0h.8m3.3 0h.8m.3 0h.8m4.9 0h.8m2.8 0h.8m3.4 0h.8m4 0h.8m7 0h.8m-.8 0h.8m.2 0h.8m1.1 0h.8m1.1 0h.8m0 0h.8m4.2 0h.8m.8 0h.8m4.3 0h.8m2.6 0h.8m3.9 0h.8M3.5 4.5h.8m.2 0h.8m-.1 0h.8m-.5 0h.8m.3 0h.8m.5 0h.8m1.7 0h.8m.3 0h.8m.9 0h.8m-.3 0h.8m3.5 0h.8m1.5 0h.8m3.2 0h.8m1.6 0h.8m0 0h.8m8 0h.8m.8 0h.8m.5 0h.8m.6 0h.8m3.5 0h.8m1.4 0h.8m3.1 0h.8m9.3 0h.8m4.6 0h.8m2 0h.8m-.6 0h.8m.9 0h.8m-.3 0h.8m6.4 0h.8m.2 0h.8m-.2 0h.8m1.1 0h.8m1.9 0h.8m2.2 0h.8m1.2 0h.8M3.4 5h.8m.4 0h.8m4.4 0h.8m.1 0h.8m0 0h.8m4 0h.8m3.1 0h.8m4.2 0h.8m2.4 0h.8m2.2 0h.8m4.1 0h.8m.1 0h.8m10.3 0h.8m4 0h.8m3.6 0h.8m.5 0h.8m2.1 0h.8m2.8 0h.8m-.2 0h.8m1.6 0h.8m1.2 0h.8m2.1 0h.8m0 0h.8m.1 0h.8m1.7 0h.8m.2 0h.8m.6 0h.8m5.4 0h.8m2 0h.8M1.3 5.5h.8m.3 0h.8m3.1 0h.8m.5 0h.8m0 0h.8m2 0h.8m2.9 0h.8m4.6 0h.8m4.1 0h.8m5.2 0h.8m3.5 0h.8m2.1 0h.8m4.1 0h.8m5.5 0h.8m9.5 0h.8m7.5 0h.8m0 0h.8m-.4 0h.8m-.7 0h.8m1.4 0h.8m.8 0h.8m1.6 0h.8m3.4 0h.8m-.4 0h.8m1.4 0h.8m4.2 0h.8m8.6 0h.8m-.2 0h.8M.3 6h.8m-.1 0h.8m.1 0h.8m3 0h.8m4.6 0h.8m.5 0h.8m6.4 0h.8m-.5 0h.8m6.2 0h.8m2.5 0h.8m2.8 0h.8m.5 0h.8m2.9 0h.8m7.9 0h.8m-.7 0h.8m12.5 0h.8m2.3 0h.8m.5 0h.8m1.4 0h.8m2.8 0h.8m-.5 0h.8m.3 0h.8m2.8 0h.8m-.8 0h.8m2.3 0h.8m1.5 0h.8m2.9 0h.8m.1 0h.8m2.2 0h.8m-.3 0h.8M4.3 6.6h.8m3 0h.8m3.1 0h.8m1.7 0h.8m.2 0h.8m-.1 0h.8m10.2 0h.8m.5 0h.8m1.7 0h.8m-.7 0h.8m.7 0h.8m2.7 0h.8m2.6 0h.8m.7 0h.8m2.3 0h.8m3.1 0h.8m-.3 0h.8m.7 0h.8m5 0h.8m14.6 0h.8m4.4 0h.8m-.2 0h.8m4.9 0h.8m1.4 0h.8m1.1 0h.8m2.5 0h.8M.8 7.1h.8m-.8 0h.8m1.6 0h.8m-.4 0h.8m3.3 0h.8m2.6 0h.8m-.6 0h.8m9.9 0h.8m.8 0h.8m1.3 0h.8m1.7 0h.8m1.2 0h.8m-.3 0h.8m3.6 0h.8m-.2 0h.8m-.8 0h.8m.5 0h.8m8.1 0h.8m2 0h.8m7.2 0h.8m-.2 0h.8m5 0h.8m.7 0h.8m3.3 0h.8m0 0h.8m3.2 0h.8m.3 0h.8m1.7 0h.8m.9 0h.8m-.7 0h.8m2.5 0h.8m-.4 0h.8m2.3 0h.8m2.3 0h.8m1.2 0h.8m1.8 0h.8m3.7 0h.8M1.2 7.6h.8m-.4 0h.8m5.3 0h.8m2 0h.8m4.1 0h.8m5.5 0h.8m-.3 0h.8m1.7 0h.8m-.3 0h.8m-.4 0h.8m-.1 0h.8m4.3 0h.8m8 0h.8m-.2 0h.8m-.6 0h.8m7 0h.8m.2 0h.8m10.2 0h.8m.1 0h.8m1.8 0h.8m-.1 0h.8m0 0h.8m1.3 0h.8m1.7 0h.8m.5 0h.8m3.9 0h.8m.9 0h.8m4.2 0h.8M.2 8.2h.8m.4 0h.8m-.8 0h.8m-.1 0h.8m2.2 0h.8m4.6 0h.8m3 0h.8m-.5 0h.8m14.1 0h.8m4.1 0h.8m3.2 0h.8m-.2 0h.8m.9 0h.8m.6 0h.8m.1 0h.8m5.9 0h.8m7.5 0h.8m2.8 0h.8m3.4 0h.8m5.4 0h.8m1.4 0h.8m1 0h.8m.9 0h.8m1.7 0h.8m1 0h.8m-.2 0h.8m-.3 0h.8m2.5 0h.8m3.2 0h.8m4.2 0h.8M.2 8.7h.8m.7 0h.8m1.9 0h.8m.5 0h.8m.2 0h.8m1 0h.8m3.3 0h.8m.4 0h.8m-.7 0h.8m2.9 0h.8m-.8 0h.8m-.7 0h.8m1.6 0h.8m-.1 0h.8m0 0h.8m-.1 0h.8m.1 0h.8m3.3 0h.8m3.5 0h.8m-.5 0h.8m3.1 0h.8m-.3 0h.8m2.9 0h.8m.6 0h.8m8.9 0h.8m6.4 0h.8m7.1 0h.8m.6 0h.8m1.4 0h.8m4 0h.8m1.6 0h.8m.6 0h.8m10.8 0h.8m7.2 0h.8M10.2 9.2h.8m-.7 0h.8m3.4 0h.8m.2 0h.8m2 0h.8m1.8 0h.8m1.8 0h.8m-.8 0h.8m2.4 0h.8m3.5 0h.8m7.4 0h.8m.4 0h.8m6.8 0h.8m6.2 0h.8m-.1 0h.8m2.9 0h.8m2 0h.8m.7 0h.8m1.3 0h.8m-.6 0h.8m2.2 0h.8m6.1 0h.8m1.4 0h.8m3 0h.8m12.5 0h.8m1.6 0h.8M3.3 9.7h.8m2.3 0h.8m1.7 0h.8m-.2 0h.8m2.5 0h.8m-.6 0h.8m1.2 0h.8m3.3 0h.8m1.1 0h.8m2.6 0h.8m4.3 0h.8m4.5 0h.8m.7 0h.8m-.5 0h.8m5.4 0h.8m18.2 0h.8m5.7 0h.8m.3 0h.8m-.1 0h.8m1.2 0h.8m2.8 0h.8m-.6 0h.8m7.1 0h.8m.3 0h.8m-.2 0h.8m.6 0h.8m2.3 0h.8m2.1 0h.8m.9 0h.8m.4 0h.8M3.1 10.3h.8m-.7 0h.8m.1 0h.8m7.9 0h.8m.7 0h.8m.2 0h.8m1 0h.8m.9 0h.8m3.9 0h.8m9 0h.8m2.6 0h.8m.5 0h.8m4.2 0h.8m3.1 0h.8m3.7 0h.8m5.3 0h.8m-.8 0h.8m1.9 0h.8m1.4 0h.8m.3 0h.8m1.7 0h.8m.4 0h.8m-.3 0h.8m1.6 0h.8m2.3 0h.8m-.8 0h.8m11.2 0h.8m1.3 0h.8m1.4 0h.8m3.6 0h.8m2.6 0h.8m-.3 0h.8M1.5 10.8h.8m3.3 0h.8m4.9 0h.8m.1 0h.8m-.6 0h.8m.3 0h.8m1.9 0h.8m-.6 0h.8m3 0h.8m.6 0h.8m-.8 0h.8m.2 0h.8m2.4 0h.8m4.2 0h.8m-.1 0h.8m2.3 0h.8m-.7 0h.8m1.4 0h.8m4.1 0h.8m8.4 0h.8m4.5 0h.8m-.3 0h.8m.2 0h.8m7.4 0h.8m6 0h.8m-.6 0h.8m.3 0h.8m4.6 0h.8m.3 0h.8m.5 0h.8m2.2 0h.8M3.7 11.3h.8m4.8 0h.8m-.2 0h.8m-.5 0h.8m2.5 0h.8m.3 0h.8m.5 0h.8m3.2 0h.8m1.9 0h.8m-.6 0h.8m2.5 0h.8m1.3 0h.8m5.2 0h.8m0 0h.8m.4 0h.8m-.3 0h.8m1.7 0h.8m.1 0h.8m5.3 0h.8m10 0h.8m4.6 0h.8m3.8 0h.8m2 0h.8m1 0h.8m3.7 0h.8m1 0h.8m1.1 0h.8m9.3 0h.8m3.1 0h.8m1.8 0h.8M1.8 11.8h.8m-.5 0h.8m-.4 0h.8m1 0h.8m1.9 0h.8m.6 0h.8m.3 0h.8m-.3 0h.8m.1 0h.8m7.2 0h.8m.8 0h.8m.6 0h.8m4.7 0h.8m2.4 0h.8m18.7 0h.8m5 0h.8m3.2 0h.8m2.6 0h.8m4.1 0h.8m.4 0h.8m-.6 0h.8m1.6 0h.8m.8 0h.8m-.6 0h.8m.1 0h.8m4.2 0h.8m.2 0h.8m-.4 0h.8m3.3 0h.8m5.2 0h.8M.8 12.4h.8m.4 0h.8m7.5 0h.8m1.2 0h.8m.9 0h.8m-.8 0h.8m0 0h.8m8.1 0h.8m-.6 0h.8m6.4 0h.8m.8 0h.8m-.6 0h.8m6.8 0h.8m.5 0h.8m2.2 0h.8m-.2 0h.8m4.1 0h.8m9.8 0h.8m-.2 0h.8m2.2 0h.8m8.3 0h.8m-.8 0h.8m-.4 0h.8m2.5 0h.8m-.5 0h.8m1 0h.8m4.2 0h.8m1 0h.8m3.8 0h.8m3.7 0h.8m-.4 0h.8M1.3 12.9h.8m.7 0h.8m3.8 0h.8m.2 0h.8m.2 0h.8m-.3 0h.8m10.4 0h.8m-.5 0h.8m2.6 0h.8m.3 0h.8m3.4 0h.8m3 0h.8m-.2 0h.8m-.4 0h.8m.7 0h.8m7.6 0h.8m-.8 0h.8m2.1 0h.8m8.5 0h.8m2.1 0h.8m1.3 0h.8m1.1 0h.8m6 0h.8m1 0h.8m-.4 0h.8m-.4 0h.8m-.8 0h.8m-.4 0h.8m-.6 0h.8m.6 0h.8m1.3 0h.8m1.2 0h.8m12 0h.8m2.9 0h.8m0 0h.8M.9 13.4h.8m2.2 0h.8m1.6 0h.8m1.2 0h.8m4.3 0h.8m-.1 0h.8m1.2 0h.8m.3 0h.8m4.4 0h.8m5.1 0h.8m2.2 0h.8m2.1 0h.8m0 0h.8m.6 0h.8m2.2 0h.8m1.7 0h.8m10.1 0h.8m1.3 0h.8m.6 0h.8m5 0h.8m-.5 0h.8m3.5 0h.8m-.4 0h.8m1.8 0h.8m15.2 0h.8m2 0h.8m7.1 0h.8M.2 13.9h.8m2.4 0h.8m-.7 0h.8m.5 0h.8m4 0h.8m-.1 0h.8m.5 0h.8m.3 0h.8m1.3 0h.8m.9 0h.8m5.7 0h.8m5.9 0h.8m0 0h.8m2.1 0h.8m2.5 0h.8m2.8 0h.8m3.4 0h.8m5.1 0h.8m-.5 0h.8m.6 0h.8m7.6 0h.8m1.6 0h.8m3.4 0h.8m-.6 0h.8m1.9 0h.8m1.5 0h.8m-.1 0h.8m2.6 0h.8m5.3 0h.8m1.7 0h.8m5.8 0h.8M.1 14.5h.8m3 0h.8m2.9 0h.8m2.8 0h.8m1.4 0h.8m1.2 0h.8m-.4 0h.8m-.7 0h.8m1.1 0h.8m3.5 0h.8m.4 0h.8m7.1 0h.8m-.7 0h.8m.2 0h.8m3.6 0h.8m3.2 0h.8m1 0h.8m7 0h.8m5.5 0h.8m6.9 0h.8m2.1 0h.8m10 0h.8m1.8 0h.8m2 0h.8m.7 0h.8M7.3 15h.8m4.4 0h.8m2.4 0h.8m1.1 0h.8m.7 0h.8m9 0h.8m.8 0h.8m3.5 0h.8m2.5 0h.8m2.4 0h.8m12.5 0h.8m1.3 0h.8m.5 0h.8m-.1 0h.8m.7 0h.8m4.6 0h.8m1.5 0h.8m0 0h.8m-.5 0h.8m.3 0h.8m-.6 0h.8m4.8 0h.8m2.7 0h.8m-.6 0h.8m2.8 0h.8m6.3 0h.8m1.3 0h.8m2.5 0h.8m.7 0h.8M.6 15.5h.8m-.2 0h.8m5.3 0h.8m2.1 0h.8m-.8 0h.8m-.4 0h.8m.4 0h.8m-.4 0h.8m-.7 0h.8m.9 0h.8m.1 0h.8m-.7 0h.8m12.1 0h.8m.4 0h.8m.1 0h.8m3.8 0h.8m5.4 0h.8m-.7 0h.8m.3 0h.8m.7 0h.8m3.3 0h.8m2.4 0h.8m3.9 0h.8m3 0h.8m1.3 0h.8m3.8 0h.8m-.1 0h.8m-.7 0h.8m.8 0h.8m1.9 0h.8m-.8 0h.8m2.5 0h.8m.5 0h.8m3.2 0h.8m.7 0h.8M2.7 16h.8m3.4 0h.8m.8 0h.8m1 0h.8m7.6 0h.8m8.4 0h.8m.1 0h.8m8.6 0h.8m3 0h.8m.9 0h.8m9.7 0h.8m-.7 0h.8m4 0h.8m.8 0h.8m1.3 0h.8m.9 0h.8m-.7 0h.8m3.4 0h.8m.1 0h.8m-.2 0h.8m-.8 0h.8m1.7 0h.8m1.6 0h.8m.8 0h.8m-.1 0h.8m1.9 0h.8m10.4 0h.8m-.3 0h.8m4 0h.8m.5 0h.8M1.4 16.6h.8m1 0h.8m-.4 0h.8m2.1 0h.8m-.3 0h.8m6.3 0h.8m6.7 0h.8m5.4 0h.8m-.3 0h.8m2.4 0h.8m2.3 0h.8m.1 0h.8m4.5 0h.8m5.6 0h.8m3.6 0h.8m1.2 0h.8m.9 0h.8m4.8 0h.8m.6 0h.8m.6 0h.8m-.3 0h.8m.5 0h.8m.3 0h.8m-.3 0h.8m-.6 0h.8m-.5 0h.8m1.1 0h.8m.4 0h.8m-.3 0h.8m1.1 0h.8m2.6 0h.8m7.5 0h.8m5.2 0h.8m-.7 0h.8m-.6 0h.8M.4 17.1h.8m4.7 0h.8m2.6 0h.8m5 0h.8m-.4 0h.8m2 0h.8m1.6 0h.8m.9 0h.8m-.6 0h.8m-.1 0h.8m.7 0h.8m.4 0h.8m4.5 0h.8m12.1 0h.8m8 0h.8m-.4 0h.8m3.5 0h.8m-.7 0h.8m4.4 0h.8m2.6 0h.8m5.7 0h.8m2.5 0h.8m-.2 0h.8m-.8 0h.8m5.3 0h.8m5 0h.8m7.6 0h.8m-.2 0h.8M.4 17.6h.8m-.8 0h.8m5.2 0h.8m1.7 0h.8m1.8 0h.8m1.5 0h.8m1.6 0h.8m2.6 0h.8m.3 0h.8m.3 0h.8m-.1 0h.8m4.4 0h.8m4.1 0h.8m.4 0h.8m3.9 0h.8m1 0h.8m18.4 0h.8m.8 0h.8m.2 0h.8m3.1 0h.8m-.6 0h.8m4.1 0h.8m-.5 0h.8m.3 0h.8m.6 0h.8m-.1 0h.8m2.1 0h.8m7.4 0h.8m.3 0h.8m3.4 0h.8M2.1 18.1h.8m1 0h.8m3.4 0h.8m2.8 0h.8m-.3 0h.8m-.7 0h.8m.2 0h.8m3 0h.8m10.3 0h.8m1.4 0h.8m1.1 0h.8m2.1 0h.8m.6 0h.8m4 0h.8m1.8 0h.8m7.7 0h.8m.8 0h.8m.6 0h.8m-.2 0h.8m1.1 0h.8m2.3 0h.8m-.5 0h.8m1.4 0h.8m.9 0h.8m-.4 0h.8m1 0h.8m-.2 0h.8m.6 0h.8m4 0h.8m2.5 0h.8m4.1 0h.8m2.9 0h.8m.2 0h.8M.7 18.7h.8m2.6 0h.8m4.9 0h.8m1.7 0h.8m0 0h.8m12.4 0h.8m4.7 0h.8m7.2 0h.8m7.1 0h.8m6.2 0h.8m.9 0h.8m.4 0h.8m1.7 0h.8m-.6 0h.8m-.7 0h.8m1 0h.8m.3 0h.8m-.5 0h.8m-.8 0h.8m.2 0h.8m.8 0h.8m.7 0h.8m-.7 0h.8m-.6 0h.8m7.4 0h.8m.4 0h.8m-.4 0h.8m-.8 0h.8m1 0h.8m1.1 0h.8m5.4 0h.8m9.7 0h.8M2.7 19.2h.8m.7 0h.8m6.5 0h.8m5.2 0h.8m.7 0h.8m.5 0h.8m-.6 0h.8m.9 0h.8m12.7 0h.8m.8 0h.8m11.8 0h.8m3 0h.8m4.9 0h.8m1.1 0h.8m-.5 0h.8m2.7 0h.8m.3 0h.8m.4 0h.8m.7 0h.8m1.8 0h.8m-.5 0h.8m.8 0h.8m-.3 0h.8m2.5 0h.8m-.4 0h.8m-.7 0h.8m-.5 0h.8m.2 0h.8m3.5 0h.8M2.2 19.7h.8m.9 0h.8m.2 0h.8m.4 0h.8m-.1 0h.8m1.8 0h.8m-.6 0h.8m2.2 0h.8m8.2 0h.8m4.6 0h.8m-.3 0h.8m-.3 0h.8m-.1 0h.8m1.4 0h.8m-.7 0h.8m.8 0h.8m5.6 0h.8m22.6 0h.8m-.1 0h.8m.5 0h.8m-.4 0h.8m1.1 0h.8m0 0h.8m-.3 0h.8m-.7 0h.8m-.1 0h.8m1.3 0h.8m1.3 0h.8m.6 0h.8m1.6 0h.8m2.8 0h.8m1.4 0h.8m1.1 0h.8m7.9 0h.8M1.3 20.3h.8m8.2 0h.8m.3 0h.8m.1 0h.8m1.1 0h.8m2.7 0h.8m-.4 0h.8m-.4 0h.8m-.3 0h.8m3.8 0h.8m1.7 0h.8m-.7 0h.8m4.4 0h.8m-.4 0h.8m1.6 0h.8m2.5 0h.8m.9 0h.8m6 0h.8m-.7 0h.8m6.7 0h.8m.6 0h.8m4.3 0h.8m2 0h.8m.6 0h.8m-.4 0h.8m5.3 0h.8m-.8 0h.8m5.1 0h.8m.6 0h.8m5 0h.8m3.1 0h.8m3 0h.8m3.4 0h.8m.8 0h.8m-.6 0h.8M.9 20.8h.8m3.2 0h.8m.8 0h.8m-.5 0h.8m.8 0h.8m1.7 0h.8m2.7 0h.8m.4 0h.8m3.6 0h.8m.4 0h.8m.9 0h.8m4.5 0h.8m-.6 0h.8m10.9 0h.8m6.5 0h.8m6.7 0h.8m3.3 0h.8m.2 0h.8m3.2 0h.8m3.7 0h.8m6.6 0h.8m3.6 0h.8m1.6 0h.8m.8 0h.8m12.1 0h.8m-.6 0h.8M1.6 21.3h.8m1.5 0h.8m2.4 0h.8m.3 0h.8m-.5 0h.8m1 0h.8m5.8 0h.8m-.2 0h.8m.7 0h.8m2.5 0h.8m11.2 0h.8m.7 0h.8m.3 0h.8m1.3 0h.8m1.9 0h.8m-.6 0h.8m2.4 0h.8m.8 0h.8m2.2 0h.8m1.4 0h.8m1.2 0h.8m3.7 0h.8m-.3 0h.8m1 0h.8m7.3 0h.8m-.8 0h.8m.7 0h.8m8.3 0h.8m-.5 0h.8m.2 0h.8m4.4 0h.8m1.1 0h.8m3.1 0h.8M8.3 21.8h.8m3.6 0h.8m3.7 0h.8m.6 0h.8m2.3 0h.8m5.7 0h.8m1.4 0h.8m2 0h.8m1.5 0h.8m-.4 0h.8m-.1 0h.8m-.5 0h.8m.6 0h.8m7.9 0h.8m5 0h.8m3.1 0h.8m4.4 0h.8m.4 0h.8m.4 0h.8m2.6 0h.8m-.6 0h.8m3.7 0h.8m-.6 0h.8m.5 0h.8m-.7 0h.8m-.3 0h.8m1.6 0h.8m1.3 0h.8m14.9 0h.8M1.6 22.4h.8m9.5 0h.8m.4 0h.8m1.5 0h.8m1.4 0h.8m6.1 0h.8m2.2 0h.8m7.6 0h.8m.1 0h.8m-.6 0h.8m1.2 0h.8m1.8 0h.8m6 0h.8m-.5 0h.8m3.7 0h.8m1.3 0h.8m1.2 0h.8m-.5 0h.8m1 0h.8m3.2 0h.8m.3 0h.8m1.1 0h.8m2.4 0h.8m1.3 0h.8m.4 0h.8m.2 0h.8m-.5 0h.8m2.7 0h.8m2 0h.8m.6 0h.8m.8 0h.8m9.2 0h.8M2.5 22.9h.8m1.8 0h.8m2 0h.8m.3 0h.8m.3 0h.8m.1 0h.8m.6 0h.8m6.6 0h.8m2.3 0h.8m.1 0h.8m.1 0h.8m-.5 0h.8m1.9 0h.8m-.6 0h.8m.6 0h.8m9 0h.8m4.2 0h.8m2.9 0h.8m7.7 0h.8m1.8 0h.8m6.7 0h.8m0 0h.8m3.1 0h.8m.2 0h.8m2.5 0h.8m4.2 0h.8m-.4 0h.8m.5 0h.8M1.1 23.4h.8m-.6 0h.8m1.9 0h.8m.8 0h.8m-.6 0h.8m2.1 0h.8m1.5 0h.8m2 0h.8m3.6 0h.8m.4 0h.8m1.6 0h.8m1.8 0h.8m3.6 0h.8m1.2 0h.8m.4 0h.8m0 0h.8m1.7 0h.8m1.4 0h.8m10.1 0h.8m-.2 0h.8m1.9 0h.8m5 0h.8m2.6 0h.8m1.3 0h.8m6 0h.8m2.1 0h.8m1.3 0h.8m-.4 0h.8m.6 0h.8m2.1 0h.8m.1 0h.8m.9 0h.8m7 0h.8m7.1 0h.8M2.2 23.9h.8m1 0h.8m12.1 0h.8m2.1 0h.8m1.1 0h.8m-.2 0h.8m.9 0h.8m.7 0h.8m2.9 0h.8m-.1 0h.8m6.6 0h.8m3.8 0h.8m9.2 0h.8m.5 0h.8m1.8 0h.8m.8 0h.8m1.3 0h.8m1.1 0h.8m2.4 0h.8m2.6 0h.8m8 0h.8m-.4 0h.8m5.3 0h.8m-.3 0h.8m4.7 0h.8m6.1 0h.8m.1 0h.8M1.1 24.5h.8m6.3 0h.8m1.5 0h.8m7.8 0h.8m3.5 0h.8m4.6 0h.8m2.2 0h.8m-.6 0h.8m2.5 0h.8m2.9 0h.8m6 0h.8m3.8 0h.8m3 0h.8m5.2 0h.8m1.4 0h.8m-.2 0h.8m.4 0h.8m.6 0h.8m-.7 0h.8m3.4 0h.8m1.2 0h.8m4.1 0h.8m4.5 0h.8m1.4 0h.8m10.2 0h.8M4.7 25h.8m2 0h.8m1.4 0h.8m.2 0h.8m0 0h.8m8.1 0h.8m1.3 0h.8m.7 0h.8m1.4 0h.8m1 0h.8m.9 0h.8m0 0h.8m.3 0h.8m5 0h.8m5 0h.8m2 0h.8m-.3 0h.8m8.3 0h.8m1 0h.8m-.1 0h.8m-.1 0h.8m1.9 0h.8m1.6 0h.8m1.3 0h.8m.4 0h.8m-.3 0h.8m-.6 0h.8m1.2 0h.8m.3 0h.8m2.2 0h.8m4.9 0h.8M2.4 25.5h.8m.7 0h.8m1.4 0h.8m5.7 0h.8m.8 0h.8m-.3 0h.8m0 0h.8m-.7 0h.8m4.6 0h.8m.3 0h.8m5.7 0h.8m.9 0h.8m-.3 0h.8m11.1 0h.8m6.2 0h.8m3.4 0h.8m1.8 0h.8m2.2 0h.8m-.5 0h.8m4.6 0h.8m5.3 0h.8m3.7 0h.8m-.1 0h.8m4.4 0h.8m7.5 0h.8m2.6 0h.8M5.3 26h.8m4 0h.8m1.5 0h.8m3.7 0h.8m1.4 0h.8m-.6 0h.8m-.6 0h.8m4.7 0h.8m4.8 0h.8m7 0h.8m.9 0h.8m.7 0h.8m-.4 0h.8m6.6 0h.8m3.5 0h.8m.7 0h.8m2.7 0h.8m.3 0h.8m1.7 0h.8m-.3 0h.8m3.2 0h.8m-.5 0h.8m1.1 0h.8m.1 0h.8m2.1 0h.8m3.9 0h.8m14.3 0h.8m4.2 0h.8" stroke="#111" stroke-width="0.55" fill="none"/>
<line x1="295.2" y1="328.3" x2="295.2" y2="354.6" stroke="#d2492a" stroke-width="1.1"/>
<polyline points="315,354.3 318.2,344.3 321.7,335.3 324.6,328.8" fill="none" stroke="#4f5fc8" stroke-width="0.6"/>
<path d="M362.7 328.7h-1.3v25.5h1.3" fill="none" stroke="#222" stroke-width="0.9"/>
<path d="M261.7 361.6L265.5 361.3L269 364.2L272.5 366.9L276 367.7L279.5 368.3L282.2 369.5L285.7 366.5L289.2 367.2L292.7 365.1L297 361.6L300.2 365.1L304.1 369.5L307.6 371.8L311.1 372.1L314.6 371.3L318.1 369.5L321.6 366L325.1 362.5L329.5 361.3L333.5 359.9L336.5 362L340.8 363.4L344.3 365.1L347.9 366L350.5 366L353.1 369L356.6 369.5L361.8 370.4L361.8 375.2L356.6 374.3L353.1 373.8L350.5 370.8L347.9 370.8L344.3 369.9L340.8 368.2L336.5 366.8L333.5 364.7L329.5 366.1L325.1 367.3L321.6 370.8L318.1 374.3L314.6 376.1L311.1 376.9L307.6 376.6L304.1 374.3L300.2 369.9L297 366.4L292.7 369.9L289.2 372L285.7 371.3L282.2 374.3L279.5 373.1L276 372.5L272.5 371.7L269 369L265.5 366.1L261.7 366.4Z" fill="#86dc90" fill-opacity="0.6"/>
<path d="M261.7 362.9L264.6 364.1L268.1 364.6L271.6 364.1L275.1 362.9L278.7 364.6L282.2 366.4L285.7 365.2L289.2 366.4L292.7 365.5L297 362.9L300.2 365.5L304.1 369L307.6 371.7L311.1 372.2L314.6 371.1L318.1 368.1L320.7 364.6L325.1 362.9L329.5 361.1L333.5 358.5L336.5 361.1L340.8 363.8L344.3 366.4L347.9 368.7L351.4 370.4L354.9 369.4L358.4 370.4L361.8 370.4L361.8 374.4L358.4 374.4L354.9 373.4L351.4 374.4L347.9 372.7L344.3 370.4L340.8 367.8L336.5 365.1L333.5 362.5L329.5 365.1L325.1 366.9L320.7 368.6L318.1 372.1L314.6 375.1L311.1 376.2L307.6 375.7L304.1 373L300.2 369.5L297 366.9L292.7 369.5L289.2 370.4L285.7 369.2L282.2 370.4L278.7 368.6L275.1 366.9L271.6 368.1L268.1 368.6L264.6 368.1L261.7 366.9Z" fill="#5f9464" fill-opacity="0.45"/>
<path d="M261.7 364C262.3 364 264.3 363.2 265.5 363.7C266.7 364.1 267.8 365.7 269 366.6C270.2 367.6 271.4 368.7 272.5 369.3C273.7 369.9 274.9 369.9 276 370.1C277.2 370.4 278.5 370.4 279.5 370.7C280.5 371 281.1 372.2 282.2 371.9C283.2 371.6 284.5 369.3 285.7 368.9C286.8 368.5 288 369.9 289.2 369.6C290.3 369.4 291.4 368.5 292.7 367.5C294 366.6 295.8 364 297 364C298.3 364 299 366.2 300.2 367.5C301.4 368.8 302.8 370.8 304.1 371.9C305.3 373 306.4 373.7 307.6 374.2C308.7 374.6 309.9 374.6 311.1 374.5C312.2 374.4 313.4 374.1 314.6 373.7C315.7 373.2 316.9 372.8 318.1 371.9C319.2 371 320.4 369.6 321.6 368.4C322.7 367.2 323.8 365.7 325.1 364.9C326.4 364.1 328.1 364.1 329.5 363.7C330.9 363.2 332.3 362.1 333.5 362.3C334.7 362.4 335.2 363.8 336.5 364.4C337.7 364.9 339.5 365.2 340.8 365.8C342.2 366.3 343.2 367.1 344.3 367.5C345.5 368 346.8 368.2 347.9 368.4C348.9 368.5 349.6 367.9 350.5 368.4C351.4 368.9 352.1 370.8 353.1 371.4C354.1 372 355.2 371.7 356.6 371.9C358.1 372.1 360.9 372.6 361.8 372.8" fill="none" stroke="#35c04a" stroke-width="1.0"/>
<path d="M261.7 364.9C262.2 365.1 263.6 365.8 264.6 366.1C265.7 366.4 267 366.6 268.1 366.6C269.3 366.6 270.5 366.4 271.6 366.1C272.8 365.8 274 364.8 275.1 364.9C276.3 365 277.5 366.1 278.7 366.6C279.8 367.2 281 368.3 282.2 368.4C283.3 368.5 284.5 367.2 285.7 367.2C286.8 367.2 288 368.3 289.2 368.4C290.3 368.5 291.4 368.1 292.7 367.5C294 366.9 295.8 364.9 297 364.9C298.3 364.9 299 366.5 300.2 367.5C301.4 368.5 302.8 370 304.1 371C305.3 372 306.4 373.1 307.6 373.7C308.7 374.2 309.9 374.3 311.1 374.2C312.2 374.1 313.4 373.8 314.6 373.1C315.7 372.5 317 371.2 318.1 370.1C319.1 369.1 319.5 367.5 320.7 366.6C321.9 365.8 323.6 365.5 325.1 364.9C326.5 364.3 328.1 363.9 329.5 363.1C330.9 362.4 332.3 360.5 333.5 360.5C334.7 360.5 335.2 362.3 336.5 363.1C337.7 364 339.5 364.9 340.8 365.8C342.2 366.6 343.2 367.6 344.3 368.4C345.5 369.2 346.7 370 347.9 370.7C349 371.3 350.2 372.3 351.4 372.4C352.5 372.5 353.7 371.4 354.9 371.4C356 371.4 357.2 372.2 358.4 372.4C359.5 372.6 361.2 372.4 361.8 372.4" fill="none" stroke="#1a3a20" stroke-width="1.4"/>
<line x1="261.7" y1="355.3" x2="261.7" y2="380" stroke="#3a3a3a" stroke-width="1.1"/>
<line x1="261.2" y1="379.5" x2="362.4" y2="379.5" stroke="#3a3a3a" stroke-width="1.1"/>
<path d="M261.7 361.4h-1.8M261.7 372.8h-1.8M261.7 379.5v2M278.4 379.5v2M295.2 379.5v2M311.9 379.5v2M328.6 379.5v2M345.4 379.5v2M362.1 379.5v2" stroke="#3a3a3a" stroke-width="0.8" fill="none"/>
<path transform="translate(261.7 390.8)" d="M.1 .3h.8m.4 0h.8m5.7 0h.8m1.5 0h.8m7.5 0h.8m-.5 0h.8m1.7 0h.8m.4 0h.8m-.3 0h.8m-.8 0h.8m2.1 0h.8m.5 0h.8m-.1 0h.8m1 0h.8m0 0h.8m7.4 0h.8m-.4 0h.8m7.8 0h.8m1.5 0h.8m1.2 0h.8m6.2 0h.8m5.5 0h.8m7.2 0h.8m.3 0h.8m-.6 0h.8m-.3 0h.8m7.4 0h.8m.5 0h.8m2.1 0h.8m.4 0h.8m.3 0h.8m1 0h.8m.5 0h.8m-.6 0h.8m.5 0h.8M4.6 .8h.8m2.7 0h.8m-.6 0h.8m-.6 0h.8m2.2 0h.8m8.2 0h.8m.3 0h.8m-.1 0h.8m1.2 0h.8m1.3 0h.8m3.1 0h.8m.5 0h.8m2.6 0h.8m2.2 0h.8m.6 0h.8m1.3 0h.8m-.3 0h.8m1.5 0h.8m3.6 0h.8m15.3 0h.8m3.9 0h.8m1.5 0h.8m3.2 0h.8m2.5 0h.8m1 0h.8m-.6 0h.8m-.1 0h.8m.2 0h.8m3.7 0h.8m4.8 0h.8M.1 1.3h.8m.1 0h.8m.3 0h.8m4.3 0h.8m1.4 0h.8m-.6 0h.8m1.4 0h.8m.2 0h.8m14 0h.8m1 0h.8m4.3 0h.8m3 0h.8m.6 0h.8m6.5 0h.8m1.9 0h.8m4.9 0h.8m6.9 0h.8m.5 0h.8m2 0h.8m1.3 0h.8m3.8 0h.8m-.6 0h.8m-.5 0h.8m.6 0h.8m-.6 0h.8m9.5 0h.8M6.1 1.8h.8m.2 0h.8m6.7 0h.8m-.6 0h.8m-.7 0h.8m2.3 0h.8m.5 0h.8m.5 0h.8m-.6 0h.8m5.1 0h.8m.2 0h.8m1.9 0h.8m1.4 0h.8m1 0h.8m3.4 0h.8m1 0h.8m1.8 0h.8m2.7 0h.8m15.5 0h.8m.6 0h.8m2.4 0h.8m1.9 0h.8m.2 0h.8m-.6 0h.8m1.3 0h.8m1.6 0h.8m.4 0h.8m2.1 0h.8m0 0h.8m-.7 0h.8m-.7 0h.8m3.1 0h.8m-.4 0h.8m.6 0h.8m.5 0h.8m3.1 0h.8M1.6 2.4h.8m.6 0h.8m-.2 0h.8m1.6 0h.8m5.5 0h.8m1.3 0h.8m3.8 0h.8m15.3 0h.8m.4 0h.8m0 0h.8m.5 0h.8m.5 0h.8m.2 0h.8m-.2 0h.8m15 0h.8m1.4 0h.8m4.8 0h.8m2.9 0h.8m1.3 0h.8m.7 0h.8m.1 0h.8m3.3 0h.8m.7 0h.8m1.8 0h.8m.9 0h.8m-.7 0h.8m-.5 0h.8m.7 0h.8m-.8 0h.8m-.8 0h.8m3 0h.8m.6 0h.8m2.8 0h.8m.5 0h.8m1 0h.8M1.7 2.9h.8m1.9 0h.8m.4 0h.8m-.3 0h.8m.3 0h.8m-.2 0h.8m0 0h.8m-.7 0h.8m.2 0h.8m1.7 0h.8m4.5 0h.8m-.5 0h.8m2 0h.8m-.6 0h.8m1.6 0h.8m2.2 0h.8m.2 0h.8m1.3 0h.8m-.3 0h.8m.7 0h.8m2 0h.8m2.1 0h.8m0 0h.8m1.9 0h.8m3.3 0h.8m.3 0h.8m6.9 0h.8m1.8 0h.8m5.2 0h.8m2.4 0h.8m1.6 0h.8m2.3 0h.8m1.6 0h.8m5.8 0h.8m4.7 0h.8m1.8 0h.8m7.1 0h.8M.5 3.4h.8m2.4 0h.8m.2 0h.8m-.2 0h.8m3.1 0h.8m-.4 0h.8m1.8 0h.8m9.5 0h.8m.1 0h.8m-.6 0h.8m1.5 0h.8m1.5 0h.8m8.6 0h.8m-.7 0h.8m.2 0h.8m.3 0h.8m.3 0h.8m.2 0h.8m1.1 0h.8m1.8 0h.8m7.5 0h.8m2.4 0h.8m1.4 0h.8m2.9 0h.8m-.7 0h.8m-.6 0h.8m10.7 0h.8m-.6 0h.8m0 0h.8m3.5 0h.8m2.5 0h.8m.7 0h.8m3.3 0h.8m1 0h.8m1.6 0h.8M.5 3.9h.8m1.6 0h.8m-.6 0h.8m8.3 0h.8m7.2 0h.8m7.9 0h.8m2.2 0h.8m1 0h.8m.3 0h.8m1.8 0h.8m-.7 0h.8m3.3 0h.8m8.1 0h.8m9.7 0h.8m1.3 0h.8m1.7 0h.8m.6 0h.8m1.7 0h.8m2.1 0h.8m0 0h.8m-.1 0h.8m2.3 0h.8m-.5 0h.8m-.2 0h.8m1.7 0h.8m1.4 0h.8m2.2 0h.8m0 0h.8m4.7 0h.8M.1 4.5h.8m4.7 0h.8m.4 0h.8m6.9 0h.8m-.6 0h.8m7.3 0h.8m1.3 0h.8m-.4 0h.8m1.3 0h.8m1.3 0h.8m1.2 0h.8m-.4 0h.8m8.5 0h.8m-.7 0h.8m20.6 0h.8m6.5 0h.8m-.3 0h.8m0 0h.8m.1 0h.8m1.5 0h.8m0 0h.8m-.6 0h.8m.2 0h.8m6.8 0h.8m1.2 0h.8m.7 0h.8m9.6 0h.8M2.5 5h.8m1.9 0h.8m-.7 0h.8m-.2 0h.8m5.8 0h.8m-.1 0h.8m-.8 0h.8m-.1 0h.8m2.1 0h.8m3.3 0h.8m1.1 0h.8m.9 0h.8m-.8 0h.8m2.9 0h.8m5.8 0h.8m.1 0h.8m1 0h.8m.2 0h.8m1.7 0h.8m5.6 0h.8m7.2 0h.8m1 0h.8m10.8 0h.8m1.2 0h.8m.2 0h.8m-.8 0h.8m1.8 0h.8m.6 0h.8m.9 0h.8m-.3 0h.8m.9 0h.8m-.5 0h.8m1.1 0h.8m0 0h.8m2.4 0h.8m2.2 0h.8m-.7 0h.8m.9 0h.8M1 5.5h.8m-.4 0h.8m.4 0h.8m-.1 0h.8m-.1 0h.8m-.5 0h.8m.6 0h.8m2.4 0h.8m-.1 0h.8m-.7 0h.8m13.9 0h.8m3.9 0h.8m2.3 0h.8m-.7 0h.8m25.5 0h.8m4.8 0h.8m-.2 0h.8m.7 0h.8m2.8 0h.8m.3 0h.8m3.4 0h.8m4 0h.8m.8 0h.8m.1 0h.8m.1 0h.8m-.8 0h.8m3.1 0h.8m.3 0h.8m4.4 0h.8m1.8 0h.8M.3 6h.8m.7 0h.8m-.2 0h.8m-.2 0h.8m.4 0h.8m-.4 0h.8m4 0h.8m-.4 0h.8m2.6 0h.8m.4 0h.8m3 0h.8m3.6 0h.8m.8 0h.8m2.3 0h.8m-.2 0h.8m-.1 0h.8m0 0h.8m2 0h.8m-.3 0h.8m3.5 0h.8m3.1 0h.8m3.9 0h.8m2 0h.8m.2 0h.8m8.6 0h.8m.4 0h.8m.5 0h.8m1.5 0h.8m8.2 0h.8m1.1 0h.8m10.6 0h.8m-.6 0h.8m3.4 0h.8m1.5 0h.8M.8 6.6h.8m2.4 0h.8m-.7 0h.8m-.1 0h.8m1.4 0h.8m-.2 0h.8m.1 0h.8m-.7 0h.8m.6 0h.8m2.3 0h.8m1 0h.8m0 0h.8m6.5 0h.8m1 0h.8m3.6 0h.8m7.2 0h.8m-.6 0h.8m3.7 0h.8m1.6 0h.8m2.9 0h.8m5.4 0h.8m13 0h.8m-.2 0h.8m2.8 0h.8m.1 0h.8m-.3 0h.8m1.7 0h.8m.4 0h.8m.9 0h.8m-.6 0h.8m.7 0h.8m4.7 0h.8m7.7 0h.8m-.1 0h.8m0 0h.8m-.4 0h.8m.6 0h.8M1.7 7.1h.8m.6 0h.8m-.4 0h.8m2.3 0h.8m2.8 0h.8m2.4 0h.8m-.7 0h.8m.1 0h.8m.5 0h.8m.5 0h.8m.3 0h.8m1.2 0h.8m1.9 0h.8m4.1 0h.8m3.7 0h.8m3.3 0h.8m3.2 0h.8m2.4 0h.8m.3 0h.8m22.2 0h.8m.2 0h.8m2.2 0h.8m-.2 0h.8m2 0h.8m-.8 0h.8m0 0h.8m-.5 0h.8m5.1 0h.8m-.4 0h.8m-.3 0h.8m4.5 0h.8m.2 0h.8m-.7 0h.8m.1 0h.8m1.2 0h.8m-.4 0h.8m1.2 0h.8M7.2 7.6h.8m.3 0h.8m.8 0h.8m0 0h.8m-.6 0h.8m3.5 0h.8m-.7 0h.8m2 0h.8m.3 0h.8m4.2 0h.8m1.1 0h.8m.1 0h.8m12.8 0h.8m8.8 0h.8m7.4 0h.8m4 0h.8m.9 0h.8m3.2 0h.8m.3 0h.8m-.1 0h.8m-.8 0h.8m2.5 0h.8m-.6 0h.8m0 0h.8m2.4 0h.8m-.1 0h.8m2.1 0h.8m-.5 0h.8m2.6 0h.8m-.1 0h.8m1.3 0h.8m-.7 0h.8m-.7 0h.8m3.6 0h.8m4 0h.8M1.4 8.2h.8m.8 0h.8m.9 0h.8m7.8 0h.8m1.6 0h.8m3.5 0h.8m.1 0h.8m-.3 0h.8m-.7 0h.8m1 0h.8m.6 0h.8m2.4 0h.8m-.8 0h.8m-.8 0h.8m2.2 0h.8m.8 0h.8m1.5 0h.8m-.7 0h.8m3.5 0h.8m1.3 0h.8m-.3 0h.8m-.2 0h.8m12.2 0h.8m2.8 0h.8m3 0h.8m.5 0h.8m1 0h.8m0 0h.8m3.5 0h.8m12 0h.8m2.7 0h.8m1.6 0h.8m2.7 0h.8m.3 0h.8m-.5 0h.8m.3 0h.8m1.2 0h.8M4.7 8.7h.8m1.1 0h.8m-.4 0h.8m.7 0h.8m-.2 0h.8m1.6 0h.8m2.6 0h.8m.2 0h.8m1 0h.8m.8 0h.8m1.7 0h.8m.1 0h.8m4.3 0h.8m0 0h.8m8.4 0h.8m-.7 0h.8m7.8 0h.8m1.5 0h.8m5.9 0h.8m7.9 0h.8m0 0h.8m-.4 0h.8m.2 0h.8m-.4 0h.8m-.1 0h.8m3.6 0h.8m0 0h.8m.6 0h.8m-.5 0h.8m.4 0h.8m-.6 0h.8m.5 0h.8m3.8 0h.8M.2 9.2h.8m4.9 0h.8m-.7 0h.8m-.8 0h.8m.5 0h.8m5 0h.8m2.9 0h.8m1.7 0h.8m-.7 0h.8m.7 0h.8m3.8 0h.8m.1 0h.8m.3 0h.8m3.6 0h.8m-.7 0h.8m3.3 0h.8m.8 0h.8m.2 0h.8m4.1 0h.8m4.1 0h.8m12.1 0h.8m.4 0h.8m9.2 0h.8m.7 0h.8m-.4 0h.8m.9 0h.8m-.5 0h.8m2.2 0h.8m1.9 0h.8m-.2 0h.8m2 0h.8m-.5 0h.8m1.6 0h.8m.6 0h.8M.3 9.7h.8m.1 0h.8m-.1 0h.8m1.1 0h.8m.4 0h.8m.1 0h.8m.3 0h.8m2.4 0h.8m5.5 0h.8m1.1 0h.8m3.5 0h.8m0 0h.8m4.8 0h.8m4 0h.8m6.4 0h.8m4.8 0h.8m6.1 0h.8m8.2 0h.8m2.1 0h.8m1.7 0h.8m1.7 0h.8m-.4 0h.8m-.2 0h.8m.3 0h.8m2.9 0h.8m1.9 0h.8m1 0h.8m-.4 0h.8m1.2 0h.8m3.2 0h.8m1.6 0h.8m-.1 0h.8m.8 0h.8m.6 0h.8m.6 0h.8M6.9 10.3h.8m6.8 0h.8m-.5 0h.8m-.8 0h.8m5.5 0h.8m3.3 0h.8m4.4 0h.8m2.2 0h.8m1.1 0h.8m-.6 0h.8m2.2 0h.8m1.7 0h.8m-.7 0h.8m-.3 0h.8m1.4 0h.8m.1 0h.8m8.3 0h.8m1.5 0h.8m2.2 0h.8m-.3 0h.8m-.6 0h.8m.8 0h.8m2.4 0h.8m3.9 0h.8m0 0h.8m-.7 0h.8m2.1 0h.8m-.6 0h.8m.3 0h.8m1 0h.8m1.1 0h.8m.6 0h.8m.7 0h.8m.8 0h.8m-.2 0h.8m1.7 0h.8m-.5 0h.8M6.2 10.8h.8m1.6 0h.8m.4 0h.8m-.1 0h.8m-.6 0h.8m-.6 0h.8m2.5 0h.8m10.8 0h.8m3 0h.8m1.7 0h.8m.6 0h.8m3.5 0h.8m1.3 0h.8m4.2 0h.8m20.1 0h.8m-.5 0h.8m2.2 0h.8m1.9 0h.8m.6 0h.8m-.6 0h.8m.7 0h.8m.8 0h.8m1.7 0h.8m-.4 0h.8m-.2 0h.8m1 0h.8m-.4 0h.8m5 0h.8m-.3 0h.8M3.1 11.3h.8m.4 0h.8m1.2 0h.8m1.4 0h.8m.6 0h.8m3 0h.8m.1 0h.8m-.6 0h.8m5.7 0h.8m4.6 0h.8m5 0h.8m9.5 0h.8m13 0h.8m.2 0h.8m1.6 0h.8m1.2 0h.8m0 0h.8m1 0h.8m2.5 0h.8m1.3 0h.8m-.1 0h.8m.3 0h.8m.1 0h.8m-.2 0h.8m1.3 0h.8m2.2 0h.8m1 0h.8m-.6 0h.8m9.5 0h.8m.3 0h.8m.7 0h.8m-.4 0h.8m2.9 0h.8M2.5 11.8h.8m.4 0h.8m-.7 0h.8m3.4 0h.8m-.5 0h.8m1.1 0h.8m-.3 0h.8m-.6 0h.8m-.2 0h.8m5 0h.8m.2 0h.8m-.3 0h.8m.7 0h.8m2.1 0h.8m2.3 0h.8m2.5 0h.8m3.2 0h.8m5.7 0h.8m8.4 0h.8m6.1 0h.8m2.9 0h.8m1.4 0h.8m2.5 0h.8m4.1 0h.8m1.3 0h.8m-.2 0h.8m-.6 0h.8m-.1 0h.8m1.6 0h.8m1.7 0h.8m2.3 0h.8m.7 0h.8m.4 0h.8m1.7 0h.8m3.5 0h.8m1.6 0h.8M9.2 12.4h.8m.3 0h.8m.8 0h.8m5.5 0h.8m-.3 0h.8m1.4 0h.8m.8 0h.8m.8 0h.8m.8 0h.8m3.5 0h.8m1.7 0h.8m1.4 0h.8m3.3 0h.8m1 0h.8m-.2 0h.8m1.9 0h.8m-.1 0h.8m11.3 0h.8m9.3 0h.8m.8 0h.8m2.5 0h.8m5.2 0h.8m1.4 0h.8m.2 0h.8m-.7 0h.8m-.5 0h.8m2.4 0h.8m-.4 0h.8m10.4 0h.8M2 12.9h.8m-.2 0h.8m-.8 0h.8m.8 0h.8m2.4 0h.8m-.7 0h.8m-.4 0h.8m.9 0h.8m1.7 0h.8m-.6 0h.8m1.2 0h.8m-.6 0h.8m1.9 0h.8m1.6 0h.8m-.1 0h.8m-.3 0h.8m1.2 0h.8m2.6 0h.8m1.7 0h.8m3.9 0h.8m3.6 0h.8m.4 0h.8m1.2 0h.8m16.1 0h.8m7.4 0h.8m2.4 0h.8m.4 0h.8m1.3 0h.8m2.1 0h.8m.1 0h.8m-.6 0h.8m4 0h.8m6.6 0h.8m.6 0h.8m.8 0h.8m3.3 0h.8M5.6 13.4h.8m7.8 0h.8m1 0h.8m2.2 0h.8m3.5 0h.8m4 0h.8m1.3 0h.8m2.9 0h.8m-.5 0h.8m2.4 0h.8m1.4 0h.8m14.5 0h.8m6.3 0h.8m1.6 0h.8m-.5 0h.8m1.5 0h.8m.9 0h.8m.9 0h.8m-.6 0h.8m-.2 0h.8m.2 0h.8m1 0h.8m-.8 0h.8m-.7 0h.8m-.1 0h.8m-.5 0h.8m-.4 0h.8m2.8 0h.8m0 0h.8m.1 0h.8m-.3 0h.8m.7 0h.8m3.8 0h.8m-.7 0h.8m1 0h.8m4.6 0h.8M.6 13.9h.8m.2 0h.8m-.1 0h.8m1.2 0h.8m.1 0h.8m6.1 0h.8m4.1 0h.8m.9 0h.8m3.4 0h.8m2 0h.8m8.7 0h.8m.6 0h.8m-.4 0h.8m7.5 0h.8m1 0h.8m4.6 0h.8m6.9 0h.8m1.6 0h.8m1.8 0h.8m1.2 0h.8m-.4 0h.8m2.8 0h.8m.5 0h.8m-.5 0h.8m1.7 0h.8m.4 0h.8m1.5 0h.8m-.3 0h.8m4.3 0h.8m3.3 0h.8m-.2 0h.8m.3 0h.8m1.5 0h.8m.7 0h.8m1.8 0h.8M4.8 14.5h.8m.3 0h.8m.5 0h.8m-.8 0h.8m-.3 0h.8m2.5 0h.8m3.7 0h.8m0 0h.8m3 0h.8m.1 0h.8m-.8 0h.8m7.4 0h.8m0 0h.8m4.2 0h.8m-.6 0h.8m.3 0h.8m4 0h.8m.8 0h.8m13.5 0h.8m-.2 0h.8m8.3 0h.8m4.2 0h.8m.2 0h.8m-.6 0h.8m1.2 0h.8m0 0h.8m.2 0h.8m1.6 0h.8m0 0h.8m-.5 0h.8m.4 0h.8m5.8 0h.8m4.9 0h.8M9.6 15h.8m0 0h.8m3.5 0h.8m1.8 0h.8m-.6 0h.8m6.8 0h.8m1.2 0h.8m1 0h.8m-.4 0h.8m3.9 0h.8m.9 0h.8m9.4 0h.8m5.3 0h.8m2.7 0h.8m.3 0h.8m.1 0h.8m.9 0h.8m1.8 0h.8m6.9 0h.8m1.3 0h.8m2.4 0h.8m.3 0h.8m4.7 0h.8m-.7 0h.8m-.3 0h.8m-.4 0h.8m2 0h.8m-.7 0h.8m5.1 0h.8m.3 0h.8m-.4 0h.8m-.2 0h.8m.3 0h.8m1 0h.8m-.8 0h.8m-.1 0h.8M1.7 15.5h.8m2.5 0h.8m5.6 0h.8m2.3 0h.8m6.6 0h.8m2.1 0h.8m5.5 0h.8m0 0h.8m1.1 0h.8m-.1 0h.8m.7 0h.8m5.8 0h.8m2.9 0h.8m14.3 0h.8m.2 0h.8m0 0h.8m5.9 0h.8m.1 0h.8m-.6 0h.8m2.9 0h.8m-.3 0h.8m2.8 0h.8m-.2 0h.8m.5 0h.8m-.4 0h.8m6.1 0h.8m8.1 0h.8m-.6 0h.8M3.5 16h.8m-.3 0h.8m2.5 0h.8m-.7 0h.8m0 0h.8m.7 0h.8m-.7 0h.8m13.8 0h.8m1.5 0h.8m5.3 0h.8m1.6 0h.8m5.4 0h.8m2.8 0h.8m9.3 0h.8m6.4 0h.8m4.9 0h.8m-.1 0h.8m.6 0h.8m-.1 0h.8m.4 0h.8m.3 0h.8m-.4 0h.8m0 0h.8m.2 0h.8m2.3 0h.8m7.8 0h.8m9.2 0h.8M5 16.6h.8m2.5 0h.8m.9 0h.8m-.4 0h.8m-.3 0h.8m3.2 0h.8m2.4 0h.8m0 0h.8m-.6 0h.8m1.4 0h.8m1.7 0h.8m-.1 0h.8m2.6 0h.8m7.7 0h.8m-.1 0h.8m.4 0h.8m.5 0h.8m3 0h.8m13.7 0h.8m2.1 0h.8m.8 0h.8m3.1 0h.8m.6 0h.8m2.6 0h.8m-.5 0h.8m.5 0h.8m2.9 0h.8m-.6 0h.8m4.6 0h.8m.1 0h.8m5.7 0h.8m2.9 0h.8m.2 0h.8M1.2 17.1h.8m.8 0h.8m.5 0h.8m2.6 0h.8m.1 0h.8m2.7 0h.8m.8 0h.8m2 0h.8m-.2 0h.8m4.8 0h.8m1.8 0h.8m8.6 0h.8m-.4 0h.8m.2 0h.8m4.7 0h.8m7.2 0h.8m2.9 0h.8m-.3 0h.8m3.9 0h.8m.6 0h.8m2.9 0h.8m3.7 0h.8m.6 0h.8m.3 0h.8m.1 0h.8m-.3 0h.8m-.5 0h.8m9.3 0h.8m8.6 0h.8m2.3 0h.8M3.9 17.6h.8m-.1 0h.8m-.8 0h.8m2.3 0h.8m12.6 0h.8m-.2 0h.8m1.9 0h.8m2 0h.8m.3 0h.8m.3 0h.8m.4 0h.8m-.2 0h.8m4.7 0h.8m.7 0h.8m-.3 0h.8m.3 0h.8m14.9 0h.8m5.8 0h.8m.5 0h.8m2.5 0h.8m2.8 0h.8m1.3 0h.8m-.7 0h.8m-.5 0h.8m9.6 0h.8m.9 0h.8m-.7 0h.8m1.8 0h.8m-.1 0h.8m4 0h.8M1.2 18.1h.8m4.5 0h.8m.7 0h.8m.9 0h.8m4.8 0h.8m1.1 0h.8m2.9 0h.8m-.1 0h.8m-.5 0h.8m.9 0h.8m.6 0h.8m0 0h.8m7.9 0h.8m-.7 0h.8m2 0h.8m14.7 0h.8m13 0h.8m1.6 0h.8m-.8 0h.8m0 0h.8m-.3 0h.8m-.5 0h.8m2.4 0h.8m.3 0h.8m1.2 0h.8m1.1 0h.8m-.2 0h.8m-.3 0h.8m4.9 0h.8m2.1 0h.8m1.8 0h.8m5.5 0h.8M.3 18.7h.8m-.5 0h.8m4.4 0h.8m.6 0h.8m1.8 0h.8m-.6 0h.8m3.3 0h.8m-.2 0h.8m3 0h.8m1.2 0h.8m7.9 0h.8m8.9 0h.8m-.3 0h.8m10 0h.8m9 0h.8m-.2 0h.8m.7 0h.8m.1 0h.8m-.1 0h.8m-.7 0h.8m-.3 0h.8m.4 0h.8m.4 0h.8m.4 0h.8m-.8 0h.8m-.1 0h.8m.1 0h.8m-.2 0h.8m.7 0h.8m3.4 0h.8m3.4 0h.8m6.3 0h.8m7.7 0h.8m1.2 0h.8M.2 19.2h.8m2 0h.8m-.4 0h.8m1.5 0h.8m2.7 0h.8m1 0h.8m3.6 0h.8m4.6 0h.8m2.1 0h.8m1.4 0h.8m1.7 0h.8m3.6 0h.8m-.2 0h.8m5.4 0h.8m7.7 0h.8m.4 0h.8m2.8 0h.8m7.7 0h.8m-.2 0h.8m-.4 0h.8m3.4 0h.8m-.2 0h.8m-.3 0h.8m4.6 0h.8m.5 0h.8m.1 0h.8m.2 0h.8m-.7 0h.8m5.4 0h.8m1.6 0h.8m5.3 0h.8m3 0h.8m.2 0h.8M1.3 19.7h.8m.1 0h.8m.8 0h.8m4.6 0h.8m1.2 0h.8m4.9 0h.8m-.4 0h.8m-.5 0h.8m.5 0h.8m4.5 0h.8m-.6 0h.8m3.3 0h.8m5.5 0h.8m1.2 0h.8m-.5 0h.8m2.1 0h.8m-.1 0h.8m16.4 0h.8m2.4 0h.8m3.1 0h.8m-.2 0h.8m2.3 0h.8m1.7 0h.8m-.2 0h.8m.3 0h.8m.1 0h.8m1.8 0h.8m3 0h.8m-.7 0h.8m3.9 0h.8m4.4 0h.8m-.6 0h.8m6.3 0h.8M.2 20.3h.8m1.8 0h.8m5.8 0h.8m.7 0h.8m2.8 0h.8m2 0h.8m2.6 0h.8m.8 0h.8m5.8 0h.8m-.4 0h.8m1.5 0h.8m-.3 0h.8m1.4 0h.8m3.7 0h.8m-.2 0h.8m1.5 0h.8m-.5 0h.8m2.5 0h.8m9.9 0h.8m1.4 0h.8m3.6 0h.8m.4 0h.8m6.4 0h.8m-.7 0h.8m5.7 0h.8m4.7 0h.8m11.8 0h.8M.6 20.8h.8m-.2 0h.8m2.7 0h.8m1.3 0h.8m13.2 0h.8m.2 0h.8m1.9 0h.8m-.5 0h.8m.1 0h.8m.3 0h.8m.5 0h.8m.5 0h.8m5.6 0h.8m.3 0h.8m1.8 0h.8m-.6 0h.8m.1 0h.8m12.2 0h.8m6.5 0h.8m2.1 0h.8m2.6 0h.8m2.2 0h.8m.5 0h.8m1.6 0h.8m-.1 0h.8m-.3 0h.8m.3 0h.8m-.8 0h.8m10.4 0h.8m3.1 0h.8m5.5 0h.8M5.1 21.3h.8m-.3 0h.8m5.9 0h.8m.2 0h.8m0 0h.8m.3 0h.8m1.1 0h.8m5.1 0h.8m1.5 0h.8m4.1 0h.8m2.6 0h.8m-.1 0h.8m16.6 0h.8m.3 0h.8m.9 0h.8m9.5 0h.8m3.7 0h.8m-.6 0h.8m0 0h.8m-.4 0h.8m4.9 0h.8m.5 0h.8m.5 0h.8m1 0h.8m0 0h.8m2.9 0h.8m12.1 0h.8M.4 21.8h.8m3.3 0h.8m1.1 0h.8m3.5 0h.8m7.1 0h.8m2.6 0h.8m2.4 0h.8m7.9 0h.8m2.5 0h.8m3.1 0h.8m0 0h.8m-.1 0h.8m.3 0h.8m11.7 0h.8m3.6 0h.8m-.1 0h.8m1.3 0h.8m.1 0h.8m-.5 0h.8m.9 0h.8m.4 0h.8m-.7 0h.8m-.6 0h.8m-.4 0h.8m-.4 0h.8m-.6 0h.8m.8 0h.8m7.3 0h.8m2.1 0h.8m3.6 0h.8m4 0h.8m4.9 0h.8m.9 0h.8M0 22.4h.8m1.7 0h.8m-.7 0h.8m-.7 0h.8m.5 0h.8m.9 0h.8m3.7 0h.8m-.1 0h.8m.3 0h.8m-.4 0h.8m2.9 0h.8m-.2 0h.8m.6 0h.8m6.6 0h.8m1.7 0h.8m0 0h.8m3.3 0h.8m.2 0h.8m-.6 0h.8m.6 0h.8m2.7 0h.8m3.9 0h.8m7.4 0h.8m.2 0h.8m8 0h.8m1.8 0h.8m.5 0h.8m7.4 0h.8m.3 0h.8m3.8 0h.8m1 0h.8m.3 0h.8m5.4 0h.8m.8 0h.8m.5 0h.8m2.2 0h.8M.9 22.9h.8m2.8 0h.8m3 0h.8m-.8 0h.8m3.4 0h.8m1.1 0h.8m0 0h.8m.9 0h.8m.1 0h.8m-.6 0h.8m1.2 0h.8m5.6 0h.8m1.3 0h.8m-.7 0h.8m4.7 0h.8m-.3 0h.8m.1 0h.8m.1 0h.8m2.8 0h.8m.6 0h.8m17 0h.8m-.4 0h.8m.2 0h.8m-.5 0h.8m7.7 0h.8m1.7 0h.8m3.2 0h.8m1.7 0h.8m1.1 0h.8m7.2 0h.8m8 0h.8M.6 23.4h.8m4.3 0h.8m1 0h.8m.9 0h.8m-.7 0h.8m.8 0h.8m5.2 0h.8m-.8 0h.8m-.7 0h.8m4.1 0h.8m9.6 0h.8m.7 0h.8m-.6 0h.8m2.5 0h.8m1.8 0h.8m9.1 0h.8m2.4 0h.8m.5 0h.8m.1 0h.8m-.5 0h.8m.1 0h.8m.5 0h.8m-.2 0h.8m1 0h.8m-.8 0h.8m1.4 0h.8m-.1 0h.8m3.8 0h.8m2.7 0h.8m7.2 0h.8m1.6 0h.8m5.9 0h.8M1.9 23.9h.8m-.6 0h.8m.6 0h.8m1.6 0h.8m3.5 0h.8m.8 0h.8m2.1 0h.8m-.2 0h.8m1.8 0h.8m1.3 0h.8m-.3 0h.8m.3 0h.8m1 0h.8m14.7 0h.8m9.4 0h.8m1.1 0h.8m6.6 0h.8m3.3 0h.8m1.5 0h.8m1.1 0h.8m.8 0h.8m.1 0h.8m.1 0h.8m-.3 0h.8m1.2 0h.8m0 0h.8m4.2 0h.8m-.1 0h.8M2.9 24.5h.8m4.8 0h.8m-.7 0h.8m2.7 0h.8m6.7 0h.8m.7 0h.8m.1 0h.8m-.1 0h.8m3.2 0h.8m3.9 0h.8m0 0h.8m1.4 0h.8m.5 0h.8m-.1 0h.8m.2 0h.8m2.1 0h.8m3.6 0h.8m.2 0h.8m10.2 0h.8m4.2 0h.8m.4 0h.8m-.7 0h.8m4.4 0h.8m2.8 0h.8m1.5 0h.8m1 0h.8m-.6 0h.8m.1 0h.8m.6 0h.8m4.9 0h.8m4.3 0h.8M.7 25h.8m.1 0h.8m.4 0h.8m-.3 0h.8m1.6 0h.8m1.2 0h.8m2.2 0h.8m-.5 0h.8m10.6 0h.8m8.4 0h.8m-.6 0h.8m-.5 0h.8m-.6 0h.8m6.6 0h.8m9.5 0h.8m7.6 0h.8m1.8 0h.8m2.3 0h.8m2.3 0h.8m1.4 0h.8m-.1 0h.8m1.2 0h.8m.4 0h.8m1.9 0h.8m-.2 0h.8m2.5 0h.8m2.1 0h.8m4.6 0h.8m0 0h.8m-.3 0h.8m7.6 0h.8M4.6 25.5h.8m.8 0h.8m-.2 0h.8m2 0h.8m.8 0h.8m2.3 0h.8m1.5 0h.8m0 0h.8m-.5 0h.8m.8 0h.8m1.7 0h.8m1.1 0h.8m0 0h.8m10.6 0h.8m2.2 0h.8m9.2 0h.8m.9 0h.8m.9 0h.8m7.8 0h.8m1.4 0h.8m10.1 0h.8m-.5 0h.8m6.3 0h.8m.9 0h.8m4.1 0h.8m3.8 0h.8m-.4 0h.8m4.4 0h.8M3.3 26h.8m-.2 0h.8m.5 0h.8m.2 0h.8m-.5 0h.8m1.2 0h.8m-.7 0h.8m.5 0h.8m2.7 0h.8m1.8 0h.8m-.3 0h.8m2 0h.8m1 0h.8m3.1 0h.8m-.6 0h.8m2.3 0h.8m7.4 0h.8m6.4 0h.8m0 0h.8m10.5 0h.8m3.5 0h.8m1.5 0h.8m.2 0h.8m3.7 0h.8m.9 0h.8m.8 0h.8m-.1 0h.8m-.5 0h.8m.7 0h.8m-.8 0h.8m1 0h.8m-.7 0h.8m.3 0h.8m6 0h.8m11.1 0h.8m.1 0h.8" stroke="#111" stroke-width="0.55" fill="none"/>
<line x1="295.2" y1="390.8" x2="295.2" y2="417.1" stroke="#d2492a" stroke-width="1.1"/>
<polyline points="313.7,416.8 317.7,406.8 321.2,398.8 324.6,391.3" fill="none" stroke="#4f5fc8" stroke-width="0.6"/>
<path d="M362.7 391.2h-1.3v25.5h1.3" fill="none" stroke="#222" stroke-width="0.9"/>
<path transform="translate(261.7 419.2)" d="M8.6 .3h.8m-.2 0h.8m7.2 0h.8m1.2 0h.8m8.8 0h.8m4.6 0h.8m0 0h.8m.6 0h.8m.2 0h.8m10.5 0h.8m.4 0h.8m.4 0h.8m5.5 0h.8m3.4 0h.8m.5 0h.8m5.9 0h.8m3.6 0h.8m.1 0h.8m3.3 0h.8m.6 0h.8m-.5 0h.8m-.8 0h.8m8.6 0h.8m.9 0h.8m3.6 0h.8m.2 0h.8M4.9 .8h.8m4.1 0h.8m0 0h.8m8.8 0h.8m1 0h.8m-.1 0h.8m-.1 0h.8m.1 0h.8m4.5 0h.8m.1 0h.8m5.2 0h.8m2.6 0h.8m.5 0h.8m-.3 0h.8m4.6 0h.8m12.7 0h.8m4.5 0h.8m.2 0h.8m2.3 0h.8m2.3 0h.8m-.4 0h.8m-.2 0h.8m.6 0h.8m-.6 0h.8m-.5 0h.8m-.6 0h.8m2.7 0h.8m.9 0h.8m4.1 0h.8M2.9 1.3h.8m0 0h.8m5.4 0h.8m3.1 0h.8m.1 0h.8m7.2 0h.8m6.3 0h.8m-.3 0h.8m1 0h.8m17.3 0h.8m-.8 0h.8m5.2 0h.8m5.3 0h.8m2.9 0h.8m3.2 0h.8m1.2 0h.8m.3 0h.8m-.8 0h.8m-.4 0h.8m-.4 0h.8m3.5 0h.8m3.3 0h.8m0 0h.8m-.5 0h.8m-.4 0h.8m.8 0h.8m-.8 0h.8m-.5 0h.8m1.5 0h.8m.1 0h.8m3.5 0h.8m.3 0h.8M1 1.8h.8m.3 0h.8m-.2 0h.8m2.2 0h.8m-.7 0h.8m6.2 0h.8m.9 0h.8m1.8 0h.8m5.1 0h.8m-.7 0h.8m2.2 0h.8m-.3 0h.8m-.5 0h.8m.8 0h.8m-.3 0h.8m4.3 0h.8m1.5 0h.8m35 0h.8m-.1 0h.8m1.2 0h.8m-.2 0h.8m5.6 0h.8m4.3 0h.8m3.7 0h.8m-.2 0h.8M2.5 2.4h.8m4.1 0h.8m2 0h.8m-.5 0h.8m4.2 0h.8m-.2 0h.8m.7 0h.8m2.2 0h.8m.2 0h.8m6.2 0h.8m2.7 0h.8m2.7 0h.8m3.5 0h.8m2.6 0h.8m3 0h.8m4.4 0h.8m5.8 0h.8m2 0h.8m4.6 0h.8m2.3 0h.8m.6 0h.8m-.5 0h.8m.9 0h.8m.1 0h.8m3.6 0h.8m2.1 0h.8m.9 0h.8m.4 0h.8m1.3 0h.8m5.6 0h.8M1.3 2.9h.8m3.3 0h.8m.3 0h.8m3.8 0h.8m1.4 0h.8m-.8 0h.8m-.1 0h.8m8.1 0h.8m1.9 0h.8m-.6 0h.8m-.3 0h.8m2.7 0h.8m.3 0h.8m6.1 0h.8m.2 0h.8m1.9 0h.8m7.6 0h.8m7.2 0h.8m4.7 0h.8m.4 0h.8m.2 0h.8m.4 0h.8m3.2 0h.8m2.6 0h.8m1.1 0h.8m3.8 0h.8m.3 0h.8m0 0h.8m1.9 0h.8m.5 0h.8m-.4 0h.8m-.1 0h.8M4 3.4h.8m.4 0h.8m-.5 0h.8m6.3 0h.8m1.4 0h.8m2.1 0h.8m-.6 0h.8m1.8 0h.8m.9 0h.8m3.6 0h.8m3 0h.8m4 0h.8m5.5 0h.8m-.8 0h.8m-.3 0h.8m3.7 0h.8m6.9 0h.8m10.4 0h.8m0 0h.8m-.6 0h.8m7.1 0h.8m-.6 0h.8m-.5 0h.8m1.7 0h.8m1.2 0h.8m-.2 0h.8m0 0h.8m.3 0h.8m-.8 0h.8m2.2 0h.8m1.6 0h.8m4.3 0h.8m4.5 0h.8M1.2 4h.8m4.8 0h.8m.8 0h.8m-.4 0h.8m-.1 0h.8m-.2 0h.8m5.5 0h.8m8.6 0h.8m-.3 0h.8m2.8 0h.8m-.3 0h.8m-.7 0h.8m.3 0h.8m1.4 0h.8m.7 0h.8m3.2 0h.8m1.6 0h.8m.8 0h.8m4.5 0h.8m3.2 0h.8m2.5 0h.8m12.4 0h.8m.5 0h.8m7.4 0h.8m1.4 0h.8m3 0h.8m-.6 0h.8m-.4 0h.8m1.3 0h.8m9.9 0h.8M4.1 4.5h.8m3.8 0h.8m4.4 0h.8m-.8 0h.8m.1 0h.8m6.7 0h.8m1 0h.8m3.4 0h.8m1 0h.8m1.5 0h.8m-.4 0h.8m.6 0h.8m.5 0h.8m-.5 0h.8m.2 0h.8m1.5 0h.8m1.3 0h.8m1.1 0h.8m.9 0h.8m4.9 0h.8m1.3 0h.8m11.8 0h.8m2.3 0h.8m1.1 0h.8m3.3 0h.8m-.1 0h.8m.6 0h.8m-.2 0h.8m2.9 0h.8m-.2 0h.8m-.6 0h.8m.3 0h.8m5.9 0h.8M1.2 5h.8m1 0h.8m1.5 0h.8m5.6 0h.8m11.1 0h.8m3.4 0h.8m2.3 0h.8m2 0h.8m.6 0h.8m-.5 0h.8m1.1 0h.8m6.9 0h.8m18.3 0h.8m7 0h.8m1 0h.8m0 0h.8m0 0h.8m-.8 0h.8m.3 0h.8m1.9 0h.8m1.1 0h.8m2.5 0h.8m-.6 0h.8m7.2 0h.8m3.2 0h.8M5.1 5.5h.8m.6 0h.8m.4 0h.8m4 0h.8m.5 0h.8m.6 0h.8m1.6 0h.8m7.3 0h.8m4.9 0h.8m3.1 0h.8m9.5 0h.8m8.8 0h.8m1.3 0h.8m10 0h.8m.3 0h.8m-.6 0h.8m1.6 0h.8m1.4 0h.8m2.6 0h.8m-.4 0h.8m.8 0h.8m-.8 0h.8m0 0h.8m-.7 0h.8m10.9 0h.8m2.7 0h.8m1.5 0h.8M.3 6.1h.8m7.6 0h.8m1.7 0h.8m2.1 0h.8m2.2 0h.8m2.6 0h.8m.8 0h.8m-.1 0h.8m-.7 0h.8m2.2 0h.8m2.3 0h.8m.3 0h.8m-.5 0h.8m8.2 0h.8m-.7 0h.8m2.5 0h.8m8.8 0h.8m-.3 0h.8m6 0h.8m3.6 0h.8m3.9 0h.8m.1 0h.8m1.1 0h.8m2.5 0h.8m.3 0h.8m-.3 0h.8m1 0h.8m4.8 0h.8m1.1 0h.8m.4 0h.8M2.2 6.6h.8m0 0h.8m2.3 0h.8m2 0h.8m9.4 0h.8m2.8 0h.8m.2 0h.8m.9 0h.8m0 0h.8m1 0h.8m5.6 0h.8m.3 0h.8m-.2 0h.8m6.6 0h.8m11.3 0h.8m6.4 0h.8m4.1 0h.8m1.8 0h.8m2.7 0h.8m1 0h.8m2.3 0h.8m.5 0h.8m-.4 0h.8m-.5 0h.8m.4 0h.8m1.1 0h.8m-.6 0h.8m4 0h.8m2.3 0h.8m1.2 0h.8m-.1 0h.8m1.4 0h.8M1.7 7.1h.8m.4 0h.8m5.1 0h.8m9.2 0h.8m-.6 0h.8m4.6 0h.8m.7 0h.8m15.2 0h.8m3.3 0h.8m1.3 0h.8m8.7 0h.8m5.9 0h.8m0 0h.8m1.5 0h.8m3.9 0h.8m2 0h.8m.2 0h.8m-.7 0h.8m3.1 0h.8m.2 0h.8m2.4 0h.8m1.5 0h.8m-.1 0h.8m2.4 0h.8m2.5 0h.8m-.3 0h.8m2 0h.8M8.8 7.7h.8m2.2 0h.8m-.6 0h.8m.6 0h.8m1.2 0h.8m3.8 0h.8m1.8 0h.8m4.3 0h.8m1.7 0h.8m5.8 0h.8m-.2 0h.8m5 0h.8m5.8 0h.8m0 0h.8m-.6 0h.8m-.1 0h.8m3.1 0h.8m1.6 0h.8m-.4 0h.8m9.7 0h.8m5.7 0h.8m-.1 0h.8m.1 0h.8m3.8 0h.8m4.1 0h.8m.3 0h.8m-.3 0h.8M2.5 8.2h.8m1.5 0h.8m0 0h.8m2.5 0h.8m4.5 0h.8m4 0h.8m2.8 0h.8m1.1 0h.8m1 0h.8m8.6 0h.8m.1 0h.8m.7 0h.8m0 0h.8m.6 0h.8m-.3 0h.8m.1 0h.8m-.2 0h.8m7.9 0h.8m.7 0h.8m.3 0h.8m1.6 0h.8m2.4 0h.8m0 0h.8m-.3 0h.8m11 0h.8m-.1 0h.8m3 0h.8m4.3 0h.8m2.2 0h.8m2.1 0h.8M5.7 8.7h.8m2.7 0h.8m2.2 0h.8m1.3 0h.8m-.3 0h.8m4.3 0h.8m-.4 0h.8m.6 0h.8m3 0h.8m-.4 0h.8m3.5 0h.8m.7 0h.8m2.6 0h.8m1 0h.8m0 0h.8m3.7 0h.8m.6 0h.8m19.5 0h.8m5.9 0h.8m.2 0h.8m-.8 0h.8m.8 0h.8m6.6 0h.8m.3 0h.8m-.3 0h.8m10.8 0h.8M3.3 9.2h.8m-.6 0h.8m.4 0h.8m.3 0h.8m6.4 0h.8m4.2 0h.8m2.8 0h.8m4.2 0h.8m2.8 0h.8m.7 0h.8m.4 0h.8m4.2 0h.8m0 0h.8m2.2 0h.8m16.3 0h.8m4.1 0h.8m.9 0h.8m-.3 0h.8m7.6 0h.8m1.7 0h.8m-.4 0h.8m-.2 0h.8m.9 0h.8m1.3 0h.8m6.7 0h.8m-.4 0h.8M1.2 9.8h.8m7.7 0h.8m-.6 0h.8m5.2 0h.8m-.7 0h.8m18.8 0h.8m.1 0h.8m4.9 0h.8m.9 0h.8m4.7 0h.8m6.3 0h.8m.8 0h.8m.6 0h.8m2.6 0h.8m.6 0h.8m.3 0h.8m2.1 0h.8m.2 0h.8m4.2 0h.8m2 0h.8m2.8 0h.8m.2 0h.8m2.8 0h.8m-.6 0h.8m1.7 0h.8m2.7 0h.8M16.6 10.3h.8m-.2 0h.8m-.8 0h.8m5.6 0h.8m1.6 0h.8m1 0h.8m4.9 0h.8m1.8 0h.8m4.8 0h.8m6.5 0h.8m.1 0h.8m-.2 0h.8m-.4 0h.8m11.7 0h.8m.9 0h.8m.1 0h.8m-.2 0h.8m3 0h.8m-.4 0h.8m1.6 0h.8m-.4 0h.8m-.5 0h.8m-.3 0h.8m-.4 0h.8m-.5 0h.8m.1 0h.8m2 0h.8m3 0h.8m1.6 0h.8M3.6 10.8h.8m.6 0h.8m-.3 0h.8m-.6 0h.8m0 0h.8m4.1 0h.8m.5 0h.8m32.6 0h.8m-.5 0h.8m2.4 0h.8m10.2 0h.8m.8 0h.8m.7 0h.8m3.8 0h.8m-.7 0h.8m.4 0h.8m.4 0h.8m-.1 0h.8m.2 0h.8m.3 0h.8m-.4 0h.8m.3 0h.8m.2 0h.8m.4 0h.8m.7 0h.8m-.4 0h.8m5.9 0h.8m-.6 0h.8m-.4 0h.8m.2 0h.8M.2 11.4h.8m9.6 0h.8m7.3 0h.8m1.5 0h.8m.2 0h.8m4 0h.8m4.8 0h.8m1.9 0h.8m2 0h.8m.6 0h.8m.6 0h.8m-.2 0h.8m2.5 0h.8m2.9 0h.8m11 0h.8m4.2 0h.8m3.2 0h.8m-.6 0h.8m4.7 0h.8m.8 0h.8m-.7 0h.8m.2 0h.8m-.2 0h.8m-.5 0h.8m-.6 0h.8m.7 0h.8m6.8 0h.8m4.1 0h.8M2.6 11.9h.8m-.7 0h.8m.5 0h.8m5.2 0h.8m4 0h.8m14.1 0h.8m3.2 0h.8m.6 0h.8m6.7 0h.8m1.1 0h.8m4.8 0h.8m-.2 0h.8m4.5 0h.8m.1 0h.8m5.1 0h.8m1.3 0h.8m2.2 0h.8m-.5 0h.8m0 0h.8m5.1 0h.8m2.9 0h.8m-.5 0h.8m.2 0h.8m2.7 0h.8m-.7 0h.8m.2 0h.8m6.3 0h.8m-.1 0h.8m4.5 0h.8M1 12.4h.8m4.5 0h.8m2.9 0h.8m9.5 0h.8m5.2 0h.8m6.4 0h.8m.5 0h.8m2.7 0h.8m-.7 0h.8m1.7 0h.8m15 0h.8m6.1 0h.8m5.1 0h.8m4.1 0h.8m.1 0h.8m.2 0h.8m.3 0h.8m-.4 0h.8m-.8 0h.8m2 0h.8m0 0h.8m-.3 0h.8m2.9 0h.8m-.1 0h.8m-.1 0h.8m3.8 0h.8m1.6 0h.8M2 12.9h.8m2.8 0h.8m13.6 0h.8m-.7 0h.8m3.2 0h.8m.4 0h.8m3 0h.8m.6 0h.8m-.8 0h.8m1.8 0h.8m6 0h.8m2.7 0h.8m5.3 0h.8m.9 0h.8m11 0h.8m5.9 0h.8m2.3 0h.8m-.1 0h.8m-.7 0h.8m2 0h.8m1.7 0h.8m-.4 0h.8m0 0h.8m.9 0h.8m.2 0h.8m2.7 0h.8m-.3 0h.8m1.1 0h.8m8.1 0h.8M5.3 13.5h.8m2.6 0h.8m-.2 0h.8m0 0h.8m.4 0h.8m12.1 0h.8m-.5 0h.8m1.2 0h.8m3.2 0h.8m1.6 0h.8m.4 0h.8m1.5 0h.8m.9 0h.8m0 0h.8m-.2 0h.8m23.4 0h.8m5 0h.8m-.5 0h.8m4.8 0h.8m0 0h.8m.2 0h.8m-.3 0h.8m6.7 0h.8m3.2 0h.8m.7 0h.8m-.2 0h.8m.8 0h.8m.1 0h.8m2.2 0h.8m-.8 0h.8M0 14h.8m-.5 0h.8m-.7 0h.8m1.5 0h.8m2.7 0h.8m-.7 0h.8m1.2 0h.8m2.3 0h.8m1.5 0h.8m2.2 0h.8m5.4 0h.8m4.7 0h.8m2.5 0h.8m-.1 0h.8m2.4 0h.8m.6 0h.8m4.9 0h.8m12.8 0h.8m-.6 0h.8m.6 0h.8m-.2 0h.8m1 0h.8m4.9 0h.8m1.2 0h.8m.5 0h.8m-.5 0h.8m4.2 0h.8m1.4 0h.8m1.4 0h.8m.7 0h.8m2.1 0h.8m3.8 0h.8M5.7 14.5h.8m-.3 0h.8m6.5 0h.8m11.9 0h.8m.9 0h.8m.6 0h.8m-.5 0h.8m7.3 0h.8m5.7 0h.8m.1 0h.8m9.2 0h.8m-.3 0h.8m-.1 0h.8m3.5 0h.8m7 0h.8m3.1 0h.8m-.7 0h.8m.7 0h.8m-.6 0h.8m1.1 0h.8m3.2 0h.8m1.4 0h.8m13.8 0h.8m-.5 0h.8M.2 15h.8m3.2 0h.8m11.5 0h.8m4.1 0h.8m1.3 0h.8m-.1 0h.8m.2 0h.8m2.1 0h.8m1.5 0h.8m4 0h.8m-.1 0h.8m-.7 0h.8m3.5 0h.8m0 0h.8m19.1 0h.8m-.3 0h.8m10.8 0h.8m-.6 0h.8m2.1 0h.8m.3 0h.8m1.3 0h.8m-.4 0h.8m.2 0h.8m5.4 0h.8m.9 0h.8m8 0h.8M1.4 15.6h.8m1.6 0h.8m9.5 0h.8m-.6 0h.8m-.7 0h.8m.4 0h.8m1.2 0h.8m4.6 0h.8m10.4 0h.8m1 0h.8m.3 0h.8m3.6 0h.8m3.2 0h.8m14.5 0h.8m-.2 0h.8m1.1 0h.8m6.3 0h.8m.2 0h.8m1.4 0h.8m.3 0h.8m5.2 0h.8m1.3 0h.8m5.9 0h.8m-.6 0h.8m5.3 0h.8M27.8 16.1h.8m-.6 0h.8m-.1 0h.8m5.6 0h.8m.7 0h.8m-.7 0h.8m.5 0h.8m3.6 0h.8m-.1 0h.8m-.8 0h.8m-.3 0h.8m3.6 0h.8m2.8 0h.8m5 0h.8m6.6 0h.8m1.7 0h.8m.5 0h.8m.2 0h.8m.9 0h.8m.5 0h.8m.3 0h.8m.2 0h.8m.4 0h.8m.2 0h.8m0 0h.8m-.7 0h.8m7.6 0h.8m3.6 0h.8m-.6 0h.8M5 16.6h.8m-.4 0h.8m.9 0h.8m-.2 0h.8m-.4 0h.8m0 0h.8m9.6 0h.8m4.2 0h.8m.9 0h.8m4.8 0h.8m1 0h.8m1 0h.8m.2 0h.8m.7 0h.8m1.6 0h.8m-.3 0h.8m5.8 0h.8m-.5 0h.8m1.8 0h.8m1 0h.8m8.5 0h.8m.4 0h.8m.6 0h.8m3.2 0h.8m.7 0h.8m1 0h.8m-.6 0h.8m.8 0h.8M2.9 17.2h.8m4 0h.8m4.7 0h.8m1.3 0h.8m-.5 0h.8m-.4 0h.8m10.8 0h.8m-.2 0h.8m1.8 0h.8m1.9 0h.8m5 0h.8m5.7 0h.8m-.6 0h.8m7.8 0h.8m6.6 0h.8m-.2 0h.8m3.4 0h.8m1.1 0h.8m3.7 0h.8m-.6 0h.8m.1 0h.8m2.3 0h.8m.3 0h.8m2.7 0h.8m-.5 0h.8m-.1 0h.8m.3 0h.8m.4 0h.8m1 0h.8m9.5 0h.8M.3 17.7h.8m-.7 0h.8m0 0h.8m2 0h.8m5.3 0h.8m.3 0h.8m-.6 0h.8m5.4 0h.8m9.1 0h.8m6.4 0h.8m.2 0h.8m20 0h.8m6.4 0h.8m2.5 0h.8m3.6 0h.8m1.7 0h.8m1.6 0h.8m-.5 0h.8m.6 0h.8m-.2 0h.8m.8 0h.8m2.1 0h.8m3.3 0h.8m.2 0h.8m2.8 0h.8m.6 0h.8M1.3 18.2h.8m-.8 0h.8m2.3 0h.8m.2 0h.8m16.3 0h.8m1.6 0h.8m-.5 0h.8m5.3 0h.8m2.5 0h.8m2.1 0h.8m24.2 0h.8m1.4 0h.8m-.2 0h.8m2.3 0h.8m1.8 0h.8m1.7 0h.8m4.5 0h.8m-.8 0h.8m-.5 0h.8m.2 0h.8m3.2 0h.8m4.3 0h.8m2.4 0h.8m3.2 0h.8M2.1 18.7h.8m-.7 0h.8m0 0h.8m1.9 0h.8m-.5 0h.8m1 0h.8m14.2 0h.8m-.3 0h.8m-.1 0h.8m.1 0h.8m.9 0h.8m7.1 0h.8m2.8 0h.8m.6 0h.8m3.1 0h.8m-.3 0h.8m.5 0h.8m5.6 0h.8m4.1 0h.8m-.4 0h.8m1.6 0h.8m.4 0h.8m-.5 0h.8m.2 0h.8m-.6 0h.8m1.6 0h.8m.5 0h.8m2.3 0h.8m9.2 0h.8m3.1 0h.8m11.2 0h.8m2.2 0h.8M.4 19.3h.8m9.1 0h.8m4.3 0h.8m3.9 0h.8m1.8 0h.8m.6 0h.8m1.1 0h.8m2 0h.8m3 0h.8m.6 0h.8m18.4 0h.8m1 0h.8m4 0h.8m.6 0h.8m-.7 0h.8m4 0h.8m-.4 0h.8m2.2 0h.8m.6 0h.8m-.3 0h.8m-.3 0h.8m1.4 0h.8m2.1 0h.8m0 0h.8m3 0h.8m.9 0h.8m3.6 0h.8M.5 19.8h.8m-.7 0h.8m.6 0h.8m5.6 0h.8m1.8 0h.8m-.4 0h.8m.6 0h.8m-.4 0h.8m.8 0h.8m.3 0h.8m.2 0h.8m-.6 0h.8m5.8 0h.8m-.7 0h.8m3 0h.8m.8 0h.8m2.4 0h.8m-.1 0h.8m-.5 0h.8m1.7 0h.8m5.7 0h.8m3.7 0h.8m16.5 0h.8m.6 0h.8m2.9 0h.8m.4 0h.8m8.5 0h.8m1.4 0h.8m4.5 0h.8m4.7 0h.8M4.4 20.3h.8m8.2 0h.8m6 0h.8m3.8 0h.8m-.7 0h.8m12.8 0h.8m-.6 0h.8m2.1 0h.8m.6 0h.8m10.4 0h.8m.4 0h.8m.3 0h.8m1.1 0h.8m4.4 0h.8m-.6 0h.8m3 0h.8m-.1 0h.8m7.2 0h.8m-.5 0h.8m-.5 0h.8m1.4 0h.8m4.9 0h.8m.2 0h.8m1.5 0h.8m-.1 0h.8m-.7 0h.8m1.6 0h.8m.4 0h.8m0 0h.8m2.2 0h.8M1.1 20.9h.8m-.1 0h.8m.9 0h.8m-.1 0h.8m.3 0h.8m-.8 0h.8m7.8 0h.8m5.6 0h.8m.7 0h.8m1.3 0h.8m.7 0h.8m4.7 0h.8m1.1 0h.8m0 0h.8m1.4 0h.8m-.6 0h.8m2 0h.8m1.7 0h.8m-.1 0h.8m2.1 0h.8m-.2 0h.8m10.8 0h.8m-.1 0h.8m3 0h.8m-.6 0h.8m2.5 0h.8m-.5 0h.8m2.5 0h.8m4.3 0h.8m3.4 0h.8m18.2 0h.8M8.7 21.4h.8m2.5 0h.8m1.9 0h.8m2.6 0h.8m5.3 0h.8m1.1 0h.8m.3 0h.8m-.4 0h.8m14.7 0h.8m12.1 0h.8m5.6 0h.8m1 0h.8m1.5 0h.8m-.3 0h.8m-.7 0h.8m3.5 0h.8m-.8 0h.8m.2 0h.8m-.2 0h.8m6.6 0h.8m-.3 0h.8m-.1 0h.8m1.8 0h.8m12.8 0h.8M3.6 21.9h.8m2.4 0h.8m.2 0h.8m.7 0h.8m7.7 0h.8m1.2 0h.8m1.7 0h.8m9.7 0h.8m5.7 0h.8m-.3 0h.8m9.8 0h.8m13 0h.8m2.9 0h.8m1.5 0h.8m-.4 0h.8m-.5 0h.8m-.6 0h.8m6.4 0h.8m-.1 0h.8m1.2 0h.8m.5 0h.8m3 0h.8m2.4 0h.8M.4 22.4h.8m19.7 0h.8m1.9 0h.8m.2 0h.8m.8 0h.8m4.2 0h.8m5.3 0h.8m0 0h.8m0 0h.8m-.4 0h.8m6.7 0h.8m4.7 0h.8m.9 0h.8m1.4 0h.8m4.7 0h.8m4.1 0h.8m-.2 0h.8m1.1 0h.8m-.5 0h.8m.5 0h.8m1.6 0h.8m2.7 0h.8m.5 0h.8m1.8 0h.8m1.7 0h.8M1 23h.8m8.5 0h.8m4.5 0h.8m3.6 0h.8m7.3 0h.8m6.6 0h.8m3.9 0h.8m6.5 0h.8m.7 0h.8m-.6 0h.8m-.1 0h.8m2.5 0h.8m11.9 0h.8m-.6 0h.8m.5 0h.8m-.4 0h.8m.2 0h.8m-.4 0h.8m3 0h.8m.5 0h.8m.7 0h.8m2.3 0h.8m16.8 0h.8M4.1 23.5h.8m1.4 0h.8m-.5 0h.8m.9 0h.8m4.2 0h.8m2.7 0h.8m.2 0h.8m.7 0h.8m1.8 0h.8m.4 0h.8m9.2 0h.8m2.9 0h.8m-.5 0h.8m.9 0h.8m7.1 0h.8m0 0h.8m8.2 0h.8m.1 0h.8m3.3 0h.8m.2 0h.8m-.7 0h.8m2.7 0h.8m.4 0h.8m.9 0h.8m4.4 0h.8m.4 0h.8m2.7 0h.8m.4 0h.8m7.8 0h.8m0 0h.8m4.2 0h.8m1.3 0h.8M4.7 24h.8m-.4 0h.8m4.3 0h.8m4.7 0h.8m.3 0h.8m0 0h.8m3.1 0h.8m1.5 0h.8m1.1 0h.8m-.4 0h.8m4.7 0h.8m1.6 0h.8m.7 0h.8m8.9 0h.8m-.8 0h.8m.4 0h.8m.4 0h.8m4.7 0h.8m8.1 0h.8m.7 0h.8m.4 0h.8m0 0h.8m1.6 0h.8m-.4 0h.8m4.3 0h.8m.2 0h.8m7 0h.8m-.1 0h.8m0 0h.8m2 0h.8m3.6 0h.8M.9 24.6h.8m.7 0h.8m1.6 0h.8m8.7 0h.8m.6 0h.8m0 0h.8m3.7 0h.8m1.3 0h.8m-.4 0h.8m-.3 0h.8m1.3 0h.8m1.4 0h.8m5.5 0h.8m.9 0h.8m7.6 0h.8m2.9 0h.8m-.2 0h.8m12 0h.8m3.4 0h.8m-.3 0h.8m-.4 0h.8m0 0h.8m-.2 0h.8m.7 0h.8m-.7 0h.8m-.2 0h.8m.9 0h.8m.2 0h.8m.7 0h.8M2.3 25.1h.8m-.4 0h.8m5.1 0h.8m2.8 0h.8m6.2 0h.8m11.6 0h.8m1.8 0h.8m-.1 0h.8m.5 0h.8m12 0h.8m2 0h.8m3.3 0h.8m4.4 0h.8m1.7 0h.8m2.6 0h.8m.2 0h.8m1.2 0h.8m-.1 0h.8m.2 0h.8m2.2 0h.8m-.6 0h.8m.8 0h.8m-.7 0h.8m1.7 0h.8m1.6 0h.8m.5 0h.8m12.1 0h.8m-.2 0h.8m.2 0h.8M5 25.6h.8m3.8 0h.8m3.3 0h.8m-.6 0h.8m9.2 0h.8m1.6 0h.8m1.6 0h.8m-.2 0h.8m.8 0h.8m-.1 0h.8m.1 0h.8m3.8 0h.8m.4 0h.8m1.2 0h.8m1.7 0h.8m-.4 0h.8m14 0h.8m.5 0h.8m.9 0h.8m-.2 0h.8m2.6 0h.8m1.1 0h.8m-.7 0h.8m1 0h.8m1.2 0h.8m5.1 0h.8m1.1 0h.8m1.4 0h.8m-.3 0h.8m.4 0h.8m1.1 0h.8m7.3 0h.8M.3 26.1h.8m-.3 0h.8m5.8 0h.8m-.5 0h.8m4.3 0h.8m-.8 0h.8m3.6 0h.8m.2 0h.8m-.7 0h.8m9.6 0h.8m3.3 0h.8m4.3 0h.8m0 0h.8m4.9 0h.8m7.2 0h.8m2.4 0h.8m-.5 0h.8m-.6 0h.8m.4 0h.8m15.5 0h.8m.5 0h.8m.2 0h.8m2.3 0h.8m.1 0h.8" stroke="#111" stroke-width="0.55" fill="none"/>
<line x1="295.2" y1="419.2" x2="295.2" y2="445.6" stroke="#d2492a" stroke-width="1.1"/>
<polyline points="314.3,445.2 317.7,435.2 321.7,427.2 325.2,419.7" fill="none" stroke="#4f5fc8" stroke-width="0.6"/>
<path d="M362.7 419.6h-1.3v25.6h1.3" fill="none" stroke="#222" stroke-width="0.9"/>
<path d="M261.7 453.7L264.6 453L268.1 453L271.6 454.2L275.1 454.8L278.7 455.1L282.2 456.5L285.7 456.5L289.2 456.5L292.7 456L296.2 453.7L298.8 455.1L301.4 455.1L304.1 459.5L307.6 462.5L311.1 463.9L313.7 463.5L317.2 461.3L320.7 458.6L325.1 456L328.6 453.4L332.1 449L335.6 448.5L339.1 449.5L342.6 452.5L346.1 455.1L349.6 457.7L353.1 459.5L356.6 459.5L359.2 460L361.8 459.5L361.8 464.3L359.2 464.8L356.6 464.3L353.1 464.3L349.6 462.5L346.1 459.9L342.6 457.3L339.1 454.3L335.6 453.3L332.1 453.8L328.6 458.2L325.1 460.8L320.7 463.4L317.2 466.1L313.7 468.3L311.1 468.7L307.6 467.3L304.1 464.3L301.4 459.9L298.8 459.9L296.2 458.5L292.7 460.8L289.2 461.3L285.7 461.3L282.2 461.3L278.7 459.9L275.1 459.6L271.6 459L268.1 457.8L264.6 457.8L261.7 458.5Z" fill="#939fe8" fill-opacity="0.65"/>
<path d="M261.7 455.5L264.6 456.4L268.1 458.1L271.6 459.9L275.1 459.4L278.7 460.8L281.3 460.4L284.8 457.6L288.3 456.9L291.8 456.9L295.3 458.1L298.8 456.4L301.4 454.6L304.1 459.9L307.6 463.4L311.1 464.3L313.7 464.6L317.2 462.5L320.7 459.4L325.1 457.3L328.6 454.6L332.1 451.1L335.6 450.6L339.1 451.1L342.6 454.1L346.1 456.9L349.6 459.9L353.1 461.1L356.6 462.2L359.2 462.5L361.8 460.8L361.8 464.8L359.2 466.5L356.6 466.2L353.1 465.1L349.6 463.9L346.1 460.9L342.6 458.1L339.1 455.1L335.6 454.6L332.1 455.1L328.6 458.6L325.1 461.3L320.7 463.4L317.2 466.5L313.7 468.6L311.1 468.3L307.6 467.4L304.1 463.9L301.4 458.6L298.8 460.4L295.3 462.1L291.8 460.9L288.3 460.9L284.8 461.6L281.3 464.4L278.7 464.8L275.1 463.4L271.6 463.9L268.1 462.1L264.6 460.4L261.7 459.5Z" fill="#4a4f86" fill-opacity="0.5"/>
<path d="M261.7 456.1C262.2 456 263.6 455.5 264.6 455.4C265.7 455.3 267 455.2 268.1 455.4C269.3 455.6 270.5 456.4 271.6 456.6C272.8 456.9 274 457 275.1 457.2C276.3 457.3 277.5 457.2 278.7 457.5C279.8 457.8 281 458.7 282.2 458.9C283.3 459.2 284.5 458.9 285.7 458.9C286.8 458.9 288 459 289.2 458.9C290.3 458.8 291.5 458.9 292.7 458.4C293.8 457.9 295.1 456.3 296.2 456.1C297.2 456 297.9 457.3 298.8 457.5C299.7 457.8 300.6 456.8 301.4 457.5C302.3 458.2 303 460.7 304.1 461.9C305.1 463.1 306.4 464.1 307.6 464.9C308.7 465.6 310 466.1 311.1 466.3C312.1 466.5 312.7 466.4 313.7 465.9C314.7 465.5 316 464.5 317.2 463.7C318.4 462.8 319.4 461.9 320.7 461C322 460.1 323.8 459.3 325.1 458.4C326.4 457.5 327.4 456.9 328.6 455.8C329.7 454.6 330.9 452.2 332.1 451.4C333.3 450.6 334.4 450.8 335.6 450.9C336.8 450.9 337.9 451.2 339.1 451.9C340.3 452.6 341.4 454 342.6 454.9C343.8 455.8 344.9 456.6 346.1 457.5C347.3 458.4 348.4 459.4 349.6 460.1C350.8 460.9 351.9 461.6 353.1 461.9C354.3 462.2 355.6 461.8 356.6 461.9C357.6 462 358.4 462.4 359.2 462.4C360.1 462.4 361.4 462 361.8 461.9" fill="none" stroke="#5a6bd0" stroke-width="1.0"/>
<path d="M261.7 457.5C262.2 457.7 263.6 458 264.6 458.4C265.7 458.8 267 459.6 268.1 460.1C269.3 460.7 270.5 461.7 271.6 461.9C272.8 462.1 274 461.2 275.1 461.4C276.3 461.5 277.6 462.6 278.7 462.8C279.7 463 280.3 463 281.3 462.4C282.3 461.9 283.6 460.2 284.8 459.6C286 459 287.1 459 288.3 458.9C289.5 458.8 290.6 458.7 291.8 458.9C293 459.1 294.1 460.2 295.3 460.1C296.5 460.1 297.8 459 298.8 458.4C299.8 457.8 300.6 456.1 301.4 456.6C302.3 457.2 303 460.4 304.1 461.9C305.1 463.4 306.4 464.7 307.6 465.4C308.7 466.1 310 466.1 311.1 466.3C312.1 466.5 312.7 466.9 313.7 466.6C314.7 466.3 316 465.4 317.2 464.5C318.4 463.7 319.4 462.2 320.7 461.4C322 460.5 323.8 460.1 325.1 459.3C326.4 458.5 327.4 457.7 328.6 456.6C329.7 455.6 330.9 453.8 332.1 453.1C333.3 452.5 334.4 452.6 335.6 452.6C336.8 452.6 337.9 452.6 339.1 453.1C340.3 453.7 341.4 455.2 342.6 456.1C343.8 457.1 344.9 458 346.1 458.9C347.3 459.9 348.4 461.2 349.6 461.9C350.8 462.6 351.9 462.7 353.1 463.1C354.3 463.5 355.6 463.9 356.6 464.2C357.6 464.4 358.4 464.8 359.2 464.5C360.1 464.3 361.4 463.1 361.8 462.8" fill="none" stroke="#14173f" stroke-width="1.5"/>
<line x1="261.7" y1="446.2" x2="261.7" y2="470.4" stroke="#3a3a3a" stroke-width="1.1"/>
<line x1="261.2" y1="469.9" x2="362.4" y2="469.9" stroke="#3a3a3a" stroke-width="1.1"/>
<path d="M261.7 452.3h-1.8M261.7 463.7h-1.8M261.7 469.9v2M278.4 469.9v2M295.2 469.9v2M311.9 469.9v2M328.6 469.9v2M345.4 469.9v2M362.1 469.9v2" stroke="#3a3a3a" stroke-width="0.8" fill="none"/>
<text x="260.2" y="483.2" font-size="8.3" text-anchor="middle" fill="#1a1a1a" stroke-width="0.2">-1</text>
<text x="296.2" y="483.2" font-size="8.3" text-anchor="middle" fill="#1a1a1a" stroke-width="0.2">0</text>
<text x="329.2" y="483.2" font-size="8.3" text-anchor="middle" fill="#1a1a1a" stroke-width="0.2">1</text>
<text x="309.9" y="492.9" font-size="8.3" text-anchor="middle" fill="#1a1a1a" stroke-width="0.2">Time from</text>
<text x="310.1" y="503.5" font-size="8.3" text-anchor="middle" fill="#1a1a1a" stroke-width="0.2">Center Port Entry (s)</text>
<rect x="37.8" y="299.9" width="3.3" height="26.6" fill="#33b549"/>
<rect x="37.8" y="328.3" width="3.3" height="26.2" fill="#184a22"/>
<rect x="37.8" y="390.8" width="3.3" height="26.9" fill="#5d6fd0"/>
<rect x="37.8" y="419.2" width="3.3" height="26.4" fill="#15173f"/>
<text x="39.4" y="364.3" font-size="8.3" text-anchor="end" fill="#1a1a1a" stroke-width="0.2">20</text>
<text x="39.4" y="375.7" font-size="8.3" text-anchor="end" fill="#1a1a1a" stroke-width="0.2">10</text>
<text x="39.4" y="455.2" font-size="8.3" text-anchor="end" fill="#1a1a1a" stroke-width="0.2">20</text>
<text x="39.4" y="466.6" font-size="8.3" text-anchor="end" fill="#1a1a1a" stroke-width="0.2">10</text>
<text x="27" y="370.3" font-size="8.3" text-anchor="middle" fill="#1a1a1a" transform="rotate(-90 27 370.3)" stroke-width="0.2">Rate (Hz)</text>
<text x="27" y="461.5" font-size="8.3" text-anchor="middle" fill="#1a1a1a" transform="rotate(-90 27 461.5)" stroke-width="0.2">Rate (Hz)</text>
<text x="22" y="323.3" font-size="8.3" text-anchor="middle" fill="#1a1a1a" transform="rotate(-44 22 323.3)" stroke-width="0.2">Rewarded</text>
<text x="20" y="349.3" font-size="8.3" text-anchor="middle" fill="#1a1a1a" transform="rotate(-44 20 349.3)" stroke-width="0.2">Unrewarded</text>
<text x="22" y="414.2" font-size="8.3" text-anchor="middle" fill="#1a1a1a" transform="rotate(-44 22 414.2)" stroke-width="0.2">Rewarded</text>
<text x="20" y="440.2" font-size="8.3" text-anchor="middle" fill="#1a1a1a" transform="rotate(-44 20 440.2)" stroke-width="0.2">Unrewarded</text>
<text x="363.4" y="303.5" font-size="8.3" text-anchor="start" fill="#1a1a1a" stroke-width="0.2">50</text>
<text x="370.2" y="316.2" font-size="8.3" text-anchor="middle" fill="#1a1a1a" transform="rotate(-90 370.2 316.2)" stroke-width="0.2">Trials</text>
<text x="363.4" y="333" font-size="8.3" text-anchor="start" fill="#1a1a1a" stroke-width="0.2">50</text>
<text x="370.2" y="344.5" font-size="8.3" text-anchor="middle" fill="#1a1a1a" transform="rotate(-90 370.2 344.5)" stroke-width="0.2">Trials</text>
<text x="363.4" y="394.4" font-size="8.3" text-anchor="start" fill="#1a1a1a" stroke-width="0.2">50</text>
<text x="370.2" y="407" font-size="8.3" text-anchor="middle" fill="#1a1a1a" transform="rotate(-90 370.2 407)" stroke-width="0.2">Trials</text>
<text x="363.4" y="423.9" font-size="8.3" text-anchor="start" fill="#1a1a1a" stroke-width="0.2">50</text>
<text x="370.2" y="435.5" font-size="8.3" text-anchor="middle" fill="#1a1a1a" transform="rotate(-90 370.2 435.5)" stroke-width="0.2">Trials</text>
<text x="380.8" y="9.3" font-size="13.2" text-anchor="start" fill="#111" stroke-width="0.18">C</text>
<rect x="405.5" y="22.2" width="225.8" height="216.5" fill="#48c0b0"/>
<path d="M405.5 22.23h7.28v0.77h-7.28z" fill="#4541aa"/><path d="M405.5 23.00h7.28v1.00h-7.28z" fill="#4541aa"/><path d="M405.5 24.00h7.28v1.00h-7.28z" fill="#4542ab"/><path d="M405.5 25.00h7.28v1.00h-7.28z" fill="#4543ac"/><path d="M405.5 26.00h7.28v1.00h-7.28z" fill="#4644ad"/><path d="M405.5 27.00h7.28v1.00h-7.28z" fill="#4645ae"/><path d="M405.5 28.00h7.28v1.60h-7.28z" fill="#4646af"/><path d="M405.5 28.80h7.28v0.20h-7.28z" fill="#4646b0"/><path d="M405.5 29.00h7.28v1.00h-7.28z" fill="#4649b3"/><path d="M405.5 30.00h7.28v1.00h-7.28z" fill="#474eb8"/><path d="M405.5 31.00h7.28v1.00h-7.28z" fill="#4753bd"/><path d="M405.5 32.00h7.28v1.00h-7.28z" fill="#4858c2"/><path d="M405.5 33.00h7.28v1.00h-7.28z" fill="#4961c7"/><path d="M405.5 34.00h7.28v1.51h-7.28z" fill="#4968cc"/><path d="M405.5 34.71h7.28v0.29h-7.28z" fill="#496ed0"/><path d="M405.5 35.00h7.28v1.00h-7.28z" fill="#497cd7"/><path d="M405.5 36.00h7.28v1.00h-7.28z" fill="#4699dd"/><path d="M405.5 37.00h7.28v1.40h-7.28z" fill="#45acd6"/><path d="M405.5 37.60h7.28v0.40h-7.28z" fill="#d6b92e"/><path d="M405.5 38.00h7.28v1.00h-7.28z" fill="#e3b42e"/><path d="M405.5 39.00h7.28v1.11h-7.28z" fill="#efaf2e"/><path d="M405.5 39.31h7.28v0.69h-7.28z" fill="#f3b12e"/><path d="M405.5 40.00h7.28v1.00h-7.28z" fill="#f4b82f"/><path d="M405.5 41.00h7.28v1.00h-7.28z" fill="#f6c12f"/><path d="M405.5 42.00h7.28v1.00h-7.28z" fill="#f8ca30"/><path d="M405.5 43.00h7.28v1.05h-7.28z" fill="#facf30"/><path d="M405.5 43.25h7.28v0.75h-7.28z" fill="#f9d32f"/><path d="M405.5 44.00h7.28v1.00h-7.28z" fill="#f6db2b"/><path d="M405.5 45.00h7.28v1.00h-7.28z" fill="#f3e328"/><path d="M405.5 46.00h7.28v1.33h-7.28z" fill="#f1ea25"/><path d="M478.3 57.04h7.28v0.96h-7.28z" fill="#443fa8"/><path d="M478.3 58.00h7.28v1.00h-7.28z" fill="#4542ab"/><path d="M478.3 59.00h7.28v1.73h-7.28z" fill="#4645ae"/><path d="M478.3 59.93h7.28v0.07h-7.28z" fill="#464ab3"/><path d="M478.3 60.00h7.28v1.00h-7.28z" fill="#4751bb"/><path d="M478.3 61.00h7.28v1.00h-7.28z" fill="#4965ca"/><path d="M478.3 62.00h7.28v1.10h-7.28z" fill="#4a74d4"/><path d="M478.3 62.96h7.28v0.04h-7.28z" fill="#f2ae2e"/><path d="M478.3 63.00h7.28v1.00h-7.28z" fill="#f3b22e"/><path d="M478.3 64.00h7.28v1.00h-7.28z" fill="#f5b92f"/><path d="M478.3 65.00h7.28v1.00h-7.28z" fill="#f6c02f"/><path d="M478.3 66.00h7.28v1.04h-7.28z" fill="#f7c52f"/><path d="M478.3 66.24h7.28v0.76h-7.28z" fill="#f7d82d"/><path d="M478.3 67.00h7.28v1.36h-7.28z" fill="#f2e627"/><path d="M551.2 78.07h7.28v0.93h-7.28z" fill="#443da6"/><path d="M551.2 79.00h7.28v1.00h-7.28z" fill="#4540a9"/><path d="M551.2 80.00h7.28v1.49h-7.28z" fill="#4542ab"/><path d="M551.2 80.69h7.28v0.31h-7.28z" fill="#4752bb"/><path d="M551.2 81.00h7.28v1.00h-7.28z" fill="#4855bf"/><path d="M551.2 82.00h7.28v1.00h-7.28z" fill="#485ec6"/><path d="M551.2 83.00h7.28v1.00h-7.28z" fill="#4968cc"/><path d="M551.2 84.00h7.28v1.00h-7.28z" fill="#4a73d3"/><path d="M551.2 85.00h7.28v1.75h-7.28z" fill="#497fd7"/><path d="M551.2 86.61h7.28v0.39h-7.28z" fill="#a7c53e"/><path d="M551.2 87.00h7.28v1.00h-7.28z" fill="#b3c335"/><path d="M551.2 88.00h7.28v1.38h-7.28z" fill="#bec032"/><path d="M551.2 88.58h7.28v0.42h-7.28z" fill="#f2af2e"/><path d="M551.2 89.00h7.28v1.00h-7.28z" fill="#f3b12e"/><path d="M551.2 90.00h7.28v1.00h-7.28z" fill="#f3b42e"/><path d="M551.2 91.00h7.28v1.00h-7.28z" fill="#f4b72f"/><path d="M551.2 92.00h7.28v1.00h-7.28z" fill="#f5ba2f"/><path d="M551.2 93.00h7.28v1.00h-7.28z" fill="#f5bd2f"/><path d="M551.2 94.00h7.28v1.00h-7.28z" fill="#f6c02f"/><path d="M551.2 95.00h7.28v1.00h-7.28z" fill="#f7c32f"/><path d="M551.2 96.00h7.28v1.26h-7.28z" fill="#f7c52f"/><path d="M551.2 96.46h7.28v0.54h-7.28z" fill="#f9d32f"/><path d="M551.2 97.00h7.28v1.00h-7.28z" fill="#f6db2b"/><path d="M551.2 98.00h7.28v1.00h-7.28z" fill="#f2e627"/><path d="M551.2 99.00h7.28v0.89h-7.28z" fill="#f0ec24"/>
<path d="M405.5 46.53h7.28v3.42h-7.28zM478.3 67.56h7.28v4.20h-7.28z" fill="#f0ec24"/>
<path d="M405.5 50.21h7.28v0.92h-7.28z" fill="#474fb8"/>
<path d="M405.5 52.84h7.28v0.92h-7.28zM412.8 52.45h7.28v1.31h-7.28zM434.6 131.89h7.28v0.75h-7.28zM478.3 43.91h7.28v0.79h-7.28zM558.5 29.85h7.28v1.05h-7.28z" fill="#c2bf32"/>
<path d="M405.5 57.79h7.28v0.75h-7.28zM405.5 112.84h7.28v0.75h-7.28zM412.8 24.81h7.28v0.75h-7.28zM478.3 27.22h7.28v1.58h-7.28zM558.5 68.82h7.28v0.75h-7.28zM558.5 70.93h7.28v0.75h-7.28z" fill="#496ed0"/>
<path d="M405.5 68.87h7.28v1.97h-7.28zM420.1 53.45h7.28v0.75h-7.28zM492.9 75.13h7.28v0.75h-7.28zM551.2 57.39h7.28v0.75h-7.28zM551.2 75.13h7.28v0.75h-7.28zM551.2 103.29h7.28v1.05h-7.28zM558.5 27.83h7.28v0.75h-7.28zM565.7 57.39h7.28v0.75h-7.28z" fill="#6ac474"/>
<path d="M405.5 78.07h7.28v1.05h-7.28z" fill="#443fa8"/>
<path d="M405.5 79.12h7.28v0.92h-7.28zM500.2 76.75h7.28v1.05h-7.28zM551.2 68.43h7.28v0.75h-7.28zM551.2 107.63h7.28v2.23h-7.28z" fill="#f6bf2f"/>
<path d="M405.5 80.69h7.28v1.05h-7.28zM405.5 99.70h7.28v0.75h-7.28zM405.5 106.01h7.28v0.75h-7.28zM412.8 34.14h7.28v0.75h-7.28zM412.8 57.79h7.28v0.75h-7.28zM420.1 23.82h7.28v0.75h-7.28zM427.4 24.94h7.28v0.75h-7.28zM427.4 49.90h7.28v0.75h-7.28zM427.4 57.79h7.28v0.75h-7.28zM434.6 53.84h7.28v0.75h-7.28zM434.6 56.08h7.28v0.75h-7.28zM463.8 56.08h7.28v0.75h-7.28zM471.1 49.90h7.28v0.75h-7.28zM478.3 72.15h7.28v1.31h-7.28zM485.6 34.14h7.28v0.75h-7.28zM551.2 52.79h7.28v0.75h-7.28zM551.2 70.93h7.28v0.75h-7.28zM558.5 79.73h7.28v0.75h-7.28zM558.5 83.01h7.28v0.75h-7.28zM565.7 26.12h7.28v0.75h-7.28zM565.7 119.19h7.28v0.79h-7.28zM565.7 129.26h7.28v0.75h-7.28zM587.6 26.12h7.28v0.75h-7.28zM587.6 109.95h7.28v0.75h-7.28zM594.9 78.07h7.28v0.79h-7.28z" fill="#4a78d6"/>
<path d="M405.5 101.06h7.28v0.92h-7.28zM420.1 129.26h7.28v0.75h-7.28zM427.4 104.04h7.28v0.75h-7.28zM456.5 55.82h7.28v0.75h-7.28zM471.1 78.02h7.28v0.75h-7.28zM478.3 114.20h7.28v2.23h-7.28zM478.3 130.97h7.28v0.75h-7.28zM485.6 74.08h7.28v0.75h-7.28zM551.2 24.85h7.28v0.92h-7.28zM551.2 33.09h7.28v0.75h-7.28zM551.2 106.32h7.28v1.31h-7.28zM551.2 116.91h7.28v0.75h-7.28zM551.2 129.57h7.28v0.79h-7.28zM558.5 38.08h7.28v0.75h-7.28zM558.5 49.90h7.28v0.75h-7.28zM558.5 72.15h7.28v1.58h-7.28z" fill="#a4c540"/>
<path d="M405.5 102.98h7.28v0.75h-7.28zM405.5 109.60h7.28v1.05h-7.28zM405.5 119.06h7.28v1.05h-7.28zM405.5 123.00h7.28v1.31h-7.28zM412.8 91.47h7.28v1.05h-7.28zM412.8 94.75h7.28v0.79h-7.28zM478.3 46.93h7.28v1.18h-7.28zM478.3 119.41h7.28v0.75h-7.28zM492.9 121.77h7.28v0.75h-7.28zM500.2 121.77h7.28v0.75h-7.28zM529.3 121.77h7.28v0.75h-7.28zM536.6 121.77h7.28v0.75h-7.28zM543.9 112.97h7.28v0.75h-7.28zM551.2 110.91h7.28v1.97h-7.28zM565.7 112.58h7.28v0.75h-7.28zM609.4 77.10h7.28v0.75h-7.28zM609.4 121.77h7.28v0.75h-7.28z" fill="#45abd6"/>
<path d="M405.5 114.86h7.28v1.05h-7.28zM412.8 81.96h7.28v0.75h-7.28zM478.3 99.09h7.28v2.63h-7.28z" fill="#b4c334"/>
<path d="M405.5 116.83h7.28v0.92h-7.28zM412.8 132.94h7.28v0.75h-7.28zM485.6 68.17h7.28v0.75h-7.28zM492.9 68.17h7.28v0.75h-7.28zM551.2 65.93h7.28v0.75h-7.28zM551.2 99.75h7.28v0.92h-7.28zM558.5 22.97h7.28v0.75h-7.28zM558.5 25.92h7.28v0.75h-7.28zM565.7 23.01h7.28v0.79h-7.28zM565.7 106.05h7.28v0.79h-7.28zM573 90.94h7.28v0.79h-7.28z" fill="#f2ae2e"/>
<path d="M412.8 50.21h7.28v1.58h-7.28zM478.3 24.85h7.28v0.92h-7.28zM485.6 71.76h7.28v1.71h-7.28zM500.2 76.05h7.28v0.75h-7.28zM558.5 24.81h7.28v0.75h-7.28z" fill="#4646af"/>
<path d="M412.8 63.35h7.28v0.79h-7.28zM420.1 63.35h7.28v0.79h-7.28zM463.8 113.23h7.28v0.75h-7.28zM485.6 78.15h7.28v0.75h-7.28zM594.9 29.45h7.28v0.79h-7.28z" fill="#78c666"/>
<path d="M412.8 67.16h7.28v0.79h-7.28z" fill="#f4b52e"/>
<path d="M412.8 99.83h7.28v0.75h-7.28zM565.7 98.78h7.28v0.75h-7.28z" fill="#4981d8"/>
<path d="M412.8 103.38h7.28v0.75h-7.28z" fill="#46b0cd"/>
<path d="M420.1 39.92h7.28v0.75h-7.28zM441.9 55.03h7.28v0.75h-7.28zM478.3 77.36h7.28v0.75h-7.28z" fill="#8cc852"/>
<path d="M434.6 49.95h7.28v0.79h-7.28zM573 78.07h7.28v0.79h-7.28zM573 130.05h7.28v0.75h-7.28zM580.3 78.07h7.28v0.79h-7.28zM587.6 42.94h7.28v0.75h-7.28z" fill="#464ab3"/>
<path d="M449.2 60.94h7.28v0.75h-7.28zM492.9 34.14h7.28v0.75h-7.28zM536.6 119.14h7.28v0.75h-7.28zM551.2 48.19h7.28v0.75h-7.28zM551.2 50.17h7.28v0.75h-7.28zM580.3 105.09h7.28v0.75h-7.28z" fill="#4886d9"/>
<path d="M456.5 68.82h7.28v0.75h-7.28z" fill="#478fdb"/>
<path d="M456.5 100.75h7.28v0.75h-7.28zM485.6 100.75h7.28v0.75h-7.28zM492.9 98.78h7.28v0.75h-7.28z" fill="#59c292"/>
<path d="M478.3 49.16h7.28v0.92h-7.28z" fill="#f3e428"/>
<path d="M478.3 102.77h7.28v1.31h-7.28z" fill="#f8c930"/>
<path d="M478.3 120.77h7.28v1.31h-7.28z" fill="#46b3c8"/>
<path d="M478.3 123.00h7.28v1.05h-7.28zM551.2 63.04h7.28v0.75h-7.28z" fill="#d8b82e"/>
<path d="M478.3 126.02h7.28v1.58h-7.28zM551.2 69.02h7.28v0.75h-7.28z" fill="#4858c2"/>
<path d="M485.6 70.18h7.28v1.58h-7.28zM558.5 81.75h7.28v1.18h-7.28zM587.6 65.93h7.28v0.75h-7.28z" fill="#ddb62e"/>
<path d="M485.6 91.95h7.28v0.75h-7.28zM558.5 47.32h7.28v0.79h-7.28z" fill="#7ec660"/>
<path d="M485.6 98.78h7.28v0.75h-7.28z" fill="#63c380"/>
<path d="M485.6 114.94h7.28v0.75h-7.28zM500.2 68.17h7.28v0.75h-7.28zM551.2 123.40h7.28v0.92h-7.28z" fill="#94c74c"/>
<path d="M500.2 112.97h7.28v0.75h-7.28zM565.7 79.07h7.28v0.75h-7.28z" fill="#44a6e0"/>
<path d="M507.5 121.77h7.28v0.75h-7.28zM536.6 111.96h7.28v1.58h-7.28zM573 111.96h7.28v1.58h-7.28zM580.3 111.96h7.28v1.58h-7.28z" fill="#45aed2"/>
<path d="M514.8 68.17h7.28v0.75h-7.28zM522 64.22h7.28v0.75h-7.28zM522 68.17h7.28v0.75h-7.28z" fill="#9cc646"/>
<path d="M522 98.78h7.28v0.75h-7.28z" fill="#56c298"/>
<path d="M529.3 59.36h7.28v0.75h-7.28zM558.5 32.03h7.28v0.75h-7.28zM565.7 105.09h7.28v0.75h-7.28z" fill="#459dde"/>
<path d="M551.2 113.80h7.28v2.10h-7.28zM558.5 78.07h7.28v0.92h-7.28z" fill="#f2e626"/>
<path d="M558.5 98.43h7.28v35.77h-7.28z" fill="#443ba4"/>
<path d="M616.7 78.07h7.28v0.79h-7.28zM624 78.07h7.28v0.79h-7.28z" fill="#4968cc"/>
<path d="M558.5 134.20h7.28v0.80h-7.28z" fill="#443ba4"/><path d="M558.5 135.00h7.28v1.00h-7.28z" fill="#443ca5"/><path d="M558.5 136.00h7.28v1.00h-7.28z" fill="#443da6"/><path d="M558.5 137.00h7.28v1.00h-7.28z" fill="#443ea7"/><path d="M558.5 138.00h7.28v1.00h-7.28z" fill="#453fa8"/><path d="M558.5 139.00h7.28v1.00h-7.28z" fill="#4540a9"/><path d="M558.5 140.00h7.28v1.00h-7.28z" fill="#4542ab"/><path d="M558.5 141.00h7.28v1.00h-7.28z" fill="#4543ac"/><path d="M558.5 142.00h7.28v1.00h-7.28z" fill="#4544ad"/><path d="M558.5 143.00h7.28v1.00h-7.28z" fill="#4645ae"/><path d="M558.5 144.00h7.28v1.51h-7.28z" fill="#4646af"/><path d="M558.5 144.71h7.28v0.29h-7.28z" fill="#4646af"/><path d="M558.5 145.00h7.28v1.00h-7.28z" fill="#4648b2"/><path d="M558.5 146.00h7.28v1.00h-7.28z" fill="#474bb5"/><path d="M558.5 147.00h7.28v1.00h-7.28z" fill="#474eb8"/><path d="M558.5 148.00h7.28v1.00h-7.28z" fill="#4751bb"/><path d="M558.5 149.00h7.28v1.00h-7.28z" fill="#4854be"/><path d="M558.5 150.00h7.28v1.00h-7.28z" fill="#4858c1"/><path d="M558.5 151.00h7.28v1.00h-7.28z" fill="#485dc5"/><path d="M558.5 152.00h7.28v1.00h-7.28z" fill="#4962c8"/><path d="M558.5 153.00h7.28v1.00h-7.28z" fill="#4967cc"/><path d="M558.5 154.00h7.28v1.63h-7.28z" fill="#496ccf"/><path d="M558.5 154.96h7.28v0.04h-7.28z" fill="#94c74c"/><path d="M558.5 155.00h7.28v1.00h-7.28z" fill="#9dc645"/><path d="M558.5 156.00h7.28v1.00h-7.28z" fill="#aec439"/><path d="M558.5 157.00h7.28v1.65h-7.28z" fill="#bcc133"/><path d="M558.5 157.85h7.28v0.15h-7.28z" fill="#edb02e"/><path d="M558.5 158.00h7.28v1.00h-7.28z" fill="#efaf2e"/><path d="M558.5 159.00h7.28v1.00h-7.28z" fill="#f2af2e"/><path d="M558.5 160.00h7.28v1.00h-7.28z" fill="#f3b12e"/><path d="M558.5 161.00h7.28v1.00h-7.28z" fill="#f3b42e"/><path d="M558.5 162.00h7.28v1.00h-7.28z" fill="#f4b72f"/><path d="M558.5 163.00h7.28v1.00h-7.28z" fill="#f5b92f"/><path d="M558.5 164.00h7.28v1.00h-7.28z" fill="#f5bc2f"/><path d="M558.5 165.00h7.28v1.00h-7.28z" fill="#f6be2f"/><path d="M558.5 166.00h7.28v1.00h-7.28z" fill="#f6c12f"/><path d="M558.5 167.00h7.28v1.00h-7.28z" fill="#f7c42f"/><path d="M558.5 168.00h7.28v1.16h-7.28z" fill="#f7c52f"/><path d="M558.5 168.36h7.28v0.64h-7.28z" fill="#f9cc30"/><path d="M558.5 169.00h7.28v1.00h-7.28z" fill="#f9d22f"/><path d="M558.5 170.00h7.28v1.00h-7.28z" fill="#f7d82d"/><path d="M558.5 171.00h7.28v1.00h-7.28z" fill="#f5de2a"/><path d="M558.5 172.00h7.28v1.00h-7.28z" fill="#f3e527"/><path d="M558.5 173.00h7.28v1.41h-7.28z" fill="#f1ea25"/>
<path d="M405.5 134.94h7.28v0.75h-7.28z" fill="#4a72d2"/>
<path d="M405.5 152.02h7.28v0.75h-7.28zM405.5 165.16h7.28v0.75h-7.28zM405.5 224.81h7.28v0.75h-7.28zM412.8 147.03h7.28v0.75h-7.28zM412.8 152.94h7.28v0.75h-7.28zM412.8 165.16h7.28v0.75h-7.28zM412.8 209.83h7.28v0.75h-7.28zM478.3 152.94h7.28v0.75h-7.28zM478.3 174.88h7.28v0.75h-7.28zM478.3 219.95h7.28v0.75h-7.28zM500.2 235.98h7.28v0.75h-7.28zM514.8 235.98h7.28v0.75h-7.28zM522 235.98h7.28v0.75h-7.28zM529.3 235.98h7.28v0.75h-7.28zM551.2 148.08h7.28v0.75h-7.28zM551.2 155.17h7.28v0.75h-7.28zM551.2 203.52h7.28v0.75h-7.28zM551.2 208.78h7.28v0.75h-7.28zM551.2 211.06h7.28v1.97h-7.28zM558.5 235.98h7.28v0.75h-7.28zM565.7 129.29h7.28v0.75h-7.28zM580.3 136.78h7.28v0.75h-7.28zM594.9 148.08h7.28v0.75h-7.28zM609.4 204.84h7.28v0.75h-7.28zM609.4 214.34h7.28v1.05h-7.28z" fill="#4a78d6"/>
<path d="M405.5 169.41h7.28v1.05h-7.28zM405.5 195.95h7.28v0.92h-7.28zM551.2 201.86h7.28v1.31h-7.28zM573 229.14h7.28v0.75h-7.28z" fill="#e8b22e"/>
<path d="M405.5 172.56h7.28v2.36h-7.28zM478.3 167.00h7.28v0.75h-7.28zM485.6 224.28h7.28v0.75h-7.28zM492.9 192.36h7.28v0.75h-7.28zM492.9 200.90h7.28v0.75h-7.28zM500.2 226.12h7.28v0.75h-7.28zM551.2 181.19h7.28v0.75h-7.28zM565.7 172.30h7.28v1.97h-7.28zM573 174.36h7.28v0.75h-7.28zM624 157.93h7.28v0.75h-7.28z" fill="#94c74c"/>
<path d="M405.5 181.10h7.28v0.92h-7.28z" fill="#f7d82c"/>
<path d="M405.5 182.81h7.28v1.05h-7.28zM565.7 214.04h7.28v0.75h-7.28zM565.7 218.02h7.28v3.55h-7.28zM573 214.04h7.28v0.75h-7.28zM616.7 236.24h7.28v0.75h-7.28z" fill="#4646af"/>
<path d="M405.5 186.05h7.28v0.75h-7.28zM405.5 204.88h7.28v1.84h-7.28zM434.6 131.92h7.28v0.75h-7.28zM492.9 137.17h7.28v0.75h-7.28zM594.9 157.93h7.28v0.75h-7.28z" fill="#c2bf32"/>
<path d="M405.5 191.96h7.28v0.75h-7.28zM405.5 202.26h7.28v0.92h-7.28zM478.3 176.98h7.28v0.75h-7.28zM478.3 211.72h7.28v1.31h-7.28zM485.6 212.06h7.28v0.75h-7.28zM551.2 216.66h7.28v0.75h-7.28zM565.7 197.61h7.28v0.75h-7.28z" fill="#44a6e0"/>
<path d="M405.5 194.37h7.28v0.92h-7.28zM558.5 225.20h7.28v0.75h-7.28z" fill="#78c666"/>
<path d="M405.5 197.26h7.28v1.31h-7.28zM427.4 235.98h7.28v0.75h-7.28zM471.1 170.94h7.28v0.75h-7.28zM478.3 172.56h7.28v2.10h-7.28zM478.3 214.08h7.28v0.92h-7.28zM551.2 194.06h7.28v0.75h-7.28zM565.7 178.17h7.28v0.75h-7.28zM573 226.12h7.28v0.75h-7.28zM594.9 227.17h7.28v0.75h-7.28zM602.2 227.17h7.28v0.75h-7.28zM609.4 227.17h7.28v0.75h-7.28z" fill="#a4c540"/>
<path d="M405.5 211.06h7.28v1.71h-7.28zM551.2 205.80h7.28v1.97h-7.28zM594.9 230.77h7.28v0.92h-7.28z" fill="#4543ac"/>
<path d="M405.5 216.97h7.28v0.92h-7.28zM478.3 195.90h7.28v0.75h-7.28zM573 129.95h7.28v0.75h-7.28z" fill="#464ab3"/>
<path d="M412.8 133.28h7.28v0.79h-7.28zM551.2 129.29h7.28v0.75h-7.28z" fill="#d1ba2f"/>
<path d="M412.8 200.90h7.28v0.75h-7.28z" fill="#485ec6"/>
<path d="M412.8 217.06h7.28v0.75h-7.28zM478.3 208.43h7.28v0.92h-7.28z" fill="#459dde"/>
<path d="M420.1 129.29h7.28v0.75h-7.28zM602.2 223.89h7.28v0.75h-7.28z" fill="#7ec660"/>
<path d="M441.9 214.04h7.28v0.75h-7.28zM551.2 141.11h7.28v0.75h-7.28zM551.2 176.90h7.28v1.31h-7.28zM558.5 237.36h7.28v0.75h-7.28zM565.7 221.96h7.28v2.23h-7.28z" fill="#b4c334"/>
<path d="M456.5 165.16h7.28v0.75h-7.28zM478.3 182.50h7.28v0.75h-7.28zM478.3 224.55h7.28v0.75h-7.28zM478.3 227.44h7.28v0.75h-7.28zM478.3 231.38h7.28v0.75h-7.28zM500.2 212.06h7.28v0.75h-7.28zM507.5 209.83h7.28v0.75h-7.28zM522 206.41h7.28v0.75h-7.28zM543.9 211.14h7.28v0.75h-7.28zM551.2 162.40h7.28v0.75h-7.28zM551.2 167.31h7.28v1.31h-7.28zM551.2 184.78h7.28v1.31h-7.28zM551.2 231.77h7.28v0.75h-7.28zM565.7 137.48h7.28v1.71h-7.28zM565.7 191.96h7.28v0.75h-7.28zM580.3 191.96h7.28v0.75h-7.28zM580.3 214.04h7.28v0.75h-7.28zM587.6 138.49h7.28v0.75h-7.28zM594.9 212.06h7.28v0.75h-7.28zM609.4 209.04h7.28v0.75h-7.28zM616.7 191.96h7.28v0.75h-7.28zM616.7 212.06h7.28v0.75h-7.28zM624 191.96h7.28v0.75h-7.28zM624 212.06h7.28v0.75h-7.28zM624 232.69h7.28v0.75h-7.28z" fill="#45abd6"/>
<path d="M456.5 235.98h7.28v0.75h-7.28zM478.3 169.41h7.28v0.92h-7.28zM565.7 207.07h7.28v0.75h-7.28z" fill="#f4b52e"/>
<path d="M463.8 235.98h7.28v0.75h-7.28zM471.1 235.98h7.28v0.75h-7.28zM478.3 131.00h7.28v0.75h-7.28zM565.7 233.74h7.28v0.75h-7.28z" fill="#d8b82e"/>
<path d="M471.1 224.81h7.28v0.75h-7.28zM485.6 230.85h7.28v0.75h-7.28zM492.9 230.85h7.28v0.75h-7.28zM551.2 190.69h7.28v1.97h-7.28zM565.7 235.98h7.28v0.75h-7.28zM573 235.98h7.28v0.75h-7.28zM580.3 230.46h7.28v0.75h-7.28zM580.3 235.98h7.28v0.75h-7.28zM594.9 235.98h7.28v0.75h-7.28zM602.2 235.98h7.28v0.75h-7.28zM609.4 235.98h7.28v0.75h-7.28z" fill="#4968cc"/>
<path d="M478.3 126.31h7.28v1.05h-7.28zM478.3 200.90h7.28v0.75h-7.28zM485.6 187.10h7.28v0.75h-7.28zM543.9 233.09h7.28v0.75h-7.28zM558.5 230.11h7.28v1.97h-7.28z" fill="#4858c2"/>
<path d="M485.6 196.69h7.28v0.75h-7.28zM573 217.98h7.28v0.75h-7.28z" fill="#496ed0"/>
<path d="M485.6 209.44h7.28v0.75h-7.28z" fill="#4981d8"/>
<path d="M485.6 214.04h7.28v0.75h-7.28z" fill="#46b3c8"/>
<path d="M485.6 227.48h7.28v0.92h-7.28zM565.7 228.88h7.28v0.75h-7.28z" fill="#ddb62e"/>
<path d="M492.9 211.14h7.28v0.75h-7.28zM565.7 208.78h7.28v0.75h-7.28z" fill="#478fdb"/>
<path d="M522 208.12h7.28v0.75h-7.28zM522 227.57h7.28v0.75h-7.28z" fill="#8cc852"/>
<path d="M522 223.89h7.28v0.75h-7.28zM551.2 224.20h7.28v2.63h-7.28z" fill="#f6bf2f"/>
<path d="M551.2 197.92h7.28v1.97h-7.28z" fill="#4854be"/>
<path d="M551.2 214.34h7.28v1.97h-7.28z" fill="#4886d9"/>
<path d="M558.5 173.61h7.28v44.02h-7.28z" fill="#f0ec24"/>
<path d="M565.7 174.66h7.28v0.92h-7.28zM580.3 229.14h7.28v0.75h-7.28zM587.6 229.80h7.28v0.75h-7.28zM594.9 178.82h7.28v0.75h-7.28z" fill="#f2ae2e"/>
<path d="M565.7 224.20h7.28v2.63h-7.28z" fill="#f8c930"/>
<path d="M565.7 226.83h7.28v0.92h-7.28z" fill="#f2e626"/>
<path d="M565.7 230.77h7.28v2.23h-7.28zM573 211.06h7.28v1.31h-7.28zM616.7 230.77h7.28v0.92h-7.28z" fill="#474fb8"/>
<path d="M573 227.83h7.28v0.75h-7.28z" fill="#48c0b0"/>
<path d="M580.3 226.12h7.28v0.75h-7.28z" fill="#6ac474"/>
<path d="M587.6 227.17h7.28v0.75h-7.28z" fill="#85c759"/>
<path d="M602.2 232.08h7.28v1.31h-7.28z" fill="#443fa8"/>
<path d="M602.2 233.79h7.28v1.84h-7.28z" fill="#f8d62e"/>
<path d="M609.4 211.41h7.28v0.75h-7.28z" fill="#488ada"/>
<path d="M616.7 215.00h7.28v1.31h-7.28z" fill="#4698dd"/>
<path d="M616.7 237.03h7.28v0.75h-7.28z" fill="#fad030"/>
<line x1="478.3" y1="22.2" x2="478.3" y2="238.7" stroke="#2b3a3a" stroke-width="0.8" stroke-dasharray="3.2 2.6"/>
<line x1="551.2" y1="22.2" x2="551.2" y2="238.7" stroke="#2b3a3a" stroke-width="0.8" stroke-dasharray="3.2 2.6"/>
<rect x="405.5" y="22.2" width="225.8" height="216.5" fill="none" stroke="#666" stroke-width="0.6"/>
<defs><linearGradient id="cbC" x1="0" y1="0" x2="0" y2="1"><stop offset="0.000" stop-color="#f0ec24"/><stop offset="0.100" stop-color="#fad030"/><stop offset="0.200" stop-color="#f2ae2e"/><stop offset="0.250" stop-color="#d8b82e"/><stop offset="0.300" stop-color="#b4c334"/><stop offset="0.350" stop-color="#8cc852"/><stop offset="0.400" stop-color="#6ac474"/><stop offset="0.500" stop-color="#48c0b0"/><stop offset="0.600" stop-color="#44a6e0"/><stop offset="0.700" stop-color="#4a78d6"/><stop offset="0.800" stop-color="#4858c2"/><stop offset="0.900" stop-color="#4646af"/><stop offset="1.000" stop-color="#4338a1"/></linearGradient></defs>
<rect x="636.8" y="22.2" width="13.4" height="216.9" fill="url(#cbC)" stroke="#4a4a4a" stroke-width="0.6"/>
<path d="M650.2 43.9h-1.8M650.2 65.6h-1.8M650.2 87.3h-1.8M650.2 109h-1.8M650.2 130.7h-1.8M650.2 152.3h-1.8M650.2 174h-1.8M650.2 195.7h-1.8M650.2 217.4h-1.8" stroke="#333" stroke-width="0.6"/>
<text x="653" y="25.9" font-size="8.8" text-anchor="start" fill="#1a1a1a" stroke-width="0.18">0.5</text>
<text x="653" y="134.1" font-size="8.8" text-anchor="start" fill="#1a1a1a" stroke-width="0.18">0</text>
<text x="653" y="241.4" font-size="8.8" text-anchor="start" fill="#1a1a1a" stroke-width="0.18">-0.5</text>
<text x="403.6" y="25" font-size="8.3" text-anchor="end" fill="#1a1a1a" stroke-width="0.18">1</text>
<text x="402.4" y="241.3" font-size="8.3" text-anchor="end" fill="#1a1a1a" stroke-width="0.18">320</text>
<text x="397.6" y="118" font-size="8.3" text-anchor="middle" fill="#1a1a1a" transform="rotate(-90 397.6 118)" stroke-width="0.18">#Hidden layer neurons</text>
<text x="407.6" y="247.2" font-size="8.3" text-anchor="middle" fill="#1a1a1a" stroke-width="0.18">1</text>
<text x="437.7" y="247.2" font-size="8.3" text-anchor="middle" fill="#1a1a1a" stroke-width="0.18">5</text>
<text x="482.4" y="247.2" font-size="8.3" text-anchor="middle" fill="#1a1a1a" stroke-width="0.18">1</text>
<text x="513.1" y="247.2" font-size="8.3" text-anchor="middle" fill="#1a1a1a" stroke-width="0.18">5</text>
<text x="553" y="247.2" font-size="8.3" text-anchor="middle" fill="#1a1a1a" stroke-width="0.18">0</text>
<text x="590.3" y="247.2" font-size="8.3" text-anchor="middle" fill="#1a1a1a" stroke-width="0.18">5</text>
<text x="443.2" y="256" font-size="8.3" text-anchor="middle" fill="#1a1a1a" stroke-width="0.18">Right trials back</text>
<text x="521.5" y="256" font-size="8.3" text-anchor="middle" fill="#1a1a1a" stroke-width="0.18">Left trials back</text>
<text x="571.6" y="256" font-size="8.3" text-anchor="start" fill="#1a1a1a" stroke-width="0.18">Current and</text>
<text x="571.6" y="265.8" font-size="8.3" text-anchor="start" fill="#1a1a1a" stroke-width="0.18">past choices</text>
<text x="394.3" y="281.3" font-size="13" text-anchor="start" fill="#111" stroke-width="0.18">D</text>
<path d="M471.8 298.9V465.4M442.3 439.4H631.3M501.4 298.9V465.4M442.3 413.4H631.3M530.9 298.9V465.4M442.3 387.4H631.3M560.4 298.9V465.4M442.3 361.3H631.3M589.9 298.9V465.4M442.3 335.3H631.3M619.5 298.9V465.4M442.3 309.3H631.3" stroke="#e2e2e2" stroke-width="0.8" fill="none"/>
<line x1="442" y1="298.9" x2="442" y2="465.9" stroke="#a6a6a6" stroke-width="1.7"/>
<line x1="441.8" y1="465.4" x2="631.3" y2="465.4" stroke="#3a3a3a" stroke-width="1.0"/>
<path d="M442.3 465.4h-2M442.3 465.4v2M442.3 439.4h-2M471.8 465.4v2M442.3 413.4h-2M501.4 465.4v2M442.3 387.4h-2M530.9 465.4v2M442.3 361.3h-2M560.4 465.4v2M442.3 335.3h-2M589.9 465.4v2M442.3 309.3h-2M619.5 465.4v2" stroke="#3a3a3a" stroke-width="0.8" fill="none"/>
<circle cx="448.2" cy="460.2" r="4.4" fill="#b6db66"/>
<circle cx="465.9" cy="444.6" r="3.7" fill="#6db666"/>
<circle cx="601.7" cy="324.9" r="3.7" fill="#6db666"/>
<circle cx="584" cy="340.5" r="3.7" fill="#6db666"/>
<circle cx="572.2" cy="350.9" r="3.5" fill="#5bad66"/>
<circle cx="471.8" cy="439.4" r="3.3" fill="#49a466"/>
<circle cx="495.4" cy="418.6" r="3.3" fill="#49a466"/>
<circle cx="513.2" cy="403" r="3.3" fill="#49a466"/>
<circle cx="507.3" cy="408.2" r="3.1" fill="#379b66"/>
<circle cx="619.5" cy="309.3" r="3.1" fill="#379b66"/>
<circle cx="613.5" cy="314.5" r="3.1" fill="#379b66"/>
<circle cx="595.8" cy="330.1" r="3.1" fill="#379b66"/>
<circle cx="566.3" cy="356.1" r="3.1" fill="#379b66"/>
<circle cx="454.1" cy="455" r="3" fill="#249266"/>
<circle cx="448.2" cy="455" r="2.6" fill="#008066"/>
<circle cx="483.6" cy="455" r="2.6" fill="#008066"/>
<circle cx="465.9" cy="439.4" r="2.6" fill="#008066"/>
<circle cx="448.2" cy="439.4" r="2.6" fill="#008066"/>
<circle cx="448.2" cy="429" r="2.6" fill="#008066"/>
<circle cx="477.7" cy="434.2" r="2.6" fill="#008066"/>
<circle cx="501.4" cy="413.4" r="2.6" fill="#008066"/>
<circle cx="519.1" cy="429" r="2.6" fill="#008066"/>
<circle cx="536.8" cy="449.8" r="2.6" fill="#008066"/>
<circle cx="589.9" cy="455" r="2.6" fill="#008066"/>
<circle cx="595.8" cy="423.8" r="2.6" fill="#008066"/>
<circle cx="613.5" cy="408.2" r="2.6" fill="#008066"/>
<circle cx="448.2" cy="319.7" r="2.6" fill="#008066"/>
<circle cx="460" cy="324.9" r="2.6" fill="#008066"/>
<circle cx="465.9" cy="330.1" r="2.6" fill="#008066"/>
<circle cx="477.7" cy="335.3" r="2.6" fill="#008066"/>
<circle cx="495.4" cy="324.9" r="2.6" fill="#008066"/>
<circle cx="507.3" cy="335.3" r="2.6" fill="#008066"/>
<circle cx="513.2" cy="330.1" r="2.6" fill="#008066"/>
<circle cx="513.2" cy="340.5" r="2.6" fill="#008066"/>
<circle cx="507.3" cy="345.7" r="2.6" fill="#008066"/>
<circle cx="536.8" cy="340.5" r="2.6" fill="#008066"/>
<circle cx="548.6" cy="330.1" r="2.6" fill="#008066"/>
<circle cx="554.5" cy="330.1" r="2.6" fill="#008066"/>
<circle cx="477.7" cy="376.9" r="2.6" fill="#008066"/>
<circle cx="530.9" cy="387.4" r="2.6" fill="#008066"/>
<circle cx="589.9" cy="304.1" r="2.6" fill="#008066"/>
<circle cx="625.4" cy="304.1" r="2.6" fill="#008066"/>
<circle cx="578.1" cy="314.5" r="2.6" fill="#008066"/>
<circle cx="607.6" cy="319.7" r="2.6" fill="#008066"/>
<circle cx="625.4" cy="319.7" r="2.6" fill="#008066"/>
<circle cx="572.2" cy="324.9" r="2.6" fill="#008066"/>
<circle cx="595.8" cy="324.9" r="2.6" fill="#008066"/>
<circle cx="572.2" cy="335.3" r="2.6" fill="#008066"/>
<circle cx="589.9" cy="340.5" r="2.6" fill="#008066"/>
<circle cx="607.6" cy="340.5" r="2.6" fill="#008066"/>
<circle cx="595.8" cy="356.1" r="2.6" fill="#008066"/>
<circle cx="607.6" cy="361.3" r="2.6" fill="#008066"/>
<text x="539.7" y="296.8" font-size="9.05" text-anchor="middle" fill="#1a1a1a" stroke-width="0.18" xml:space="preserve">Lag + sign overlap  |  exact-match = 28.0%</text>
<text x="437.3" y="307.5" font-size="7.4" text-anchor="end" fill="#1a1a1a" stroke-width="0.18">10</text>
<text x="437.3" y="337.6" font-size="7.4" text-anchor="end" fill="#1a1a1a" stroke-width="0.18">5</text>
<text x="437.3" y="358" font-size="7.4" text-anchor="end" fill="#1a1a1a" stroke-width="0.18">1</text>
<text x="437.3" y="389.8" font-size="7.4" text-anchor="end" fill="#1a1a1a" stroke-width="0.18">5</text>
<text x="437.3" y="411.3" font-size="7.4" text-anchor="end" fill="#1a1a1a" stroke-width="0.18">1</text>
<text x="437.3" y="441.8" font-size="7.4" text-anchor="end" fill="#1a1a1a" stroke-width="0.18">5</text>
<text x="437.3" y="462.8" font-size="7.4" text-anchor="end" fill="#1a1a1a" stroke-width="0.18">1</text>
<text x="447.8" y="475.6" font-size="7.4" text-anchor="middle" fill="#1a1a1a" stroke-width="0.18">1</text>
<text x="471.7" y="475.6" font-size="7.4" text-anchor="middle" fill="#1a1a1a" stroke-width="0.18">5</text>
<text x="503.6" y="475.6" font-size="7.4" text-anchor="middle" fill="#1a1a1a" stroke-width="0.18">1</text>
<text x="530.5" y="475.6" font-size="7.4" text-anchor="middle" fill="#1a1a1a" stroke-width="0.18">5</text>
<text x="560.9" y="475.6" font-size="7.4" text-anchor="middle" fill="#1a1a1a" stroke-width="0.18">0</text>
<text x="589.4" y="475.6" font-size="7.4" text-anchor="middle" fill="#1a1a1a" stroke-width="0.18">5</text>
<text x="624" y="475.6" font-size="7.4" text-anchor="middle" fill="#1a1a1a" stroke-width="0.18">10</text>
<text x="472.3" y="486.5" font-size="8.45" text-anchor="middle" fill="#1a1a1a" stroke-width="0.18">Right rewards</text>
<text x="532.7" y="486.5" font-size="8.45" text-anchor="middle" fill="#1a1a1a" stroke-width="0.18">Left rewards</text>
<text x="591.2" y="486.5" font-size="8.45" text-anchor="middle" fill="#1a1a1a" stroke-width="0.18">Choices</text>
<text x="538.2" y="500.2" font-size="8.45" text-anchor="middle" fill="#1a1a1a" stroke-width="0.18" xml:space="preserve">Preferred lag  (1st half block)</text>
<text x="407.4" y="376.3" font-size="8.45" text-anchor="middle" fill="#1a1a1a" transform="rotate(-90 407.4 376.3)" stroke-width="0.18" xml:space="preserve">Preferred lag  (2nd half block)</text>
<text x="425.3" y="328.4" font-size="8.45" text-anchor="middle" fill="#1a1a1a" transform="rotate(-90 425.3 328.4)" stroke-width="0.18">Choices</text>
<text x="425.3" y="380" font-size="8.45" text-anchor="middle" fill="#1a1a1a" transform="rotate(-90 425.3 380)" stroke-width="0.18">Left rewards</text>
<text x="425.3" y="433.6" font-size="8.45" text-anchor="middle" fill="#1a1a1a" transform="rotate(-90 425.3 433.6)" stroke-width="0.18">Right rewards</text>
<defs><linearGradient id="cbD" x1="0" y1="0" x2="0" y2="1"><stop offset="0" stop-color="#ffff66"/><stop offset="1" stop-color="#008066"/></linearGradient></defs>
<rect x="636.6" y="299.0" width="10.9" height="166.5" fill="url(#cbD)" stroke="#4a4a4a" stroke-width="0.6"/>
<path d="M647.5 322.8h-1.8M647.5 346.6h-1.8M647.5 370.4h-1.8M647.5 394.1h-1.8M647.5 417.9h-1.8M647.5 441.7h-1.8" stroke="#333" stroke-width="0.6"/>
<text x="649.9" y="300.9" font-size="8.3" text-anchor="start" fill="#1a1a1a" stroke-width="0.18">8</text>
<text x="649.9" y="468.5" font-size="8.3" text-anchor="start" fill="#1a1a1a" stroke-width="0.18">1</text>
<text x="661.2" y="374.2" font-size="8.3" text-anchor="middle" fill="#1a1a1a" transform="rotate(-90 661.2 374.2)" stroke-width="0.18"># Neurons</text>
<text x="5.9" y="520.9" font-size="13" text-anchor="start" fill="#111" stroke-width="0.18">E</text>
<line x1="45.5" y1="535.8" x2="45.5" y2="697.8" stroke="#3a3a3a" stroke-width="1.1"/>
<line x1="45" y1="697.3" x2="251.2" y2="697.3" stroke="#3a3a3a" stroke-width="1.1"/>
<path d="M45.5 697.3h-2.2M45.5 677.1h-2.2M45.5 656.9h-2.2M45.5 636.7h-2.2M45.5 616.5h-2.2M45.5 596.4h-2.2M45.5 576.2h-2.2M45.5 556h-2.2M45.5 535.8h-2.2M45.5 697.3v2.2M68.3 697.3v2.2M91.1 697.3v2.2M114 697.3v2.2M136.8 697.3v2.2M159.6 697.3v2.2M182.4 697.3v2.2M205.2 697.3v2.2M228.1 697.3v2.2M250.9 697.3v2.2" stroke="#3a3a3a" stroke-width="0.8" fill="none"/>
<polyline points="45.5,648.90 68.3,684.28 91.1,694.05 114,694.45 136.8,695.88 159.6,695.88 182.4,696.28 205.2,694.45 228.1,695.27 250.9,695.47" fill="none" stroke="#2f74cf" stroke-width="1.35" stroke-linejoin="round"/>
<g fill="#2f74cf"><circle cx="45.5" cy="648.90" r="2.1"/><circle cx="68.3" cy="684.28" r="2.1"/><circle cx="91.1" cy="694.05" r="2.1"/><circle cx="114" cy="694.45" r="2.1"/><circle cx="136.8" cy="695.88" r="2.1"/><circle cx="159.6" cy="695.88" r="2.1"/><circle cx="182.4" cy="696.28" r="2.1"/><circle cx="205.2" cy="694.45" r="2.1"/><circle cx="228.1" cy="695.27" r="2.1"/><circle cx="250.9" cy="695.47" r="2.1"/></g>
<polyline points="45.5,657.85 68.3,683.47 91.1,690.79 114,692.01 136.8,695.67 159.6,695.67 182.4,692.62 205.2,695.27 228.1,694.66 250.9,695.47" fill="none" stroke="#dc4326" stroke-width="1.35" stroke-linejoin="round"/>
<g fill="#dc4326"><circle cx="45.5" cy="657.85" r="2.1"/><circle cx="68.3" cy="683.47" r="2.1"/><circle cx="91.1" cy="690.79" r="2.1"/><circle cx="114" cy="692.01" r="2.1"/><circle cx="136.8" cy="695.67" r="2.1"/><circle cx="159.6" cy="695.67" r="2.1"/><circle cx="182.4" cy="692.62" r="2.1"/><circle cx="205.2" cy="695.27" r="2.1"/><circle cx="228.1" cy="694.66" r="2.1"/><circle cx="250.9" cy="695.47" r="2.1"/></g>
<polyline points="45.5,579.34 68.3,670.05 91.1,686.72 114,690.18 136.8,692.62 159.6,691.61 182.4,691.61 205.2,689.16 228.1,689.16 250.9,693.23" fill="none" stroke="#efab16" stroke-width="1.35" stroke-linejoin="round"/>
<g fill="#efab16"><circle cx="45.5" cy="579.34" r="2.1"/><circle cx="68.3" cy="670.05" r="2.1"/><circle cx="91.1" cy="686.72" r="2.1"/><circle cx="114" cy="690.18" r="2.1"/><circle cx="136.8" cy="692.62" r="2.1"/><circle cx="159.6" cy="691.61" r="2.1"/><circle cx="182.4" cy="691.61" r="2.1"/><circle cx="205.2" cy="689.16" r="2.1"/><circle cx="228.1" cy="689.16" r="2.1"/><circle cx="250.9" cy="693.23" r="2.1"/></g>
<polyline points="45.5,545.18 68.3,648.90 91.1,678.59 114,684.69 136.8,689.16 159.6,688.35 182.4,688.35 205.2,686.72 228.1,686.72 250.9,689.57" fill="none" stroke="#1c1c1c" stroke-width="1.35" stroke-linejoin="round"/>
<g fill="#1c1c1c"><circle cx="45.5" cy="545.18" r="2.1"/><circle cx="68.3" cy="648.90" r="2.1"/><circle cx="91.1" cy="678.59" r="2.1"/><circle cx="114" cy="684.69" r="2.1"/><circle cx="136.8" cy="689.16" r="2.1"/><circle cx="159.6" cy="688.35" r="2.1"/><circle cx="182.4" cy="688.35" r="2.1"/><circle cx="205.2" cy="686.72" r="2.1"/><circle cx="228.1" cy="686.72" r="2.1"/><circle cx="250.9" cy="689.57" r="2.1"/></g>
<line x1="120.5" y1="558.9" x2="139.6" y2="558.9" stroke="#2f74cf" stroke-width="1.35"/>
<circle cx="130.1" cy="558.9" r="2.1" fill="#2f74cf"/>
<text x="144.7" y="561.8" font-size="8.3" text-anchor="start" fill="#1a1a1a" stroke-width="0.18">Reward right</text>
<line x1="120.5" y1="571.3" x2="139.6" y2="571.3" stroke="#dc4326" stroke-width="1.35"/>
<circle cx="130.1" cy="571.3" r="2.1" fill="#dc4326"/>
<text x="144.7" y="574.2" font-size="8.3" text-anchor="start" fill="#1a1a1a" stroke-width="0.18">Reward left</text>
<line x1="120.5" y1="583.7" x2="139.6" y2="583.7" stroke="#efab16" stroke-width="1.35"/>
<circle cx="130.1" cy="583.7" r="2.1" fill="#efab16"/>
<text x="144.7" y="586.6" font-size="8.3" text-anchor="start" fill="#1a1a1a" stroke-width="0.18">Choice</text>
<line x1="120.5" y1="595.8" x2="139.6" y2="595.8" stroke="#1c1c1c" stroke-width="1.35"/>
<circle cx="130.1" cy="595.8" r="2.1" fill="#1c1c1c"/>
<text x="144.7" y="598.7" font-size="8.3" text-anchor="start" fill="#1a1a1a" stroke-width="0.18">Any event</text>
<text x="40.3" y="538.9" font-size="8.3" text-anchor="end" fill="#1a1a1a" stroke-width="0.18">40</text>
<text x="40.3" y="700.3" font-size="8.3" text-anchor="end" fill="#1a1a1a" stroke-width="0.18">0</text>
<text x="23.4" y="622.1" font-size="8.3" text-anchor="middle" fill="#1a1a1a" transform="rotate(-90 23.4 622.1)" stroke-width="0.18">Percentage %</text>
<text x="45.5" y="709" font-size="8.3" text-anchor="middle" fill="#1a1a1a" stroke-width="0.18">1</text>
<text x="251.9" y="709" font-size="8.3" text-anchor="middle" fill="#1a1a1a" stroke-width="0.18">10</text>
<text x="144.7" y="713.8" font-size="8.3" text-anchor="middle" fill="#1a1a1a" stroke-width="0.18">Trials back</text>
<text x="395.8" y="746.7" font-size="13" text-anchor="start" fill="#111" stroke-width="0.18">H</text>
<line x1="441.6" y1="787.4" x2="441.6" y2="949" stroke="#3a3a3a" stroke-width="1.1"/>
<line x1="441.1" y1="948.5" x2="649.8" y2="948.5" stroke="#3a3a3a" stroke-width="1.1"/>
<path d="M441.6 948.5h-2.2M441.6 928.4h-2.2M441.6 908.2h-2.2M441.6 888.1h-2.2M441.6 868h-2.2M441.6 847.8h-2.2M441.6 827.7h-2.2M441.6 807.5h-2.2M441.6 787.4h-2.2M441.6 948.5v2.2M464.7 948.5v2.2M487.8 948.5v2.2M510.9 948.5v2.2M534 948.5v2.2M557.1 948.5v2.2M580.2 948.5v2.2M603.3 948.5v2.2M626.4 948.5v2.2M649.5 948.5v2.2" stroke="#3a3a3a" stroke-width="0.8" fill="none"/>
<polyline points="441.6,872.78 464.7,922.72 487.8,937.22 510.9,938.43 534,942.66 557.1,944.07 580.2,945.88 603.3,947.61 626.4,948.98 649.5,948.10" fill="none" stroke="#2f74cf" stroke-width="1.35" stroke-linejoin="round"/>
<g fill="#2f74cf"><circle cx="441.6" cy="872.78" r="2.1"/><circle cx="464.7" cy="922.72" r="2.1"/><circle cx="487.8" cy="937.22" r="2.1"/><circle cx="510.9" cy="938.43" r="2.1"/><circle cx="534" cy="942.66" r="2.1"/><circle cx="557.1" cy="944.07" r="2.1"/><circle cx="580.2" cy="945.88" r="2.1"/><circle cx="603.3" cy="947.61" r="2.1"/><circle cx="626.4" cy="948.98" r="2.1"/><circle cx="649.5" cy="948.10" r="2.1"/></g>
<polyline points="441.6,878.82 464.7,923.53 487.8,934.81 510.9,941.25 534,943.67 557.1,946.28 580.2,948.50 603.3,947.61 626.4,948.90 649.5,949.79" fill="none" stroke="#dc4326" stroke-width="1.35" stroke-linejoin="round"/>
<g fill="#dc4326"><circle cx="441.6" cy="878.82" r="2.1"/><circle cx="464.7" cy="923.53" r="2.1"/><circle cx="487.8" cy="934.81" r="2.1"/><circle cx="510.9" cy="941.25" r="2.1"/><circle cx="534" cy="943.67" r="2.1"/><circle cx="557.1" cy="946.28" r="2.1"/><circle cx="580.2" cy="948.50" r="2.1"/><circle cx="603.3" cy="947.61" r="2.1"/><circle cx="626.4" cy="948.90" r="2.1"/><circle cx="649.5" cy="949.79" r="2.1"/></g>
<polyline points="441.6,828.08 464.7,890.10 487.8,901.18 510.9,907.82 534,916.68 557.1,925.95 580.2,930.38 603.3,935.21 626.4,936.01 649.5,940.65" fill="none" stroke="#efab16" stroke-width="1.35" stroke-linejoin="round"/>
<g fill="#efab16"><circle cx="441.6" cy="828.08" r="2.1"/><circle cx="464.7" cy="890.10" r="2.1"/><circle cx="487.8" cy="901.18" r="2.1"/><circle cx="510.9" cy="907.82" r="2.1"/><circle cx="534" cy="916.68" r="2.1"/><circle cx="557.1" cy="925.95" r="2.1"/><circle cx="580.2" cy="930.38" r="2.1"/><circle cx="603.3" cy="935.21" r="2.1"/><circle cx="626.4" cy="936.01" r="2.1"/><circle cx="649.5" cy="940.65" r="2.1"/></g>
<polyline points="441.6,792.23 464.7,860.30 487.8,883.25 510.9,893.32 534,905.00 557.1,916.28 580.2,923.33 603.3,928.16 626.4,931.18 649.5,936.42" fill="none" stroke="#1c1c1c" stroke-width="1.35" stroke-linejoin="round"/>
<g fill="#1c1c1c"><circle cx="441.6" cy="792.23" r="2.1"/><circle cx="464.7" cy="860.30" r="2.1"/><circle cx="487.8" cy="883.25" r="2.1"/><circle cx="510.9" cy="893.32" r="2.1"/><circle cx="534" cy="905.00" r="2.1"/><circle cx="557.1" cy="916.28" r="2.1"/><circle cx="580.2" cy="923.33" r="2.1"/><circle cx="603.3" cy="928.16" r="2.1"/><circle cx="626.4" cy="931.18" r="2.1"/><circle cx="649.5" cy="936.42" r="2.1"/></g>
<line x1="575.5" y1="791.9" x2="594.6" y2="791.9" stroke="#2f74cf" stroke-width="1.35"/>
<circle cx="584.9" cy="791.9" r="2.1" fill="#2f74cf"/>
<text x="600.3" y="794.8" font-size="8.3" text-anchor="start" fill="#1a1a1a" stroke-width="0.18">Reward right</text>
<line x1="575.5" y1="804.6" x2="594.6" y2="804.6" stroke="#dc4326" stroke-width="1.35"/>
<circle cx="584.9" cy="804.6" r="2.1" fill="#dc4326"/>
<text x="600.3" y="807.5" font-size="8.3" text-anchor="start" fill="#1a1a1a" stroke-width="0.18">Reward left</text>
<line x1="575.5" y1="817.5" x2="594.6" y2="817.5" stroke="#efab16" stroke-width="1.35"/>
<circle cx="584.9" cy="817.5" r="2.1" fill="#efab16"/>
<text x="600.3" y="820.4" font-size="8.3" text-anchor="start" fill="#1a1a1a" stroke-width="0.18">Choice</text>
<line x1="575.5" y1="829.6" x2="594.6" y2="829.6" stroke="#1c1c1c" stroke-width="1.35"/>
<circle cx="584.9" cy="829.6" r="2.1" fill="#1c1c1c"/>
<text x="600.3" y="832.5" font-size="8.3" text-anchor="start" fill="#1a1a1a" stroke-width="0.18">Any event</text>
<text x="435.2" y="790.9" font-size="8.3" text-anchor="end" fill="#1a1a1a" stroke-width="0.18">40</text>
<text x="435.2" y="951.5" font-size="8.3" text-anchor="end" fill="#1a1a1a" stroke-width="0.18">0</text>
<text x="419.2" y="869.8" font-size="8.3" text-anchor="middle" fill="#1a1a1a" transform="rotate(-90 419.2 869.8)" stroke-width="0.18">Percentage %</text>
<text x="441.6" y="961.3" font-size="8.3" text-anchor="middle" fill="#1a1a1a" stroke-width="0.18">1</text>
<text x="646.7" y="961.3" font-size="8.3" text-anchor="middle" fill="#1a1a1a" stroke-width="0.18">10</text>
<text x="546.1" y="969.6" font-size="8.3" text-anchor="middle" fill="#1a1a1a" stroke-width="0.18">Trials back</text>
<text x="394.7" y="521.2" font-size="13" text-anchor="start" fill="#111" stroke-width="0.18">F</text>
<defs><marker id="ah" viewBox="0 0 10 10" refX="8.5" refY="5" markerWidth="5.6" markerHeight="5.6" orient="auto-start-reverse" markerUnits="userSpaceOnUse"><path d="M0 1.2L10 5L0 8.8Z" fill="#111"/></marker></defs>
<path d="M545.6 606.6A35.45 35.45 0 1 0 482.6 601.4" fill="none" stroke="#111" stroke-width="1.45" marker-end="url(#ah)"/>
<rect x="484.6" y="594.6" width="60.6" height="60" rx="7.8" ry="7.8" fill="#fff" stroke="#1f3864" stroke-width="1.75"/>
<text x="514" y="618.7" font-size="11.6" text-anchor="middle" fill="#111" stroke-width="0.18">RNN</text>
<text x="513.8" y="632.8" font-size="11.6" text-anchor="middle" fill="#111" stroke-width="0.18">n units</text>
<circle cx="426" cy="594.8" r="17.05" fill="#fff" stroke="#1f3864" stroke-width="1.8"/>
<circle cx="426" cy="654.7" r="17.05" fill="#fff" stroke="#1f3864" stroke-width="1.8"/>
<circle cx="613.8" cy="594.6" r="17.05" fill="#fff" stroke="#1f3864" stroke-width="1.8"/>
<circle cx="613.8" cy="654.4" r="17.05" fill="#fff" stroke="#1f3864" stroke-width="1.8"/>
<g stroke="#111" stroke-width="1.45" fill="none">
<line x1="443.6" y1="595.1" x2="483.6" y2="606.9" marker-end="url(#ah)"/>
<line x1="443.6" y1="654.4" x2="483.6" y2="641.0" marker-end="url(#ah)"/>
<line x1="545.4" y1="624.6" x2="596.2" y2="595.5" marker-end="url(#ah)"/>
<line x1="545.4" y1="624.6" x2="596.2" y2="653.9" marker-end="url(#ah)"/>
</g>
<text x="426" y="598" font-size="8.5" text-anchor="middle" fill="#1a1a1a" font-style="italic" stroke-width="0.18">R(t)</text>
<text x="426" y="658" font-size="8.5" text-anchor="middle" fill="#1a1a1a" font-style="italic" stroke-width="0.18">δ(t)</text>
<text x="603.8" y="598.0" font-size="8.5" font-style="italic" fill="#1a1a1a">O<tspan font-size="4.6" dy="2.2">1</tspan><tspan dy="-2.2">(t)</tspan></text>
<text x="603.8" y="657.8" font-size="8.5" font-style="italic" fill="#1a1a1a">O<tspan font-size="4.6" dy="2.2">2</tspan><tspan dy="-2.2">(t)</tspan></text>
<text x="560.5" y="549.8" font-size="8.8" text-anchor="start" fill="#1a1a1a" stroke-width="0.18">Target:</text>
<text x="560.5" y="681.2" font-size="8.8" text-anchor="start" fill="#1a1a1a" stroke-width="0.18">Target:</text>
<text x="598.9" y="564.3" font-size="9.15" font-style="italic" fill="#1a1a1a" xml:space="preserve">Q<tspan font-size="5" dy="2.3">R</tspan><tspan dy="-2.3">(t)</tspan>+ ΦF<tspan font-size="5" dy="2.3">R</tspan><tspan dy="-2.3">(t)</tspan> + θS<tspan font-size="5" dy="2.3">R</tspan><tspan dy="-2.3">(t)</tspan></text>
<text x="598.9" y="689.8" font-size="9.15" font-style="italic" fill="#1a1a1a" xml:space="preserve">Q<tspan font-size="5" dy="2.3">L</tspan><tspan dy="-2.3">(t)</tspan>+ ΦF<tspan font-size="5" dy="2.3">L</tspan><tspan dy="-2.3">(t)</tspan> + θS<tspan font-size="5" dy="2.3">L</tspan><tspan dy="-2.3">(t)</tspan></text>
<text x="6.2" y="746.5" font-size="13" text-anchor="start" fill="#111" stroke-width="0.18">G</text>
<rect x="41.6" y="761.3" width="220.3" height="210.9" fill="#48c0b0"/>

<path d="M205 960.31h7.11v0.52h-7.11zM205 904.85h7.11v0.52h-7.11zM205 767.05h7.11v0.52h-7.11zM205 871.31h7.11v0.52h-7.11zM190.8 907.67h7.11v0.52h-7.11zM190.8 805.86h7.11v0.52h-7.11zM197.9 872.04h7.11v0.52h-7.11zM197.9 895.15h7.11v0.52h-7.11zM226.4 904.45h7.11v0.52h-7.11zM226.4 948.63h7.11v0.52h-7.11zM226.4 859.52h7.11v0.52h-7.11zM219.2 802.66h7.11v0.52h-7.11zM254.8 852.26h7.11v0.52h-7.11zM183.7 844.45h7.11v0.52h-7.11zM183.7 814.24h7.11v0.52h-7.11zM183.7 799.47h7.11v0.52h-7.11zM183.7 922.47h7.11v0.52h-7.11zM183.7 808.73h7.11v0.52h-7.11zM183.7 884.71h7.11v0.52h-7.11zM183.7 918.92h7.11v0.52h-7.11zM233.5 965.33h7.11v0.52h-7.11zM233.5 811.18h7.11v0.52h-7.11zM240.6 849.60h7.11v0.52h-7.11zM240.6 893.88h7.11v0.52h-7.11z" fill="#5cc28c"/>
<path d="M205 886.48h7.11v0.52h-7.11zM205 947.61h7.11v0.52h-7.11zM205 844.00h7.11v0.52h-7.11zM205 783.97h7.11v0.52h-7.11zM205 801.02h7.11v0.52h-7.11zM197.9 781.29h7.11v0.52h-7.11zM197.9 960.96h7.11v0.52h-7.11zM197.9 853.46h7.11v0.52h-7.11zM197.9 825.18h7.11v0.52h-7.11zM197.9 817.70h7.11v0.52h-7.11zM197.9 937.90h7.11v0.52h-7.11zM247.7 960.28h7.11v0.52h-7.11zM247.7 895.79h7.11v0.52h-7.11zM247.7 820.71h7.11v0.52h-7.11zM226.4 823.55h7.11v0.52h-7.11zM226.4 947.15h7.11v0.52h-7.11zM226.4 828.04h7.11v0.52h-7.11zM219.2 813.43h7.11v0.52h-7.11zM212.1 796.80h7.11v0.52h-7.11zM212.1 769.42h7.11v0.52h-7.11zM212.1 950.66h7.11v0.52h-7.11zM212.1 917.98h7.11v0.52h-7.11zM212.1 894.40h7.11v0.52h-7.11zM254.8 967.09h7.11v0.52h-7.11zM254.8 819.78h7.11v0.52h-7.11zM254.8 918.08h7.11v0.52h-7.11zM183.7 959.35h7.11v0.52h-7.11zM183.7 827.00h7.11v0.52h-7.11zM183.7 841.05h7.11v0.52h-7.11zM183.7 894.08h7.11v0.52h-7.11zM233.5 968.70h7.11v0.52h-7.11zM233.5 908.75h7.11v0.52h-7.11zM233.5 772.10h7.11v0.52h-7.11zM240.6 833.00h7.11v0.52h-7.11zM240.6 933.94h7.11v0.52h-7.11zM240.6 953.32h7.11v0.52h-7.11zM62.9 821.00h7.11v0.52h-7.11zM62.9 878.27h7.11v0.52h-7.11zM70 836.10h7.11v0.52h-7.11zM134 917.34h7.11v0.52h-7.11zM155.3 967.21h7.11v0.52h-7.11zM155.3 965.25h7.11v0.52h-7.11zM77.1 814.57h7.11v0.52h-7.11zM162.4 926.94h7.11v0.52h-7.11zM148.2 762.91h7.11v0.52h-7.11zM148.2 927.75h7.11v0.52h-7.11zM84.2 961.13h7.11v0.52h-7.11zM105.6 829.25h7.11v0.52h-7.11zM105.6 836.53h7.11v0.52h-7.11z" fill="#52c19e"/>
<path d="M205 904.94h7.11v0.52h-7.11zM205 816.52h7.11v0.52h-7.11zM205 926.33h7.11v0.52h-7.11zM205 927.30h7.11v0.52h-7.11zM205 907.59h7.11v0.52h-7.11zM205 887.92h7.11v0.52h-7.11zM205 782.22h7.11v0.52h-7.11zM190.8 863.81h7.11v0.52h-7.11zM190.8 763.10h7.11v0.52h-7.11zM190.8 970.39h7.11v0.52h-7.11zM190.8 890.87h7.11v0.52h-7.11zM197.9 908.38h7.11v0.52h-7.11zM197.9 970.44h7.11v0.52h-7.11zM197.9 784.75h7.11v0.52h-7.11zM197.9 811.53h7.11v0.52h-7.11zM197.9 870.59h7.11v0.52h-7.11zM247.7 921.42h7.11v0.52h-7.11zM226.4 762.39h7.11v0.52h-7.11zM219.2 846.23h7.11v0.52h-7.11zM219.2 913.84h7.11v0.52h-7.11zM212.1 966.13h7.11v0.52h-7.11zM212.1 910.53h7.11v0.52h-7.11zM212.1 852.62h7.11v0.52h-7.11zM254.8 962.12h7.11v0.52h-7.11zM254.8 872.59h7.11v0.52h-7.11zM233.5 772.49h7.11v0.52h-7.11zM240.6 953.27h7.11v0.52h-7.11zM240.6 963.68h7.11v0.52h-7.11z" fill="#60c386"/>
<path d="M205 967.42h7.11v0.52h-7.11zM205 806.17h7.11v0.52h-7.11zM205 788.64h7.11v0.52h-7.11zM197.9 928.26h7.11v0.52h-7.11zM197.9 889.53h7.11v0.52h-7.11zM197.9 863.76h7.11v0.52h-7.11zM197.9 925.90h7.11v0.52h-7.11zM197.9 927.44h7.11v0.52h-7.11zM197.9 810.99h7.11v0.52h-7.11zM197.9 810.86h7.11v0.52h-7.11zM197.9 804.78h7.11v0.52h-7.11zM197.9 921.53h7.11v0.52h-7.11zM247.7 810.08h7.11v0.52h-7.11zM247.7 929.01h7.11v0.52h-7.11zM226.4 796.35h7.11v0.52h-7.11zM226.4 898.03h7.11v0.52h-7.11zM226.4 891.83h7.11v0.52h-7.11zM219.2 797.70h7.11v0.52h-7.11zM219.2 770.86h7.11v0.52h-7.11zM212.1 804.32h7.11v0.52h-7.11zM212.1 961.58h7.11v0.52h-7.11zM212.1 908.25h7.11v0.52h-7.11zM254.8 838.41h7.11v0.52h-7.11zM254.8 846.03h7.11v0.52h-7.11zM254.8 935.38h7.11v0.52h-7.11zM183.7 803.03h7.11v0.52h-7.11zM183.7 772.43h7.11v0.52h-7.11zM183.7 807.67h7.11v0.52h-7.11zM233.5 960.09h7.11v0.52h-7.11zM233.5 892.66h7.11v0.52h-7.11zM233.5 920.17h7.11v0.52h-7.11zM233.5 932.70h7.11v0.52h-7.11zM233.5 827.87h7.11v0.52h-7.11zM233.5 949.24h7.11v0.52h-7.11zM233.5 915.55h7.11v0.52h-7.11zM240.6 877.06h7.11v0.52h-7.11zM240.6 802.53h7.11v0.52h-7.11zM240.6 784.26h7.11v0.52h-7.11zM240.6 816.07h7.11v0.52h-7.11zM62.9 796.73h7.11v0.52h-7.11zM62.9 883.17h7.11v0.52h-7.11zM70 861.19h7.11v0.52h-7.11zM70 908.63h7.11v0.52h-7.11zM141.1 834.70h7.11v0.52h-7.11zM148.2 836.44h7.11v0.52h-7.11zM176.6 836.59h7.11v0.52h-7.11zM176.6 945.37h7.11v0.52h-7.11zM119.8 833.63h7.11v0.52h-7.11z" fill="#47b8be"/>
<path d="M205 965.48h7.11v0.52h-7.11zM205 842.05h7.11v0.52h-7.11zM205 919.43h7.11v0.52h-7.11zM190.8 946.81h7.11v0.52h-7.11zM190.8 849.27h7.11v0.52h-7.11zM190.8 831.11h7.11v0.52h-7.11zM197.9 855.46h7.11v0.52h-7.11zM197.9 866.33h7.11v0.52h-7.11zM197.9 911.26h7.11v0.52h-7.11zM197.9 901.73h7.11v0.52h-7.11zM197.9 823.71h7.11v0.52h-7.11zM247.7 927.15h7.11v0.52h-7.11zM226.4 827.01h7.11v0.52h-7.11zM226.4 768.67h7.11v0.52h-7.11zM226.4 906.37h7.11v0.52h-7.11zM219.2 884.64h7.11v0.52h-7.11zM212.1 969.96h7.11v0.52h-7.11zM212.1 834.12h7.11v0.52h-7.11zM212.1 924.85h7.11v0.52h-7.11zM254.8 885.39h7.11v0.52h-7.11zM183.7 925.25h7.11v0.52h-7.11zM233.5 902.73h7.11v0.52h-7.11zM233.5 775.48h7.11v0.52h-7.11zM233.5 816.72h7.11v0.52h-7.11zM233.5 963.75h7.11v0.52h-7.11zM91.3 951.99h7.11v0.52h-7.11zM112.7 860.08h7.11v0.52h-7.11zM62.9 939.28h7.11v0.52h-7.11zM70 967.82h7.11v0.52h-7.11zM134 893.63h7.11v0.52h-7.11zM41.6 845.69h7.11v0.52h-7.11zM41.6 892.16h7.11v0.52h-7.11zM141.1 852.68h7.11v0.52h-7.11zM77.1 949.17h7.11v0.52h-7.11zM126.9 905.92h7.11v0.52h-7.11zM148.2 869.32h7.11v0.52h-7.11zM84.2 873.21h7.11v0.52h-7.11zM84.2 934.02h7.11v0.52h-7.11zM55.8 800.05h7.11v0.52h-7.11zM48.7 845.66h7.11v0.52h-7.11zM48.7 927.14h7.11v0.52h-7.11z" fill="#56c298"/>
<path d="M205 970.46h7.11v0.52h-7.11zM205 786.94h7.11v0.52h-7.11zM205 781.50h7.11v0.52h-7.11zM205 817.64h7.11v0.52h-7.11zM197.9 770.18h7.11v0.52h-7.11zM197.9 851.27h7.11v0.52h-7.11zM197.9 784.56h7.11v0.52h-7.11zM247.7 946.91h7.11v0.52h-7.11zM247.7 834.86h7.11v0.52h-7.11zM226.4 969.76h7.11v0.52h-7.11zM226.4 774.91h7.11v0.52h-7.11zM226.4 861.23h7.11v0.52h-7.11zM219.2 868.48h7.11v0.52h-7.11zM212.1 831.80h7.11v0.52h-7.11zM212.1 852.61h7.11v0.52h-7.11zM212.1 917.08h7.11v0.52h-7.11zM212.1 954.84h7.11v0.52h-7.11zM254.8 781.09h7.11v0.52h-7.11zM183.7 781.36h7.11v0.52h-7.11zM233.5 821.99h7.11v0.52h-7.11zM233.5 966.25h7.11v0.52h-7.11zM233.5 923.80h7.11v0.52h-7.11zM233.5 829.88h7.11v0.52h-7.11zM112.7 961.97h7.11v0.52h-7.11zM62.9 809.22h7.11v0.52h-7.11zM155.3 967.92h7.11v0.52h-7.11zM169.5 918.80h7.11v0.52h-7.11zM141.1 840.66h7.11v0.52h-7.11z" fill="#59c292"/>
<path d="M205 962.36h7.11v0.52h-7.11zM205 784.71h7.11v0.52h-7.11zM190.8 779.68h7.11v0.52h-7.11zM190.8 831.64h7.11v0.52h-7.11zM197.9 772.08h7.11v0.52h-7.11zM197.9 918.29h7.11v0.52h-7.11zM197.9 770.62h7.11v0.52h-7.11zM197.9 914.67h7.11v0.52h-7.11zM197.9 871.88h7.11v0.52h-7.11zM197.9 827.45h7.11v0.52h-7.11zM197.9 890.97h7.11v0.52h-7.11zM197.9 817.32h7.11v0.52h-7.11zM247.7 823.36h7.11v0.52h-7.11zM247.7 801.67h7.11v0.52h-7.11zM219.2 822.00h7.11v0.52h-7.11zM219.2 775.42h7.11v0.52h-7.11zM219.2 826.59h7.11v0.52h-7.11zM219.2 878.30h7.11v0.52h-7.11zM212.1 842.31h7.11v0.52h-7.11zM212.1 922.47h7.11v0.52h-7.11zM212.1 946.86h7.11v0.52h-7.11zM212.1 884.23h7.11v0.52h-7.11zM254.8 884.15h7.11v0.52h-7.11zM254.8 920.28h7.11v0.52h-7.11zM254.8 919.92h7.11v0.52h-7.11zM183.7 787.76h7.11v0.52h-7.11zM233.5 968.01h7.11v0.52h-7.11zM233.5 769.41h7.11v0.52h-7.11zM233.5 925.87h7.11v0.52h-7.11zM233.5 780.35h7.11v0.52h-7.11zM240.6 781.37h7.11v0.52h-7.11zM240.6 770.61h7.11v0.52h-7.11zM240.6 793.95h7.11v0.52h-7.11zM112.7 931.23h7.11v0.52h-7.11zM112.7 850.57h7.11v0.52h-7.11zM62.9 949.22h7.11v0.52h-7.11zM134 819.54h7.11v0.52h-7.11zM41.6 766.64h7.11v0.52h-7.11zM169.5 940.38h7.11v0.52h-7.11zM169.5 951.53h7.11v0.52h-7.11zM77.1 844.32h7.11v0.52h-7.11zM77.1 789.35h7.11v0.52h-7.11zM126.9 927.69h7.11v0.52h-7.11zM162.4 807.85h7.11v0.52h-7.11zM176.6 966.43h7.11v0.52h-7.11zM84.2 860.33h7.11v0.52h-7.11zM105.6 921.05h7.11v0.52h-7.11zM105.6 788.99h7.11v0.52h-7.11zM119.8 894.59h7.11v0.52h-7.11z" fill="#46b6c3"/>
<path d="M205 858.58h7.11v0.52h-7.11zM205 919.59h7.11v0.52h-7.11zM205 831.44h7.11v0.52h-7.11zM205 892.38h7.11v0.52h-7.11zM190.8 875.27h7.11v0.52h-7.11zM190.8 959.65h7.11v0.52h-7.11zM190.8 894.85h7.11v0.52h-7.11zM190.8 862.39h7.11v0.52h-7.11zM190.8 847.19h7.11v0.52h-7.11zM190.8 845.84h7.11v0.52h-7.11zM190.8 771.54h7.11v0.52h-7.11zM197.9 833.92h7.11v0.52h-7.11zM197.9 935.53h7.11v0.52h-7.11zM197.9 797.93h7.11v0.52h-7.11zM247.7 866.16h7.11v0.52h-7.11zM247.7 813.22h7.11v0.52h-7.11zM226.4 941.79h7.11v0.52h-7.11zM226.4 891.65h7.11v0.52h-7.11zM219.2 836.59h7.11v0.52h-7.11zM219.2 896.58h7.11v0.52h-7.11zM212.1 796.11h7.11v0.52h-7.11zM212.1 937.66h7.11v0.52h-7.11zM183.7 889.80h7.11v0.52h-7.11zM183.7 867.12h7.11v0.52h-7.11zM233.5 817.64h7.11v0.52h-7.11zM233.5 898.03h7.11v0.52h-7.11zM233.5 908.05h7.11v0.52h-7.11z" fill="#46b3c8"/>
<path d="M205 791.87h7.11v0.52h-7.11zM205 914.40h7.11v0.52h-7.11zM190.8 832.94h7.11v0.52h-7.11zM190.8 804.49h7.11v0.52h-7.11zM190.8 835.75h7.11v0.52h-7.11zM190.8 792.55h7.11v0.52h-7.11zM197.9 902.17h7.11v0.52h-7.11zM197.9 876.59h7.11v0.52h-7.11zM247.7 867.93h7.11v0.52h-7.11zM226.4 836.61h7.11v0.52h-7.11zM226.4 849.45h7.11v0.52h-7.11zM226.4 946.89h7.11v0.52h-7.11zM226.4 782.33h7.11v0.52h-7.11zM212.1 834.20h7.11v0.52h-7.11zM212.1 856.85h7.11v0.52h-7.11zM254.8 931.83h7.11v0.52h-7.11zM254.8 896.69h7.11v0.52h-7.11zM254.8 865.89h7.11v0.52h-7.11zM254.8 873.85h7.11v0.52h-7.11zM183.7 811.66h7.11v0.52h-7.11zM183.7 952.64h7.11v0.52h-7.11zM233.5 965.33h7.11v0.52h-7.11zM233.5 956.70h7.11v0.52h-7.11zM233.5 953.44h7.11v0.52h-7.11zM240.6 933.39h7.11v0.52h-7.11z" fill="#45aed2"/>
<path d="M190.8 933.87h7.11v0.52h-7.11zM190.8 918.10h7.11v0.52h-7.11zM190.8 969.80h7.11v0.52h-7.11zM190.8 792.82h7.11v0.52h-7.11z" fill="#459dde"/>
<path d="M190.8 849.85h7.11v0.52h-7.11zM190.8 944.95h7.11v0.52h-7.11zM190.8 822.83h7.11v0.52h-7.11zM190.8 895.64h7.11v0.52h-7.11z" fill="#7ec660"/>
<path d="M190.8 968.00h7.11v0.52h-7.11zM190.8 779.99h7.11v0.52h-7.11zM190.8 897.16h7.11v0.52h-7.11zM190.8 897.05h7.11v0.52h-7.11z" fill="#67c47a"/>
<path d="M190.8 762.40h7.11v0.52h-7.11zM190.8 836.64h7.11v0.52h-7.11zM190.8 809.73h7.11v0.52h-7.11zM190.8 933.56h7.11v0.52h-7.11zM190.8 803.90h7.11v0.52h-7.11z" fill="#6ac474"/>
<path d="M190.8 952.36h7.11v0.52h-7.11zM190.8 868.39h7.11v0.52h-7.11zM190.8 844.29h7.11v0.52h-7.11zM190.8 954.89h7.11v0.52h-7.11zM190.8 821.61h7.11v0.52h-7.11z" fill="#45abd6"/>
<path d="M190.8 768.10h7.11v0.52h-7.11zM190.8 908.70h7.11v0.52h-7.11zM190.8 958.40h7.11v0.52h-7.11z" fill="#44a6e0"/>
<path d="M190.8 952.41h7.11v0.52h-7.11zM190.8 884.65h7.11v0.52h-7.11zM190.8 844.41h7.11v0.52h-7.11zM190.8 956.18h7.11v0.52h-7.11zM190.8 877.54h7.11v0.52h-7.11z" fill="#71c56d"/>
<path d="M190.8 944.64h7.11v0.52h-7.11zM190.8 820.63h7.11v0.52h-7.11zM190.8 872.40h7.11v0.52h-7.11zM197.9 922.80h7.11v0.52h-7.11zM197.9 780.29h7.11v0.52h-7.11zM197.9 823.54h7.11v0.52h-7.11zM197.9 836.83h7.11v0.52h-7.11zM197.9 957.55h7.11v0.52h-7.11zM197.9 868.30h7.11v0.52h-7.11zM197.9 825.32h7.11v0.52h-7.11zM247.7 788.21h7.11v0.52h-7.11zM247.7 776.99h7.11v0.52h-7.11zM247.7 881.31h7.11v0.52h-7.11zM247.7 953.67h7.11v0.52h-7.11zM226.4 775.46h7.11v0.52h-7.11zM226.4 850.42h7.11v0.52h-7.11zM226.4 891.91h7.11v0.52h-7.11zM219.2 959.86h7.11v0.52h-7.11zM219.2 877.25h7.11v0.52h-7.11zM219.2 799.68h7.11v0.52h-7.11zM212.1 868.60h7.11v0.52h-7.11zM254.8 965.64h7.11v0.52h-7.11zM233.5 848.16h7.11v0.52h-7.11zM240.6 789.71h7.11v0.52h-7.11zM240.6 772.95h7.11v0.52h-7.11zM240.6 938.30h7.11v0.52h-7.11z" fill="#46b0cd"/>
<path d="M190.8 958.57h7.11v0.52h-7.11zM190.8 842.49h7.11v0.52h-7.11zM190.8 868.57h7.11v0.52h-7.11z" fill="#4698dd"/>
<path d="M190.8 970.05h7.11v0.52h-7.11zM190.8 791.95h7.11v0.52h-7.11zM190.8 864.35h7.11v0.52h-7.11zM190.8 874.69h7.11v0.52h-7.11z" fill="#44a9db"/>
<path d="M190.8 790.15h7.11v0.52h-7.11zM190.8 898.80h7.11v0.52h-7.11zM190.8 835.64h7.11v0.52h-7.11z" fill="#78c666"/>
<path d="M190.8 849.41h7.11v0.52h-7.11zM190.8 928.44h7.11v0.52h-7.11z" fill="#45a1df"/>
<path d="M190.8 887.54h7.11v0.52h-7.11zM190.8 927.75h7.11v0.52h-7.11z" fill="#63c380"/>
<path d="M91.3 913.38h7.11v0.52h-7.11zM70 816.07h7.11v0.52h-7.11zM134 892.94h7.11v0.52h-7.11zM55.8 900.04h7.11v0.52h-7.11z" fill="#4fc1a4"/>
<path d="M141.1 892.94h7.11v0.52h-7.11zM126.9 936.09h7.11v0.52h-7.11zM126.9 845.82h7.11v0.52h-7.11zM162.4 887.58h7.11v0.52h-7.11zM148.2 920.49h7.11v0.52h-7.11zM105.6 940.80h7.11v0.52h-7.11zM48.7 845.57h7.11v0.52h-7.11z" fill="#47bbba"/>
<path d="M41.6 761.75h7.11v0.25h-7.11z" fill="#4855bf"/><path d="M41.6 762.00h7.11v1.00h-7.11z" fill="#4858c2"/><path d="M41.6 763.00h7.11v1.00h-7.11z" fill="#485fc7"/><path d="M41.6 764.00h7.11v1.00h-7.11z" fill="#4967cb"/><path d="M41.6 765.00h7.11v0.83h-7.11z" fill="#496bce"/><path d="M41.6 765.03h7.11v0.97h-7.11z" fill="#4a71d2"/><path d="M41.6 766.00h7.11v1.00h-7.11z" fill="#497fd7"/><path d="M41.6 767.00h7.11v1.00h-7.11z" fill="#4790db"/><path d="M41.6 768.00h7.11v1.00h-7.11z" fill="#45a1df"/><path d="M41.6 769.00h7.11v1.65h-7.11z" fill="#45acd4"/><path d="M41.6 769.85h7.11v0.15h-7.11z" fill="#49c0af"/><path d="M41.6 770.00h7.11v1.00h-7.11z" fill="#4dc1a8"/><path d="M41.6 771.00h7.11v1.00h-7.11z" fill="#54c19b"/><path d="M41.6 772.00h7.11v1.50h-7.11z" fill="#5ac290"/><path d="M41.6 772.70h7.11v0.30h-7.11z" fill="#7dc661"/><path d="M41.6 773.00h7.11v1.00h-7.11z" fill="#97c74a"/><path d="M41.6 774.00h7.11v1.69h-7.11z" fill="#bfc032"/><path d="M41.6 774.89h7.11v0.11h-7.11z" fill="#fad030"/><path d="M41.6 775.00h7.11v1.00h-7.11z" fill="#f8d52e"/><path d="M41.6 776.00h7.11v1.00h-7.11z" fill="#f6dc2b"/><path d="M41.6 777.00h7.11v0.88h-7.11z" fill="#f4e129"/><path d="M112.7 779.27h7.11v0.73h-7.11z" fill="#4644ad"/><path d="M112.7 780.00h7.11v1.00h-7.11z" fill="#4646af"/><path d="M112.7 781.00h7.11v1.00h-7.11z" fill="#464ab3"/><path d="M112.7 782.00h7.11v1.00h-7.11z" fill="#474db6"/><path d="M112.7 783.00h7.11v1.45h-7.11z" fill="#4750b9"/><path d="M112.7 783.65h7.11v0.35h-7.11z" fill="#4962c8"/><path d="M112.7 784.00h7.11v1.00h-7.11z" fill="#496fd0"/><path d="M112.7 785.00h7.11v1.00h-7.11z" fill="#4886d9"/><path d="M112.7 786.00h7.11v1.00h-7.11z" fill="#45a1df"/><path d="M112.7 787.00h7.11v1.17h-7.11z" fill="#45aed2"/><path d="M112.7 787.37h7.11v0.63h-7.11z" fill="#59c292"/><path d="M112.7 788.00h7.11v1.00h-7.11z" fill="#61c383"/><path d="M112.7 789.00h7.11v1.00h-7.11z" fill="#6dc471"/><path d="M112.7 790.00h7.11v1.00h-7.11z" fill="#82c75c"/><path d="M112.7 791.00h7.11v1.11h-7.11z" fill="#90c74f"/><path d="M112.7 791.31h7.11v0.69h-7.11z" fill="#ebb12e"/><path d="M112.7 792.00h7.11v1.00h-7.11z" fill="#f6bf2f"/><path d="M112.7 793.00h7.11v0.94h-7.11z" fill="#f8d72d"/>
<path d="M41.6 777.08h7.11v1.09h-7.11z" fill="#f4b52e"/>
<path d="M41.6 779.27h7.11v1.53h-7.11zM91.3 777.73h7.11v0.88h-7.11zM112.7 809.05h7.11v0.66h-7.11z" fill="#a4c540"/>
<path d="M41.6 791.31h7.11v0.88h-7.11z" fill="#45abd6"/>
<path d="M41.6 792.84h7.11v0.88h-7.11z" fill="#459dde"/>
<path d="M70 777.73h7.11v0.88h-7.11z" fill="#496ed0"/>
<path d="M70 798.10h7.11v0.66h-7.11zM112.7 772.70h7.11v0.88h-7.11z" fill="#46b3c8"/>
<path d="M112.7 762.41h7.11v2.63h-7.11z" fill="#78c666"/>
<path d="M112.7 775.98h7.11v1.09h-7.11z" fill="#4646af"/>
<path d="M183.7 796.00h7.11v1.00h-7.11z" fill="#443ba4"/><path d="M183.7 797.00h7.11v1.00h-7.11z" fill="#443ba4"/><path d="M183.7 798.00h7.11v1.00h-7.11z" fill="#443ba4"/><path d="M183.7 799.00h7.11v1.00h-7.11z" fill="#443ca5"/><path d="M183.7 800.00h7.11v1.00h-7.11z" fill="#443ca5"/><path d="M183.7 801.00h7.11v1.00h-7.11z" fill="#443ca5"/><path d="M183.7 802.00h7.11v1.00h-7.11z" fill="#443ca5"/><path d="M183.7 803.00h7.11v1.00h-7.11z" fill="#443ca5"/><path d="M183.7 804.00h7.11v1.00h-7.11z" fill="#443da6"/><path d="M183.7 805.00h7.11v1.00h-7.11z" fill="#443da6"/><path d="M183.7 806.00h7.11v1.00h-7.11z" fill="#443da6"/><path d="M183.7 807.00h7.11v1.00h-7.11z" fill="#443da6"/><path d="M183.7 808.00h7.11v1.00h-7.11z" fill="#443da6"/><path d="M183.7 809.00h7.11v0.92h-7.11z" fill="#443ea7"/><path d="M183.7 809.12h7.11v0.88h-7.11z" fill="#443fa8"/><path d="M183.7 810.00h7.11v1.00h-7.11z" fill="#4541aa"/><path d="M183.7 811.00h7.11v1.00h-7.11z" fill="#4644ad"/><path d="M183.7 812.00h7.11v1.00h-7.11z" fill="#4646af"/><path d="M183.7 813.00h7.11v1.00h-7.11z" fill="#464ab3"/><path d="M183.7 814.00h7.11v1.00h-7.11z" fill="#474db6"/><path d="M183.7 815.00h7.11v1.00h-7.11z" fill="#4750ba"/><path d="M183.7 816.00h7.11v1.00h-7.11z" fill="#4753bd"/><path d="M183.7 817.00h7.11v1.68h-7.11z" fill="#4857c0"/><path d="M183.7 817.88h7.11v0.12h-7.11z" fill="#4858c2"/><path d="M183.7 818.00h7.11v1.00h-7.11z" fill="#485dc5"/><path d="M183.7 819.00h7.11v1.00h-7.11z" fill="#4964ca"/><path d="M183.7 820.00h7.11v1.00h-7.11z" fill="#496cce"/><path d="M183.7 821.00h7.11v1.00h-7.11z" fill="#4a73d3"/><path d="M183.7 822.00h7.11v1.00h-7.11z" fill="#497cd7"/><path d="M183.7 823.00h7.11v1.00h-7.11z" fill="#4887d9"/><path d="M183.7 824.00h7.11v1.00h-7.11z" fill="#4792dc"/><path d="M183.7 825.00h7.11v1.34h-7.11z" fill="#469add"/><path d="M183.7 825.54h7.11v0.46h-7.11z" fill="#459ede"/><path d="M183.7 826.00h7.11v1.00h-7.11z" fill="#45a2df"/><path d="M183.7 827.00h7.11v1.00h-7.11z" fill="#44a6df"/><path d="M183.7 828.00h7.11v1.00h-7.11z" fill="#44a9da"/><path d="M183.7 829.00h7.11v1.00h-7.11z" fill="#45acd5"/><path d="M183.7 830.00h7.11v1.00h-7.11z" fill="#45afd0"/><path d="M183.7 831.00h7.11v1.00h-7.11z" fill="#46b2ca"/><path d="M183.7 832.00h7.11v1.00h-7.11z" fill="#46b5c5"/><path d="M183.7 833.00h7.11v1.00h-7.11z" fill="#47b7c0"/><path d="M183.7 834.00h7.11v1.00h-7.11z" fill="#47baba"/><path d="M183.7 835.00h7.11v1.00h-7.11z" fill="#48bdb5"/><path d="M183.7 836.00h7.11v0.49h-7.11z" fill="#48bfb1"/><path d="M183.7 843.06h7.11v0.94h-7.11z" fill="#4ac0ad"/><path d="M183.7 844.00h7.11v1.00h-7.11z" fill="#4dc1a7"/><path d="M183.7 845.00h7.11v1.00h-7.11z" fill="#50c1a1"/><path d="M183.7 846.00h7.11v1.00h-7.11z" fill="#54c19b"/><path d="M183.7 847.00h7.11v1.00h-7.11z" fill="#57c295"/><path d="M183.7 848.00h7.11v1.00h-7.11z" fill="#5bc28f"/><path d="M183.7 849.00h7.11v1.00h-7.11z" fill="#5ec389"/><path d="M183.7 850.00h7.11v1.00h-7.11z" fill="#62c383"/><path d="M183.7 851.00h7.11v1.00h-7.11z" fill="#65c37d"/><path d="M183.7 852.00h7.11v1.71h-7.11z" fill="#68c477"/><path d="M183.7 852.91h7.11v0.09h-7.11z" fill="#6ac474"/><path d="M183.7 853.00h7.11v1.00h-7.11z" fill="#6fc56f"/><path d="M183.7 854.00h7.11v1.00h-7.11z" fill="#79c665"/><path d="M183.7 855.00h7.11v1.00h-7.11z" fill="#82c75c"/><path d="M183.7 856.00h7.11v1.00h-7.11z" fill="#8bc853"/><path d="M183.7 857.00h7.11v1.00h-7.11z" fill="#96c74a"/><path d="M183.7 858.00h7.11v1.00h-7.11z" fill="#a1c542"/><path d="M183.7 859.00h7.11v1.00h-7.11z" fill="#acc43a"/><path d="M183.7 860.00h7.11v1.00h-7.11z" fill="#b7c234"/><path d="M183.7 861.00h7.11v1.47h-7.11z" fill="#bfc032"/><path d="M183.7 861.67h7.11v0.33h-7.11z" fill="#e0b52e"/><path d="M183.7 862.00h7.11v1.00h-7.11z" fill="#e9b12e"/><path d="M183.7 863.00h7.11v1.00h-7.11z" fill="#f3b12e"/><path d="M183.7 864.00h7.11v1.00h-7.11z" fill="#f5bb2f"/><path d="M183.7 865.00h7.11v1.00h-7.11z" fill="#f7c42f"/><path d="M183.7 866.00h7.11v0.85h-7.11z" fill="#f8c930"/><path d="M183.7 866.05h7.11v0.95h-7.11z" fill="#face30"/><path d="M183.7 867.00h7.11v1.00h-7.11z" fill="#f8d72d"/><path d="M183.7 868.00h7.11v1.00h-7.11z" fill="#f5df29"/><path d="M183.7 869.00h7.11v1.79h-7.11z" fill="#f2e826"/>
<path d="M183.7 869.99h7.11v11.82h-7.11z" fill="#f0ec24"/>
<path d="M190.8 763.14h7.11v2.19h-7.11z" fill="#63c380"/>
<path d="M190.8 771.46h7.11v0.88h-7.11zM190.8 876.56h7.11v0.88h-7.11z" fill="#a4c540"/>
<path d="M190.8 776.28h7.11v0.88h-7.11z" fill="#d8b82e"/>
<path d="M190.8 778.47h7.11v0.88h-7.11z" fill="#c2bf32"/>
<path d="M190.8 780.65h7.11v0.88h-7.11zM190.8 782.19h7.11v0.66h-7.11zM190.8 863.86h7.11v0.66h-7.11zM190.8 866.49h7.11v0.66h-7.11zM190.8 868.90h7.11v0.66h-7.11zM197.9 876.56h7.11v0.88h-7.11zM197.9 879.19h7.11v0.66h-7.11zM212.1 876.56h7.11v0.88h-7.11z" fill="#45abd6"/>
<path d="M190.8 792.70h7.11v1.09h-7.11z" fill="#94c74c"/>
<path d="M190.8 800.36h7.11v1.31h-7.11z" fill="#e8b22e"/>
<path d="M190.8 801.89h7.11v0.66h-7.11z" fill="#b4c334"/>
<path d="M190.8 805.84h7.11v0.66h-7.11zM254.8 797.73h7.11v0.66h-7.11z" fill="#59c292"/>
<path d="M190.8 808.68h7.11v0.66h-7.11zM190.8 814.59h7.11v0.66h-7.11zM205 797.73h7.11v0.66h-7.11zM226.4 797.73h7.11v0.66h-7.11z" fill="#46b3c8"/>
<path d="M190.8 811.97h7.11v0.66h-7.11z" fill="#5cc28c"/>
<path d="M190.8 878.75h7.11v0.66h-7.11zM197.9 797.30h7.11v1.09h-7.11zM247.7 808.02h7.11v0.88h-7.11z" fill="#44a6e0"/>
<path d="M212.1 797.30h7.11v1.09h-7.11z" fill="#78c666"/>
<path d="M190.8 881.90h7.11v0.10h-7.11z" fill="#443ba4"/><path d="M190.8 882.00h7.11v1.00h-7.11z" fill="#443ba4"/><path d="M190.8 883.00h7.11v1.00h-7.11z" fill="#443ba4"/><path d="M190.8 884.00h7.11v1.00h-7.11z" fill="#443ca5"/><path d="M190.8 885.00h7.11v1.00h-7.11z" fill="#443ca5"/><path d="M190.8 886.00h7.11v1.00h-7.11z" fill="#443da6"/><path d="M190.8 887.00h7.11v1.00h-7.11z" fill="#443da6"/><path d="M190.8 888.00h7.11v1.27h-7.11z" fill="#443ea7"/><path d="M190.8 888.47h7.11v0.53h-7.11z" fill="#443ea7"/><path d="M190.8 889.00h7.11v1.00h-7.11z" fill="#4540a9"/><path d="M190.8 890.00h7.11v1.00h-7.11z" fill="#4543ac"/><path d="M190.8 891.00h7.11v1.00h-7.11z" fill="#4645ae"/><path d="M190.8 892.00h7.11v1.00h-7.11z" fill="#4648b2"/><path d="M190.8 893.00h7.11v1.00h-7.11z" fill="#474cb5"/><path d="M190.8 894.00h7.11v1.00h-7.11z" fill="#474fb9"/><path d="M190.8 895.00h7.11v1.00h-7.11z" fill="#4752bc"/><path d="M190.8 896.00h7.11v1.00h-7.11z" fill="#4856bf"/><path d="M190.8 897.00h7.11v1.02h-7.11z" fill="#4858c2"/><path d="M190.8 897.22h7.11v0.78h-7.11z" fill="#485bc4"/><path d="M190.8 898.00h7.11v1.00h-7.11z" fill="#4962c8"/><path d="M190.8 899.00h7.11v1.00h-7.11z" fill="#4969cd"/><path d="M190.8 900.00h7.11v1.00h-7.11z" fill="#4a71d1"/><path d="M190.8 901.00h7.11v1.00h-7.11z" fill="#4a78d6"/><path d="M190.8 902.00h7.11v1.00h-7.11z" fill="#4983d8"/><path d="M190.8 903.00h7.11v1.00h-7.11z" fill="#478edb"/><path d="M190.8 904.00h7.11v1.69h-7.11z" fill="#4698dd"/><path d="M190.8 904.89h7.11v0.11h-7.11z" fill="#459dde"/><path d="M190.8 905.00h7.11v1.00h-7.11z" fill="#45a0df"/><path d="M190.8 906.00h7.11v1.00h-7.11z" fill="#44a6e0"/><path d="M190.8 907.00h7.11v1.00h-7.11z" fill="#44a9da"/><path d="M190.8 908.00h7.11v1.00h-7.11z" fill="#45acd4"/><path d="M190.8 909.00h7.11v1.00h-7.11z" fill="#45afcf"/><path d="M190.8 910.00h7.11v1.00h-7.11z" fill="#46b3c9"/><path d="M190.8 911.00h7.11v1.00h-7.11z" fill="#46b6c3"/><path d="M190.8 912.00h7.11v1.00h-7.11z" fill="#47b9bd"/><path d="M190.8 913.00h7.11v1.00h-7.11z" fill="#47bcb7"/><path d="M190.8 914.00h7.11v1.54h-7.11z" fill="#48bfb2"/><path d="M190.8 914.74h7.11v0.26h-7.11z" fill="#48c0af"/><path d="M190.8 915.00h7.11v1.00h-7.11z" fill="#4ac0ac"/><path d="M190.8 916.00h7.11v1.00h-7.11z" fill="#4dc1a6"/><path d="M190.8 917.00h7.11v1.00h-7.11z" fill="#51c1a1"/><path d="M190.8 918.00h7.11v1.00h-7.11z" fill="#54c19b"/><path d="M190.8 919.00h7.11v1.00h-7.11z" fill="#57c296"/><path d="M190.8 920.00h7.11v1.00h-7.11z" fill="#5ac290"/><path d="M190.8 921.00h7.11v1.00h-7.11z" fill="#5dc28b"/><path d="M190.8 922.00h7.11v1.00h-7.11z" fill="#60c385"/><path d="M190.8 923.00h7.11v1.00h-7.11z" fill="#63c380"/><path d="M190.8 924.00h7.11v1.00h-7.11z" fill="#66c47b"/><path d="M190.8 925.00h7.11v1.49h-7.11z" fill="#69c476"/><path d="M190.8 925.69h7.11v0.31h-7.11z" fill="#6cc472"/><path d="M190.8 926.00h7.11v1.00h-7.11z" fill="#72c56c"/><path d="M190.8 927.00h7.11v1.00h-7.11z" fill="#7cc662"/><path d="M190.8 928.00h7.11v1.00h-7.11z" fill="#85c759"/><path d="M190.8 929.00h7.11v1.00h-7.11z" fill="#8fc850"/><path d="M190.8 930.00h7.11v1.00h-7.11z" fill="#9bc647"/><path d="M190.8 931.00h7.11v1.00h-7.11z" fill="#a6c53e"/><path d="M190.8 932.00h7.11v1.00h-7.11z" fill="#b1c336"/><path d="M190.8 933.00h7.11v1.00h-7.11z" fill="#bcc133"/><path d="M190.8 934.00h7.11v1.00h-7.11z" fill="#c6bd31"/><path d="M190.8 935.00h7.11v1.34h-7.11z" fill="#cebb30"/><path d="M190.8 935.54h7.11v0.46h-7.11z" fill="#e0b52e"/><path d="M190.8 936.00h7.11v1.00h-7.11z" fill="#ebb12e"/><path d="M190.8 937.00h7.11v1.00h-7.11z" fill="#f3b32e"/><path d="M190.8 938.00h7.11v1.00h-7.11z" fill="#f5bc2f"/><path d="M190.8 939.00h7.11v1.72h-7.11z" fill="#f7c52f"/><path d="M190.8 939.92h7.11v0.08h-7.11z" fill="#f9ca30"/><path d="M190.8 940.00h7.11v1.00h-7.11z" fill="#fad030"/><path d="M190.8 941.00h7.11v1.00h-7.11z" fill="#f7d92c"/><path d="M190.8 942.00h7.11v1.00h-7.11z" fill="#f4e228"/><path d="M190.8 943.00h7.11v1.44h-7.11z" fill="#f1e925"/>
<path d="M190.8 943.64h7.11v4.38h-7.11z" fill="#f0ec24"/>
<path d="M190.8 961.82h7.11v0.66h-7.11zM190.8 966.20h7.11v0.66h-7.11zM197.9 950.87h7.11v2.19h-7.11z" fill="#44a6e0"/>
<path d="M197.9 876.42h7.11v1.09h-7.11zM212.1 876.42h7.11v1.09h-7.11zM212.1 949.34h7.11v1.31h-7.11z" fill="#45abd6"/>
<path d="M197.9 947.58h7.11v3.28h-7.11z" fill="#4a72d2"/>
<path d="M197.9 958.10h7.11v1.75h-7.11z" fill="#f5de2a"/>
<path d="M197.9 964.66h7.11v1.53h-7.11z" fill="#d8b82e"/>
<path d="M197.9 968.39h7.11v1.09h-7.11zM205 968.39h7.11v1.09h-7.11z" fill="#b4c334"/>
<path d="M205 948.24h7.11v1.09h-7.11z" fill="#478fdb"/>
<path d="M205 958.53h7.11v1.75h-7.11z" fill="#443fa8"/>
<path d="M205 964.66h7.11v1.53h-7.11z" fill="#e8b22e"/>
<path d="M212.1 968.39h7.11v1.09h-7.11z" fill="#94c74c"/>
<path d="M219.2 968.39h7.11v1.09h-7.11zM226.4 968.39h7.11v1.09h-7.11zM233.5 958.97h7.11v0.66h-7.11z" fill="#78c666"/>
<path d="M233.5 968.39h7.11v1.09h-7.11z" fill="#6ac474"/>

<path d="M41.6 881.90h7.11v1.31h-7.11zM84.2 876.64h7.11v0.88h-7.11zM112.7 935.54h7.11v1.53h-7.11z" fill="#78c666"/>
<path d="M41.6 884.52h7.11v1.75h-7.11zM112.7 941.02h7.11v1.31h-7.11z" fill="#b4c334"/>
<path d="M41.6 887.37h7.11v1.53h-7.11z" fill="#7ec660"/>
<path d="M41.6 890.22h7.11v1.53h-7.11z" fill="#6ac474"/>
<path d="M41.6 896.13h7.11v0.66h-7.11z" fill="#63c380"/>
<path d="M41.6 902.70h7.11v0.66h-7.11zM41.6 955.25h7.11v0.66h-7.11zM112.7 924.59h7.11v0.66h-7.11z" fill="#5cc28c"/>
<path d="M41.6 923.50h7.11v1.31h-7.11zM112.7 891.75h7.11v0.66h-7.11zM112.7 905.54h7.11v0.66h-7.11z" fill="#45abd6"/>
<path d="M41.6 926.78h7.11v0.88h-7.11zM119.8 958.97h7.11v0.66h-7.11zM126.9 877.95h7.11v0.66h-7.11z" fill="#46b0cd"/>
<path d="M41.6 934.01h7.11v1.31h-7.11z" fill="#459dde"/>
<path d="M41.6 936.64h7.11v1.31h-7.11z" fill="#44a6e0"/>
<path d="M41.6 938.83h7.11v2.19h-7.11z" fill="#4981d8"/>
<path d="M41.6 942.11h7.11v2.19h-7.11zM84.2 879.05h7.11v0.66h-7.11zM98.4 879.05h7.11v0.66h-7.11zM112.7 938.39h7.11v1.75h-7.11zM141.1 945.83h7.11v0.66h-7.11z" fill="#94c74c"/>
<path d="M41.6 946.05h7.11v2.19h-7.11z" fill="#4a72d2"/>
<path d="M112.7 881.90h7.11v1.09h-7.11z" fill="#4968cc"/>
<path d="M112.7 886.28h7.11v3.28h-7.11z" fill="#4694dc"/>
<path d="M112.7 943.21h7.11v1.75h-7.11z" fill="#a4c540"/>
<path d="M112.7 946.49h7.11v1.53h-7.11z" fill="#d1ba2f"/>
<line x1="112.7" y1="761.3" x2="112.7" y2="972.2" stroke="#222" stroke-width="0.8" stroke-dasharray="3.2 2.4"/>
<line x1="183.7" y1="761.3" x2="183.7" y2="972.2" stroke="#222" stroke-width="0.8" stroke-dasharray="3.2 2.4"/>
<rect x="41.6" y="761.3" width="220.3" height="210.9" fill="none" stroke="#666" stroke-width="0.6"/>
<rect x="267.9" y="761.3" width="12.9" height="211.8" fill="url(#cbC)" stroke="#4a4a4a" stroke-width="0.6"/>
<path d="M280.7 782.5h-1.8M280.7 803.7h-1.8M280.7 824.8h-1.8M280.7 846h-1.8M280.7 867.2h-1.8M280.7 888.4h-1.8M280.7 909.6h-1.8M280.7 930.7h-1.8M280.7 951.9h-1.8" stroke="#333" stroke-width="0.6"/>
<text x="284.3" y="765" font-size="8.3" text-anchor="start" fill="#1a1a1a" stroke-width="0.18">0.1</text>
<text x="284.3" y="870" font-size="8.3" text-anchor="start" fill="#1a1a1a" stroke-width="0.18">0</text>
<text x="284.3" y="975.3" font-size="8.3" text-anchor="start" fill="#1a1a1a" stroke-width="0.18">-0.1</text>
<text x="38.2" y="763.9" font-size="8.3" text-anchor="end" fill="#1a1a1a" stroke-width="0.18">1</text>
<text x="37.8" y="974.2" font-size="8.3" text-anchor="end" fill="#1a1a1a" stroke-width="0.18">1440</text>
<text x="28.7" y="861" font-size="8.3" text-anchor="middle" fill="#1a1a1a" transform="rotate(-90 28.7 861)" stroke-width="0.18">#Hidden layer neurons</text>
<text x="44.4" y="981.2" font-size="8.3" text-anchor="middle" fill="#1a1a1a" stroke-width="0.18">1</text>
<text x="74.4" y="981.2" font-size="8.3" text-anchor="middle" fill="#1a1a1a" stroke-width="0.18">5</text>
<text x="116.7" y="981.2" font-size="8.3" text-anchor="middle" fill="#1a1a1a" stroke-width="0.18">1</text>
<text x="146.3" y="981.2" font-size="8.3" text-anchor="middle" fill="#1a1a1a" stroke-width="0.18">5</text>
<text x="186.8" y="981.2" font-size="8.3" text-anchor="middle" fill="#1a1a1a" stroke-width="0.18">0</text>
<text x="224.5" y="981.2" font-size="8.3" text-anchor="middle" fill="#1a1a1a" stroke-width="0.18">5</text>
<text x="79.3" y="990.8" font-size="8.3" text-anchor="middle" fill="#1a1a1a" stroke-width="0.18">Right trials back</text>
<text x="150.6" y="990.8" font-size="8.3" text-anchor="middle" fill="#1a1a1a" stroke-width="0.18">Left trials back</text>
<text x="202.6" y="990.8" font-size="8.3" text-anchor="start" fill="#1a1a1a" stroke-width="0.18">Current and</text>
<text x="202.6" y="1000.6" font-size="8.3" text-anchor="start" fill="#1a1a1a" stroke-width="0.18">past choices</text>
</svg>
</body></html>
